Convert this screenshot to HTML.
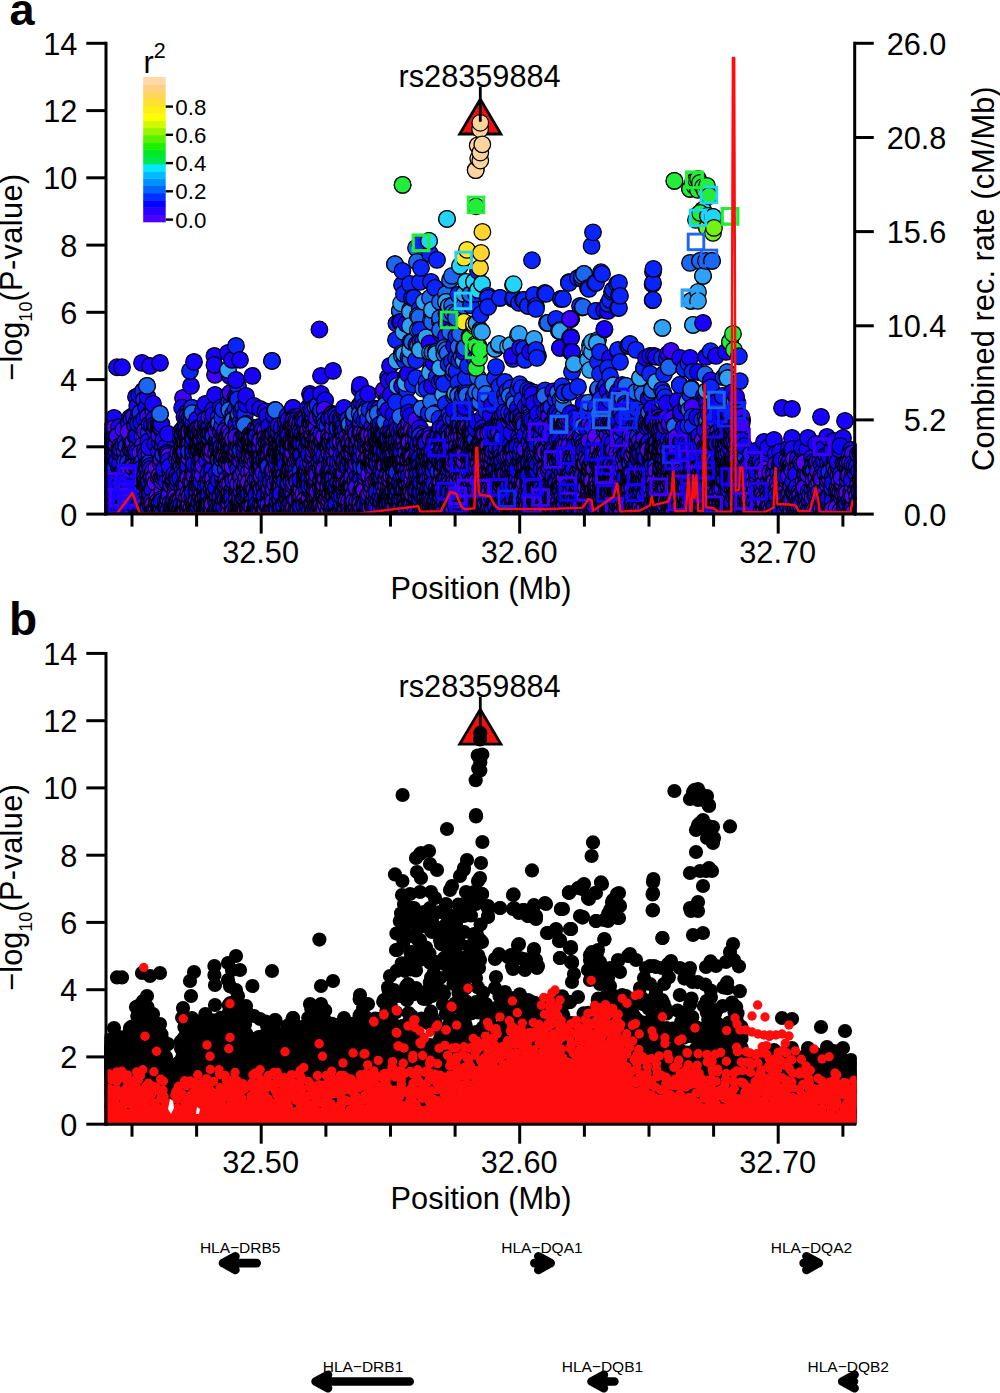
<!DOCTYPE html>
<html><head><meta charset="utf-8"><title>Regional association plot</title>
<style>
html,body{margin:0;padding:0;background:#fff;}
svg{display:block}
text{font-family:"Liberation Sans",sans-serif;fill:#000}
</style></head><body>
<svg width="1000" height="1393" viewBox="0 0 1000 1393">
<rect width="1000" height="1393" fill="#fff"/>
<defs>
<clipPath id="clipA"><rect x="104.5" y="20" width="752" height="494.1"/></clipPath>
<clipPath id="clipB"><rect x="104.5" y="630" width="752" height="494.2"/></clipPath>
</defs>

<defs><marker id="cp" markerUnits="userSpaceOnUse" markerWidth="20" markerHeight="20" refX="10" refY="10"><circle cx="10" cy="10" r="8.3" fill="#fdd49e" stroke="#000" stroke-width="1.25"/></marker>
<marker id="sp" markerUnits="userSpaceOnUse" markerWidth="22" markerHeight="22" refX="11" refY="11"><rect x="3.2" y="3.2" width="15.6" height="15.6" fill="none" stroke="#fdd49e" stroke-width="2.9"/></marker>
<marker id="co" markerUnits="userSpaceOnUse" markerWidth="20" markerHeight="20" refX="10" refY="10"><circle cx="10" cy="10" r="8.3" fill="#ffd52e" stroke="#000" stroke-width="1.25"/></marker>
<marker id="so" markerUnits="userSpaceOnUse" markerWidth="22" markerHeight="22" refX="11" refY="11"><rect x="3.2" y="3.2" width="15.6" height="15.6" fill="none" stroke="#ffd52e" stroke-width="2.9"/></marker>
<marker id="cy" markerUnits="userSpaceOnUse" markerWidth="20" markerHeight="20" refX="10" refY="10"><circle cx="10" cy="10" r="8.3" fill="#ffe620" stroke="#000" stroke-width="1.25"/></marker>
<marker id="sy" markerUnits="userSpaceOnUse" markerWidth="22" markerHeight="22" refX="11" refY="11"><rect x="3.2" y="3.2" width="15.6" height="15.6" fill="none" stroke="#ffe620" stroke-width="2.9"/></marker>
<marker id="cg" markerUnits="userSpaceOnUse" markerWidth="20" markerHeight="20" refX="10" refY="10"><circle cx="10" cy="10" r="8.3" fill="#22ee3a" stroke="#000" stroke-width="1.25"/></marker>
<marker id="sg" markerUnits="userSpaceOnUse" markerWidth="22" markerHeight="22" refX="11" refY="11"><rect x="3.2" y="3.2" width="15.6" height="15.6" fill="none" stroke="#22ee3a" stroke-width="2.9"/></marker>
<marker id="cG" markerUnits="userSpaceOnUse" markerWidth="20" markerHeight="20" refX="10" refY="10"><circle cx="10" cy="10" r="8.3" fill="#74f216" stroke="#000" stroke-width="1.25"/></marker>
<marker id="sG" markerUnits="userSpaceOnUse" markerWidth="22" markerHeight="22" refX="11" refY="11"><rect x="3.2" y="3.2" width="15.6" height="15.6" fill="none" stroke="#74f216" stroke-width="2.9"/></marker>
<marker id="cc" markerUnits="userSpaceOnUse" markerWidth="20" markerHeight="20" refX="10" refY="10"><circle cx="10" cy="10" r="8.3" fill="#22d4fa" stroke="#000" stroke-width="1.25"/></marker>
<marker id="sc" markerUnits="userSpaceOnUse" markerWidth="22" markerHeight="22" refX="11" refY="11"><rect x="3.2" y="3.2" width="15.6" height="15.6" fill="none" stroke="#22d4fa" stroke-width="2.9"/></marker>
<marker id="cl" markerUnits="userSpaceOnUse" markerWidth="20" markerHeight="20" refX="10" refY="10"><circle cx="10" cy="10" r="8.3" fill="#2fa2f6" stroke="#000" stroke-width="1.25"/></marker>
<marker id="sl" markerUnits="userSpaceOnUse" markerWidth="22" markerHeight="22" refX="11" refY="11"><rect x="3.2" y="3.2" width="15.6" height="15.6" fill="none" stroke="#2fa2f6" stroke-width="2.9"/></marker>
<marker id="cm" markerUnits="userSpaceOnUse" markerWidth="20" markerHeight="20" refX="10" refY="10"><circle cx="10" cy="10" r="8.3" fill="#1c66f2" stroke="#000" stroke-width="1.25"/></marker>
<marker id="sm" markerUnits="userSpaceOnUse" markerWidth="22" markerHeight="22" refX="11" refY="11"><rect x="3.2" y="3.2" width="15.6" height="15.6" fill="none" stroke="#1c66f2" stroke-width="2.9"/></marker>
<marker id="cb" markerUnits="userSpaceOnUse" markerWidth="20" markerHeight="20" refX="10" refY="10"><circle cx="10" cy="10" r="8.3" fill="#0a24ff" stroke="#000" stroke-width="1.25"/></marker>
<marker id="sb" markerUnits="userSpaceOnUse" markerWidth="22" markerHeight="22" refX="11" refY="11"><rect x="3.2" y="3.2" width="15.6" height="15.6" fill="none" stroke="#0a24ff" stroke-width="2.9"/></marker>
<marker id="cd" markerUnits="userSpaceOnUse" markerWidth="20" markerHeight="20" refX="10" refY="10"><circle cx="10" cy="10" r="8.3" fill="#1800ff" stroke="#000" stroke-width="1.25"/></marker>
<marker id="sd" markerUnits="userSpaceOnUse" markerWidth="22" markerHeight="22" refX="11" refY="11"><rect x="3.2" y="3.2" width="15.6" height="15.6" fill="none" stroke="#1800ff" stroke-width="2.9"/></marker>
<marker id="cv" markerUnits="userSpaceOnUse" markerWidth="20" markerHeight="20" refX="10" refY="10"><circle cx="10" cy="10" r="8.3" fill="#3c00ff" stroke="#000" stroke-width="1.25"/></marker>
<marker id="sv" markerUnits="userSpaceOnUse" markerWidth="22" markerHeight="22" refX="11" refY="11"><rect x="3.2" y="3.2" width="15.6" height="15.6" fill="none" stroke="#3c00ff" stroke-width="2.9"/></marker>
<marker id="cu" markerUnits="userSpaceOnUse" markerWidth="20" markerHeight="20" refX="10" refY="10"><circle cx="10" cy="10" r="8.3" fill="#5200ff" stroke="#000" stroke-width="1.25"/></marker>
<marker id="su" markerUnits="userSpaceOnUse" markerWidth="22" markerHeight="22" refX="11" refY="11"><rect x="3.2" y="3.2" width="15.6" height="15.6" fill="none" stroke="#5200ff" stroke-width="2.9"/></marker>
<marker id="ck" markerUnits="userSpaceOnUse" markerWidth="20" markerHeight="20" refX="10" refY="10"><circle cx="10" cy="10" r="8.3" fill="#0d00ff" stroke="#000" stroke-width="1.25"/></marker>
<marker id="sk" markerUnits="userSpaceOnUse" markerWidth="22" markerHeight="22" refX="11" refY="11"><rect x="3.2" y="3.2" width="15.6" height="15.6" fill="none" stroke="#0d00ff" stroke-width="2.9"/></marker>
<marker id="kb" markerUnits="userSpaceOnUse" markerWidth="16" markerHeight="16" refX="8" refY="8"><circle cx="8" cy="8" r="7.1" fill="#000"/></marker>
<marker id="kr" markerUnits="userSpaceOnUse" markerWidth="12" markerHeight="12" refX="6" refY="6"><circle cx="6" cy="6" r="4.7" fill="#ff0d0d"/></marker>
<style>.cp{marker:url(#cp)}.sp{marker:url(#sp)}.co{marker:url(#co)}.so{marker:url(#so)}.cy{marker:url(#cy)}.sy{marker:url(#sy)}.cg{marker:url(#cg)}.sg{marker:url(#sg)}.cG{marker:url(#cG)}.sG{marker:url(#sG)}.cc{marker:url(#cc)}.sc{marker:url(#sc)}.cl{marker:url(#cl)}.sl{marker:url(#sl)}.cm{marker:url(#cm)}.sm{marker:url(#sm)}.cb{marker:url(#cb)}.sb{marker:url(#sb)}.cd{marker:url(#cd)}.sd{marker:url(#sd)}.cv{marker:url(#cv)}.sv{marker:url(#sv)}.cu{marker:url(#cu)}.su{marker:url(#su)}.ck{marker:url(#ck)}.sk{marker:url(#sk)}.kb{marker:url(#kb)}.kr{marker:url(#kr)}</style></defs>
<g clip-path="url(#clipA)" id="pa">
<path d="M480.3 99.3L500.9 134.0H459.7Z" fill="#f01010" stroke="#000" stroke-width="2.8" stroke-linejoin="miter"/>
<g fill="none">
<path class="cd" d="M99.6 443.4h0"/>
<path class="ck" d="M101.7 488.8 102.5 492.3"/>
<path class="cv" d="M101 485.7 101.7 501 101.9 464.3 102 465.3 102.1 499.2 102.4 447.9 102.5 486.1 103.4 482.5 103.4 480.6 103.7 451.2 103.7 506.2 103.9 474.1"/>
<path class="cd" d="M101.6 504.1 102.5 480 103.3 509.4 103.6 455.2"/>
<path class="cu" d="M101.1 508 102.4 504.5 102.4 494.3 102.7 441 103.3 507.9 103.7 495.7"/>
<path class="ck" d="M105 441.3 105.3 453.9 105.4 503.1 105.6 514 105.7 510.4 106.5 501.9 107.8 480.2"/>
<path class="cu" d="M104.7 510.1 105.7 490.6 106.4 513.4 106.7 499.9"/>
<path class="cb" d="M104.7 450.1h0"/>
<path class="cd" d="M104.9 472.3 105.6 431.4 105.7 462.4 105.9 479 107.5 501.8 107.5 443.5 107.7 488.7"/>
<path class="cv" d="M104.2 509.6 104.7 474.9 104.8 508.3 105.8 489.6 106.7 505.4 106.8 513.9 107.4 471.7"/>
<path class="cb" d="M109.2 445.4 110.2 434.8"/>
<path class="cv" d="M108.5 504.9 108.7 457.8 109.2 500.2 109.2 450.1 109.8 477.3 109.9 479.8 110.1 506.8 110.9 511.4 110.9 484.3 111.2 491 111.5 466.3 112 449.1"/>
<path class="cd" d="M108 493.4 108.4 492.6 108.8 440.4 109.2 461.2 109.4 456.8 109.5 467.6 109.9 480.6 110.9 429.3 111.1 508.3 111.2 501.8 111.8 444.4"/>
<path class="cu" d="M108 512.9 108.1 508.8 109.4 509.1 110.3 494.2 110.6 508.9 110.8 443.9 111 497.1 111.2 501.7 111.7 502.5 111.7 481.1 111.9 510.2"/>
<path class="ck" d="M108.3 496.7 109.1 486.6 110.1 445.6 111.4 443.8 111.9 503.1"/>
<path class="cv" d="M112.1 505.7 112.1 503.8 112.2 494.6 112.5 448.8 112.9 449.3 113 441.4 113.1 437.5 113.4 510.6 113.9 484.3 114.9 450.2 115.7 445.2"/>
<path class="cd" d="M112.1 457.6 112.7 439.8 113.7 487.4 113.9 510.8 114 417.9 114.1 468.4 114.1 505.2 114.2 505.5 114.3 443.7 114.9 443.2 115.2 509.4"/>
<path class="cu" d="M113.2 505.8 113.5 428.4 113.7 439 114.1 496.1 114.2 482.3 114.6 510.4 115.2 492.2 115.5 462.2 115.8 474.3"/>
<path class="cb" d="M112.8 469.6h0"/>
<path class="ck" d="M112.3 439.2 113.1 493.5 113.1 451.8 115.1 487"/>
<path class="cd" d="M116.6 511 117 367.3 117.2 444.7 118.2 477.7 118.2 512.6 118.3 502.3 118.4 505.9 118.7 447.9 118.9 485.6 119.1 427"/>
<path class="cu" d="M116.1 490.2 116.4 449.1 117.2 507.8 117.4 509.4 119 498.9 119.2 486.7 119.3 459 119.7 503.5 119.8 502.6"/>
<path class="cb" d="M118.7 466.6h0"/>
<path class="ck" d="M116.1 511.4 116.4 451 116.7 437.6 116.8 461.2 116.8 504.2 116.9 444.9 119.2 439.3"/>
<path class="cv" d="M116.2 444.9 116.3 479.9 117.2 436.1 117.3 496.8 117.5 506.1 117.5 479.9 117.5 501.5 118.7 502.4 119.4 448.2 119.9 510"/>
<path class="cu" d="M120.2 445.9 121.2 448.1 121.3 483.3 121.6 474.2 122.3 500.3 122.6 506.1 123.9 510.4"/>
<path class="cb" d="M122.7 467.2h0"/>
<path class="cv" d="M120.1 455.1 120.4 491.4 122.3 501.3 122.8 451 122.9 495.4 123.4 429.7 123.4 504.4 123.6 503.4 123.6 456.1 123.8 501"/>
<path class="cd" d="M120.1 463.8 120.6 473.4 120.6 487.2 120.6 452.7 120.9 449.1 121.5 493.5 121.5 512.2 121.9 495.5 122 367.3 122.2 472.4 123.1 445.3 124 492.9"/>
<path class="ck" d="M120.3 483.1 121.4 513.8 122.9 508.8 123.4 487.5"/>
<path class="ck" d="M124.1 513.9 125.3 452.2 126.2 504.5"/>
<path class="cu" d="M124.1 472.3 124.2 506.6 124.3 498.7 124.3 475 125.4 513.4 125.8 480.7 126.5 513.3 126.8 512.2 127.2 506.7 127.3 452.4 127.8 504.4 128 463.4"/>
<path class="cd" d="M125.4 441.7 125.5 455.1 126.1 502.9 126.2 481.4 126.5 451.5 126.8 512.8 126.9 456.6 127.2 490.7 127.8 497.5 127.9 509.7 128 468.8"/>
<path class="cv" d="M124.5 508.3 124.7 452.1 125 489 125.2 460.9 126.3 463.9 126.5 478.7 126.8 507.7 126.8 503.1 127.2 468.8"/>
<path class="cb" d="M125 461.9 126.5 446.4"/>
<path class="cd" d="M128 494.2 128.7 453.7 129.4 505.7 130.7 503.5 130.9 489.1 130.9 465.3 131.2 478.1 131.3 478.4 131.3 467.7 131.5 425 131.9 455.6 131.9 416.5"/>
<path class="cb" d="M128 462.6 130 417.9 130.3 438"/>
<path class="ck" d="M128.1 511.8 128.7 423.4 130.9 481.5 131.3 419.2 132 502.7"/>
<path class="cv" d="M128.4 470.8 128.5 469.4 129.3 502.6 129.4 500.5 129.6 493.3 129.9 482 130.5 467.1 131.1 443.9 131.4 507.9 131.4 510.2 131.6 512.5 131.7 488.8 131.8 487.8"/>
<path class="cu" d="M128.3 497.7 128.7 431.7 129.2 486.9 129.7 470.7 130.4 448.5 131.4 507 131.9 448.4"/>
<path class="ck" d="M132.6 508.5 132.6 444.5 132.8 467.4 134.3 495.3 134.5 503.9 134.6 509.5 134.8 501.3 135.1 453.2 135.3 469.8"/>
<path class="cd" d="M132.4 478.2 132.8 451.8 133.4 466.5 133.9 496.9 133.9 507.9 133.9 460 134.1 472.9 134.6 463.6 135 425.4 135 450.8 135.9 452.1"/>
<path class="cu" d="M132.4 483.8 132.8 474.8 132.8 465.4 133.1 502.5 133.2 441.9 133.7 466.9 134.5 466.7 134.6 490.6 135.1 513 135.5 453.2 135.7 450.1"/>
<path class="cb" d="M135.7 436.4h0"/>
<path class="cv" d="M132.5 467 132.5 511.9 132.9 503.6 133.9 416.7 134.3 489.3 134.8 481.3 135.1 487.2"/>
<path class="cd" d="M136 396.9 136.2 480.5 136.3 478.7 136.7 467 137.3 406 137.9 497.5 138 444.1 138.4 490.6 138.5 508.9 138.8 512.3 138.8 479.2 138.9 481.7 138.9 498.2 139.4 486.4 139.4 459.9 139.6 473.7 139.8 475.5 140 487.3"/>
<path class="cu" d="M136.1 497.5 137.4 513.1 137.4 483.7 137.8 512.9 137.8 476.2 137.9 504 139.1 458.1 139.1 507.1 139.3 464.3 139.4 481.5 139.4 499.8"/>
<path class="cv" d="M136.7 504.9 138 489.2 138.6 464.4 138.8 425.9 139.8 482.8 140 502.5"/>
<path class="cb" d="M138.8 415.5h0"/>
<path class="ck" d="M136.8 508.6 136.9 420.9 136.9 452.2 136.9 435.8 137.9 423.6 138.2 468.3 139.1 500.1 139.2 395.3 139.8 512.9"/>
<path class="cd" d="M141.3 483.1 141.5 411.7 141.5 490.3 141.8 466.4 142 498.3 142 362.9 142.5 453.5 143.1 511.5"/>
<path class="cv" d="M140.1 489.5 140.3 470.2 140.5 503.1 140.9 509.9 141.3 501.7 141.5 483.6 141.6 464.6 141.8 491 141.9 508.9 142 506.1 142.5 436.6 142.6 499.8 142.8 445.4 143.1 472.5 143.4 498.6"/>
<path class="cu" d="M140.5 452.9 140.6 472.7 141.3 511.3 141.4 472.1 142.9 468.5 143.3 475.7"/>
<path class="cb" d="M140.4 413 142.7 424.9 142.9 460.7 143 390.9"/>
<path class="ck" d="M141.3 422 141.6 506.3 141.8 468.2"/>
<path class="cb" d="M144 399.9h0"/>
<path class="cu" d="M144.5 500.5 144.5 494.9 144.6 484.5 144.7 490 145.2 499.3 146.2 504 146.8 473.8 147.9 474.5 147.9 511.5"/>
<path class="ck" d="M144.3 418.7 145.2 479.6 145.7 477.9 145.8 486 146.2 407.2 146.8 456.5 146.8 483.5"/>
<path class="cd" d="M144.2 499.5 144.6 512 144.8 450.5 145 482.3 145.8 454.4 146 477.5 146.1 470 146.4 507.7 147.1 504.2 147.3 511.8 147.5 396.8 147.9 494.1"/>
<path class="cv" d="M144 508.2 144 504.3 144.7 476.5 144.9 431.2 145.2 509.7 145.5 512.6 145.6 480.2 146 510.3 146.6 483.3 147 469.4 147.2 464.5 147.3 466.8 147.4 480.8 147.5 483 147.8 510 147.8 514"/>
<path class="cm" d="M147 385.9h0"/>
<path class="ck" d="M148.1 478.8 148.1 462.8 150 413.8 150.5 474.7 150.5 477.4 150.7 482.3 151.7 463.8"/>
<path class="cu" d="M148.1 487.7 148.2 506.7 149.5 453.6 149.7 428.4 150 479.8 150.1 494.5 151.3 503.7"/>
<path class="cv" d="M148.1 416.6 149 499.6 149.2 500.9 149.3 483.8 149.8 502 149.9 501.9 150.3 472.6 150.8 471.1 151 488 151 470.7 151.2 445 151.4 472 151.4 506.9 151.7 483.5 151.7 502.3 151.7 494.3"/>
<path class="cb" d="M148.8 432.8 149.8 462.2"/>
<path class="cd" d="M148.3 483.7 148.4 441.2 148.5 476.1 148.5 508.8 149 481 149.2 447.2 149.5 424.1 149.9 492 150 365.9 150.2 465.9 150.5 493.4 150.7 468.9 150.8 505.7 151.2 478.3 151.6 475.9 151.9 424.7"/>
<path class="cb" d="M153.3 410.9 155.7 423.5"/>
<path class="cd" d="M152.4 490.2 152.5 513.3 152.9 511.4 153 403.9 153.5 501.3 154.4 418.6 154.6 431 155.4 471.9"/>
<path class="cv" d="M152 501.8 152.5 506.3 152.8 471.5 154.7 506.5 154.8 479.1 155.7 509.2 155.9 475"/>
<path class="ck" d="M153.8 476.8 154.7 425 154.8 479.7 155.1 481 155.4 443.9"/>
<path class="cu" d="M152.9 504.5 154.1 477.9 154.6 509.4 155.5 482.9"/>
<path class="cd" d="M158.3 508.3 158.7 477.1 158.9 499.5 158.9 451.9 159.4 501.9 159.8 442.4"/>
<path class="cv" d="M156.3 426.8 156.4 507.3 157.1 507.8 158.4 429.4 159.2 434.9 159.4 426.1 159.9 469.9"/>
<path class="cu" d="M156.3 510.9 156.5 467.8 156.7 501.6 157.3 496.6 157.5 514.1 158.1 501 158.5 477 159.7 475.3 159.8 423 159.8 511.5"/>
<path class="ck" d="M158.7 425.8 159.3 503.2 159.8 512.8"/>
<path class="cu" d="M160 425 160.1 422.9 160.2 513.5 160.7 426.1 161.3 512.6 161.5 500.3 161.9 509.4 162.4 491.3 163.6 499.4 163.8 507.7"/>
<path class="cv" d="M160.4 462.8 160.6 427.7 161.1 478.2 161.3 459.4 161.5 507 162 430.6 162 481.5 162.1 509 162.1 428.8 162.9 477.3 163.1 509.8"/>
<path class="cd" d="M160 362.9 160.7 508.1 160.9 427.2 161.3 510.5 161.4 424.1 162.4 445.4 162.6 513.6 163.4 440.3"/>
<path class="cb" d="M163.2 454.5h0"/>
<path class="ck" d="M161.4 499.2 161.6 501.4"/>
<path class="cm" d="M160 413.9h0"/>
<path class="cv" d="M165.9 448.9 166.7 502 166.8 513.7 167.9 455.2"/>
<path class="ck" d="M164.4 475.2 165.1 466.5 165.3 475.9 165.5 506.6 166.3 505.5 167.7 506.1"/>
<path class="cd" d="M164.2 469.5 165.7 501.8 166 446.9 166.7 481.8 166.9 452.7 167.5 454.3 167.7 499.7"/>
<path class="cu" d="M166.6 505.3 167.3 507.3"/>
<path class="cu" d="M168.1 499.2 168.6 456.2 169.5 513.6 170.3 513.3 170.7 487.5"/>
<path class="cb" d="M170.2 470.7h0"/>
<path class="cv" d="M169.2 506.7 169.3 495.3 170.4 479.8 170.6 502.7 171.1 485.3 171.6 513.1"/>
<path class="cd" d="M168 433.9 168.2 511 168.6 460.9 169.7 466.6 171 513.4"/>
<path class="ck" d="M172.1 507.7h0"/>
<path class="cv" d="M173.2 481.6 173.5 514.1 174.3 501.2 174.7 502.2 174.7 501.6 175 510.2 175.1 505.8 175.2 493.4"/>
<path class="cu" d="M173.3 481.9 173.7 511.7 173.8 483.3"/>
<path class="cd" d="M172.9 505.9 173.2 502.6 173.3 479 173.4 480.8 173.5 478.6 174 500.3 174 474.6 174.4 498.8 175.2 513.9 175.3 507.9"/>
<path class="ck" d="M177.6 478h0"/>
<path class="cu" d="M176.1 509.7 176.1 496.8 177 508.8 177.5 500.5 177.9 503.3 178.4 454.4"/>
<path class="cv" d="M176.4 477.1 177 459.1 177.5 483 177.8 508.7 178 501.8 178.2 453 179.1 509.9 179.4 503"/>
<path class="cd" d="M177.1 509.1 177.4 475.2 177.7 508.6 178 479.6 179.1 510.5 179.6 460 180 510.3"/>
<path class="cb" d="M181.6 466.5h0"/>
<path class="cv" d="M180.8 478.6 180.9 431.5 181.1 438.7 181.4 453.2 181.7 507.7 181.9 481.3 182.2 447.6 182.4 451.9 182.8 480.9 183 397.9 183 477.5 183.1 491.9 183.4 495.1 183.7 499.3 183.8 449.1 183.8 456.3"/>
<path class="cu" d="M180.3 511 180.8 499.6 180.8 456.3 181.8 504.1 182 511.4 182.1 481.2 182.6 471.6 182.8 508.6 183.9 429.1"/>
<path class="cd" d="M181 508.4 181.2 478.6 181.4 450.7 182.1 480.8 182.1 407.7 182.1 487.6 182.5 448.6 182.6 512.8 182.7 433.1 182.9 437.9 182.9 452.3 183.2 513.1 183.3 494.5 183.3 428.6 183.3 456.9"/>
<path class="ck" d="M180.3 478.1 181.5 504.1 182.7 434.4 183 455.2 183.7 493.2 184 483.6"/>
<path class="cb" d="M186.6 413.1h0"/>
<path class="cd" d="M184 507.3 184.2 463.9 184.2 459.5 184.5 431.1 184.9 472.6 185.1 459.3 185.4 454.5 185.9 481.8 186.3 430.9 186.8 432.4 186.8 442 187.1 463.1 187.4 463.9 187.9 455.5"/>
<path class="ck" d="M184.1 451.4 184.4 416.8 185.7 425.2 186.2 428 187.6 432"/>
<path class="cu" d="M184.5 443.6 185.1 488.7 186.1 443.1 186.2 451.3 186.2 503.6 186.3 503.7 186.3 481.1 186.8 434.4 186.9 506.9 187.7 445 187.9 485.2"/>
<path class="cv" d="M184 495.3 184.3 441.9 184.4 510.3 185.1 451.6 185.2 502.5 185.4 510.5 185.6 503.7 185.7 442.6 186.6 484.7 186.8 497.4 187.1 416.8 187.5 507.3 187.5 442.4"/>
<path class="ck" d="M188.5 432.7 189.1 418.4 190.2 493.2 190.6 437.5 190.7 452.1 190.7 437.1 190.8 428.8 190.9 444.5 191.1 438.1"/>
<path class="cv" d="M188 472.8 188.2 504.7 188.2 430.9 188.4 437.4 188.4 492.5 188.5 441.7 189 452.5 189.1 442.5 189.3 448.9 189.7 475.5 189.8 499.6 190.3 494.9 190.3 479.1 190.9 438.7 191.1 507.6 191.4 443 191.5 455.4 191.5 509.1 191.7 440.7 191.7 451 191.7 489.1 192 431.9"/>
<path class="cd" d="M188.1 469.4 188.2 466 188.5 512.4 188.5 509.9 188.8 511.8 189.1 455 189.3 511 190.6 440.8 190.9 446 191 385.9 191.2 502.8 191.4 433.9"/>
<path class="cu" d="M188.1 508.4 188.3 477.7 189 506.1 189.1 502.7 189.3 503.9 189.3 430.1 189.3 457.9 189.3 432.2 189.5 496.5 189.7 444.4 190.7 482.1 191.3 508.2"/>
<path class="cb" d="M188.9 451.6 190 370.9 191.5 419.5"/>
<path class="cd" d="M192.1 484.1 192.2 497.3 192.4 475.4 192.6 437.7 192.6 490.9 192.7 442.8 192.8 433.1 193.1 449.2 193.3 503.5 193.4 450.8 193.5 430.6 193.5 417.6 193.8 502.2 193.8 441.1 194 470.6 194 361.9 194.3 425.8 194.3 451.7 194.4 437.1 194.5 427.9 194.7 438.7 195.2 495.4 195.2 504.8 195.6 473.5"/>
<path class="cu" d="M193.3 441.9 193.3 456.4 193.4 455.1 193.5 441.3 193.9 502.7 195.4 440.6 195.5 442.1 195.6 429.9 195.7 438.4"/>
<path class="cb" d="M192 407.9h0"/>
<path class="cv" d="M192.2 431 192.2 513.8 192.3 513.3 192.5 483 193.2 426.3 194 430.9 194.2 437.4 194.3 476.2 194.6 506.6 194.6 505.4 194.7 452.9 194.7 509.5 195 487.6 195.2 440.9 195.2 442.3 195.4 451.5 195.5 431.6 195.8 496.7 196 454.2"/>
<path class="ck" d="M192.6 443.4 192.6 430.1 192.6 492.1 193.3 422.7 193.4 451.5 193.4 464.7 193.6 438.9 194 431.3 194.5 463.7 195.1 430.4 195.2 510.2"/>
<path class="cm" d="M192.3 413.3h0"/>
<path class="cu" d="M196.1 432.2 196.1 513 196.3 490.3 196.4 512.3 197.2 496 197.6 480.5 197.9 439.3 198.3 484.4 198.7 430 198.8 429.9 198.9 454.3 199.1 501 199.2 440.9 199.4 502.3 199.5 495.6 199.7 448.5 199.9 504.3"/>
<path class="cd" d="M196.3 433.7 196.5 436 196.9 436.3 197 419.5 197 434.2 197.1 491.6 197.2 446.1 197.4 434.4 197.5 428.7 198.4 444.9 198.4 508.4 199.3 436.3 199.3 505.5 199.5 511 199.6 437 199.8 451.4"/>
<path class="cv" d="M196.2 501.6 196.3 430 196.4 448.3 196.6 449.9 197 433.1 197.3 506.7 197.3 451 197.4 509.6 197.8 438.1 198.2 486.3 198.5 441.6 198.7 443.5 198.8 446.4 199.1 440.7 199.4 499.5 199.6 485.3 199.8 439.1 200 446.5"/>
<path class="ck" d="M196.3 432.2 196.6 433.1 197.8 429.5 198.1 454.5 198.3 433.8 198.4 506.4 199 443.6 199.1 465.6 199.3 476.4 199.3 502.4 199.3 450.9"/>
<path class="ck" d="M200.6 445.2 200.8 432.5 200.9 441.6 201.8 428.9 201.9 454.9 202.6 479.4 202.8 514.1 203.1 409.9 203.2 445.5"/>
<path class="cu" d="M200.2 438.8 200.7 441.6 201 497.8 201.7 507.5 201.9 443.1 202.3 503.4 202.5 491.8 202.6 499.4 203.3 432.8 203.6 481.8 203.9 428.7"/>
<path class="cd" d="M200 460 200.1 430.5 200.3 473.4 200.7 435 200.7 455.3 200.8 483.7 201.1 458.5 201.4 482 201.7 432.6 202.5 506 202.6 512.8 202.7 432.4 202.7 452.9 203 428.4 203.1 473.6 203.4 508.5 203.6 435 203.6 462.3 203.7 436.3 203.7 448.3 203.9 444"/>
<path class="cv" d="M200.3 431.7 201.3 436.9 201.3 438.7 201.6 439.1 202.2 432 202.2 469.1 202.4 434.3 202.5 425.5 202.5 475.2 202.6 449.3 202.8 507.9 203 459 203.2 500.3 203.5 450.1 203.5 448.1 203.6 465.7 203.7 499.7"/>
<path class="cu" d="M204.3 449 204.3 511.3 204.4 447.8 204.9 503.6 205.1 494.1 205.4 437 206.2 489.7 206.5 493.1 207 483 207.9 497.8"/>
<path class="cb" d="M207.5 457.6h0"/>
<path class="cv" d="M204 435.8 205.1 443.6 205.1 512.9 205.4 446 205.7 436.7 205.7 425.9 205.7 426.2 205.8 447.8 205.9 495.5 206.2 436 206.3 511.5 206.6 483.9 206.7 437.3 206.8 446.5 207 452.7 207.6 504.5"/>
<path class="ck" d="M204.3 447 204.7 448 204.7 432.5 204.8 504.4 205.5 497 205.5 488.4 205.9 486.3 206.1 425.7 207 432 207.3 424 207.4 449.8"/>
<path class="cd" d="M205.3 437 205.4 403.9 205.4 419.4 205.5 511.7 205.7 426.3 205.8 450 205.9 434.1 206.1 429.8 206.4 502.7 206.6 447.1 206.9 503 206.9 511.9 207 512.9 207.1 460.9 207.3 451.6 207.5 504.2 207.7 502.4 207.9 428.9"/>
<path class="cv" d="M208.1 477.7 208.1 428.6 208.4 444.4 208.5 451.7 208.7 430.7 208.8 453.8 209.1 429.5 209.3 499.6 209.4 417.3 209.8 486 209.8 451.6 209.9 442.8 210 439.4 210.7 504.8 211.1 450.5 211.5 435.1 211.5 449.6 211.6 488.4 211.7 451.8"/>
<path class="ck" d="M208.5 510.2 208.9 433.8 210.2 504.4 210.5 509.6 210.6 468.9 211.4 432.4"/>
<path class="cu" d="M208.3 430.7 209.4 434.9 210.7 449.6"/>
<path class="cd" d="M208.1 494.4 208.4 485.5 208.4 504.7 208.5 473.2 208.9 435.2 209 495.3 209.1 428.5 209.4 433.4 209.4 503.9 209.9 438.2 210.5 433.6 210.8 479.3 211.4 503.6 211.6 489.3"/>
<path class="cv" d="M212.3 449.5 212.6 447.1 212.7 483.5 213.5 446.8 213.7 446.1 213.8 447.9 213.9 510.9 213.9 501.1 215 461.2 215 374.9 215.1 480.4"/>
<path class="cd" d="M212.1 470.8 212.4 469.1 212.6 507.8 212.8 410.3 212.8 420.7 212.9 428.9 213 432.8 213.1 496.7 213.5 415 213.5 456.1 213.9 452.6 214.1 505.4 214.4 355.9 214.4 364.9 214.5 508.4 214.8 429.4 215 394.9 215.6 449.6 215.9 446.4 215.9 496.6"/>
<path class="ck" d="M212.8 435.8 213.4 501.3 213.6 490.4 214.3 502.8 214.6 433.3 215 439.2 215.2 507.7 215.7 440.9 215.9 447.9"/>
<path class="cu" d="M212.1 455.4 212.4 509.7 212.5 450.5 212.7 504.2 212.9 478.4 213.7 438.5 213.9 486.2 214.5 513 214.8 491.2 215.9 501 215.9 452.5 215.9 513.2"/>
<path class="cb" d="M213.5 435.8h0"/>
<path class="cd" d="M216.1 511.4 216.4 486.3 216.6 446.2 217 430.5 217.1 439.2 217.2 502.3 217.3 486.6 217.3 440.5 217.5 448.1 217.6 481.2 217.8 444.4 218.2 431 218.8 446.7 219.1 434.6 219.4 508.7 220 451.8"/>
<path class="cu" d="M217 490.9 217.3 495.4 219 493.4"/>
<path class="cv" d="M216.3 431.1 217 510.1 217.9 458.5 218.4 425.7 218.6 445.5 218.6 460.9 218.7 509.4 219 460 219 489.3 219.2 476.3 219.3 505.9 219.6 451.7 219.8 502.4 219.9 444.5"/>
<path class="ck" d="M216 487.2 216.5 473.5 217.8 444.9 217.9 448.9 217.9 508.5 218.6 480.2"/>
<path class="cb" d="M218.7 417 219 459.8"/>
<path class="cm" d="M219 423.1h0"/>
<path class="ck" d="M220.1 450.2 220.2 508.4 220.6 407.8 221.3 459.9 221.7 449.9 222.5 449.4 222.9 457.5 223.9 440.8"/>
<path class="cu" d="M220.2 443.4 220.3 509.7 220.9 503.1 221.2 492.8 221.7 455.4 221.8 451 222.1 499.5 222.3 458.5 222.3 500.2 222.3 499.8 222.3 442 222.4 446.5 222.5 507.8 223.2 508.7 223.3 481.6"/>
<path class="cv" d="M220.5 440.8 220.7 501.6 220.8 452.2 220.9 431.8 221 507.4 221.5 512.5 222.5 475.8 222.7 508.3 223.7 497.8 223.9 494.1"/>
<path class="cd" d="M220.5 499.7 220.5 496.1 220.9 447.3 221.3 454.3 221.6 453.5 221.7 446.9 221.7 508.5 222.6 457.8 223 434.5 223.1 492.2 223.2 513.3 223.4 499.7 223.8 462.8"/>
<path class="cb" d="M220.2 469.1 222.1 426.2 222.2 417.2 222.7 460 223.1 409.5"/>
<path class="cd" d="M224.4 485.7 224.5 513.2 224.6 453.4 225.2 455.4 225.4 445.5 225.4 495.6 225.9 512.3 226.6 463.7 226.9 489.3 227 485.6 227.1 454 227.2 505.9 227.5 501.7 227.9 511.3 227.9 442.3 228 513.8"/>
<path class="cu" d="M225.2 509.2 225.6 449.6 225.7 481.3 226.2 493.4 226.9 506.4 227.6 426.8"/>
<path class="ck" d="M224.2 447.9 224.4 506.5 224.8 497.3 226.2 452.8 226.3 448.4 226.4 458.4 227.2 446.7 227.9 462.5"/>
<path class="cb" d="M225.7 469.1 225.8 468.9"/>
<path class="cv" d="M224 484.1 224 457.2 224.5 447.2 224.7 457.1 224.8 436.6 225 430.9 225.5 484.3 225.7 499.5 226 448.5 226.3 449.1 226.3 437.8 226.5 445.7 226.7 481.9 226.8 478.7 226.9 458.3 227.3 462.6 227.5 436.5 228 484.1"/>
<path class="ck" d="M228 501 229.3 509.8 230.4 404.4 231.7 435 231.9 502.5"/>
<path class="cd" d="M228 352.9 228.2 504.9 228.3 442.9 228.5 432.1 228.7 501.3 228.7 459 228.9 447.4 229.2 507.5 229.2 440.7 229.5 464.2 229.5 449.4 229.9 435.5 230 376.2 230 455.2 230.5 436.3 230.6 470.8 231.1 462.4 231.5 448.1 231.7 430.4"/>
<path class="cb" d="M228.7 394.8 229.1 402.2 232 401.9"/>
<path class="cv" d="M228.5 496.8 228.5 508.1 229.2 435.3 229.5 431.3 229.8 452.7 230.4 502.2 230.4 392.9 230.5 480.8 230.5 439.1 230.5 511.1 230.7 435.3 231.3 458.2 231.6 499.7"/>
<path class="cu" d="M228.5 513.3 229.2 459.5 229.3 502.9 229.4 452.7 229.4 497.8 229.7 492.2 229.9 484.2 229.9 465.5 230.4 455.4 230.6 498.4 231.2 459.6 231.2 449.3 231.7 449.8 231.7 491.1"/>
<path class="cm" d="M229.4 410h0"/>
<path class="cl" d="M228 369.9h0"/>
<path class="cv" d="M232.2 499.7 232.4 511.4 232.6 458.2 232.7 478.3 232.8 455.4 232.8 505.7 232.9 458.7 233.5 498.4 233.5 440.4 233.6 457.3 233.7 511.4 233.8 438.8 234.4 487.7 234.4 457.2 234.4 438.7 234.4 506 234.5 457.8 234.8 480.6 234.8 487.4 234.9 436.2"/>
<path class="cb" d="M233.2 414.1 235.7 409.7"/>
<path class="cd" d="M232 359.9 232 460.3 232.5 489.5 232.5 454.7 232.7 441.3 233 493.5 233.1 480.6 233.7 449.2 234.5 507.8 234.9 459.8 235.1 502.6 235.4 468.2 236 502"/>
<path class="ck" d="M232.2 497.6 232.8 448.7 232.9 505.2 233 461.3 233.5 440.8 234.6 461.8 235 453.1 235.6 396.2 235.8 473.9"/>
<path class="cu" d="M232.5 466.9 232.9 438.9 233.5 510.7 234.1 457 234.7 455 235.5 455 235.9 512.5"/>
<path class="cm" d="M232.9 420.4h0"/>
<path class="ck" d="M236.1 424.2 236.6 397.9 236.8 465 236.8 490.8 236.9 495.9 237.1 509.8 238.5 458.1 238.9 510.2 239 456 239.6 404.9"/>
<path class="cb" d="M236 345.9 236.9 432.4 238 385.9 238 399.4 238.1 416.6 238.9 458.8 239.7 456.3"/>
<path class="cu" d="M236.4 479.3 236.6 455.2 236.7 459.7 237.7 460.6 239.1 510.3 239.4 481.3 239.6 448.5 239.8 459.2 239.9 486.3"/>
<path class="cd" d="M236 379.9 236 438.1 236.2 505.9 236.4 463.6 236.8 444.7 237.7 441.7 237.8 491.1 238 469.2 238 499 238.1 457.7 238.2 453.9 238.7 513 238.9 489.1 238.9 442.7 239.5 432.6 239.9 500.5 239.9 442.9"/>
<path class="cv" d="M236.1 456.4 236.3 455.1 236.3 454.4 236.4 436.9 237 499.3 237.1 451.1 238 483.7 238.5 502.8 238.5 506.8 238.9 447 239.2 506 239.6 503.1"/>
<path class="cm" d="M238.7 414.1h0"/>
<path class="cu" d="M240.4 459.5 240.9 447.1 241.9 437.4 242.6 511.7 243.4 496.6 243.5 508.1 243.9 440.7"/>
<path class="cd" d="M240 359.9 240.5 422 240.6 506.5 240.7 459.4 241 506 241 510.2 241.2 411.8 241.2 461.7 242 488.3 242 511.7 242.1 507.2 242.2 481.1 242.4 453.2 242.6 483.4 243 455.6 243 501.2 243.9 421.8"/>
<path class="ck" d="M242.7 452.3 243.1 450 243.4 508.9 243.7 438.1 243.7 454.9"/>
<path class="cv" d="M240.1 494.9 240.2 456.8 240.2 455.6 240.3 475.9 240.5 499.7 241.1 460.9 241.2 476.2 241.3 451.2 241.6 439 241.6 491.8 241.7 485.1 242.4 500.7 242.6 455.8 242.8 501.8 243.8 471.5"/>
<path class="cb" d="M240.8 450.3 243.2 407.4"/>
<path class="cb" d="M244.5 452.4 245 414.5 245.1 464.8 247.5 403"/>
<path class="ck" d="M244.5 488 244.5 501.6 244.8 490 245.1 440.4 245.2 490.1 246.3 423.7 246.4 404.2"/>
<path class="cv" d="M244.1 509.2 244.1 443.1 244.2 498.1 244.4 507.7 245 493.5 245.5 483.1 245.7 451.8 246.1 492.6 246.3 427.4 246.4 450.9 246.8 498.5 246.9 512.2 247.3 492.8 247.5 489.9 248 489.7"/>
<path class="cu" d="M244.2 448 244.4 511.6 244.5 493.9 245.7 511 245.8 501.6 246.5 477.2 246.7 459.2 247.3 500.7 247.3 453.5 248 508.2"/>
<path class="cd" d="M244.2 435.6 244.5 497.4 244.7 454.9 244.8 452.8 245.3 445.8 245.8 440.7 245.9 434.5 246 395.9 246.1 495.4 246.3 467.1 246.7 442.7 247.2 436.9 247.3 487.4 247.9 511 247.9 455.2 247.9 461.8"/>
<path class="cm" d="M244.7 424.9h0"/>
<path class="cv" d="M248.1 506.6 248.3 486.4 248.6 487.2 248.8 472.7 248.9 501.7 249.2 499.4 249.6 444.6 250.3 450.3 250.4 446.6 250.7 493.3 250.9 488.6 251.2 511.8 251.4 442.7 251.5 441.4 251.8 455.8 251.8 490.1"/>
<path class="cd" d="M248.8 440.6 249.7 439.5 249.9 441.4 250.2 505.5 250.4 503.4 250.5 479.4 250.5 482.7 250.6 513.1 250.9 447.9 251.4 447.3 252 501.5"/>
<path class="cb" d="M249.7 453.8h0"/>
<path class="ck" d="M248.1 495 248.9 499.2 249 494 249.6 436.4 249.7 507.6 249.9 460.9 250.1 453 250.6 435.8"/>
<path class="cu" d="M248.7 482.6 248.8 509.3 249.6 457 249.9 512 250.2 504.9 250.4 434.4 250.9 453.4 251.1 439.7 251.6 434.7 251.6 488.8 251.8 501.4"/>
<path class="cb" d="M253.9 449.5 255.9 471"/>
<path class="ck" d="M252 460.6 252.2 500.2 252.4 461.2 252.5 451.1 252.6 493 253.9 457.5 254.5 453.1 255.3 442.7 255.7 452.4"/>
<path class="cd" d="M252 458.5 252.1 498.5 252.4 375.9 252.5 498.8 252.5 496.4 252.7 501 253 489.9 253.4 435.2 253.7 488.7 253.8 438.8 254 405.9 254.1 464.7 254.2 480.1 254.4 479.9 254.4 450.8 254.7 506.6 254.9 507.6 254.9 451.6 255 429.7 255.4 456.4 255.5 428.9 255.7 476.5"/>
<path class="cu" d="M252.1 469.9 252.6 441.3 252.6 485.1 252.7 486.6 253.5 513.4 253.7 500.6 253.8 478.3 254.1 435.6 254.6 508.8 254.9 513.7 254.9 437.8 255.4 511.4 255.5 486.4 255.7 460.6"/>
<path class="cv" d="M252 436.9 252.2 506.6 252.2 462 252.3 438.7 252.3 445 252.8 458.3 253.1 485.7 253.4 442.5 253.9 454.9 254.2 489.6 254.9 509.6 255 449.9 255 447.4 255.1 434.1 255.1 444.7 255.5 507.7 255.5 442.8 255.5 462.3 255.6 479.9 255.6 445.9 255.7 435.6 255.9 440.2"/>
<path class="cb" d="M259.7 429.5h0"/>
<path class="cu" d="M256.2 493.9 256.4 437.4 256.7 504.3 258.2 441.4 258.2 482.1 258.9 487.2 259.8 458.8 259.9 442.5 259.9 507"/>
<path class="cd" d="M256 503.5 256.1 442.6 256.1 507.3 256.4 449.8 256.7 447.9 257.2 478.1 257.3 441.4 257.9 455.3 258 443.4 258 488.6 258.2 495.5 258.4 487.1 258.6 427.1 258.8 493.9 259.2 438.7 259.5 440.3 259.6 433 260 454.6"/>
<path class="cv" d="M256.1 508.3 256.7 508.6 256.9 510.3 257.2 437.7 257.3 500.5 257.6 498.2 257.8 459.7 258.5 429.7 258.6 436.7 258.8 493.2 259.2 453.3 259.3 459.7 259.6 483.2 259.7 486.2"/>
<path class="ck" d="M256.2 495.9 256.5 436.3 257.1 504 257.6 509.9 257.6 470.4 258.7 511.6 259.3 443.3 259.7 468.6"/>
<path class="ck" d="M260.1 513 260.6 439 260.6 452.7 261.1 503.5 261.5 458.4 261.5 426.6 262.7 511.3 263.7 464.2"/>
<path class="cd" d="M260 408.9 260.1 462.7 260.6 466.8 260.6 435.2 260.7 451.7 260.8 501.8 261.1 489.1 261.7 468 261.8 448.8 261.8 438 262.1 449.4 262.2 453.5 262.3 480.2 262.5 448.6 262.6 429.7 262.9 485.4 263 447.9 263.6 442.9 263.7 454.1 263.8 481.4 263.9 461.7"/>
<path class="cu" d="M260.4 513 260.4 460.1 260.6 489.5 261.2 474.7 261.4 492.7 261.7 497.3 262.7 505.3 263.4 471 263.5 510.9"/>
<path class="cv" d="M260.2 447.5 260.4 440.3 260.7 440.5 260.8 457.5 261.4 494.1 261.5 476 261.5 464 261.6 489.5 261.7 459.3 262 454.7 263.3 472.8 263.5 513.4 263.9 459.8"/>
<path class="cv" d="M264.1 513.4 264.1 499.4 264.2 488.1 264.4 450 264.7 443.9 265 489.4 265 432.9 265 496.9 265.2 456.2 265.7 460.7 265.7 507.5 265.9 506.6 266 450.8 266.2 510.1 267 440.5 267.3 511.8 267.5 504.1 267.6 436.5 268 425.9 268 502.2"/>
<path class="cd" d="M264.2 450.7 264.2 459.5 264.3 486.2 264.5 452.9 265.1 459.3 265.1 502.5 265.3 443.4 265.4 501.3 265.6 411.4 265.8 507.5 265.8 459.3 266.2 448.1 266.7 492.4 266.8 461 267 415.7 267 490.4 267.4 440.4 267.6 453"/>
<path class="cb" d="M267 464.6h0"/>
<path class="cu" d="M264.2 447.6 264.7 438.9 265.3 430.8 265.5 509.7 265.9 437.1 266.3 484.6 266.5 454 266.5 458.3 266.9 502.3 267.7 459.8"/>
<path class="ck" d="M264.2 459.4 264.8 495.9 266.2 504.3 266.3 452 266.4 475.8 266.4 442.4 266.5 458.6 266.6 462.5 267.3 463.1"/>
<path class="cd" d="M268.1 485.6 268.1 452.5 268.2 448.6 268.3 459.6 269.6 500.6 270.2 479.2 270.4 437.9 270.7 460.3 270.8 430.3 270.9 455.8 271.9 439.3 271.9 507.9"/>
<path class="cu" d="M268.9 501.1 269.1 495.6 269.1 441.1 269.2 434.4 269.4 448.1 270.2 504.5 270.4 497.8 270.7 444.8 270.7 454.2 271.2 468.2 271.6 499.8 271.9 492.2"/>
<path class="cv" d="M268.3 506.6 268.4 504.8 268.8 442.6 268.9 456.5 269.1 492.5 269.1 445.1 269.6 488.8 269.7 513.9 269.8 448.7 270.6 509.9 270.9 445.9 270.9 478.9 271.8 464.5 271.8 463.9"/>
<path class="ck" d="M269.1 426.4 269.2 462.9 269.3 471.7 270.6 435.4 270.8 482.4 270.9 511.1 271 459.9 271.8 494.8 271.8 447.4 271.8 460.8"/>
<path class="cb" d="M268.5 466.6h0"/>
<path class="cu" d="M273.3 509.9 273.5 451.9 275.1 484.1 275.1 448.8 275.2 448.9 275.4 448.5"/>
<path class="cb" d="M272 360.9h0"/>
<path class="ck" d="M272.2 434.8 272.3 471 272.9 506.1 273.1 456.5 273.5 488.6 273.6 415.6 274.6 447.5 275.6 432.2 275.7 456.2 275.7 473.9 275.9 441.8"/>
<path class="cd" d="M272.9 510.5 273.6 490.1 273.8 436.9 273.9 435.4 274 485.6 274 501.1 274 443.2 274.1 467.6 274.1 477.6 274.7 443.4 274.9 505.2 275 409.9 275.4 503.5 275.8 450.2 275.9 462.3 275.9 440.8 275.9 457.5 276 443.9"/>
<path class="cv" d="M272 451 272.2 511.1 272.3 498.7 272.3 507.4 272.7 438.1 273.2 506.4 273.2 500.9 273.3 511.2 273.5 434.4 273.7 470 273.9 489.2 274.8 457 274.9 452.9 274.9 457.8 275 483.7 275 509.9 275.7 453"/>
<path class="cm" d="M275.5 410.3h0"/>
<path class="cv" d="M276.2 432.6 276.3 427.3 276.4 440.9 277 507.5 277 453.6 277.3 504.2 277.5 510.7 277.7 499.5 277.9 432.1 278.1 467.9 278.3 429.4 278.4 445.2 278.4 453.4 278.8 446.5 278.9 512.3 279 445.5 279.4 449.3 279.6 487.2 279.8 452.8"/>
<path class="ck" d="M276.3 437.2 276.4 448.6 277.1 449.4 277.1 452.6 278.1 506 278.7 449.9 278.7 441.8 279 461.9 279.2 442.7 279.3 479.4"/>
<path class="cb" d="M279.7 457.2h0"/>
<path class="cu" d="M276.8 469 277.1 453.9 277.2 513.6 277.3 438.4 277.4 432.2 277.7 474.6 278.2 508.5 278.2 430.6 278.4 491.7 278.5 455.8 278.9 498 279.7 457.4 279.8 471.2 280 459.3"/>
<path class="cd" d="M276.2 431.9 276.3 430.7 276.7 508.1 276.9 463.2 277.1 451.4 277.4 509.9 277.5 457.7 277.7 501.1 277.7 495.4 277.8 480.3 278.2 446.2 278.2 446.4 278.4 431.9 278.5 432.1 278.6 489.9 278.6 452.9 278.7 425.8 279.1 442.9 279.3 487.1 279.6 472.4 279.7 499.7"/>
<path class="ck" d="M280.6 470.7 280.8 456.9 281.7 448.1 282.5 469.5 282.6 452.7 283.6 429.8 283.9 457.2"/>
<path class="cu" d="M280.3 481.5 280.7 442.2 280.9 477.8 280.9 443.1 281 497.9 281.1 512.5 281.2 451.9 281.7 503.1 281.7 478.4 281.9 503.2 282.4 494.8 282.6 510.9 282.9 430.1 283.7 457.8"/>
<path class="cv" d="M280.4 493.1 280.4 509.1 280.5 462.1 280.7 486.1 280.7 445.1 280.8 500 281.2 486.9 281.5 499.5 281.6 455.3 281.7 445.3 281.8 453.1 281.8 509.1 282 428.3 282.3 440.6 282.3 433.7 282.5 432.8 282.6 434.5 283.1 512.2 283.1 508.5 283.1 494 283.2 472.4 283.3 464.7 283.4 496.3 283.6 487.2 283.6 511.7 283.7 430.7 283.9 457.2"/>
<path class="cd" d="M280.2 458.7 280.3 451.6 280.5 458.3 280.6 446.4 280.6 455.2 280.6 499.7 281 456 281 493.9 281.1 476.8 281.1 446 281.2 475.3 281.4 451.3 281.5 454.4 281.5 477.2 281.6 507.3 281.7 427.5 281.9 454.1 282 473.7 282.2 454.5 282.4 438.3 282.9 467.1 283.1 457.5 283.4 455.5 283.6 503.9 283.7 442.6 283.8 475 283.9 444.9 283.9 461.4"/>
<path class="cb" d="M283.5 442.4h0"/>
<path class="cu" d="M284.3 450.4 285 451.2 285.1 458.4 285.3 457.1 285.4 437.2 285.7 422 286.2 442.2 286.3 445 286.5 444.2 286.6 508.2 287.2 446.2 287.8 442.6"/>
<path class="cv" d="M284.1 444.4 284.1 443.6 284.2 507.3 284.3 505.4 284.4 443.1 284.5 475.3 284.7 460.8 285 457.9 285.6 444.4 285.7 479.3 285.8 441.6 285.8 480.6 285.8 455.6 285.8 502.3 285.9 432.5 286.1 501.4 286.2 427.8 286.4 453.4 286.6 448.5 286.6 493.6 286.8 510 287 502.7 287.4 447.5 287.4 497.1 287.7 492.4 287.8 445.9 287.8 468"/>
<path class="cd" d="M284.1 506.1 284.7 453.4 284.8 481.4 285.1 462.7 285.4 457.6 285.5 443.2 286.7 502.9 286.8 513.5 287.8 452.4 287.8 444.7"/>
<path class="cb" d="M285.4 445.9 286.9 424.6"/>
<path class="ck" d="M284.5 440.9 285.5 465 287.1 442.5 287.3 415.8 287.7 452.7 287.7 435.8 288 428.3"/>
<path class="cu" d="M288 475 288.2 499.8 288.2 481.7 288.6 510.9 289.4 494.4 289.5 513.2 289.6 508.8 289.6 512.9 290.5 447 290.5 506.7 291.1 456.9"/>
<path class="ck" d="M288.9 473 288.9 490.8 290 502.2 290.5 443.1 291 435 291.3 501.2 291.4 446.9"/>
<path class="cb" d="M290.4 465.4h0"/>
<path class="cv" d="M288.1 432.5 288.1 443.9 288.3 455 289 474.9 289.1 442.9 289.2 469.2 289.2 447.2 289.6 476.7 289.7 470.4 289.7 442.1 290.1 441.4 290.2 452.8 290.4 454.3 290.4 455.9 290.6 441.5 290.8 485.8 290.9 428.5 291.1 491.3 291.2 433 291.5 449.4 291.5 434.3 291.6 429.7 291.9 452.1"/>
<path class="cd" d="M288.1 484.1 288.2 449.4 288.6 419.9 288.6 483.6 288.9 435.6 289.1 505.5 290.1 442.9 290.1 442.5 290.2 443.9 290.5 471 290.8 459.4 291 458.3 291.1 443.2 291.1 503.7 291.2 441.7 291.3 455.3 291.4 480.5 291.5 481.2 291.6 492.1 291.7 509.9 292 425"/>
<path class="cd" d="M292.1 447.1 292.4 474.4 292.4 472 292.5 409.3 292.7 446.5 292.8 508 293 407.9 293 407.9 293 450.9 293.3 442 293.3 448 293.7 493.2 293.7 425.4 293.7 512.2 294.1 464 294.1 424.9 294.1 417.2 294.5 436.3 294.5 505.9 294.5 508.9 294.9 451.9 294.9 438 295 485.1 295.1 511.8 295.1 444.6 295.2 458.1 295.7 469.5 295.7 452.6 295.9 455.6 295.9 429.7"/>
<path class="ck" d="M292.7 444.2 293.5 419.3 293.6 444.3 293.9 428.9 294 430.8 294.7 452.9 294.9 469.2 295.9 495.6"/>
<path class="cv" d="M292.1 458.1 293.1 444.1 293.1 494.3 293.2 433.7 293.3 485.6 293.5 451.9 293.5 444.7 293.6 477.7 293.6 432.7 293.7 472.4 293.8 440.1 293.9 430.2 294 419.6 294 468.8 294.2 500.2 294.3 483.1 294.4 429.8 294.5 458.5 294.6 501 295.2 457.4 295.3 510.4 295.4 473.9 295.6 430 295.6 441.1 295.7 433.7 295.8 428.3 295.9 452.1"/>
<path class="cu" d="M292.5 446.1 292.9 428.1 293 452.3 293.1 507 293.4 444.9 293.8 510.2 293.8 508 293.9 426.8 295.1 427.9 295.5 464.2"/>
<path class="cd" d="M296.3 440 296.4 446.5 296.6 469 296.9 459.7 296.9 447.8 297.6 434.3 297.6 476.8 298.1 416.8 298.4 444.4 298.7 443.6 298.8 453.4 299 421.7 299 511 299.1 452.8 299.2 436 299.3 430.7 299.6 475.5 299.6 433.4"/>
<path class="cu" d="M296.4 445.3 296.4 476.8 296.6 446.3 297.1 502.9 297.8 454.2 298 431.2 298.4 440.8 298.6 445.5 299 504.4 299.1 439.4 299.5 486.9 299.7 427.8 299.9 465.4"/>
<path class="cb" d="M298.1 456.5 298.6 431.8"/>
<path class="ck" d="M296.2 444.1 296.2 509.9 296.3 420.2 296.7 480.6 297.3 438.2 297.3 426.6 297.8 450 299 427.6 299.2 484.2 299.4 429.9 299.8 511.1"/>
<path class="cv" d="M296.1 435.8 296.1 447.5 296.2 427.4 296.3 499.9 296.4 449.8 296.5 514 296.8 447.2 296.8 436.3 297.2 423 297.3 447.4 297.3 481.9 297.4 439.2 297.5 431.8 297.6 441.7 298.2 507.5 298.4 509.8 298.4 492 298.6 445.5 298.6 458 298.8 433 298.9 443.2 299.4 425.3 299.5 426.6 299.6 442.8 299.7 489.2 299.7 440.5"/>
<path class="cv" d="M300.2 493.4 300.3 500.3 300.3 457.1 300.4 421.9 300.9 451.9 301 510.6 301.1 442.2 301.8 455.7 301.8 486.5 301.8 452.5 302.1 473 302.2 499.5 302.3 499.7 302.3 508.8 302.4 495.3 302.5 483.1 302.7 511 302.8 511.6 303 435.1 303.2 491.8 303.2 450.4 303.2 509.2 303.3 504.4 303.5 470.9 303.6 505.7 303.9 427.5"/>
<path class="cd" d="M300.2 495.1 300.6 443.6 301.8 444.6 301.9 439.1 302.2 427.7 302.4 437.3 302.5 459.6 302.7 448.9 302.8 496.1 302.8 423.4 302.9 433.1 302.9 442.4 303 433.7 303 486.5 303.4 473.9 303.5 498.6 303.5 418.1 303.6 446.5 303.7 426.4 303.8 439.7 303.9 450.5"/>
<path class="cu" d="M300.1 498.7 300.4 442.4 300.5 506.4 300.8 441.7 300.9 498.5 301 503.5 301.4 489.2 302.1 418.7 302.7 474.5 303.3 478.6 303.4 493.6"/>
<path class="cb" d="M300.6 470.4 301.5 455.7 302.7 429"/>
<path class="ck" d="M300.5 480.3 300.5 431.6 300.5 479.4 300.6 508 300.9 443.5 301 506.3 301.9 454.8 302.3 434.7 302.6 433.3 302.8 420.4 303.9 462.6"/>
<path class="cv" d="M304.2 504.2 304.4 446.2 304.4 442.6 304.7 479.8 304.8 473.5 304.8 442.5 305.2 483.4 305.7 513.3 306.2 473 306.2 446.8 306.3 415.8 306.4 436.5 306.5 415.2 306.8 455.1 307 494.5 307.3 451.7 307.5 425.4 307.6 484.8 307.7 506.1"/>
<path class="ck" d="M304.7 437 304.8 472.5 304.9 441.1 305.3 467.5 305.4 441.1 305.5 472.8 305.7 484.4 306 505.1 306.7 489.7 306.9 439.2 307.1 445"/>
<path class="cu" d="M304 501.6 304.2 502.4 304.4 500.5 305.3 419.6 305.5 439.1 305.7 418.3 305.9 439.2 306.5 440.6 306.5 473.5 306.7 437 307.3 439.5 307.7 441.1 307.7 510.1 307.7 428.2"/>
<path class="cd" d="M304.2 463.7 304.3 505.3 304.4 440.5 304.4 444.6 305.3 435.4 305.4 428.9 305.4 422.1 306.5 469.8 306.8 447.9 306.8 431.8 306.9 512.3 306.9 475.6 307 434.4 307 434.8 307.1 504.1 307.2 481.6 307.4 437.2 307.6 471.4 307.9 464.7 308 433.5"/>
<path class="cb" d="M309.8 453.3h0"/>
<path class="cd" d="M308.1 440.2 308.2 407.9 309.5 500.3 309.5 503 309.6 446.5 309.8 426.5 310 393.9 310.4 435.8 310.8 510.4 311.6 446.1 311.8 441.4"/>
<path class="cv" d="M308.1 441.6 308.1 437 308.1 505.5 308.8 480.5 309 500.3 309.4 443 309.6 493 309.6 432.9 309.6 412.7 309.8 476.6 309.8 500.1 309.9 423 310 472.2 310.1 439.2 310.3 481.9 310.5 478.4 310.5 500.3 310.6 476.2 310.8 462.4 310.8 434.1 311.2 444 311.4 442.5"/>
<path class="cu" d="M308 441.8 308.1 430.1 308.5 476.9 308.8 440.2 308.9 437.9 308.9 484.8 309.6 498.7 309.9 443.1 310.3 490.5 310.4 453.5 310.5 426.6 310.5 505.6 310.8 426.8 311.4 489.6 311.6 505.6"/>
<path class="ck" d="M308.7 481.5 309 454.4 309.3 478.7 309.4 486 309.8 440.1 309.9 510 310.5 422 310.6 415.4 311.4 399.5 311.4 396.1 311.8 435.8"/>
<path class="cm" d="M311.9 422.7h0"/>
<path class="cu" d="M312.2 418.6 313.1 480.5 313.2 513 314.7 511.7 314.7 443.9 315.8 495.7"/>
<path class="cb" d="M314.7 445.6h0"/>
<path class="ck" d="M312.6 415.7 313.2 440.3 313.4 417.3 313.4 484.7 313.8 438.5 314.1 431.8"/>
<path class="cd" d="M312 409.4 312.4 473.4 312.4 486.1 312.9 458.7 313.6 473.5 313.6 440.8 313.8 508.6 313.8 438 313.9 445.7 314 425.1 314.1 450.1 314.4 483.8 314.5 440.9 314.6 430.7 314.9 480.9 314.9 463.9 315.1 486.7 315.2 438.4 315.3 442.2 315.4 501.6 315.5 502.7 316 500.2 316 440.5"/>
<path class="cv" d="M312.3 505.3 312.5 434.5 312.7 504.4 312.8 511 313.1 512.7 313.3 442.9 313.4 454.6 313.9 450.4 314 468.4 314 510.4 314.1 430.2 314.3 476.2 314.4 498.5 315 489.7 315.1 440.8 315.2 505.8 315.2 438.8 315.7 499.2 315.8 447.8"/>
<path class="cm" d="M315.6 406.9h0"/>
<path class="ck" d="M316 471.7 316.2 430.8 316.2 512.4 316.4 475.1 316.7 432.7 317.1 422.3 317.3 499.8 317.6 433.7 317.9 499.1 318.5 509.7 318.6 469 318.8 435.5 319.6 441.7 319.8 443.5"/>
<path class="cd" d="M316.2 466.8 316.8 440.3 317.2 485.2 317.2 445.8 317.7 444.7 317.8 442.8 317.9 512.9 317.9 443.1 318.1 445.5 318.2 449.3 318.2 469 318.6 473.6 318.9 510.3 319.1 502.1 319.1 440.7 319.3 462.2 319.4 329.5 319.6 444.5"/>
<path class="cu" d="M316.3 446.1 316.5 480.3 317.3 438.2 317.4 496 317.6 414.8 318.5 441.8 318.6 492.5 318.9 513.3"/>
<path class="cv" d="M316.1 508.6 316.2 472.9 316.4 421.9 316.4 426.6 316.8 479.9 317 490.2 317 474.9 317 418.2 317.3 506.7 317.3 443.6 317.6 492 317.9 444.4 318.1 504.8 318.5 454 318.6 433.9 318.7 438.8 318.7 453.9 319.5 503.8"/>
<path class="cb" d="M317.5 405.6h0"/>
<path class="cv" d="M320.1 444 320.1 506.6 320.1 445.8 320.5 501.5 320.6 469.1 320.8 485.5 321.1 415.7 321.3 481.4 321.5 441.3 321.8 503.9 321.9 496.4 322 489 322.4 470.9 322.5 505.5 322.6 493.3 322.6 449.3 322.8 486 322.9 442.9 323.5 442.6"/>
<path class="ck" d="M321.9 487.9 322.6 485.7 322.8 483.6 322.9 440.5"/>
<path class="cu" d="M320.3 455.1 320.7 487.6 321.2 513.3 321.2 502 321.3 505.4 321.4 417.5 321.7 437.1 321.7 439.5 321.8 463.3 322.3 479 323.1 482.5"/>
<path class="cd" d="M320.7 414.8 321 480.2 321 393.9 321 375.9 321.3 433.5 321.5 458.1 321.7 514 322.2 451.2 322.2 475 322.4 486.1 322.7 487.7 322.7 440.7 322.9 486.6 323.1 475.3 323.2 507.3 323.3 496.6 323.3 483.7 323.3 476.2 323.5 491.1 323.9 469.4"/>
<path class="cb" d="M321 410.4h0"/>
<path class="ck" d="M324.2 462.4 325.1 437.4 325.1 446.2 325.2 400.3 325.8 489.5 326 490.3 326.4 514.1 326.7 505.8 326.7 479.8"/>
<path class="cd" d="M324 455.2 324.2 479.2 324.2 485.1 324.2 475.7 324.6 501.2 325.2 466.2 325.2 489.2 325.3 467.5 325.9 476.8 326 418.9 326.1 420.6 326.5 509.9 326.5 473.5 326.8 509 327.1 505.2 327.2 459.2"/>
<path class="cv" d="M324 474 324 469.4 324.4 483.9 324.5 495.9 324.5 409.6 324.8 489.5 324.9 484.5 325 509.2 325.1 485.2 325.4 513 325.8 499.7 326.1 444.6 326.2 481.5 326.5 507.9 326.6 443 326.8 489.2 326.8 501.9 327.3 479.5 327.4 496.8 327.4 443 327.7 493.1"/>
<path class="cu" d="M324 436.6 324.2 484.4 324.4 510.7 325.5 501.4 325.6 479.2 325.9 504.5 327 499.4 327.1 423.7 327.7 485.3"/>
<path class="cb" d="M324.7 420 325.1 424.6 327.3 425.8"/>
<path class="cd" d="M328 492.1 328.1 445.4 328.8 439.5 328.9 512.8 329.1 470.9 329.7 473 329.7 465.3 329.9 497.7 330.3 416.9 330.3 473.6 330.4 449.1 330.6 457.7 330.6 475.3 330.8 496.7 330.9 439.9 331.1 513 331.5 460.2 331.5 490.7 331.8 432.7 331.9 482.8 331.9 490.1 332 503.1"/>
<path class="cv" d="M328 474.1 328 513.4 328.2 472.5 328.7 443.6 328.9 475.9 329 475 329 487.4 329 435.6 329.1 419.3 329.2 482.7 329.3 480.7 329.4 507 330.1 439 330.9 438.7 331.2 477 331.6 438.3"/>
<path class="cu" d="M328.3 486.7 328.7 449.1 328.8 511.1 329 503.8 329.2 499.9 329.5 453.4 329.7 495.5 330.1 474.9 330.6 493.3 330.6 445.6 331 486.9 331.4 476.9 331.7 507.6"/>
<path class="ck" d="M328.6 441.4 328.9 419.1 329.2 418.6 329.4 440.2 330 470.5 330.2 482.4 330.5 438.1 330.6 442.8 331 468.6 332 455.4"/>
<path class="cb" d="M333 469.3 335.5 468.9"/>
<path class="cu" d="M332.5 441.1 332.7 486.2 332.8 499.8 332.8 478.6 333 488.9 333.3 489.3 333.8 488.2 333.8 477.6 333.9 420.8 334.7 442.3 334.7 507.3 335.2 483.3 335.4 469.1 335.5 442.7 335.7 444.8 336 478.3"/>
<path class="ck" d="M332.6 496.3 332.7 419.8 332.7 484 332.7 431.9 332.8 475.5 332.9 422.2 333.6 416.2 334.7 512.9 334.7 456.5"/>
<path class="cv" d="M332 509.6 332.1 413.8 332.2 415.4 332.2 414.5 332.3 487.5 332.3 485.9 332.5 484.1 332.7 470.3 332.9 501.4 333 435.5 333.2 427.1 333.3 476.1 333.3 494.1 333.7 481.2 334 452.8 334 443.7 334.3 483.9 334.4 497.3 334.7 414.9 334.7 505.8 335.1 488.7 335.2 461.8 335.3 486.8 335.5 501.8 335.6 506.2 335.7 489"/>
<path class="cd" d="M332.3 507.3 332.3 417.2 332.5 481.4 333 478.4 333 370.9 333.3 486.3 333.5 478.7 333.9 486.6 334 510.2 334.1 447.9 334.3 486.3 335 444.9 335.3 490.3 335.6 511.7 335.9 415.2"/>
<path class="cv" d="M337.2 428.4 337.2 439.2 337.2 511.1 337.3 421.3 337.4 427.8 337.5 417.8 337.6 437.6 338 417.9 338.4 490 339.1 489.8 339.4 510.5 339.5 491.1 339.6 511.1 339.6 500.7 339.6 496.9 339.8 503.7"/>
<path class="cd" d="M336.8 476 336.9 507.9 337.4 441.8 337.5 488.6 337.6 487 337.7 417.7 337.8 504.7 337.8 482.3 337.8 431.8 338 485.3 338.1 472.5 338.1 508.1 338.3 445.9 338.4 432.2 338.4 429.2 338.5 437.9 338.5 455.2 338.8 430.7 339.5 486.1 339.8 489.7 339.9 495.5"/>
<path class="cu" d="M336.2 490.2 336.8 476.7 337.1 501 337.2 451.6 337.3 512.5 337.7 492.4 338.4 481.7 338.6 500.9 339.1 471.3 339.5 503.2"/>
<path class="ck" d="M336.3 504.1 336.5 486.9 337.1 435.8 337.2 466.5 337.4 442.9 337.8 462 338.1 482.7 338.2 429 338.6 471.6 338.7 512.8 339.5 495.5"/>
<path class="cb" d="M337.6 428.6h0"/>
<path class="cv" d="M340.3 474.8 340.5 508.3 340.5 490.7 340.8 418.8 340.9 488.1 341.1 417.6 341.2 430.1 341.2 511.1 341.3 488.9 341.4 444.5 342 475.2 342 486.3 342.2 461.8 342.2 472.1 342.5 435.6 342.6 500.6 343.3 440.4 343.8 507.6"/>
<path class="cb" d="M341.7 426.6h0"/>
<path class="cd" d="M340.1 485.9 340.3 489 341 425.9 341.1 429.1 341.2 449.4 341.4 487.9 341.5 482.6 341.5 441.4 341.6 488.4 341.7 477.9 342.4 491.3 342.5 429.6 342.6 426.8 342.7 500.6 342.8 476.1 342.9 442.4 342.9 442.7 342.9 512.8 343.2 469.5 343.6 507.6 343.6 476.3 343.6 461.3 343.9 505.5"/>
<path class="cu" d="M340.3 441.6 340.8 462.9 340.8 441.6 341.7 482.1 342.4 431.8 342.7 461.2 342.9 478.8 343.1 479.5 343.2 432.3 343.2 457.2 343.5 493 343.8 462.7"/>
<path class="ck" d="M341.2 455.5 341.9 504.1 341.9 420 341.9 496.1 343 429.4 343 431.3"/>
<path class="cu" d="M344.3 512.3 344.5 414.4 344.8 510.4 345 511.3 346.5 497.8 346.6 438.4 346.7 496 347.1 508.2 347.2 478.1 347.3 463.8 347.3 502.1 347.4 504.8 347.5 485.7"/>
<path class="ck" d="M344 425.1 345.2 473.1 346.2 417.1 346.2 444.7 346.9 507.3 347 445.8 347.1 492.3 347.2 459.8 347.5 469.9 347.5 463.2 347.7 457.3"/>
<path class="cb" d="M344.3 437.4h0"/>
<path class="cd" d="M344 407.9 344.2 442.8 344.3 442.6 344.3 455.6 344.5 487.9 344.8 494.9 345 504.3 345.3 495.3 345.4 504 345.7 430 346.1 456.5 346.5 485.1 346.6 505.2 347.1 442.4 347.7 487.1 348 464"/>
<path class="cv" d="M344.1 476.9 344.1 488 344.4 473.4 344.4 484.7 344.7 464.9 344.8 461.7 345.7 447.1 345.9 508.9 345.9 501.8 346.3 487.7 346.6 500.5 346.9 465.4 347.1 481.6 347.2 436.4 347.2 487.1 347.8 457.6"/>
<path class="cu" d="M348 512.9 349 427.1 349.6 445.2 349.6 477.5 349.6 501.6 349.9 428.2 350.2 428.8 350.3 458.8 350.8 447.9 351.3 506.4 351.4 490.1 351.5 513.8"/>
<path class="cb" d="M348.1 419.4h0"/>
<path class="cd" d="M348.5 482 348.6 443.9 349.5 471.1 349.7 457.1 350 479.5 350.6 442 351 509.6 351.2 488.5 351.2 481.8"/>
<path class="ck" d="M348.2 467 348.6 489.7 348.7 504.2 349.3 440.7 350.2 461.6 351.5 498.8 351.6 438.5 351.7 427.6 352 471.4"/>
<path class="cv" d="M348.2 483.2 348.6 442 349 501.4 349.2 452.6 349.4 509.7 349.5 487.6 349.7 513.3 349.7 443.3 349.9 488.7 350.2 484.9 350.4 486.9 350.7 449.5 351.1 485.2 351.3 449.2 351.6 487.3 352 456.6"/>
<path class="cm" d="M349.5 424.2h0"/>
<path class="cu" d="M352.2 439.1 352.4 509.2 353.3 429.5 353.7 500.7 354.7 508.8 355.3 447.1"/>
<path class="ck" d="M352.1 491 352.6 464.1 353.2 468.7 353.3 454.8 353.6 503 355.1 462.6 355.4 453.5 355.4 461.8 355.5 463"/>
<path class="cd" d="M352.9 508.5 353.2 414.9 353.3 446 353.4 512.4 353.4 465.4 353.7 458.3 353.7 483.5 354 511.9 354 504.4 354.1 421.4 354.8 441.4 355.3 430.7 355.5 439.9 355.7 464.4"/>
<path class="cv" d="M352.3 448.3 352.3 476.8 352.4 500.7 352.5 487.4 352.7 444.9 352.8 453.9 353.2 501.1 353.3 494.4 353.5 447.2 353.7 442.6 354 501.2 354.6 512.3 355.2 480.3 355.3 462.9 355.7 487.3 355.7 470.7"/>
<path class="cm" d="M354 413.6h0"/>
<path class="cu" d="M356.1 455.6 356.1 513.7 357.1 451.6 357.4 491.2 357.5 508.2 357.6 485.6 358.4 453.5 358.8 442.7 359.1 460.8 359.4 513.4 359.6 497.1"/>
<path class="ck" d="M357.3 443.1 358.4 506.7 358.9 453.3 359.1 457.7 359.3 488 359.3 428.9"/>
<path class="cd" d="M356.2 450.9 356.5 433.8 356.5 443.7 356.5 446.8 356.7 440.1 356.8 439.9 356.9 439.1 357.2 476.5 357.3 441.7 357.3 445.8 357.8 451.4 358.4 487.1 358.5 481.8 358.8 489.8 359 443.3 359 500.4 359.2 496 359.3 435.4 359.3 483 359.4 449.7 359.6 492.1 359.7 389.2 360 470.3"/>
<path class="cb" d="M359.7 405.2h0"/>
<path class="cv" d="M356.3 433.4 356.5 506 356.5 487.2 356.8 464 357.2 501.4 357.7 445.7 358 451.2 358.2 512.7 359 439.8 359.2 460.5 359.6 456.1 359.7 454.1"/>
<path class="cm" d="M359.8 414h0"/>
<path class="cv" d="M360 503.1 360.1 432.8 360.6 430.4 361.2 490.4 361.2 495.4 361.5 508.2 361.6 435.1 361.6 500.1 362 448.9 362.7 497.5 362.8 488.8 362.8 465.9 363.6 444.6"/>
<path class="cd" d="M360 384.9 360.3 461.9 360.4 510.6 360.4 500 360.6 448 361.1 475.3 361.2 426.6 361.6 403 362.5 511 362.8 452.6 363.4 451.1 363.4 504.8 363.7 485 364 512.2"/>
<path class="cb" d="M360.6 421.1 361 466.3 361.5 417.3 363.1 397.6"/>
<path class="ck" d="M360.9 456.3 361.1 479.6 361.3 449.5 361.4 436 363.2 502.4"/>
<path class="cu" d="M360.1 505 360.6 503.7 361.8 432.7 362 507.9 362.4 439.9 362.5 486.7 363.1 443.8 363.4 489.8 363.7 502.7"/>
<path class="cv" d="M364.1 501.7 365.1 473.9 365.2 502.6 365.4 468.3 365.9 459.5 366.2 445.1 366.3 513.9 366.4 434.7 366.5 486.1 366.6 499.3 366.6 483.1 366.9 506.3 367.2 458.3 367.6 440.3 367.7 470.4"/>
<path class="cd" d="M364.3 406 364.5 455 364.7 463.7 365 433.1 365.2 467.4 365.2 480.2 365.3 460 365.3 446.8 365.9 431.2 366.5 431.7 366.6 428.1 366.7 438.8 366.8 446.9 366.8 508.7 367 462 367.1 501.9 367.2 463.6 367.4 452 367.4 433.3"/>
<path class="cu" d="M364.1 453.9 364.2 438 364.3 490.1 364.4 435.3 364.8 436.8 365 432.5 365.5 477.2 366.3 510.4 367.5 495.9 367.6 440.2"/>
<path class="ck" d="M364.3 421 364.4 509.5 364.4 466.1 364.7 505.3 365.1 473.4 365.3 514 365.7 442.5 365.7 443.8 366.2 459.6 366.2 447.2 366.8 435 366.9 407.9 367.3 512.1 367.6 470.8"/>
<path class="cb" d="M364.6 468.5 367.6 422.8"/>
<path class="cm" d="M365.9 411.6h0"/>
<path class="cd" d="M368 393.9 368.3 460.6 368.3 434.7 368.5 434.4 368.9 466.4 368.9 449.9 369.5 430.3 369.6 494.1 369.8 439.5 370.3 451 370.3 433.8 370.5 466.1 370.6 437.5 370.9 476.7 370.9 441.8 371.1 430.1 371.3 411 371.5 501.5"/>
<path class="cb" d="M368.1 418.8 368.5 446.8 369.4 409.9 371.8 457.7"/>
<path class="cv" d="M368 504.1 368.1 433 368.5 511.2 368.8 456.1 369.4 435.9 369.6 493.5 369.6 433.4 369.8 509.5 369.9 479.8 370.3 451.3 370.4 502.4 370.8 484.8 370.8 501.1 370.8 461.6 370.9 460 371 449.2 371.1 501 371.2 491.9 371.2 442.3 371.3 436 371.4 472.9 371.4 431.4 371.5 488.4 371.6 498"/>
<path class="ck" d="M368.3 507.2 369 499.2 369.5 458.5 370.3 431 371.1 483.8 371.6 507.4"/>
<path class="cu" d="M368.5 450.1 368.7 456.9 368.7 435.2 369 474.8 369 493.7 370.3 508 370.7 448.4 371.1 461.4 371.2 490.9 371.3 453.3 371.9 463.6"/>
<path class="ck" d="M373.6 444.4 374.4 447.7 374.7 419.4 374.9 506.2 375.3 435.2 375.3 509.4 375.3 408.6 375.3 433.8 375.7 437.7"/>
<path class="cb" d="M373.5 443.4 375 454.7"/>
<path class="cd" d="M372.1 444.8 372.1 452.1 372.2 456.5 372.4 426.7 372.8 468.7 372.9 442.1 373 444.7 373.3 445 373.7 441.8 373.8 464.9 373.9 511.1 374.1 510.4 374.2 512 374.6 500.6 375.5 447.2 375.7 431 375.8 457.8 375.8 438.3"/>
<path class="cv" d="M372.3 459.3 372.4 435.7 372.6 463.1 372.7 506.2 373.1 478.2 373.6 453.3 373.6 432.9 373.7 463.3 373.8 505.2 374.3 436.1 374.3 436.6 374.4 466.8 374.5 440.4 374.5 442 374.7 433.4 375 511.3 375.3 483.1 375.4 443.1 375.8 463.2"/>
<path class="cu" d="M372 435.2 372.1 443.9 372.7 487.6 372.7 444.6 373.3 440.8 373.3 500.3 373.9 460.3 373.9 482.5 374.1 504.7 374.3 459.6 374.3 500.3 374.6 494.4 375.3 442.4 375.6 430.4"/>
<path class="cm" d="M373.9 416.4h0"/>
<path class="cu" d="M376.1 447.3 376.2 480.7 376.3 489.2 377.1 459.2 377.5 431.9 377.9 505 377.9 489.1 378.6 453.4 378.8 465.9 378.8 439.3 379 498.2 379.4 501.3"/>
<path class="cv" d="M376.4 438.8 376.4 501.2 376.6 433.9 376.9 510.1 377 511.6 377.3 491.9 377.4 459.3 377.4 455.8 377.4 459.1 377.5 443.2 377.6 500.7 377.7 504.2 377.7 435.7 377.9 503 378 486.1 378.1 465.5 378.2 479.6 378.8 495.5 378.9 465 378.9 508.6 379.2 509.9 379.3 450 379.5 441.5 379.8 449.7 379.9 470.2"/>
<path class="ck" d="M376.4 514 376.5 498.2 377.9 433.3 378.1 504.9 378.5 429.3 378.7 433.6 378.9 434 379.1 408.9 379.7 465.1 379.8 451.3 380 414.9"/>
<path class="cb" d="M378.9 423.7h0"/>
<path class="cd" d="M376.1 457.2 376.1 506.7 376.3 433.8 376.5 457.6 376.5 462.5 376.8 491.9 377.6 463.4 377.6 448.5 377.6 443.1 378.2 452.3 378.4 500.4 378.5 454.8 378.9 435.3 378.9 442.6 379.2 429.5 379.7 430.4 379.7 478.7"/>
<path class="cm" d="M377.7 413.4h0"/>
<path class="cv" d="M380.2 435.2 380.6 452.7 380.8 502.7 380.9 481 381 439.2 381 506.2 381.1 480.8 381.1 497 381.2 441.7 381.3 436.1 381.5 452.9 381.6 487.5 381.7 433.6 381.9 451.4 381.9 446.2 382.1 501.6 382.2 478.4 382.4 497.8 382.6 477.6 383.2 434.3 383.2 502.5 383.5 493.6 383.9 463.4 384 456.3"/>
<path class="ck" d="M380.4 424.2 381 440.7 381 499 381 440.9 381.8 454.8 381.9 450 381.9 452.2 382 498.7 382.6 439.4 382.7 463.9 383 480.8 383.3 426.4 383.5 512.9 383.6 430.4 383.7 439.9 383.7 478.4"/>
<path class="cu" d="M380 452.6 380.4 462.5 380.5 456.7 380.6 443.4 381.1 501.2 381.6 493.1 382.7 499.6 383.1 486.6 383.3 460.4"/>
<path class="cd" d="M380.3 497.2 380.5 442.2 380.7 452.1 380.7 509.2 381.3 470.8 381.4 450.7 381.5 501.5 381.6 490.8 381.8 477.1 381.9 440.4 382 439.8 382.6 457.2 382.8 465.2 382.9 497.8 383.3 436.3 383.3 432.9 383.3 433.5 383.4 473.9 383.5 441.5 383.7 486.5 383.9 436.5"/>
<path class="cm" d="M383.2 391.7h0"/>
<path class="ck" d="M384.3 433.9 384.4 434.9 384.8 504.8 385.6 465.2 385.6 441 385.9 497.9 386.1 446.1 386.1 436.4 386.9 436.3 387.2 460 387.5 459.9 387.9 447.1"/>
<path class="cv" d="M384 389.9 384.1 433.7 384.2 433.3 384.2 462.8 384.3 438.8 384.3 443.5 384.4 505.8 384.4 463 384.5 463.9 384.9 491.5 385.1 438.6 385.2 442.6 385.2 437.6 385.3 500.2 385.3 458.2 385.6 479.2 385.7 453.3 385.8 462.5 385.8 463.7 385.9 454.8 386.4 436.8 386.6 444.6 386.9 499.2 386.9 432.4 386.9 513.1 387 508.3 387 444.6 387.2 442.8 387.2 512.3 387.5 504.9"/>
<path class="cu" d="M384.2 509.3 384.8 456.3 384.8 513.1 384.9 446 385.1 446.8 385.2 465.9 385.2 445.8 385.6 508.4 385.6 513.5 385.7 442.6 385.9 441.5 386.2 513.4 386.2 485.6 386.5 450.3 386.8 479.1 388 472 388 474.6"/>
<path class="cb" d="M385.6 440.1 386 439.1 386.4 455.9"/>
<path class="cd" d="M384 435.9 384.2 444.5 384.2 509.3 384.3 453.1 384.5 434.7 385 451.6 385.3 411.2 385.6 443.5 385.8 424 386 505.6 386.2 440.5 386.2 440.3 386.3 425.8 386.6 400.5 386.8 442.9 387 440.1 387.1 445.4 387.1 504.5 387.2 495.6 387.5 432.7 387.8 514 387.8 493.2 387.8 505.1 388 497.7"/>
<path class="cm" d="M384.9 421.8 385.5 404.9"/>
<path class="cv" d="M388 445.2 388.2 499.5 388.6 465.2 388.6 489.7 388.9 485.6 388.9 443.8 389.6 479.2 389.6 450 389.7 447.8 389.9 437.7 390 492.8 390.2 498.3 390.6 441.8 390.8 485.7 390.9 446.9 391.1 510.6 391.5 460 391.7 445.6 391.7 452.3 391.7 437.6 391.8 462.5"/>
<path class="cb" d="M388.1 377.2 389 434.5 389.3 468"/>
<path class="cu" d="M388.3 436.1 388.3 445.3 388.4 456.7 388.8 450.4 390 499.4 390.1 440.3 390.5 436.7 390.5 500 390.7 434 390.7 459.8 390.8 456.9 391 480.9 391.1 475.7 391.7 495.3 392 459.6"/>
<path class="cd" d="M388 437.1 388 410.1 388.1 439.8 388.2 443.7 388.2 432.5 388.4 444.2 388.7 380.5 388.7 445.9 388.8 438.7 388.9 439.7 389.2 498 389.3 497.7 389.4 500.3 389.4 509.4 389.6 458 389.9 444.4 390 365.9 390.2 497 390.3 440.9 390.4 433.2 390.5 444.2 390.7 394.9 390.9 465.9 390.9 439.8 391.2 507.4 391.3 458.9 391.4 450.9 391.7 437.8 391.7 424.9 392 437.6"/>
<path class="ck" d="M388.1 452 388.3 438.3 388.8 456.6 389.4 464.5 389.5 448.2 390.1 502.1 390.7 450.4 390.7 465.6 390.7 437 391 455.3 391.1 432.5"/>
<path class="cd" d="M392.6 495.5 393.2 507 393.3 434.4 393.4 502 393.6 444.1 393.6 471.6 394 379.9 394 494.1 394.2 482.1 394.3 497.3 394.5 513 394.5 462.2 394.8 462.4 395 459.4 395.1 445.4 395.2 442.1 395.3 483.5 395.3 451.5 395.3 456.5 395.3 483.2 395.5 445 395.5 438 395.5 509.2 395.5 461.3 395.8 441 395.9 429.2"/>
<path class="cu" d="M392.3 446.6 392.5 506.9 393.8 475.5 394.1 489.8 394.2 447.2 394.5 465.8 394.6 443.9 394.7 511.7 394.9 440.8 395 464 395.4 459 395.9 495.1"/>
<path class="ck" d="M392 492.4 392.2 459.9 392.3 498.9 392.5 502.4 392.5 464.4 392.7 458.1 393.4 414.3 394 442.6 394.4 450.5 394.5 457.5 394.9 481"/>
<path class="cb" d="M394.7 472.1 395.9 402.2"/>
<path class="cv" d="M392.1 448.9 392.4 436.5 392.5 445.8 393 503.3 393 448.3 393 504.5 393.2 462.9 393.3 490 393.3 501.8 393.6 435.5 393.6 444 393.9 511 394 452.5 394 464.4 394.2 500.9 394.2 507.9 394.4 439 394.8 445.7 394.9 433.6 395 464.3 395.1 488.1 395.2 498.4 395.5 461.6 395.5 479.8 395.5 497.1 395.6 487.2"/>
<path class="cm" d="M395 264.3h0"/>
<path class="ck" d="M396.1 449.2 396.2 482.8 396.5 479.6 396.6 438 396.9 475.2 397.2 478.3 397.3 447.2 397.4 461.5 398 467.1 398.2 494.1 398.5 466.2 398.7 492.5 398.9 474 399.1 455.2 399.8 446.7"/>
<path class="cv" d="M396.1 465.9 396.1 443.1 396.2 481.4 396.7 437.3 396.7 450.7 396.7 467.9 396.8 497.1 397 479.8 397.2 469.5 397.3 468 397.7 442.8 397.8 427 397.8 433.4 397.8 437.5 398.2 444.6 398.5 440 398.6 465.7 398.7 504.4 398.8 445.3 399.7 506.6"/>
<path class="cu" d="M396.4 462.5 397 339.9 397.1 502.3 397.3 434.9 397.6 452.9 397.7 465.4 397.7 504.3 397.8 510.3 397.9 438.3 398.1 510 398.8 510.7 399.3 464 399.5 456.2 399.5 441.6 399.8 513.3"/>
<path class="cd" d="M396.6 496.2 396.6 498.9 396.7 488.2 396.8 441.6 396.8 462.5 396.8 423.5 397.4 488.1 397.5 495.2 397.6 429 398 448.8 398.1 462.1 398.6 445.7 398.7 460.1 398.8 461.7 398.8 491 399.2 432.8 399.4 503.3 399.5 499.5 399.6 441.5 399.6 484"/>
<path class="cb" d="M396 339.9 396.4 323.5 396.8 472.4"/>
<path class="cm" d="M399.8 310.9h0"/>
<path class="cl" d="M396.5 360.8 397.3 385.9"/>
<path class="cb" d="M400 321.9 401.8 353.2 402 284.9 402 419.6 402.4 270.9"/>
<path class="cu" d="M400 503.8 400.3 513.3 400.8 445.7 400.9 482.4 400.9 455.7 401 462.6 402 440.8 402.3 513.3 402.7 479.5 403.5 477.3 403.5 446.7 403.6 505.2 403.6 499.5 403.9 445.8 403.9 465.8"/>
<path class="cv" d="M400.3 506.2 400.3 499.2 400.4 459.1 400.8 484.4 400.9 508 401.1 456.9 401.2 443.8 401.2 486.4 401.4 459.7 401.6 459.6 401.7 461.8 401.9 452.2 402 497 402.2 463.9 402.2 466.5 402.3 445.1 402.3 464.6 402.5 511.8 402.6 482.5 403.1 492.3 403.6 440.8 403.6 512.8 403.7 509.6"/>
<path class="cd" d="M400.1 481.2 400.1 448.7 400.2 482.8 400.4 461.4 400.5 462.3 400.9 463.7 401 321.9 401.1 452.6 401.2 454.2 401.2 437.9 401.5 459 401.6 429.9 401.6 427.3 401.7 445 401.7 464.4 401.7 477.2 401.7 467.4 401.8 488.8 402 385.9 402.2 455.3 402.2 484.5 403.2 451.8 403.3 464.9 403.4 473.9 403.7 464.2"/>
<path class="ck" d="M401.3 464.4 401.4 452.1 401.6 465.4 402.1 486.8 402.2 499.8 403 442.4 403 467.9 403.2 490.3 403.3 415.8 403.6 459.9 403.9 446.9"/>
<path class="cm" d="M400.2 416.6 402 355.9"/>
<path class="cl" d="M401.1 303.2 403.4 331.9"/>
<path class="cg" d="M402.6 184.9h0"/>
<path class="ck" d="M404.3 463.1 404.7 429.8 404.8 460.5 405.3 437.3 405.5 499.5 406.2 446.3 407.7 461.9 407.8 424.4"/>
<path class="cb" d="M404 293.9 404.9 360.7 406.9 390"/>
<path class="cu" d="M405.5 498.2 405.6 470.4 405.9 442.2 406.1 462.6 407 444.6 407.1 494 407.2 500.3 407.3 505.1 407.6 476.9 407.9 495.8 407.9 460.9"/>
<path class="cd" d="M404.2 459.4 404.3 497.8 404.3 487.5 404.5 460.8 404.5 461.5 404.5 508 404.6 470.7 405 461.6 405 463.7 405.1 444 405.1 430.8 405.2 491.2 405.2 430.4 405.3 466.4 405.4 466.4 405.6 482.6 405.7 462.2 405.8 435.7 406 457.7 406.2 323.9 406.3 376.1 406.6 454.9 406.9 445.5 407 462.6 407.1 444.9 407.3 443.8 407.4 512.2 407.5 466.5 407.5 460.1 407.6 463.8"/>
<path class="cv" d="M404.1 466.4 404.1 460 404.3 489.5 404.4 439.7 404.5 508.9 404.9 468.3 405 458.7 405 501.9 405.1 429.3 405.3 505.1 405.4 506.6 405.7 511.8 405.7 433.5 405.8 447.6 406 472.9 406.1 452.9 406.3 474.2 406.4 504.2 406.4 485.3 406.6 433.2 406.7 491.3 407 431.5 407 505.2 407.2 484.3 407.7 463.2"/>
<path class="cl" d="M404 353.9 405.4 383"/>
<path class="cd" d="M408 373.9 408.3 490.7 408.4 458 408.6 462.2 409.2 490.7 409.3 500 409.5 461.9 409.6 461.5 409.6 446.1 409.7 482.3 409.7 463.2 410.1 470.6 410.1 509.7 410.2 449.1 410.3 463.1 410.6 468 410.9 509.1 411.1 453.1 411.3 464.7 411.6 498.3 411.7 406 411.8 513.1"/>
<path class="cv" d="M408.2 479.2 408.4 494.6 408.5 479.2 408.6 457.2 408.6 445.3 408.9 431 409 423.7 409 443 409 442.3 409.1 506.8 409.1 500.8 409.3 457.3 409.7 482.1 409.8 495.4 409.9 441.1 410.3 489.5 410.3 507.9 410.5 461.1 410.9 509.4 411 456.2 411.3 427.8 411.4 445.8 411.6 461.7 411.9 471.1 412 437"/>
<path class="cb" d="M408.4 356.9 408.6 403 409.5 470.4 410 283.9 410 453.3 410.4 341.9"/>
<path class="ck" d="M408.1 470.2 408.7 476 408.7 412.5 409.4 438.4 410 501.8 410.1 440.1 410.2 510.9 410.9 415.8 411.2 464 411.3 457.3 411.6 446.7"/>
<path class="cu" d="M408.3 459.1 409.5 498.3 409.5 442.3 410.2 457.2 410.5 501 410.7 459.5 411.3 491.9 411.5 456.9 411.6 499.6 411.7 457.8 411.8 430.5 412 462.2"/>
<path class="cm" d="M410 309.9 410.4 359.4"/>
<path class="cl" d="M410 349.9 410 311.9 410 325.9"/>
<path class="ck" d="M412.4 505.5 412.8 462.4 413.3 514 414 448.9 414 473.8 414.1 434.5 414.3 471.9 414.7 463.8 415.4 462.1"/>
<path class="cd" d="M412.3 459.8 412.5 465.5 412.7 468.3 412.8 462.1 412.8 499.6 412.9 456.9 413.1 461.8 413.4 475.3 413.5 488.1 413.5 464.9 414 466.4 414.3 510.3 414.3 448.7 415 505.7 415.2 463.4 415.4 456.3 415.4 494 415.4 504 415.6 476.8 415.7 493.3 415.7 460.2 415.8 439.5 415.9 504.4 415.9 467.4 416 469.8"/>
<path class="cv" d="M412 504.8 412.5 474.5 412.9 467.9 413.1 446.5 413.1 511.8 413.2 463.1 413.6 466.2 413.6 438.7 413.7 456.8 413.7 473.9 413.9 451 414 509.1 414.3 447.6 414.5 468.4 414.5 477.5 414.6 458.6 414.7 499.6 415.2 513 415.3 432.3 415.6 490.5 415.8 487.8 415.8 473.3 415.9 503.4 415.9 449.6 415.9 462"/>
<path class="cu" d="M412 470 412.2 479.7 412.3 460.8 412.7 457.2 413 494.9 413.4 473.6 413.7 507.6 414.3 485.8 414.4 462.3 414.7 466.8 414.9 461.3 415.2 503.5 415.2 488.9 415.7 492.8 415.9 480.8 415.9 429.3"/>
<path class="cb" d="M412 297.9 412.7 384.3 414 297.9 416 360.3"/>
<path class="cm" d="M412 341.9h0"/>
<path class="cv" d="M416.1 420 416.2 499.4 416.5 445.3 416.9 468.1 416.9 502.1 417.3 491.2 417.4 458.6 417.5 485.1 417.6 464.5 417.8 453.4 417.8 496.9 418.1 513.1 418.1 491.3 418.1 460.9 418.4 505 418.4 465.4 419.2 474.1 419.3 507.8 419.9 458.7"/>
<path class="ck" d="M416.7 457.1 416.7 489.2 416.8 503.7 416.8 462.3 416.9 498.2 417.8 467.9 418 484.8 418.2 505 418.3 488.6 419.1 503.9 419.1 510.9 419.6 462.5 419.6 503.1 419.7 469 419.9 462.7"/>
<path class="cu" d="M417.1 466.6 418 446 418.1 443.6 418.5 474.2 418.5 494.3"/>
<path class="cd" d="M416 439.4 416.3 463.8 416.3 513.3 416.4 344.5 416.5 432.3 416.8 476.6 416.8 491 417.3 460.5 417.7 448.8 417.9 473.4 418.1 444.8 418.4 462.1 419 461.3 419.3 466.8 419.4 458.9 419.4 495.9 419.5 491.5 419.7 480.2 419.8 433.8 419.8 428.1"/>
<path class="cb" d="M416 377.9 419.8 309"/>
<path class="cm" d="M416 247.9 417 261.9 418 345.9 418 315.9 418 315.9 419.1 317.3"/>
<path class="cl" d="M418 329.9h0"/>
<path class="cd" d="M420.2 462.8 420.3 497.1 420.8 465.5 421.2 438.1 421.7 459.5 422 461.4 422.2 492.7 422.5 457 422.6 472.8 422.6 490 422.7 463.8 423 442.2 423 452.6 423.1 455.7 423.3 513.8 423.4 460 423.5 439.7 423.7 469.4 423.7 411.2 423.9 488.7"/>
<path class="cv" d="M420.3 481 420.5 513 420.6 505.1 420.7 461.8 420.8 478.9 420.8 461.5 420.8 495.1 420.9 489.3 421 444.6 421.2 494.3 421.6 444.2 421.7 461.4 421.7 452.5 422.1 486.3 422.5 463.7 422.6 435.9 422.9 510.5 423 499.5 423.1 504.4 423.3 441.5 423.4 489.4 423.5 509.6 423.5 489.6 423.8 508.3"/>
<path class="cu" d="M420 467 420.2 493.6 420.4 461.2 420.9 498.2 421.3 434 421.6 497.7 421.6 467.1 422.1 461.7 422.2 498.4 422.2 493.9 422.6 447.6 423.1 503.9 423.2 474.4 423.7 507.4 423.8 504.4 423.8 513.7 423.9 474.4 424 506.9"/>
<path class="cb" d="M420 329.9 420 243.9 420 281.9 420 435.9 420.6 341.7 421 267.9 423.2 341.1"/>
<path class="ck" d="M420 458.2 420.3 498.9 420.3 465.1 420.3 479.8 420.5 494.5 420.9 472.1 421 492.1 421.2 483 421.4 441.2 422.5 508.8 423.3 468.2 423.4 464.4 423.9 463"/>
<path class="cm" d="M421.5 408.6 423.2 388.7"/>
<path class="cl" d="M420 349.9h0"/>
<path class="cu" d="M424.2 507.1 424.2 489.9 425.5 503.4 426.3 489.6 426.8 472.4 426.8 498.3 426.9 491.5 427 513.6 427 492.3 427 459.5 427.4 438.9 427.6 443.9 427.9 458.7 428 495.7"/>
<path class="cb" d="M424.6 445.9 426.5 381.5 426.8 388.8"/>
<path class="ck" d="M424.5 480.5 424.5 506.1 424.9 458.9 425.6 500.3 425.8 457.6 426.2 468.6 426.3 451.5 426.9 496.8 427.1 493.6 427.4 454.4 427.7 472.8 427.8 486.3 427.8 443.1 427.9 501.6"/>
<path class="cv" d="M424.1 468 424.1 437.4 424.3 487.7 424.6 444.7 424.7 471.8 424.9 475.5 425 464.8 425 458.7 425.3 505.9 425.3 500.5 425.3 489.7 425.4 461.4 425.4 462.9 425.6 502.8 425.6 485 425.6 476.6 426.1 503.4 426.5 513.6 426.6 498.8 427 464 427 480.3 427.1 464.8 427.2 513.4 427.7 438.7 427.7 497.8 427.7 507.1"/>
<path class="cd" d="M424.2 493.9 424.3 457.2 424.7 459.2 425 441.5 425 468.9 425.3 470.2 425.4 452.4 425.5 496.8 426 513.7 426.1 444.8 426.1 441.3 426.1 443.3 426.2 479.3 426.8 458 426.8 471.5 426.9 507.7 427.1 454.8 427.1 502.2 427.2 493.1 427.4 494.2 427.5 505.8 427.7 479.2 427.9 491 427.9 457.6 427.9 458"/>
<path class="cl" d="M424 301.9 426 337.5"/>
<path class="cu" d="M428 456.9 428.6 503.2 428.9 460.7 429.5 464.5 429.7 453.9 430.4 501.2 431.1 459.6 432 466.1"/>
<path class="ck" d="M429 461.3 429.7 465.9 429.8 507.5 430.1 457.8 430.3 507.2 431.7 440.9 431.9 435.7"/>
<path class="cd" d="M428.4 486.7 428.9 511.5 429.4 493.1 429.4 343.5 429.5 466.1 429.8 459.8 429.9 435.1 430.3 500.1 430.3 494.8 430.4 489.5 431 504 431.6 461.7 431.6 479.5 431.7 469.8 431.8 506.9 431.8 460.1 431.9 487.1 432 406.7"/>
<path class="cb" d="M428.7 413.4 429 463.5 430 253.9 431 281.9 431.1 367.5"/>
<path class="cv" d="M428.7 507 428.8 463 428.9 461.1 429 487.9 430 467.5 430.2 496.9 430.2 438.4 430.5 508.3 430.6 506.2 430.7 477.2 430.7 464 430.7 485.4 430.9 461.9 431 512.9 431.1 502.2 431.1 490.9 431.3 458.7 431.7 494.4"/>
<path class="cm" d="M430 297.9 431 401.6"/>
<path class="cl" d="M429.8 372.5 430 352.6 431 320.8"/>
<path class="cc" d="M429 240.9h0"/>
<path class="cu" d="M432.9 477 433 489.2 433.2 513.1 434.1 439.9 435.2 505.7"/>
<path class="cv" d="M432.4 483.6 432.7 464 432.7 490.2 433.1 511.7 433.1 448.3 433.2 504.3 433.3 462.9 433.3 452 433.5 461.6 433.8 486.2 433.8 506.2 433.8 442.8 434 454.4 434 456.7 434 505.3 434.3 504.7 434.3 488.9 434.4 498.6 434.6 510.1 434.7 463.3 434.9 457.3 435.2 494.8 435.5 504.9 435.6 459.1 435.6 459.1 435.6 413 435.9 510.6"/>
<path class="ck" d="M432.1 458.2 433.5 488.7 434 499.4 435.2 442.6 435.3 456.5 435.6 468.8 435.8 502.6"/>
<path class="cb" d="M432 314.4 435 287.9"/>
<path class="cd" d="M432 385.9 432.3 487.6 432.3 450.5 432.4 500.6 433.4 508.9 433.6 471.3 433.7 362.9 434 505.2 434.1 483.7 434.5 464.6 434.6 460.7 434.8 455.8 435.1 500.3 435.2 504 435.2 500.8 435.5 462.2 435.8 512.4"/>
<path class="cm" d="M432 321.9 432.2 352.6 433.2 414.3"/>
<path class="cl" d="M432 309.9h0"/>
<path class="cu" d="M436.1 507.1 436.2 490.5 437.1 487.4 437.7 499.2 437.7 498 437.8 462.6 438.4 468.2 438.4 505.7 438.9 447.6 439 460.6 439.6 479 439.7 503.8"/>
<path class="cv" d="M436.4 449.1 436.5 507.8 436.6 457.4 436.7 513.7 436.8 499.7 437 455 437.3 459.6 437.6 509.6 437.9 457.5 438 463 438.1 513.4 438.1 497.6 438.2 432.3 438.5 493.5 438.7 441.1 438.8 494.3 438.8 457 439.6 512 439.8 510.7 439.9 486.5 440 468.9"/>
<path class="cd" d="M436.1 500 436.1 466.7 437 510.8 438.1 459.3 438.1 494.4 438.8 457.5 438.8 457 439.6 456.6 439.6 438.2 439.7 431.4 439.7 509 439.7 487.3"/>
<path class="cb" d="M436.7 377.1 436.9 450.4 437 259.9 438.1 471.3 439.4 418.7 439.7 382"/>
<path class="ck" d="M436.7 455.8 436.9 493.5 437.2 495.1 437.6 506.9 437.8 496.3 438.4 435.9 438.4 503.3 439.9 460.3"/>
<path class="cm" d="M436 351.9h0"/>
<path class="cl" d="M436 353.9h0"/>
<path class="cv" d="M440.2 507.1 440.4 504.6 440.8 483.1 441 487.1 441.1 481.5 442 493.5 442.2 505.6 442.3 463.6 442.4 488.2 442.7 456.7 443.1 461.6 443.1 502.2 443.2 466.6 443.7 432.4 443.9 493.8"/>
<path class="ck" d="M440.9 439.9 441.1 465.4 441.3 511.5 441.6 508.5 441.7 466.5 442 449.2 442.3 462.5 442.7 464.3 443.6 452.3 443.8 510"/>
<path class="cu" d="M440.3 500.5 440.9 481.5 441.1 503.7 441.2 459.2 441.8 472.9 442.3 473.2 442.4 452.7 443.4 465.5 443.4 497.1"/>
<path class="cb" d="M442.2 461.3 442.6 458.9"/>
<path class="cd" d="M440 493.3 440.3 428 440.6 492.4 440.7 461 440.8 453.5 440.9 334 441.3 496.1 441.4 507.7 441.8 448.4 442.1 492.4 442.2 331.3 442.2 381 442.3 488.7 442.3 435.6 442.6 506.6 442.7 449.9 443.1 462.1 443.1 512.3 443.3 302.4 443.3 465.5 443.5 479.5 443.7 493.7 443.9 466.1"/>
<path class="cm" d="M440 321.9 440 301.9 440 317.9 440 329.9"/>
<path class="cl" d="M440 367.9 443 394.4"/>
<path class="cu" d="M444.3 480.4 444.7 455.6 445 452.7 445.4 478.9 445.4 492.2 445.5 441.5 446.6 490.2 447.3 480.9 447.4 496.7 447.6 463.3 447.6 466.8 447.9 509"/>
<path class="ck" d="M444.1 513.9 444.9 503.4 445.4 462.6 445.9 455 446.6 466.3 446.6 421.1 446.8 489 447 510.3 447.4 461.7 447.7 502.2"/>
<path class="cv" d="M444.5 458.2 444.6 499.9 444.8 458 444.9 512.1 445.6 456.7 446.1 460.2 446.1 464.7 446.3 504 446.8 499.3 447.1 461.4 447.1 458 447.8 439.5"/>
<path class="cb" d="M444 383.9 445.8 403.9 446.1 336.1 446.3 464.6"/>
<path class="cd" d="M444 436 444 508.5 444.2 427.6 444.6 457.2 444.7 501.5 444.8 491.2 445.4 465.2 445.6 492.8 446 451.7 446.5 322.7 446.5 313.7 446.7 477.9 446.8 494.8 447.2 494.5 447.3 504.7 447.5 431.5 447.6 445.5 447.9 493.5"/>
<path class="cm" d="M444 347.9 444.3 354 446 349.9 446 293.9 447.6 353.3"/>
<path class="cl" d="M446 301.9h0"/>
<path class="cc" d="M447 218.9h0"/>
<path class="cd" d="M448.9 472.3 449 491.8 449.2 459.9 449.3 466.9 449.5 462.8 449.6 463.8 449.7 493 449.9 488.5 450.3 452.5 450.3 459.1 450.7 451.3 450.9 456.3 451 430.8 451.1 427.5 451.8 463.2"/>
<path class="cu" d="M448.1 448.6 448.4 470 449 486.3 449 498.1 449 500.8 449.2 455.2 449.5 463.6 449.9 507.6 450 452.2 450.1 459.1 450.2 435.3 450.5 499.3 450.7 456.5 450.7 510.8 450.7 502.7 451 501.6 451.4 449.1 451.5 442.7"/>
<path class="cv" d="M448.1 507.3 448.2 497.9 448.5 487.9 448.6 506.1 448.9 436.4 449.2 454.7 449.3 480.3 449.5 509.4 449.5 463.7 449.6 439.9 449.8 459.3 450 482.9 450.1 438.5 450.2 512.9 450.2 507.6 450.3 461 450.6 455.9 450.6 439.4 450.8 491 450.9 501.9 450.9 450.8 450.9 437.2 451 459.2 451.1 514 451.8 450.3 452 459"/>
<path class="ck" d="M448.1 464.3 448.5 509.5 448.8 457.7 448.8 453.7 449.3 491.9 449.4 468.8 449.4 431.5 449.6 444.9 449.7 454.9 450.4 464.3 450.6 457.8 451.5 466.2 451.5 460 451.8 458 451.8 454.1"/>
<path class="cb" d="M448.6 364.3 449.5 414 449.6 436.8 450.8 418.5 451.9 361.5"/>
<path class="cm" d="M448 313.9 450 279.9 450 331.9"/>
<path class="cl" d="M448.8 306.4h0"/>
<path class="cu" d="M452.1 459.5 452.6 503.7 452.8 513.2 453.2 512.9 453.4 453.5 453.7 507.3 454.1 492.4 454.3 459.3 454.5 502.7 454.6 482.5 454.9 476.9 455.7 461.2"/>
<path class="cb" d="M453.4 471.1 453.4 373.9 453.8 419.3 454 396.4 455.5 345.5"/>
<path class="ck" d="M452.7 458.8 452.9 495.8 453 482.6 453 437.3 453.3 432.6 453.4 504.8 453.5 453.1 453.7 410 454.1 464.9"/>
<path class="cd" d="M452.1 456.2 452.2 467 452.8 445 452.8 432.2 452.9 494.9 453 464.8 453.2 454.8 453.2 507.6 453.3 511.3 453.4 490.6 453.6 455.4 453.8 493.8 453.9 456.5 453.9 504.9 453.9 451.2 454 345.9 454 463.1 454.2 473.2 454.4 462.9 454.6 458.3 454.9 438.1 455 449.5 455.4 451.7 455.5 458.1 456 498.6"/>
<path class="cv" d="M452 508.3 452.2 464.9 453 456.4 453.1 436.8 453.2 449.1 453.2 510.2 453.3 484.3 453.4 464.7 453.5 496.6 453.5 459.8 453.7 437 453.8 447 453.9 437.5 454.2 431.7 454.8 481.3 455.4 504.7 455.8 486 455.9 497.5 456 503.3"/>
<path class="cm" d="M452 275.9 452 305.9 452.5 312.9 454 369.9"/>
<path class="cl" d="M455.1 393.5h0"/>
<path class="cb" d="M456 357.9 456.3 336.4 456.6 371.3 457.2 323.8 457.7 436.5 458.3 294.6 458.4 419.8 458.5 382.8 458.7 451.7 459.2 360.3 459.5 449.5"/>
<path class="cu" d="M457.3 479.5 457.3 498.3 457.4 459.3 457.8 472.4 458.2 510.8 458.6 458.4 459.3 452.2 459.4 461.3"/>
<path class="ck" d="M456.2 451.4 456.3 460 456.8 448.5 458.8 450.9 458.9 494 459.6 450.3 459.7 507"/>
<path class="cd" d="M457 461.5 457.1 433.5 457.2 427.3 457.4 460.1 457.4 503.9 457.5 456.7 457.7 442.9 458.1 505.5 458.1 450.8 458.2 448.2 458.3 426.7 458.5 394.1 458.7 439.7 459 504.8 459.2 460.5 459.3 455.2 459.3 492.4 459.4 429.2 459.4 506.8 459.5 450.1 459.5 511.3 459.6 490.6 459.7 463.1 459.7 461.9"/>
<path class="cv" d="M456.1 504 456.3 490 456.4 438.2 456.4 459.9 456.7 493 456.8 499.3 456.9 497 456.9 446.4 457 455.2 457.1 509.7 458.6 509.9 458.7 496.8 458.9 436.9 459 492.9 459.1 476 459.2 460.6 459.3 500.7 459.3 467.3 459.3 451.3 459.5 448.7 459.5 455.8"/>
<path class="cm" d="M456 313.9 456 317.9 458.1 395.6 458.6 347"/>
<path class="ck" d="M460.2 452.6 460.3 507.4 460.4 509.3 460.5 484.1 460.7 445.2 461.2 498.8 462.4 457.6 462.7 428.6 462.9 498.7 463.6 428 464 438"/>
<path class="cv" d="M460.1 504.1 460.2 511.1 460.5 488.8 460.7 479.1 460.8 506.8 460.8 508.8 460.9 498 461.2 442.8 461.2 499.4 461.3 429.4 461.4 497 461.6 442.1 461.7 501.4 461.9 487.9 462 492.9 462.1 457.2 462.2 458.5 462.2 508.1 462.3 484.6 462.4 511 462.4 503.9 462.4 483.3 462.8 490.9 463.1 493.1 463.1 431.9 463.6 440.6 463.7 502.6 463.9 441.3 463.9 457.3"/>
<path class="cd" d="M460.3 458.4 460.3 461.7 460.4 424.9 461 453.1 461.1 431.9 461.8 442.4 461.9 469.9 462.5 460.3 462.8 467.8 463.6 506.1 463.7 508 463.8 476.5 463.8 442.5 463.8 505.2 464 494.5"/>
<path class="cu" d="M460.6 484.5 461.3 512.4 461.8 458.6 462 457.1 462 436.9 462.8 453.7 462.8 505.3 463.5 426.2 463.5 452 463.5 502.9 463.8 480"/>
<path class="cb" d="M462.3 399.8 462.9 395.2"/>
<path class="cm" d="M460 333.9 461.7 356.4 463.9 421.2"/>
<path class="cl" d="M463.6 360.5h0"/>
<path class="cc" d="M460 265.9h0"/>
<path class="cd" d="M464 347.9 464 352.3 464.2 454.7 464.3 506.7 464.3 492.8 464.5 432.1 464.6 506.2 464.7 441.4 464.8 456.5 464.9 513.3 465.1 444.5 465.3 425.1 465.4 496.2 465.6 486.5 465.6 414.9 466.3 490.8 466.3 452.7 466.7 481.6 467.1 495.4 467.3 437.5 467.9 427.6"/>
<path class="ck" d="M465.4 407.1 465.6 441.1 466.1 484.8 467 480.2 467.3 454.2 467.4 509.8 467.6 493.8 467.7 510"/>
<path class="cb" d="M465.6 390.9 465.8 377.9 466.4 393.2"/>
<path class="cv" d="M464.1 477.6 464.2 425.4 464.2 440.7 464.2 500.6 464.3 495.1 464.4 460.7 465.2 499.5 465.3 457 465.3 426.1 465.3 511.4 465.4 437.1 465.8 498.7 465.9 438.6 466.2 498.9 466.6 475.4 466.7 502.3 466.7 508.1 466.7 455.2 466.8 458.6 466.8 494.7 467.1 505.9 467.9 503.3"/>
<path class="cu" d="M464.4 461.6 464.4 453.9 465.3 431.8 465.6 498.7 465.9 433.5 465.9 505.1 466 501 466.1 501.8 466.3 501 466.4 443.6 466.4 500.7 466.5 429.6 466.6 428.6 466.8 495.6 467.7 505.6"/>
<path class="cm" d="M464 305.9 465 347.8 466.7 395.5"/>
<path class="cl" d="M464 293.9h0"/>
<path class="cc" d="M466 281.9h0"/>
<path class="cy" d="M464 257.9 464 321.9 467 249.9"/>
<path class="cd" d="M468.4 486.6 468.4 444.6 468.7 458.8 469.1 487.4 469.5 509.8 469.5 509.6 470.2 507.9 470.6 467.9 470.9 460.1 471 453.3 471.6 442.2 471.7 452.5 472 508"/>
<path class="cv" d="M468.1 423.3 468.5 507.7 468.8 503.1 468.9 456.1 469 468.5 469.7 433.8 470.1 451.9 470.4 456 470.6 426.7 470.8 435 470.9 481.3 471 492.9 471.1 445 471.1 433.5 471.5 477.1 471.8 492.3 471.8 503.1 471.9 427.9 471.9 446.6 472 451.6"/>
<path class="cb" d="M468 365.9 469.5 336.2 471 305.4"/>
<path class="cu" d="M468.2 426.7 469 510.4 469 455.6 469.3 452.8 470 504.4 470 430.5 470.4 450.9 470.9 494.3 471 436.2 471.5 508 471.9 433 471.9 512.7"/>
<path class="ck" d="M469.5 455.1 469.6 472.8 470.2 496.1 470.4 429.5 470.4 497.1 471 434.3 471.2 458.1 471.7 502.5 471.8 456.7"/>
<path class="cm" d="M470.3 294.4h0"/>
<path class="cg" d="M470 337.9h0"/>
<path class="cv" d="M472.2 505.8 472.6 460.1 472.6 428.3 472.6 445.5 472.8 490.2 472.8 479.4 472.9 495.2 473.1 438.5 473.7 428.7 473.7 459 473.9 508.7 473.9 426.6 474.2 443.6 474.6 451 475.7 497.8"/>
<path class="cu" d="M472.1 433.5 472.2 429.6 472.5 422.6 472.6 504.6 472.9 430.9 473.4 512.6 473.7 479.7 475.3 490.2 476 476.7"/>
<path class="ck" d="M472.5 465.4 472.5 494.2 473.2 464.1 473.8 509.3 473.8 426.7 473.9 510.7 474.3 451.7 474.4 510 474.6 491.2 475.1 502.1 475.3 497 475.4 443.1 475.4 499.3"/>
<path class="cd" d="M472.1 403 472.4 452.8 472.6 505.8 472.8 431.2 472.9 496.4 473.3 423 473.7 433.4 474 452.8 474.2 468.9 474.6 487.9 475.3 470 475.3 452.1 475.4 452.1 475.4 449.4 475.8 498.8 475.8 487.2"/>
<path class="cb" d="M473.9 396.1 475 358.9 475.1 439.6 475.6 453.9"/>
<path class="cc" d="M474 281.9h0"/>
<path class="cy" d="M474 325.9 474 323.9"/>
<path class="cp" d="M475.7 170.1h0"/>
<path class="cd" d="M476.9 488.1 477.5 456.8 477.8 512.7 478.3 448 478.3 402.3 478.5 431.7 478.5 460.1 478.6 469.4 478.7 450 479 444.1 479.4 446.5 479.6 479.4 479.6 454.7 479.9 432.9"/>
<path class="cb" d="M476 293.9 478 270.9"/>
<path class="cu" d="M476.8 452.7 476.9 453.2 477.1 429.4 477.2 497.5 478.2 490.3 478.7 446.5 478.8 509.4 478.9 510.3 478.9 499.7 479.4 477.8 479.5 452.6 479.6 512.5 479.9 452.6"/>
<path class="ck" d="M476 428.8 476.3 488.7 477 452.9 477.1 421.8 479.5 470.2 479.5 449.4"/>
<path class="cv" d="M476.2 455.5 476.4 506.7 476.7 480.7 476.8 454.3 476.8 464.6 476.8 467.4 477 504.4 477.2 496.8 477.6 447 477.8 509.9 477.9 448 478.3 506.4 478.7 463.8 478.8 504.7 478.8 496.5 478.9 447.6 479.1 489.9 479.3 499.2 479.6 455.6 479.8 451.4"/>
<path class="cm" d="M476 391.9 477.8 377.1 478.2 345.3"/>
<path class="cl" d="M476.6 323.3h0"/>
<path class="cc" d="M478 289.9h0"/>
<path class="cg" d="M476 206.3 476 343.9 476 345.9 476 367.9 479 357.9"/>
<path class="cp" d="M477.7 145.4 478.2 158.5"/>
<path class="cu" d="M480.2 482 480.3 506.3 481.8 482.7 482 451.9 482.3 471.3 482.4 450 483.3 492.8"/>
<path class="cb" d="M480.2 329.8 480.6 314.5 482.4 460.8 482.4 449"/>
<path class="ck" d="M480 506.3 481.7 448.3 481.8 449.5 482 459.6 482.2 490.2 482.3 447.6 483 453.1 483.1 507.5 483.3 498.6"/>
<path class="cv" d="M480.1 499.3 480.9 444.9 480.9 502.7 481 468.3 481.2 447.6 481.5 448.6 481.7 448.5 481.7 510 481.8 449.7 481.9 438.4 482.1 511.9 482.4 431.1 482.6 457.1 482.6 450 482.6 452.6 482.7 450.6 483.4 485.3 483.8 441.5 483.8 469.6"/>
<path class="cd" d="M480 469.1 480.5 445.2 480.8 451.3 481.1 442.1 481.2 444 481.2 504.1 481.2 448.6 481.3 510.3 481.8 510.6 482 454.1 482.1 453.3 482.1 486.5 482.1 450.7 482.7 417.6 482.8 428.3 483.1 510.5 483.1 432.5 483.2 507.6 483.3 449.8 483.3 435 483.7 464.3 483.8 445.4 483.9 477.1"/>
<path class="cm" d="M480 401.9 480.3 393.3 483.1 382.6"/>
<path class="cl" d="M480 331.9 482 331.9"/>
<path class="cc" d="M482 283.9 482 283.9"/>
<path class="cg" d="M480 349.9h0"/>
<path class="co" d="M480 267.9 481 252.9 482.4 231.9"/>
<path class="cp" d="M480.1 129.3 480.3 160.5 480.3 152.5 480.3 122.8 482.3 144.4"/>
<path class="ck" d="M484 503.2 484.8 484.4 485.2 448.3 485.5 453.2 485.8 507.1 486.2 483.7 486.6 471.1 486.9 443"/>
<path class="cd" d="M484.2 503.5 485.1 470.6 485.2 508.4 485.4 449 485.7 431.5 486.2 471.2 486.4 465.6 486.8 448.3 486.8 481.1 487.1 508.4 487.6 453.1 487.7 512.1 487.8 480.2 487.9 467.3 488 492.8"/>
<path class="cu" d="M484.1 502.7 485 447.3 485.2 449.9 485.4 470.4 485.9 483.1 486.1 502.4 486.6 500.6 486.8 449.5 487.1 485.4 487.2 432.8"/>
<path class="cb" d="M485.6 398.2 486.5 411.2 486.6 401.2 486.6 445.2 487.9 457.7"/>
<path class="cv" d="M484.6 434.5 484.7 445.1 485 498.7 485.2 446.2 485.3 468.2 485.5 504.3 485.5 445.6 485.6 503.6 485.6 473.5 485.6 445.5 485.9 489.3 486.1 485.2 486.2 473.6 486.2 446.4 487.6 471.2 487.9 445.6"/>
<path class="cm" d="M486 393.9h0"/>
<path class="ck" d="M488 481.2 488.3 455.2 489.1 435.7 489.2 503.5 490.1 437.2 491.2 448.5"/>
<path class="cb" d="M488 295.9 488 305.9 488 297.9 488 306.9"/>
<path class="cd" d="M488 453.2 488 497.8 488.3 502.6 488.3 433.2 488.4 460.9 488.7 449.2 489.1 449.4 489.4 479.7 489.7 447.7 490 470.1 490.1 491.5 490.7 415 490.7 437.4 490.9 454.7 491.1 470.1 491.1 481.9 491.2 507.6 491.4 479.3 491.5 445 491.7 513.3 491.9 450.7"/>
<path class="cv" d="M488.2 448.2 488.3 456.3 488.3 512.4 489 498.9 489.3 489.1 489.3 474.4 489.4 509.6 489.4 508.1 490.1 432.2 490.4 508.5 490.5 508.3 490.6 429.8 490.8 474.3 491 504.6 491.2 474.2 491.3 501.7 491.6 453 491.8 472.4"/>
<path class="cu" d="M488.1 433.1 488.1 445.4 488.7 493.5 489 509.1 489.6 498.7 490 452.1 490.2 431.9 490.6 456.7 490.8 471.3 491 509.7 491.8 449.9 491.9 466.7"/>
<path class="cb" d="M495 377.9 495.1 448.8"/>
<path class="cv" d="M492.1 448.1 492.1 466.2 492.5 508.9 492.5 488.5 492.6 428.2 492.7 493.5 493.7 479.7 494 477.4 494 430.2 494.3 503.3 494.3 447.2 494.5 473.6 494.5 454.1 494.5 435 495.3 476.3 495.3 512.4 495.5 477.8 495.9 431.6 495.9 430.3"/>
<path class="cu" d="M492.1 463.8 492.4 457.7 492.8 453.9 492.9 457.6 493.4 491.6 493.7 492.2 494.9 498.9 495.3 448.8 495.6 474.3"/>
<path class="ck" d="M492.2 443.1 492.6 427.8 493.3 510.4 493.7 504 493.8 477.2 494.4 477.9 494.5 478.7 494.5 433.3 494.9 475.9 495.4 459.8"/>
<path class="cd" d="M492.1 405 492.1 498.1 492.2 512.7 492.5 477.5 492.8 508.4 493.1 451.4 493.1 429.2 493.5 475.7 493.8 470.6 494.1 471.3 494.5 502.5 494.7 430.2 494.8 473.1 495.1 500.1 495.1 432 495.6 486.1 495.8 505"/>
<path class="cl" d="M495 348.9h0"/>
<path class="ck" d="M496.1 495.8 497.3 510.8 497.3 452 497.4 455.5 497.5 447.9 498.2 431.8 498.3 450.3 499.2 463.2"/>
<path class="cu" d="M496.6 482 496.7 500 497.4 484.2 497.5 479.5 498 472.5 498.2 470.7 498.8 476.7"/>
<path class="cv" d="M496 481.5 496 506.4 496.5 476.5 496.7 445.1 496.7 475.7 497 456.1 497.4 512.9 497.5 469.7 497.6 479.1 497.8 495.9 497.9 479.8 497.9 482.5 498.2 457.5 498.2 487.3 498.6 513.2 498.6 510.9 498.8 479.7 498.9 432.7 499.3 448 499.4 500.2 499.9 496.6 499.9 477.4 500 499.8"/>
<path class="cb" d="M496 366.9 496 397.9 499.6 386.1"/>
<path class="cd" d="M496.2 474.7 496.3 451.3 496.3 492.9 496.4 469.1 496.7 447.6 498 475.9 498.6 478.2 498.7 462.5 499.2 420 499.2 480.6 499.5 482.1 500 421.1"/>
<path class="cl" d="M499 344.9 499 343.9"/>
<path class="cv" d="M500 467.2 500.1 508.7 500.2 469.5 500.5 501.8 500.7 450.9 500.7 490.8 500.8 477.3 500.8 418.8 500.8 440.1 501.1 449.9 501.1 480.1 501.3 477.4 501.4 479.1 501.4 507.6 501.7 499.9 502 472 502.4 443.7 502.7 505.5 502.9 497.4 503.6 471.6 503.7 433 503.8 500.3 503.8 469.7"/>
<path class="cu" d="M500.3 418.2 500.6 473.2 500.7 483.5 500.9 504.9 501.2 421.6 501.3 485.6 501.3 484 501.6 513.7 501.7 478.7 502.1 497.5 502.4 449 502.4 481.9 502.4 499.5 502.9 501.2 503.3 511.6 503.8 514"/>
<path class="ck" d="M500.3 451 500.7 467 501.6 453.4 502 480.8 502.6 448.1 502.6 467.2 503.4 464.6 503.6 510.9 503.7 505"/>
<path class="cd" d="M500.1 476 500.3 506.4 500.6 451.7 501.1 456.4 501.2 447.3 501.2 449.5 501.3 512.1 501.4 456.5 501.5 461 502.4 506.2 502.4 460.6 502.7 420.7 502.7 415.4 503 472.4 503.8 477.1"/>
<path class="cb" d="M500 297.9 500 297.9 502.1 438.4 502.3 403"/>
<path class="cv" d="M504.3 485.8 505.5 492.9 506 416.8 506.5 482.5 506.6 478.1 507 414.4 507.2 474.5 507.4 478.1 507.7 477.1"/>
<path class="cb" d="M505 394.7 505 381.9 506 426.6 506 399.9 506.9 449.2 507.4 390.9"/>
<path class="ck" d="M504.1 468.2 504.5 481.6 504.7 480 505.2 487.5 505.3 502.5 505.6 417.2 505.8 484 506.6 510.3 506.7 473.4 507.5 421.2"/>
<path class="cd" d="M504.2 426 504.2 484.2 504.3 457.1 504.5 481.7 504.8 473 504.8 412.2 505.2 481.6 505.3 505.4 505.5 481.9 505.8 484.5 506.2 456.1 506.3 447.8 506.4 476.6 506.6 450.4 506.6 488.9 506.8 470.8 507.1 482.9 507.6 478 507.9 510.9"/>
<path class="cu" d="M504.7 476.3 504.9 490.7 505.5 474.7 505.6 497.7 506.2 512 506.6 494 507.7 495.3 507.9 499.4"/>
<path class="ck" d="M508.4 483.2 508.7 505.3 509 437.7 509.2 467.1 509.7 482.6 510.3 454.8 510.6 444.5 510.7 461.9 511.1 508.5 511.5 504.8"/>
<path class="cv" d="M508.1 506.7 508.3 455.2 508.4 481.1 508.5 480.4 508.5 503.2 508.7 510.5 509.1 421 509.7 491 510 416.9 510 508.1 510.4 498.4 510.4 479.4 510.5 480.4 510.6 505 511 483.4 511.1 450.2 511.4 480.1 511.8 476.8"/>
<path class="cu" d="M508.1 493.9 508.6 499.1 508.9 468.1 509.9 475.6 510.2 499.2 510.3 485.9 510.6 416.9 510.8 505.2 511.1 455.5 511.7 500.5"/>
<path class="cd" d="M508.1 485.4 508.1 474.6 508.3 498.1 508.8 472.6 509.5 505.1 510.4 468.5 510.9 475.5 511 416.3 511.3 432.9 511.3 480.3"/>
<path class="cb" d="M508.9 412.7 511 387.9"/>
<path class="cm" d="M509.6 395.9h0"/>
<path class="cl" d="M508 346.9 511 344.9"/>
<path class="ck" d="M512.6 505.7 512.7 500.8 512.9 473.2 513.1 514 513.8 502.4 513.8 459.8 513.9 422.4 515 450.1"/>
<path class="cb" d="M513 298.9 513 358.9 513.9 398.6 514 297.9 514.6 405.9"/>
<path class="cu" d="M512.2 511.1 512.2 480.6 514.3 486.1 514.4 506.9"/>
<path class="cv" d="M512.3 463.8 512.5 491.2 512.6 508.3 513 503 513.9 506.8 514.3 447.3 514.7 450.8 515 502.6 515.1 418.3 515.7 491.4 515.7 497.6"/>
<path class="cd" d="M512 355.9 512.1 485.2 512.1 492.4 512.2 413.2 512.5 449.1 512.5 495 512.8 452 513.2 467.3 513.3 498.3 513.6 418.5 513.8 449.6 514 512.7 514 460.9 514.4 483.9 514.4 457.1 514.6 479.2 514.8 509.4 515.2 470.5 515.6 483.9 515.8 511"/>
<path class="cm" d="M514.6 403.7h0"/>
<path class="cc" d="M513 284.9 513.6 284.3"/>
<path class="cu" d="M516.9 500 517.3 504.9 517.4 422 518.5 493 518.5 463.6 519 500 519.9 513.2"/>
<path class="cd" d="M516.3 485.2 516.6 476.6 516.9 479.5 517 448.8 517.2 508.5 518.6 465.1 518.8 463.1 519.2 437 519.4 506.2 519.5 502.5 519.8 441.2 520 498.5"/>
<path class="cv" d="M516.6 512 516.6 511 516.8 503.2 516.8 511.9 517.4 506.2 517.5 452.2 517.5 486.6 517.5 505.3 518.4 506.8 519.2 449.9 519.5 490.5 519.8 482.6 519.8 480.6"/>
<path class="ck" d="M517 417.1 517 469.8 517 509 517.2 446.5 517.6 510.5 517.8 408.1 519.8 507.4"/>
<path class="cb" d="M518 389.9 518.2 417.1 519 302.9 519.7 384.2"/>
<path class="cl" d="M518 334.9 519 333.9"/>
<path class="cu" d="M520 460.9 521.3 485.5 522.4 503.1 522.8 478 523.3 509.9 523.4 480.1 523.4 431.5 523.8 469.5"/>
<path class="cd" d="M520 347.9 520.3 422 520.3 497.2 520.5 507 520.7 421.9 521.1 460.3 521.1 415.6 521.2 504.9 521.9 419.8 521.9 495.4 522.7 501.9 522.8 501.1 522.8 486.3 522.9 467.1 523.5 511 523.6 506.1"/>
<path class="cb" d="M521.7 388 522 399.9 523 299.9"/>
<path class="cv" d="M520.3 501 521.1 494.8 522 506.6 522.2 491.8 522.4 421 522.6 443.1 522.8 479.6 523.5 423.2 523.7 508.3"/>
<path class="ck" d="M520.5 458.7 520.6 507.1 520.7 454.6 521.4 506.1 521.4 448.3 522.1 510.9 522.9 507.9 523.8 474.6"/>
<path class="cd" d="M524.2 456.7 524.3 502.6 524.6 504.1 524.8 473.2 524.9 469 525.2 425 525.2 465.9 525.6 406.3 526.2 467.4 526.4 453.9 526.4 464.6 526.4 459.9 526.7 466.5 526.7 458.6 527.3 471.4 527.7 500.7"/>
<path class="cu" d="M524.2 463.1 524.5 483.1 524.7 513.4 525.7 465.6 526.7 424.8 527 454.4 527.3 502.2"/>
<path class="cb" d="M524 299.9 524 348.9 524.3 425.3 525 359.9"/>
<path class="ck" d="M524.6 435.5 524.9 463.5 524.9 506.9 525.8 506 525.8 500 526 493.3 526 473.9 528 482.6"/>
<path class="cv" d="M524 512.6 524.1 504.2 524.2 501.3 524.6 466.7 524.8 449.4 524.9 505.9 526.1 466.4 526.2 497.3 526.3 513.5 526.8 502.4 526.9 508.6 527.2 506.5"/>
<path class="cv" d="M529.2 485.5 529.5 421.2 529.7 493.8 529.7 507.2 529.7 408.4 529.8 465.2 529.9 505.5 530.1 475.1 530.1 427.5 530.2 501.3 530.3 479.7 530.5 422.4 530.7 451.1 530.7 505.2 530.9 474 530.9 509.1 531 466.2 531.1 506.2 531.3 464.1 531.7 469 532 478"/>
<path class="cu" d="M528.1 470.8 528.2 473.9 528.5 486 528.9 513.8 529.2 464.3 529.6 499.5 529.8 486.1 530.8 492.9 531.5 427.3 531.5 467.8 531.7 496.8"/>
<path class="cb" d="M528 305.9 528 305.9 528 389.9 529.5 413.5 529.5 417.1"/>
<path class="cd" d="M528.2 461.2 528.7 497 528.9 426.9 529.1 442.1 529.7 399.7 530 351.9 530.2 457.7 530.5 422.7 530.9 511.7 530.9 435.4 530.9 422.3 531.1 447.7 531.2 513.7 531.8 456.8 531.9 491.3"/>
<path class="ck" d="M528.3 475.5 528.6 513.4 529 462.6 529.2 510.4 530.2 419.1 530.5 391.4"/>
<path class="cu" d="M532.6 508.8 532.6 501 532.8 482.7 533.1 421.7 533.2 512 533.3 421.1 533.4 481.6 533.6 511.1 534.4 433.8"/>
<path class="cv" d="M532 487.9 532.1 465.3 532.3 452.9 532.5 500.9 533.2 470 533.6 440.3 533.9 481 534.6 456.3 534.7 503.9 535.1 487.1 535.6 423.8 535.6 500.8 535.7 448.7 535.7 489.1"/>
<path class="cb" d="M532 260.3 534 295.9 534 294.9 534.6 392.8 535.4 459 535.8 471"/>
<path class="cd" d="M532.1 463.9 532.2 459.9 532.2 465.2 532.4 394.7 532.4 455 533.2 504 533.4 422 533.5 510.9 533.9 403.4 533.9 503.6 534.2 438.3 534.5 456 535.3 491.2 535.9 495.5 535.9 513 535.9 458.2"/>
<path class="ck" d="M532.2 420.3 532.8 506.1 533.1 466.3 533.2 471.7 533.3 505.9 533.5 506.4 534.1 470.2 535.2 468.3 535.2 496.5"/>
<path class="cl" d="M534 339.9 534 338.9"/>
<path class="cd" d="M536.1 462.8 536.2 493.8 536.7 501.5 536.7 481.6 537.1 510.9 537.1 469.2 537.3 465.5 537.5 436.4 537.8 513.7 537.8 511.7 537.9 492.4 538 355.9 538 418.6 539.3 483.7 539.4 497.3 539.9 474.8"/>
<path class="cb" d="M536 305.9 536 308.9 536 349.9 536.5 469.7 537 357.9 539 450.3 539.5 441.2 539.6 456.3"/>
<path class="cu" d="M537.5 505.8 538.1 451.5 539.2 451.9 539.3 469.7 539.7 507.6 539.9 507.2"/>
<path class="cv" d="M536.1 503.3 536.7 419.3 537.1 487.1 537.8 507.3 537.9 464.3 538 451.3 538.1 495.5 538.1 508.1 538.2 487.2 538.2 489.3 539 424.4 539.2 505.7 539.5 418.3 539.8 475.8"/>
<path class="ck" d="M536.1 503.2 536.3 422.6 536.5 444.5 537.1 502.9 537.4 471.1 537.7 464.2 537.8 511.5 537.9 413.7 537.9 500.7 538.2 504.4 538.4 505.5"/>
<path class="cv" d="M540.8 484.7 541.1 507.1 541.4 502.6 541.8 491.3 541.9 462.7 542.3 503 542.5 452.8 542.7 501.3 543.2 428 543.6 482.3 543.8 509.9 543.9 454.8"/>
<path class="ck" d="M540.7 424.7 541.6 399.1 542.5 466.4 543.1 484.9 543.8 496.2"/>
<path class="cu" d="M540.6 498.6 542.1 483.5 543.1 511 543.9 489.1"/>
<path class="cd" d="M540 512.1 541.1 509.4 541.1 487.9 541.1 457.7 541.3 451.9 541.4 436.4 541.7 469.5 542 454.7 542.7 427 542.7 452.7 543.2 455.5 543.3 491.1 543.3 504.8"/>
<path class="cb" d="M541.8 443.4h0"/>
<path class="ck" d="M546.4 471.9 546.5 430.8 546.6 457.3 547 463.9 547.5 451.5 547.5 507.5 547.9 469.4 547.9 474.2"/>
<path class="cb" d="M545 292.9 545.1 390.4 546 293.9"/>
<path class="cv" d="M544.1 447 544.2 502.1 544.9 514.1 545 468.4 545.1 509.3 545.3 496.4 545.8 506.1 546.1 512.1 546.3 482.6 546.4 507.9 546.5 447 546.9 504.5 547 502.7 547.8 496.2"/>
<path class="cd" d="M544.1 477 544.5 504.5 544.7 497.7 544.8 411.7 545 473.4 545.5 479.9 546 449.2 546.6 451.6 547 511.1 547.3 504.7 548 483.2"/>
<path class="cu" d="M544.9 476.6 544.9 452 545.3 506.3 545.9 472.7"/>
<path class="cm" d="M544.8 395.9 547 322.9"/>
<path class="cd" d="M548.5 470.5 548.8 415.7 549.1 413.4 550.4 454.9 550.6 493.7 550.6 463.4 551.4 454.5 551.8 490.1"/>
<path class="cv" d="M548.6 439.8 548.7 484.9 548.8 408.6 548.9 488.7 549.1 504 549.1 416.3 549.3 466.6 549.5 453.1 549.6 484.8 549.8 503.4 550.8 512.9 551.1 512.3 551.2 494.5 551.8 505.7"/>
<path class="cu" d="M548.2 511.8 548.5 500.8 548.6 512.6 548.7 452.3 549.8 452.1 549.8 507.6 549.9 496.6 550.3 496.1 551 424.3 551.1 437.1"/>
<path class="cb" d="M549.6 450.9 550.5 462.5 551.2 407.3 551.6 455.6"/>
<path class="ck" d="M548.3 491.3 549.2 435.3 549.9 456.2 551.1 512.1 551.2 464.4 551.2 452.6 551.9 484.4"/>
<path class="cm" d="M548 322.9h0"/>
<path class="cv" d="M552.1 509.9 552.4 500 552.4 496.3 552.4 424.5 552.6 455 552.9 489.7 553 478.7 553.5 486.4 555.2 504.2 555.6 491.3 556 470.3"/>
<path class="cu" d="M552.5 509.2 552.5 449 554.2 503.5 556 460.2"/>
<path class="cd" d="M552.2 508.2 553.2 483.2 553.2 391.4 553.3 476.3 553.4 505.5 553.4 493.9 553.5 488.9 554 500.6 554.4 486.9 554.8 491.5 555 503.2 555.3 508.7 555.4 453.3 555.4 455.3 555.7 512.7 555.8 419.3 555.9 480.6 556 482.7"/>
<path class="ck" d="M552.4 457 553.6 450.5 555.4 458.9 555.7 461.7"/>
<path class="cb" d="M555.5 463.8 555.6 399.5 555.7 412.7"/>
<path class="cb" d="M556 319.9 556 318.9"/>
<path class="cu" d="M556.4 494.3 558.4 498.1 558.9 500.3 559.3 480.4 559.8 463.9"/>
<path class="cd" d="M556.2 509.9 556.3 457.7 556.3 484 556.5 505.1 556.5 454.5 557.8 452.1 557.8 507.3 558 488.4 558.7 458.2 558.7 493.5 559 465.2 559.2 489.8 559.3 488.2 559.7 502.6 559.8 505.9 559.8 488"/>
<path class="cv" d="M557.1 457.6 557.5 497.9 557.6 512.4 557.6 462.3 557.6 510 558 418.6 558.4 454.1 558.6 502 559.2 500.8 559.2 507.5 560 511.5"/>
<path class="ck" d="M557.2 509.6 557.2 440.1 557.2 412 557.7 423.8 558.7 487.2 558.8 492.2 559.3 488.2 559.5 458.4 559.6 438.8 559.7 474.9 559.8 415.2 559.9 467"/>
<path class="cm" d="M557.9 392.6h0"/>
<path class="cl" d="M559 330.9h0"/>
<path class="ck" d="M560.3 489.5 560.4 459.7 560.5 446.3 560.6 421.2 561.4 513.5 561.7 455.9 562.3 461.3 563.1 455.8"/>
<path class="cv" d="M560.1 507.2 560.2 449.7 560.9 489.5 561.1 508.7 561.4 421.8 562.2 423.7 562.3 421.7 562.7 458.3 562.9 493.9 563 511.7 563.2 497.6 563.7 506.9 563.8 454.3 563.8 513.5"/>
<path class="cb" d="M560.3 399.7 561 298.9 561 298.9 562.2 386.2 563 298.9"/>
<path class="cu" d="M560.4 483.1 560.5 451.3 560.8 469.4 561.6 512.9 561.6 485.6 561.7 424.2 562.5 459.3 562.8 494.7 562.8 500.1 563.3 490.8 563.6 487.4"/>
<path class="cd" d="M560 347.9 560 347.9 560.3 420 560.6 452.9 560.8 460.8 560.8 454.1 561.1 491.6 562.2 484.7 562.4 496.4 562.5 470.8 562.6 422.5 563.1 465.8 563.2 462.4 563.5 442.7 563.6 457.7 563.7 481.2 563.8 514 563.8 461.4"/>
<path class="cm" d="M562.4 417.9 563.2 404.9"/>
<path class="cl" d="M560 329.9 560 330.9 563.1 394.9"/>
<path class="cd" d="M564.1 459 564.5 488.7 564.5 487.9 565 452.7 565.3 489.7 565.6 478 565.7 501.3 566.6 456.2 566.7 458.7 566.9 491.4 567.8 481.5 567.9 504.2 568 424.5"/>
<path class="cv" d="M564.3 445.8 564.3 500.3 564.4 424.3 564.4 489.1 564.5 508.2 564.5 482.7 564.7 458.9 564.7 421.7 564.8 460.8 565 490.5 566 422 566.3 443.4 567 508.6 567 463.5 567.2 419.1 567.3 488.6 567.3 506.9 567.5 495.7"/>
<path class="cu" d="M564 458.8 564 500.2 564.6 477.3 564.9 490.1 564.9 499.4 565.7 461.3 566.2 460.2 566.7 512.5 567.6 509.4 567.9 502.6"/>
<path class="ck" d="M564.8 504.3 565.1 469.8 566.1 489.3 566.1 461.9 566.2 453.9 566.6 494.6 567.2 433.9 567.5 500.6 567.8 459.1"/>
<path class="cb" d="M564.1 392.5h0"/>
<path class="cb" d="M569 282.3 569 282.3 569 282.9 569.6 392 570 337.9 570 391.9 571 336.9"/>
<path class="cd" d="M568.5 457.1 569.6 490.1 569.8 456.7 569.9 425.6 570.3 491.5 570.6 451.3 570.7 485.5 570.8 437.8 571 337.9 571 318.9 571 318.9 571.5 458.9 571.6 491.5"/>
<path class="cu" d="M568.2 512 568.4 474.4 569.3 477.2 569.3 450.8 569.6 500.4 569.6 471.9 569.8 482.4 569.9 504.5 570.5 463.4 570.7 458.2 571.4 418.4 571.8 481.1"/>
<path class="cv" d="M568 482.1 568.5 468 568.9 512.7 569.2 445.7 569.4 418.3 569.7 503.2 569.7 489.9 570 318.9 570.5 459.1 570.8 457.7 570.8 499.3 571.5 413 571.7 504.7"/>
<path class="ck" d="M568.1 487 568.3 494.5 568.5 491.1 568.7 507.6 569.3 453.4 569.4 491 569.8 458 570.1 468.3 570.5 413.7 570.9 473.6 571.1 459.9 571.1 492.3 571.3 460.5 571.6 503.4"/>
<path class="cl" d="M571 351.9h0"/>
<path class="cv" d="M572 500.6 573.4 502.9 573.5 421.4 573.9 461.1 573.9 477.1 574.4 437.2 574.5 506.1 574.5 505.6 575 513.9 575 496.1 575.8 509.5 576 505.9"/>
<path class="cu" d="M572 508.7 572.8 511.3 573.8 472.8 574.1 465.5 574.4 450.5 574.9 471.8 575.5 491.8 575.6 442.2"/>
<path class="ck" d="M572.4 476.1 572.5 497.9 573.9 486.8 574 509.2 574 461.1 574.2 500.1 574.4 446.2 574.9 417.9 575.8 483.4"/>
<path class="cb" d="M572 352.9 572 371.9 575 458.5"/>
<path class="cd" d="M572 351.9 572.6 497.9 573.6 468.5 573.9 488 574.4 500.6"/>
<path class="cl" d="M574 363.9h0"/>
<path class="cv" d="M576.8 502.6 577.3 493.2 577.4 473.2 577.4 477.4 578.8 483.7 579 497.5 579.1 501.6 579.2 510.4 579.3 489.8 579.4 509.3 579.4 500 579.6 464.3 579.7 488.7 579.8 485.7"/>
<path class="cd" d="M577.1 421.3 577.3 490.1 578.1 500.3 578.5 499.1 578.7 491.7 579.2 464 579.3 496.3"/>
<path class="ck" d="M577.7 473 578.1 485.2 579.6 441.1"/>
<path class="cb" d="M578 277.9 578 386.9"/>
<path class="cu" d="M577.3 454.3 577.7 508.7 577.8 506 578.3 458.4 578.6 475.9"/>
<path class="cu" d="M580.5 509.8 580.6 501.6 580.7 510.8 581.3 472.9 581.6 498.9 582.4 483.3 582.8 501.4 582.9 490.6"/>
<path class="ck" d="M580.9 510.8 581.9 462.8 582.6 504.6 583.3 418.3 583.6 403.3"/>
<path class="cd" d="M580.1 482.8 580.2 460 580.2 436 580.4 505 580.5 460.5 580.7 479.4 581.5 437.8 581.6 454.3 581.6 498.6 581.8 463.9 582.3 475.9 582.4 501.7 582.5 497 582.6 442.8 583.2 511.2"/>
<path class="cb" d="M580 305.9 580.5 466.4 581.1 420.5 582 278.9"/>
<path class="cv" d="M580.1 504.9 580.2 505.7 580.3 451.5 580.4 462.2 581.8 490.8 581.9 418.4 582.5 506.2 582.6 501.5 582.7 474.5 583 511.2 583.2 458.6 583.3 512.8 583.7 464 583.9 445.2 584 486.4"/>
<path class="cm" d="M581.9 426.5 582 275.9 582.4 307.5 583 306.9"/>
<path class="cv" d="M584.3 486.7 584.4 510.6 584.7 503.3 585.3 507.8 586.2 463.6 586.7 475.7 586.9 511.6 587 477.2 587.1 482.9 587.2 460.8 587.3 501.7"/>
<path class="cd" d="M585 479.3 585.6 451.9 586.2 464.3 586.2 444.6 586.5 475.1 587 496.5"/>
<path class="ck" d="M584.1 450.5 584.2 464.3 584.3 507 585.6 491.8 585.7 503.5 585.7 480.1 585.8 466.8 586 477.4 586.2 427.8 586.5 500.5 586.6 467.6 587.2 467.3 587.5 450.5 587.7 485.6 587.7 488.2"/>
<path class="cu" d="M584.1 496.4 585.4 463.4 585.6 487.5 585.8 507.4 585.8 510.7 586.5 505.7 586.8 500 587.3 507.5"/>
<path class="cb" d="M586.6 457.4 586.9 411.3"/>
<path class="cm" d="M584 273.9h0"/>
<path class="ck" d="M588.2 480.1 588.9 475.6 589.8 469.4 590.2 450.8 591.2 497 591.3 500.1 591.6 484.7"/>
<path class="cb" d="M588 287.9 589 288.9 591.6 245.9"/>
<path class="cd" d="M588.9 497.2 589 479.9 589.7 487.5 590 470.9 590 493.4 590.2 500.7 590.4 458.4 590.6 495.3 590.7 501.6 590.8 513.1 590.8 469.7 591.2 508.5 591.3 476.6 591.5 511.1 591.8 487.5"/>
<path class="cu" d="M589 459 589.4 510.8 589.7 494.8 590.1 478.2 590.4 511.8 591 462.9 591.2 493.5 591.7 469.4 592 495.2"/>
<path class="cv" d="M588 461.5 588.1 508.2 588.1 511.9 588.2 479.5 588.7 491.5 588.9 488.7 589.3 484.2 589.3 440.7 589.3 477.6 589.4 423.8 589.5 506.8 589.5 470.1 589.7 503.3 589.7 466.3 590.2 485.1 590.5 469.6 590.8 496.7 590.9 463.9 590.9 465.5 591.1 482.5 591.8 479 592 500.2"/>
<path class="cm" d="M588.4 402.7 590 344.9"/>
<path class="cl" d="M588 359.9 590 349.9 590 369.9"/>
<path class="cv" d="M592.1 505.1 592.2 509.4 592.3 427.2 592.6 490.4 592.8 461.1 592.8 451.2 593.3 462.6 593.4 446.8 593.4 461.3 593.5 459.1 594 453.3 594 489.4 594 497.6 594.1 415.2 594.3 462.3 594.5 498.6 594.9 505 595.1 501.7 595.7 491"/>
<path class="cd" d="M592 484.9 592.6 463.1 592.7 510.4 592.9 487.3 593 491.8 593.1 474.2 593.2 467.7 593.7 464.4 593.7 467.4 593.8 500.7 594 483.8 594.2 473.6 594.3 481.3 594.4 464.6 594.6 475.9 595 490.1 595.1 510.9 595.2 491 595.2 449.4 595.3 442 595.6 488.5 595.9 463.4"/>
<path class="ck" d="M592.1 498.6 592.3 460.5 592.3 485.2 592.8 482.8 592.8 505.7 593.7 499.4 593.8 487.3 593.9 489.6 594.6 478.3 594.8 481.5 594.9 489.2 595.3 479 595.6 461.3 595.7 474.9"/>
<path class="cu" d="M592 480.9 593.1 453.6 593.9 489.9 594.1 498.8 594.3 468.5 594.8 512.4 595 507.1 595.2 494.7 595.3 502.3 595.4 486 595.7 436.8"/>
<path class="cb" d="M592.8 454.7 593 232.3 595 282.9 595.9 406.7"/>
<path class="cl" d="M592 351.9 592 341.9"/>
<path class="ck" d="M596.6 481.6 596.7 500.6 597 420.9 598.2 486.1 598.5 489.5 598.9 504.4 599.4 467.5 599.5 466.9 599.9 486"/>
<path class="cb" d="M596 282.9 596 310.9 596 310.9 597.8 389.9 598 361.9 598.6 420.3 599.9 452.8"/>
<path class="cv" d="M596.4 493.1 597.7 511 598.2 500.3 598.2 491.6 598.7 508.6 598.9 499 598.9 500.7 599 452.7 599.1 500.8 599.5 497.4 599.5 492.8 599.6 455 599.8 488.2"/>
<path class="cd" d="M596 486.9 596.3 489.1 597 486.6 597.2 477 597.3 480.2 597.3 463.8 597.6 488.5 597.8 510.4 597.9 496.9 597.9 479.7 598 462.3 598.1 481 598.6 508.7 598.8 493.4 599.3 464.6 599.4 485.4 599.7 452.5 600 503.9"/>
<path class="cu" d="M596.7 484.1 596.9 513.7 597 456.6 597.4 481.7 598.1 449.5 598.3 485.8 598.8 460 598.8 499.1 599.4 506.6"/>
<path class="cm" d="M598 339.9 598.3 388.5 598.5 413.9"/>
<path class="cl" d="M597 342.9h0"/>
<path class="cd" d="M600.1 504.6 600.2 503.3 600.2 465.5 600.5 455.4 600.6 470.5 600.8 478 601 493 601.5 476.6 601.6 490.5 602.1 491.8 602.1 451.2 602.3 465.9 602.5 454.1 603 479.2 603.6 474.3 603.7 478.2 603.7 505.5 603.8 499.7 603.8 389.6 603.8 450 603.8 472.9"/>
<path class="cv" d="M600.2 510.5 600.3 501.5 600.5 470.8 600.6 484.9 600.6 486.6 600.7 498.4 600.9 504.8 601.4 505 601.7 466.7 601.8 501.3 602.7 505.1 602.8 488.3 603 513.4 603.1 461.1 603.2 476.1 603.5 492.2 603.5 449.7"/>
<path class="cu" d="M600.7 485.4 600.8 480.1 600.9 488 601.1 475.1 601.1 496.6 601.3 476.9 601.5 484.6 602 443.8 602.4 423.9 602.7 506.6 602.8 510.7 603.2 467.4 603.4 487.4 603.6 503.9 603.6 492 603.8 488.8 603.8 513.3"/>
<path class="cb" d="M600 351.9 600 373.9 600.5 399.1 601 272.3 602 273.9"/>
<path class="ck" d="M600.1 458.3 600.9 479.8 601.5 420.5 602.3 494.4 602.3 458.2 602.5 484.1 602.7 477.9 603.3 493.2"/>
<path class="ck" d="M605.1 457.3 605.2 474.4 605.5 477.2 605.6 424.1 606 500.2 607 488.2 607.3 426.4 607.4 470.5 607.5 485 607.7 501.2 607.9 485"/>
<path class="cb" d="M604.6 430.7 606 385.9"/>
<path class="cd" d="M604 309.9 604 424.9 604.1 471.1 604.2 480.1 604.4 329.5 604.4 328.9 604.6 493.2 604.8 468.3 604.9 482.2 605.1 490 605.1 420.1 605.6 510.8 606.3 464.3 606.4 469.6 606.5 406.7 606.9 449.5 606.9 486.5 607.4 390.7 607.4 490"/>
<path class="cv" d="M604.1 459.3 604.1 489.7 604.2 467.6 604.4 479.4 604.5 422.5 604.6 449.3 604.7 505.6 604.7 500.8 604.8 501.7 605.1 471.7 605.2 451.2 605.3 513.8 605.4 485.6 605.5 492 605.6 499.5 606 486.4 606.1 426.8 606.5 422.3 606.5 476.7 606.8 504 606.9 479.4 607.2 470.2 607.3 501.3 607.4 507.7 607.4 435.1 607.7 465.4 607.7 503.5 607.8 505.3"/>
<path class="cu" d="M604.2 508.2 605.6 487.5 606.3 499.8 606.4 453.6 606.7 495.2 606.8 503.1 607.3 507.2 607.5 500.7 607.6 491.9 607.7 491.8"/>
<path class="cv" d="M608 501.1 608.1 481.2 608.2 470.4 608.2 508.7 608.2 511.1 608.3 478.6 608.6 426.6 609.2 512 609.3 480.8 609.6 511.5 610.1 496.9 610.4 429 610.7 496.2 610.8 492.6 611.2 490.4 611.4 478.8 611.4 492.4 611.5 493.3 611.6 505 611.7 451.6 611.7 494.7"/>
<path class="cd" d="M608 310.9 608.2 485.5 608.3 476.9 608.3 475.7 608.3 449.8 608.7 493.7 608.7 496.6 609 457.1 609.2 450.9 609.3 503.9 609.6 499.2 609.7 440.3 609.8 490.8 609.8 470 610 357.9 610.2 453.3 610.3 422.6 610.3 512.2 610.6 487.9 610.7 461.9 611.3 504.1 611.4 455.7 611.6 493.4 611.6 499.5 612 475.9"/>
<path class="cu" d="M609 500.8 609 481.4 609.6 512.3 609.8 467.9 610.2 481.3 610.4 492.3 610.9 507 611.2 511.3 611.5 513.8"/>
<path class="ck" d="M608.1 493 608.6 423.4 608.7 469.4 609.3 492.5 609.6 494 610.3 465.1 610.9 482.9 611 422.1 611 458 611.5 464"/>
<path class="cb" d="M608 303.9 608 367.9 609.7 400.2 610 299.9 610 375.9"/>
<path class="cd" d="M612 425.4 612.2 496.3 612.2 448.6 612.3 496.8 612.3 487.9 612.4 505.9 612.6 477.4 612.6 504.2 612.8 502.4 612.8 442.6 612.9 475.8 613.1 423 613.1 492.6 613.4 423.8 613.4 481.6 613.4 453.6 613.5 475.8 613.7 491.9 613.9 499.7 614.1 506.7 614.2 511.6 614.3 425.6 614.5 466.4 614.6 503.8 614.9 493.6 614.9 494.4 615.1 496.2 615.4 477.4 615.9 510.4"/>
<path class="ck" d="M612.2 488.3 613.6 507.3 613.9 500.2 613.9 391.9 614.1 471.9 614.1 429.5 615.4 468.5 615.6 427.3 615.8 455.8"/>
<path class="cu" d="M612.5 511.7 612.6 499.6 612.9 473.5 613.3 481.5 613.6 508.2 614.5 494.4 615 495.2 615.6 494.5"/>
<path class="cv" d="M612.5 493 612.8 489.4 613.3 505.3 613.5 481.2 613.7 450.2 613.9 428.8 614 424.5 614 499.6 614.2 491.7 614.5 487.4 614.8 471.9 615.1 467 615.2 496.5 615.4 484.5 615.4 477.7 615.6 486.8 615.6 500.8 615.8 479.4"/>
<path class="cb" d="M612 291.9 613 289.9"/>
<path class="cl" d="M613.2 385.5h0"/>
<path class="cu" d="M616 473.5 617.9 501.1 618.1 513.2 618.2 447.3 618.3 491.9 618.5 501.5 619 460.5 619.2 431.7 619.9 468 620 495.4"/>
<path class="cd" d="M616.1 486.8 616.5 498.2 616.6 468.7 617 469.3 617.1 489.4 617.5 435 617.8 485.6 617.8 420.4 618.3 495.4 618.5 491.7 619.9 508.8 620 493.6"/>
<path class="cb" d="M617 283.9 617.9 391.5 618 307.9 618 350.9 618 349.9 618 393.9 619 307.9 619 294.9 619 282.9"/>
<path class="ck" d="M616.8 508.8 616.8 497.1 617.1 397.1 617.1 457.2 617.3 506.3 619.4 404.2"/>
<path class="cv" d="M616.1 505.5 616.3 485.4 616.5 489.7 616.5 481 616.6 488.8 616.7 453.8 616.8 489.2 617.1 510.4 617.6 488.5 617.6 500.7 617.8 490.4 618 504 618 505.1 618.1 495.3 618.2 440.6 618.4 496.2 618.5 489.5 618.9 492.1 619.1 490.6 619.9 505"/>
<path class="cv" d="M620.1 482 620.3 486.4 620.3 467.4 620.5 502.4 620.5 509.7 620.9 475.8 621.9 470.4 622.6 504.3 623.1 489 623.2 475.1 623.2 483.5 623.3 488.4 623.4 511.3 623.5 463.1 623.5 494"/>
<path class="cb" d="M620 295.9 620 361.9 621 471 621.1 413.9 621.2 434.8"/>
<path class="ck" d="M620.7 511.9 621 506.3 621.2 497.7 623.1 445"/>
<path class="cd" d="M620.4 481.2 620.6 498.8 620.6 474 621.2 509.4 621.3 451.4 621.5 494.2 621.7 428.4 622.1 491.2 622.2 385 622.5 418.1 623.5 469.2 623.7 502.1 623.8 509.8 623.9 492.7"/>
<path class="cu" d="M620.4 459.2 621.2 471.1 621.3 513.9 621.6 483.6 622.4 503.5 622.9 499.1 623.5 467.5 623.7 458.3"/>
<path class="cm" d="M622.7 398.2h0"/>
<path class="cb" d="M625.5 403.6 625.8 406.2"/>
<path class="cu" d="M624.3 494 625.3 505.3 625.8 499.2 626.6 507.3 627.6 493.8 627.9 496.1"/>
<path class="cd" d="M624.9 454 625 504.9 625.2 473.9 625.4 492.4 626.2 477.6 627.5 486 627.9 490.3"/>
<path class="cv" d="M624.2 477.6 624.6 486.6 624.9 483.1 625.2 454.4 625.3 507.4 625.5 490.3 625.8 487.8 625.8 464.9 627.1 475.9 627.8 509.3 627.8 500.5"/>
<path class="ck" d="M624.2 477.9 625.7 455.8 625.7 503.3 626.9 514 627.3 492.3"/>
<path class="cm" d="M626 385.9h0"/>
<path class="ck" d="M628.2 456 628.2 488.5 628.7 490.2 629 503.9 629.1 473.4 629.1 449.1 630.9 478.2 631.5 496.8"/>
<path class="cv" d="M628.1 482.7 628.2 496.3 628.8 479.6 629 499.6 629.1 480 629.4 458.5 629.5 449.6 629.8 464.1 630.2 474.1 630.4 499.7 630.5 441 631.8 478.5"/>
<path class="cu" d="M629.1 491.6 629.3 486.9 629.4 498.2 630.1 476.8 630.5 504.9 631.2 481.7 631.9 499.8"/>
<path class="cd" d="M628.8 453.3 629 510.7 629.1 500.5 629.5 512.2 630.6 508 630.7 468.1 630.9 506.8 631.1 482.5 631.2 485.4 631.2 477.4"/>
<path class="cb" d="M628 345.9 629 345.9 629.3 411.2 630 343.9 630.4 463.5 630.6 435.2"/>
<path class="cd" d="M632.4 485.2 632.6 496.3 633.2 480.6 633.9 453.5 634.5 442.9 634.8 508.2 635 457.5 635.9 499.2"/>
<path class="cb" d="M633.9 405.7h0"/>
<path class="ck" d="M632.1 401.8 632.3 477.8 632.4 469.7 633.8 491.1 634.1 470.5 634.2 483.4 634.3 426.9 634.8 478.5 635.3 500.7 636 447.1"/>
<path class="cv" d="M632.3 472.1 632.5 460 632.7 506.6 632.9 437.9 633.1 503 634.2 481.3 634.4 454.4 634.4 493.1 634.5 509.6 634.7 464.3 635.5 485.7 635.6 490.8 635.6 504.9 635.6 500.9 635.9 492.9"/>
<path class="cu" d="M632.2 455.3 632.6 487.9 633.1 511.4 633.7 478.8 633.8 508.6 634.1 452.5 634.1 508.1 634.2 479.7 634.4 482 634.8 447.4 635 512.7 635.4 469.8 635.6 486.8 635.7 509.5"/>
<path class="cd" d="M636.4 443.3 636.4 497.5 637 423.7 637.4 495.1 637.4 478.3 638.2 484.2 638.3 472.9 638.3 448.3 638.4 468.9 638.7 447 639 426 639.1 489.5 639.3 455 639.4 485.2 639.6 471.2 639.7 493.7 640 503.9"/>
<path class="cv" d="M636 471.4 636.2 478.9 636.2 513.7 636.3 507.5 636.4 494.1 637.3 445.5 637.4 465 637.6 481.9 637.7 451.9 637.7 491.3 638.3 449.7 638.3 466 638.4 480.4 638.8 512.6 638.8 485.4 639.3 470.4 639.3 418 639.6 491.9 639.9 479.8 640 508.4"/>
<path class="cb" d="M636 349.9 637 409.3 637.9 436.6 639.5 425.5"/>
<path class="cu" d="M636.3 502.8 636.6 513.1 639 471.8 639.8 440.9"/>
<path class="ck" d="M636 463.8 636.4 497.9 637.1 502.2 637.6 458.3 638.7 458.2 639.2 451.3 639.6 481.2 640 503.7"/>
<path class="cm" d="M636 391.9h0"/>
<path class="cd" d="M640.1 506.5 640.7 496.4 641 452.8 641.4 477.1 641.5 484.4 641.8 469.4 642.2 486.5 642.7 488.2 642.9 474.5 643.2 493.7 643.3 449.5 643.6 505.7 643.6 479 643.7 458.6"/>
<path class="cv" d="M640 473.2 640.3 499.7 640.6 494.3 640.9 514 641 507.7 641.2 483.3 641.2 447.5 641.3 510.7 641.5 511.6 641.6 484.8 641.8 473.5 641.9 472.2 642 501 642.1 452.2 642.2 501.7 642.7 449.1 642.7 445.8 642.8 444.4 642.9 496.5 643.2 504.5 643.3 450.2 643.3 467.5 643.5 495.7 643.5 446 643.7 473.7 643.9 496.2"/>
<path class="cb" d="M643.3 412.5h0"/>
<path class="ck" d="M640.4 456.4 640.7 453.6 641.2 481.4 641.6 491.1 641.9 468.3 642 485.6 642.4 425.4 642.7 446.3"/>
<path class="cu" d="M640.8 506.9 641.1 470.3 642.3 510.8 643.5 480.1 643.6 499.8"/>
<path class="cm" d="M642 387.9 642.7 394"/>
<path class="cl" d="M640 377.9h0"/>
<path class="ck" d="M644.2 479.1 645.1 513 646.8 426.7 646.9 478.2 647 495.3 647 425.9 647.3 506.5 647.5 425.2"/>
<path class="cb" d="M644 367.9h0"/>
<path class="cv" d="M644.1 438.6 644.2 472.3 644.6 481.6 644.7 458.5 644.8 492.7 645.1 492 645.2 468.9 645.2 454.7 645.7 499.9 646 493.1 646 506.4 646 466.4 646.1 510.3 646.2 457.1 646.3 499.9 646.3 511.7 646.4 509.2 646.4 483.2 646.5 478.9 646.6 483.4 646.8 503.9 646.8 504.4 646.9 419.6 647.1 424.2 647.4 488.4 647.7 489.9"/>
<path class="cu" d="M644.3 501.5 644.4 453 644.6 507.9 646 496.7 646.1 456.6 646.6 423.6 647.4 503.9"/>
<path class="cd" d="M644.2 455.1 644.3 495.9 644.8 451.1 645.3 465.9 645.7 459.7 645.9 457.4 646 357.9 646.5 478.7 646.8 475.9 647.1 470.6 647.1 488.7 647.2 444.3 647.3 427.5 647.4 447.2 647.7 490.7"/>
<path class="cv" d="M648.1 511.2 648.2 424.7 648.2 503.3 648.8 447.4 649.4 501.6 649.8 425.1 649.8 444.4 650 494.2 650.2 448.8 650.3 503.9 650.4 489.5 650.6 505 650.8 491.1 650.9 500.4 651 499.1 651 427.1 651 500.6 651.1 457.2 651.4 426.1 651.4 445.6 651.7 505.5 651.9 420.8"/>
<path class="ck" d="M648.8 444.1 648.8 507.1 649.1 452.3 649.5 471.2 650.1 426.9 650.2 444.7 650.4 476.1 650.6 451.7 650.6 459.4 650.6 453.6 651.1 473.2 651.5 451.2"/>
<path class="cd" d="M648.5 480.3 648.6 398.4 649 506.9 649 503.7 649.4 511.8 649.5 441.7 649.7 452.5 650 355.9 650.1 470.2 650.3 494 650.4 457.2 650.9 451.2 651.2 502.5 651.3 480.9 651.5 458.2 651.6 490.5 651.9 446"/>
<path class="cb" d="M650 373.9 651.4 394"/>
<path class="cu" d="M648.3 485.3 648.4 505 648.4 450.1 648.7 480.5 649.8 504.1 649.8 494.8 650.4 490.4 650.8 507.6 651.4 489 651.5 504"/>
<path class="cm" d="M649.2 412.4h0"/>
<path class="cv" d="M652.4 501.2 652.6 500.2 652.6 421.8 653 472.6 653.1 451 653.3 425.2 654 475.7 654.2 503.8 654.5 445.6 654.6 506.9 654.7 448.9 654.9 492.9 655.1 498.1 655.1 513.4 655.2 503 655.6 505.3"/>
<path class="cd" d="M652 408.4 652.4 456.4 652.7 481.2 652.8 511 652.9 513.8 652.9 450.3 653 500 653.2 470.7 653.3 463.2 653.6 417.1 653.7 495.5 653.9 421.2 654.2 502.9 654.7 486.2 655 446.6 655.1 444.4 655.1 503.2 655.4 451 655.4 491.5 655.6 446.9 655.6 427.4 655.8 494.8"/>
<path class="cb" d="M652.2 424.5 652.6 284.3 652.6 300.3 652.9 389 653 271.9 653 282.9 653 299.9 653.2 418.9 653.4 268.9 654 355.9"/>
<path class="cu" d="M652.1 496.7 652.3 502.7 653 511.3 653.3 451.8 653.4 423.9 654.4 481.3 654.9 495.5 654.9 454.1 655.2 511.2 655.4 505.3 655.7 486 656 491.9"/>
<path class="ck" d="M652.3 504.9 652.5 465.7 652.5 419.6 653.2 421 653.7 446.8 654.1 448.8 654.1 490 654.2 500.2 654.6 453.1 655.2 428.3 655.3 451.3 655.3 501.5"/>
<path class="cm" d="M652 389.9h0"/>
<path class="cd" d="M656 356.9 656.1 449.7 656.1 443 656.2 488.8 656.3 434.1 656.3 427.7 656.6 492.7 656.7 512.1 656.7 450.9 657 500.1 657.1 492.4 657.1 456.1 657.4 452.4 657.4 497.9 657.4 485.8 658 443.8 658.3 501.5 658.3 443.3 658.4 455.7 659.3 450.7 659.6 503.9 659.6 513.1 659.9 443.6"/>
<path class="ck" d="M656.9 441.6 657.1 445.4 657.2 442.2 658.1 500.2 658.9 506.8 659.2 405.4 659.7 456.3"/>
<path class="cv" d="M656.1 509.8 656.1 460.5 656.2 494.3 656.7 504.4 656.7 456.8 656.9 425.9 657 492.9 657.2 443 657.3 449.7 658 507.6 658.4 417.8 658.4 422.5 658.5 499.5 658.5 460.4 658.5 473 658.6 487.2 658.8 482.7 658.9 453.7 659.1 424.9 659.3 420.2 659.3 504.2 659.5 428.3 659.6 456 659.7 469.4 659.9 459.3"/>
<path class="cb" d="M656.1 465.7h0"/>
<path class="cu" d="M656 470.8 657.7 504.8 658.1 422 658.5 481.7 659.1 479.7 659.2 503.6 659.7 497.6 659.9 507.4 660 514.1"/>
<path class="cl" d="M656 381.9h0"/>
<path class="cu" d="M660 477.6 660 454.2 660.4 451.6 660.5 497.2 661.1 507.7 661.2 450.5 661.2 439.1 661.3 456.3 661.9 495 662 499.1 662 494.5 662.3 504.9 662.5 459.3 662.5 444 662.8 502.3 663 506.2 663.5 474"/>
<path class="cv" d="M660.6 470 660.7 510.8 660.7 421.1 661.2 499.6 661.2 494.3 661.6 493.6 661.7 502.7 661.8 451.8 662.1 512.7 662.4 466.6 662.5 503.4 662.5 504.2 662.5 458.4 662.9 503.7 662.9 428.3 663.2 511.7 663.3 508.8 663.3 445.2 663.8 506.5"/>
<path class="cb" d="M662 357.9 662 389.9 663.4 393.2 663.5 450.5"/>
<path class="ck" d="M660.4 456.1 660.6 442.5 660.9 456.5 661.1 513.5 661.4 426.2 661.7 469.3 661.8 446.9 663.1 439 663.1 464.3"/>
<path class="cd" d="M660.1 445.2 660.4 423.5 660.5 446.1 660.7 449.8 661.1 449.1 661.1 467.1 661.4 427.5 661.5 505.1 661.8 445.9 662.3 444.6 662.7 463.3 662.7 446.1 662.9 505.2 663 479.6 663.1 461 663.2 456.9 663.3 465.9 663.3 425.2 663.3 496.4 663.8 423.2 663.9 457.1 663.9 448.3 663.9 487.3"/>
<path class="cm" d="M662.8 401.3h0"/>
<path class="cl" d="M662.4 327.9 662.4 327.9"/>
<path class="cu" d="M664.4 421 664.8 451.1 664.8 447.1 664.9 484.9 665.4 479.1 665.6 455 666.1 468.3 666.4 459.2 667.9 460.3"/>
<path class="cb" d="M664 373.9 665 397.3 666.9 358.5"/>
<path class="ck" d="M664.1 436.7 664.3 456.9 664.3 509.9 664.8 482.5 665 449.2 665 488.9 665.7 495.6 666.1 477.1 666.8 510.7"/>
<path class="cd" d="M664.1 498.2 664.2 491.8 664.3 499.7 664.7 471.2 664.9 445.4 665.1 501.9 665.2 483.4 665.7 454.6 665.9 468.4 666.2 501.8 666.5 403.3 666.5 447.4 666.9 496.6 667 454.4 667 495.2 667.3 511.7 667.3 471.7 667.5 454.1 668 489.9"/>
<path class="cv" d="M664.1 458.9 664.2 502.2 664.4 504.4 664.9 468.5 665.4 499.2 665.5 425.9 665.5 477.3 665.5 500.3 665.6 488.3 665.7 449.7 665.9 426.2 666 459.3 666 463.3 666.2 468.6 666.2 480.4 666.2 459.4 666.5 417.9 666.9 466.5 667.2 480.2 667.6 480.3 667.6 514 668 501.5"/>
<path class="ck" d="M668.4 495.8 668.5 439.9 669.9 454.2 670.3 455.7 670.5 500.1 671.1 507.4 671.2 502.2"/>
<path class="cd" d="M668 353.9 668.7 476.3 669 498.4 669.2 489.4 669.5 505.1 669.8 457.3 670.3 502.5 670.5 422.9 670.6 481.4 671 483.5 671.6 446 671.6 452.4 671.6 481.3 671.9 512.3"/>
<path class="cu" d="M668.5 457.8 668.9 480 668.9 450.7 669.3 499.8 669.3 482.4 669.4 448.7 669.5 486.1 670.7 450.4 671.5 441.7"/>
<path class="cv" d="M668.5 449 668.6 485 668.7 469.8 668.7 451.8 668.8 462.7 668.8 478.9 668.9 458.9 669.1 459.8 669.3 513 669.4 421.9 669.4 466.8 669.5 425.6 669.6 461.5 669.7 505 669.7 423.3 669.8 505.6 669.9 503.1 670 470.3 670.1 511 670.3 505.7 670.3 482.3 670.4 496 670.6 452.2 670.7 506.6 671 350.9 671 492.2 671.2 477.9 671.6 498.4"/>
<path class="cm" d="M668.8 367.2h0"/>
<path class="cb" d="M673.1 462.3 674.2 471.2"/>
<path class="cd" d="M672.3 487 672.7 480.9 673.2 439.3 673.3 463.2 673.3 457.9 673.4 488.9 673.5 482.9 673.5 473.3 673.8 466.4 673.8 479.1 674.6 459 674.7 472.6 674.8 514.1 675.1 442 675.3 501.2 675.3 455.7 675.4 511.1 675.4 472.9 675.6 489.2"/>
<path class="cu" d="M672.3 464.6 673.4 499 673.8 505.8 674.6 491.2"/>
<path class="cv" d="M672.1 508.3 672.1 470.7 672.1 465.3 672.3 506.1 672.4 485.2 672.5 511.8 672.6 418.5 672.7 477.5 672.7 505.8 673.4 511.9 673.7 475 673.8 467.9 674.3 475.7 674.3 500 675 490.8 675 487.4 675.2 452 675.4 457 675.4 465.1"/>
<path class="ck" d="M672 457.1 672.5 449.2 673 502.3 673.4 468.1 673.5 449.2 673.9 500.6 674.1 488.9 674.7 454.8 675 492.2 675.3 470 675.4 467.1 675.8 486.1"/>
<path class="cm" d="M674.6 426.1h0"/>
<path class="cg" d="M674.4 180.9h0"/>
<path class="cv" d="M676.4 501.1 676.4 479.4 676.6 446.7 676.6 490.2 677.1 505.3 677.3 447.4 677.4 507.9 677.6 476.2 677.6 468.3 677.9 486.3 678 489.8 678.1 454 678.1 467.1 678.2 495 678.2 461.9 678.2 490.5 678.3 479.2 678.4 487 678.4 479.6 678.8 481 679 510.8 679.3 473.3 679.3 454.5 679.5 483.8 679.5 478.8 680 477.5"/>
<path class="cd" d="M676.1 441.4 676.3 489.4 676.4 487.4 676.5 484.2 676.8 469 676.8 459 676.9 475.2 677 488.8 677 449.3 677.4 455.1 677.6 400.5 677.9 454.2 677.9 456.3 678.2 484.5 678.5 499.9 678.5 478.2 678.6 485.5 678.9 478.6 679 453.5 679.1 458 679.1 480.1 679.2 474.9 679.4 446.6 679.6 461.7 679.9 457.4"/>
<path class="ck" d="M676.3 458.2 677.3 472.4 677.4 489 677.5 453.4 677.5 461.8 679.6 488.6 679.6 455.8 679.7 486.7"/>
<path class="cu" d="M676.2 482.4 677 436.7 677.4 477.1 677.8 487.7 677.9 484.5 678.1 476.3 679.1 472.8"/>
<path class="cb" d="M679.8 385h0"/>
<path class="cv" d="M680.4 510.5 680.4 473.5 680.5 508.7 680.6 487.9 680.7 489.6 680.8 414.6 680.9 502.7 681.3 486.7 681.3 506.9 681.6 450.2 681.7 477.4 681.7 482.8 681.8 502 681.9 500.4 681.9 481.6 682.2 504.4 682.2 486.3 682.7 484.5 682.8 482.5 683.2 506.9 683.4 458.4 683.4 467.3 683.5 480 683.8 478.4 684 488"/>
<path class="ck" d="M680.3 503 680.9 442.1 680.9 506.4 681.3 475.5 682.3 458 682.6 474 682.7 477.4 682.9 490.1"/>
<path class="cd" d="M680 357.9 680 488.8 680.3 485 680.4 510.7 680.7 510.7 680.8 453.5 680.9 478.7 680.9 499.7 681.1 498 681.1 412 681.2 459.9 681.4 463.4 681.4 503.5 682 441.6 682.2 471 682.3 490.2 682.3 492.7 682.4 477.8 682.7 490.4 683.5 427.6"/>
<path class="cu" d="M680.1 505.7 680.3 495.9 680.5 472 681.1 479.7 683.1 475.3 683.2 484.4 683.7 476.3"/>
<path class="cb" d="M684.4 368.5h0"/>
<path class="ck" d="M684 478 685.7 512.4 686.4 407 687 442.4 687.1 489.2 687.9 506.8"/>
<path class="cd" d="M684.5 509.9 684.7 456.6 684.9 509.3 685 503.4 685 491.8 685.2 488.6 685.4 491 685.5 512.9 685.6 486.1 685.7 506.1 686.4 513.6 686.8 512.7 687.2 453.8 687.5 461.3 687.6 491.9 687.7 472.5 688 472.5"/>
<path class="cv" d="M684 513.1 684.1 488.4 684.2 499.9 684.4 490 685.1 495.4 685.9 458.8 686.1 478.7 686.1 490 686.2 487.1 686.6 462.8 686.8 475.7 686.8 479.1 686.9 475.6 686.9 493.3 687.1 498.3 687.2 493.5 687.5 476.4 687.9 484.7"/>
<path class="cu" d="M684.3 472.3 685 475.9 685.1 504.9 685.2 496.6 686.5 488.1 686.9 507 687 503.9 687.2 475.4 687.3 504.4 687.7 500.8"/>
<path class="cl" d="M687.4 401.4h0"/>
<path class="cu" d="M688.1 493.3 688.2 476 689.1 479.6 689.4 510.4 689.7 476.8 690.3 502.7 691 502.8 691.1 509 691.3 483.4 691.4 476.2"/>
<path class="cv" d="M688.1 496.7 688.4 512.2 688.5 476 688.5 477.6 688.9 506.4 689.5 501.5 690.4 466.3 691.3 472.7 691.4 509.7"/>
<path class="cb" d="M688.4 425.7 688.5 363.2 690.2 394.5"/>
<path class="cd" d="M688.2 482.2 688.4 471.9 688.6 464.8 688.8 454.4 689.2 486.1 689.4 475.6 690 479.2 690 357.9 690.1 460.4 690.1 456.6 690.2 511.3 690.2 477.1 691 479.3 691.1 463.6 691.4 388.4 691.7 484.2 692 504.6"/>
<path class="ck" d="M688.6 445.8 690.1 489.5 690.1 496.9 690.7 460 691.3 513.2 691.5 496.4 691.6 466.2 691.7 481.3 691.8 503 691.8 476.8 691.9 467.6"/>
<path class="cm" d="M689.1 409.6 690 262.9 691.2 389.2"/>
<path class="cl" d="M691 300.9h0"/>
<path class="cg" d="M690 188.9h0"/>
<path class="cv" d="M692.1 499.8 692.3 507.9 692.3 407 692.4 486 693.1 460.8 693.7 498.7 693.7 473.8 693.8 491 693.9 458 694.3 510.7 694.3 484.9 694.8 500.9 695.7 471.7 695.8 485.7 695.9 482.4 695.9 489.4 696 473.9"/>
<path class="cu" d="M692.6 507.4 693.1 500.1 693.4 477.2 693.5 484.2 693.8 488.5 694.3 473.9 695.7 494.7 696 513.8"/>
<path class="cb" d="M692.2 417 692.3 426.1 692.5 371.9"/>
<path class="cd" d="M692.4 476.8 692.6 503.4 693 476.9 693.5 489.3 693.9 462.6 694.1 475.9 694.2 452 694.8 511.2 694.9 477.6 695 476.3 695 487 695.3 487.8 695.5 441.5 696 483.3"/>
<path class="ck" d="M692.2 444.3 692.4 480.7 693.9 481.3 694.1 492 694.2 474.6 695.3 480.7 695.9 438.7"/>
<path class="cl" d="M693 324.9h0"/>
<path class="cg" d="M693 181.9 694.4 185.9"/>
<path class="ck" d="M696.8 417.5 697 504.4 697.2 474.4 697.5 504.1 697.5 512.8 697.7 475.9 697.8 372 697.8 480.6 697.9 508 698.5 477.8 698.6 438.2"/>
<path class="cd" d="M697.7 483.2 698.2 475.9 698.2 474.6 698.7 450.4 699.4 435.8 699.4 474.3 699.7 503.7 699.7 466.3 699.9 480.6"/>
<path class="cb" d="M698.6 465.1h0"/>
<path class="cu" d="M696.8 491.7 698.6 477.1 698.8 471.7 699.1 512.4 699.1 465.2 699.2 479.1 699.4 502.7 699.8 480.7 699.9 490.1"/>
<path class="cv" d="M696.1 503.8 696.4 509.2 696.5 501.9 696.6 475.3 697.4 488.6 697.7 511 698 468.8 698.3 449.3 698.9 479.4 699 497.9 699.4 503.5 699.4 486.7 699.9 511.7 699.9 473.8"/>
<path class="cl" d="M698 291.9 698 300.9"/>
<path class="cc" d="M698 214.9h0"/>
<path class="cg" d="M696 179.9 696 219.9 698 178.9 698 189.9"/>
<path class="cb" d="M700.3 445.9 702.1 420"/>
<path class="cv" d="M700 505.2 700.1 472.2 700.4 478.1 700.6 486.8 700.7 459.9 700.7 495.4 701.5 481.7 702 483.8 702.1 498.8 702.1 512.5 702.4 473.6 702.7 513.8 702.9 474.9 702.9 478.5 703.1 479.2 703.1 505.4 703.3 480.3 703.4 473.8 703.4 478.2 703.7 471 703.8 512.5"/>
<path class="ck" d="M700.9 506.8 701.3 478.4 701.5 466.7 701.6 476 701.9 507.2 702.3 476.7 702.5 501.2 703.4 476.2 703.6 476.1 703.7 455.8 703.9 395.8"/>
<path class="cd" d="M700.2 489.6 700.3 444 700.3 456.5 700.6 472.9 701.1 452 701.2 507.5 701.3 480.5 701.5 445.7 701.6 478.4 701.7 483.9 701.7 465.2 701.8 485.1 702.2 475.6 702.2 486 702.4 508.7 703 322.9 703 473.5 703.2 472.8"/>
<path class="cu" d="M700.3 478.7 700.6 479.4 702.4 475.5 702.7 440.1 703.5 513.5 703.5 475.4 703.9 500.3"/>
<path class="cm" d="M700 260.9h0"/>
<path class="cl" d="M703 275.9h0"/>
<path class="cc" d="M703 209.9h0"/>
<path class="cg" d="M700 182.9 700 212.9 703 186.9"/>
<path class="cv" d="M704 491.2 704.5 492.1 704.5 489.4 704.6 511.2 704.6 475 704.8 479.5 704.8 501.9 704.8 481 704.9 503 705.3 506.1 705.3 464.7 706.1 489.5 706.3 470 706.3 496.6 706.6 513.1 706.6 509.5 706.6 506.7 707.1 488.4 707.2 474.6 707.4 490.7 707.6 510.6 707.6 475.4 707.8 471 707.9 435"/>
<path class="cu" d="M704.7 473.5 705.4 500.5 706.1 475.2 706.9 500.2 707.1 478.4 707.1 499.7 707.4 478.9 707.4 476.5 707.5 473.7"/>
<path class="cd" d="M704.5 462.4 704.8 429.9 705.1 446.4 705.2 476.5 705.2 478 705.2 472.9 705.7 485.3 705.7 478.7 705.7 498.7 705.7 465.8 705.8 474.5 706 356.9 706.3 501.3 706.5 504.7 706.5 464.5 706.6 449.1 706.7 466.4 707 475.1 707.1 508.7 707.3 466.4 707.3 445.7 707.9 487.2"/>
<path class="cb" d="M705.6 417.7 706.1 397.6 706.9 450.2"/>
<path class="ck" d="M704.1 480.3 706.7 493.5 706.8 402.5 707 479.1 707.4 474.6"/>
<path class="cm" d="M705.2 374.5 706 260.9 707.1 420.1"/>
<path class="cl" d="M706.6 390.9h0"/>
<path class="cg" d="M705 190.9 707 185.9"/>
<path class="cG" d="M707 227.9h0"/>
<path class="ck" d="M709 459.8 709.1 503.2 709.1 480 709.4 475.2 709.5 426.1 709.8 476.5 709.9 467.3 711.1 507.7 711.2 481.3 711.2 487.7 711.5 493.9"/>
<path class="cu" d="M708.1 513.9 708.7 477.5 708.9 466.7 708.9 475.5 709.2 498.9 709.4 480 709.5 477.2 709.6 505.3 709.6 495.4 709.9 477.7 710.4 479.2 710.7 480.7 710.9 502.7 711.5 452.7"/>
<path class="cd" d="M708.3 409.8 708.4 513.4 708.6 455.7 708.6 439.6 708.8 439.6 708.8 474.9 708.8 414.7 709.6 508.6 710.1 459.1 710.4 470.4 710.8 380.5 710.9 483.8 711.1 499.2 711.1 477.6 711.3 479 711.4 477.8 711.5 459.1 711.5 508.6 711.8 482.2 711.9 474.7"/>
<path class="cv" d="M708.7 488.9 709.1 446.6 709.6 464.2 710.1 469.2 710.2 478.2 710.6 443.6 711 485.9 711.4 493.1 711.6 509.8 711.6 481.5 711.7 477.5 711.7 473.6"/>
<path class="cb" d="M710.6 351.3 710.9 387.4"/>
<path class="cc" d="M708 215.9h0"/>
<path class="cg" d="M709 195.9h0"/>
<path class="cv" d="M712.3 448.3 712.3 471.2 712.5 455.4 712.9 504.1 712.9 474.8 713.1 472.8 713.6 437 713.9 463.4 713.9 424.4 714 513.9 714.3 471.8 714.4 504.6 714.5 450.6 714.8 486.9 715 474.2 715.1 434.2 715.2 443.8 715.2 499.4"/>
<path class="cu" d="M712.7 499.8 712.7 504 713.6 512.9 714 446.6 715.1 468.9 715.5 470.2 715.7 508.7"/>
<path class="cd" d="M712.2 476.3 712.4 462.9 712.6 469.5 712.8 504.3 713 474.4 713.3 475.1 713.5 497.3 713.7 477.2 713.7 478.2 713.9 460.9 714.2 471.4 714.4 512.2 714.4 509.5 714.5 461.1 715.2 403.1 715.4 480 715.4 461.8 715.6 444.5 715.8 441.3 716 498.1"/>
<path class="ck" d="M712 443.7 713.1 478.8 713.8 448.5 714.2 477.7 714.3 464.6 714.9 466.7 714.9 444.3 714.9 442.6 715.6 438.5 715.7 439.8 715.8 413.9"/>
<path class="cb" d="M713.4 418.7 714.5 458.4"/>
<path class="cm" d="M712 260.9h0"/>
<path class="cc" d="M713 216.9h0"/>
<path class="cG" d="M713 232.9 714 227.9"/>
<path class="cv" d="M716.3 468.4 716.4 472.6 716.4 469.1 716.4 467.9 716.5 467 716.6 475.4 716.8 501.1 716.8 462.4 716.9 473.8 717.7 446.7 717.8 470.5 718 468 718.3 471.8 718.5 513.6 718.6 444.8 718.8 506.4 719 441.8 719.2 508.8 719.2 477.6 719.2 441.7 719.6 502.1 719.9 503.2"/>
<path class="cu" d="M716 477.8 716.2 494.4 716.3 504.4 716.5 468.5 716.6 514.1 717.2 446 717.2 463.4 717.5 504.8 718.1 465 718.2 472.3 718.2 469.7 718.3 431.6 718.3 483 718.3 449.6 718.8 480.5 719 493.9 719.1 512.9 719.3 438.5 719.8 469.9 719.8 436.3"/>
<path class="ck" d="M716.3 466.1 716.3 467 716.9 439 717.1 463.6 717.2 510.2 717.3 465.4 717.7 465.3 718.1 414.3 718.6 471.9 718.6 465.1 718.8 441.3 719.1 471.3 719.1 473.5 719.6 436.6 719.6 489.7 720 456.2"/>
<path class="cd" d="M716 355.9 716.7 444 717 492.6 717 468.2 718.4 463.3 718.6 466.5 718.7 497.5 719.6 474.3 719.6 500.1 719.8 461.2 719.8 478.5"/>
<path class="ck" d="M720.2 464.3 720.5 487.2 720.9 479 721.1 510.8 721.4 491.4 723.1 484.8 723.2 481.3 723.3 465.3 723.5 489.8 723.7 459.9 723.9 479.2"/>
<path class="cu" d="M720 468.5 720.4 463.6 721.5 440.9 721.7 475 721.9 495.8 722.3 465.9 722.6 489.7 723.2 479.2 723.3 511.2 723.3 471.8 723.3 434.7 723.4 473 724 506.3 724 475.8"/>
<path class="cb" d="M720.5 465.3 722.7 395.9 723.5 377.3"/>
<path class="cd" d="M720.1 443.4 720.4 465.9 720.9 466.4 721 473.9 721.1 442.5 721.1 477.4 721.2 466 721.3 465.7 721.4 477.7 721.5 426.6 722.1 480 722.1 463.2 722.6 482.9 722.6 508.9 722.6 470.8 722.7 435.5 722.9 458.9 723.2 463 723.2 453.5 723.7 466"/>
<path class="cv" d="M720.1 488.8 720.6 467 720.6 498.5 720.8 507.9 720.9 467.3 720.9 512.2 720.9 503.3 721.2 476 721.6 465.9 721.7 471.1 721.8 510.3 722 488 722.2 463.6 722.3 467.1 722.5 513.7 722.7 480 723 473.8 723.2 501.1 723.3 504 723.6 503.5 723.7 443.5 723.7 503.4 723.8 469.3"/>
<path class="cv" d="M724.1 450 724.4 462.1 724.6 470.1 724.9 468.9 724.9 500.1 725 464.8 725 474.9 725.1 507.2 725.2 479.3 725.6 463.7 725.7 498.7 725.8 422.3 725.8 466.3 725.9 470.5 725.9 464.4 726.1 442 726.2 497.3 726.5 437.1 726.5 439.9 726.6 475.1 726.6 446.9 726.6 504.6 726.7 485.8 726.9 441.1 726.9 466.1 727 437.8 727 433.7 727.3 477 727.6 510 727.7 464"/>
<path class="ck" d="M724.3 459.8 724.3 455.5 724.5 507.5 725.2 418.2 725.4 471.7 726.2 492.7 726.3 459.6 726.3 470.7 726.3 499.3 726.4 425.4 726.7 480 726.7 467.4 726.8 466.6 726.9 472.6 727.2 465.3 727.4 465.8 727.5 507.4 727.7 477.1 727.8 460.7 727.8 469.8"/>
<path class="cu" d="M724.9 478.7 725 463.1 725.9 479.4 725.9 473.6 726 458.8 726.3 463.7 726.4 509.2 726.5 473 726.5 506 726.6 435.8 727.4 473.1 727.9 468.3 727.9 505.4"/>
<path class="cd" d="M724.1 479.3 724.1 464.3 724.2 463.2 724.4 439.2 724.5 479.6 724.6 425.7 724.7 509.3 724.8 468.6 725 462.8 725.1 448.2 725.2 461.9 725.4 441 725.7 507.3 725.8 435 725.9 464.4 726 351.9 726.3 443.2 726.3 436.9 726.4 463.8 726.5 427.3 726.6 454 726.7 507.2 726.9 444 726.9 471.7 727.1 421.8 727.5 474.7 727.6 469.8 727.7 484.3 727.7 498.9 727.8 480.3 728 464.3"/>
<path class="cm" d="M727.1 372.3h0"/>
<path class="cl" d="M727.6 378.1h0"/>
<path class="cu" d="M728 464.3 728 467.7 728.2 469.5 728.3 426.2 728.8 491.8 729 466.7 730.1 513.7 730.2 480 730.4 478.7 730.4 480.7 730.5 436.5 730.5 447.4 730.5 437.6 730.7 475.9 730.7 472.1 730.9 438.8 731.1 465.6 731.9 469"/>
<path class="ck" d="M728.3 481.9 728.6 440.8 728.9 416 729.1 460.2 730 466.5 730.2 469.8 730.9 473.8 731 459.1 731.3 436.4 731.4 471.1 731.4 474.4 731.4 471.9 731.9 440.2"/>
<path class="cv" d="M728 479.8 728 503.5 728 467.4 728.1 470 728.1 501.6 728.2 469.3 728.3 478.4 728.6 452.1 728.6 466.4 728.7 431.4 728.8 512.4 728.9 423.4 729 434.7 729 435.1 729.1 503.3 729.2 473.1 729.3 471.4 729.3 466.1 729.4 494.8 729.5 416.5 729.5 473.1 729.6 472 730.2 473.5 730.4 500.4 730.4 474.1 730.5 471.3 730.6 469.1 730.7 465.4 731.1 472.1 731.1 474.6 731.2 469.5 731.3 448.7 731.4 475.8 731.7 422.7 731.7 453.5 731.8 483.2 731.8 462.8 731.9 484.7"/>
<path class="cb" d="M731.2 431.5h0"/>
<path class="cd" d="M728.1 467.1 728.3 473.2 728.3 489.1 728.5 464.4 728.8 485 729 412.4 729.2 469.3 729.3 434.6 729.5 467.3 729.6 477.6 729.8 447.2 729.9 441.4 729.9 469.8 730.1 442 730.3 464.7 730.6 467.5 730.6 469.9 730.7 475.2 730.8 466.2 731 480.8 731.1 513.4 731.2 504.1 731.2 427.2 731.6 471.9 731.9 434.6 731.9 442.6"/>
<path class="cg" d="M730 341.9h0"/>
<path class="cu" d="M732 476.2 732.5 469.1 732.6 457.9 732.7 504.1 732.8 426.6 733 462.6 733.9 500.9 734.7 464.2 734.8 481.3 735.2 508.5 735.4 447.8 735.5 474.4 735.5 512.9 735.9 475.3"/>
<path class="ck" d="M732 479.7 732.1 431.2 732.2 441.2 732.8 433.6 732.9 479.5 732.9 429.3 733 457.5 733.5 473.2 733.7 486.9 735.6 432.1 735.9 464.2"/>
<path class="cv" d="M732.4 472.3 732.5 467.7 732.5 468.5 732.5 488.1 732.5 423.3 732.7 464.1 732.7 500.5 732.8 421.5 732.9 471.1 732.9 504.6 733.1 504.8 733.4 480.5 733.6 463.4 733.7 497.6 733.7 468 733.8 466 734 463.6 734 479.7 734.1 428.4 734.3 462.9 734.4 492.4 734.4 503.3 734.6 472 734.7 473.8 735.2 463.2 735.7 491.8 735.7 421.8 735.8 427.2 735.8 509.5 736 441.7"/>
<path class="cb" d="M735.5 471.2h0"/>
<path class="cd" d="M732 392.5 732.1 476.1 732.2 502.3 732.4 466.4 732.8 462.1 732.9 483.6 733.1 428.4 733.4 467.5 733.5 461.7 733.6 476.5 734.1 439.9 734.2 496.7 734.4 465.9 734.6 512.7 734.6 425.4 734.7 475.3 734.7 477.3 734.9 463.3 735.3 446.8 735.3 471.1 735.3 474.1 736 465"/>
<path class="cl" d="M734.5 402.2h0"/>
<path class="cg" d="M733 333.9 734 349.9"/>
<path class="cu" d="M736.1 461.5 736.6 512 736.6 475.6 736.6 473.9 736.7 422.2 736.8 466.8 737.6 469.4 737.8 507.6 738 481.6 738.3 502.9 738.9 470.8"/>
<path class="cv" d="M736.1 474.4 736.1 426.1 736.2 484.8 736.5 480.7 736.7 475.7 737.4 496.6 737.5 414.8 737.5 448.9 737.6 457.7 737.7 464.1 737.9 420.5 738 417.2 738.2 475.3 738.3 470.2 738.6 481.2 738.8 507.3 738.9 512.5 739.2 477.4 739.5 416.3 739.6 443.5 739.7 444.3 739.9 467.1 739.9 467.2"/>
<path class="cb" d="M736.6 450 737.5 403.1 738.9 356.2 739.8 381.1"/>
<path class="ck" d="M736.6 464.3 736.8 510.4 737 460 737.1 469.4 737.2 503.9 737.3 486.4 737.6 480 737.9 442.9 738.1 464.5 738.6 419.7 738.6 505.9 738.9 501.6 739.5 466.5 739.9 431.1"/>
<path class="cd" d="M736.2 396.8 736.2 495.2 736.2 456.2 736.2 429.4 736.2 436.8 736.3 416.9 736.3 466.8 736.5 464.8 736.6 478.8 736.8 459.8 736.9 503.2 737 421.3 737.1 493.4 737.1 475.2 737.2 477.2 737.3 467.6 737.4 467.5 737.6 489.2 737.7 467.6 737.9 439.9 738.1 440.3 738.1 477.1 738.1 469.7 738.7 473.1 738.8 440.3 739.3 505.7 739.4 480.3 739.5 471 739.6 468.6 740 424.8"/>
<path class="cu" d="M741.5 428.6 741.6 465.6 742 441.4 742 481.1 742.1 501.6"/>
<path class="ck" d="M742.2 420.3 742.3 480.9 742.3 513.6 743 469.5"/>
<path class="cv" d="M740.1 512.2 740.1 514.1 740.9 505.8 741.1 466.9 741.4 501.1 741.5 466 741.5 416.8 741.5 424.3 741.6 473.8 741.8 478 742 471.6 742.1 484.1 742.2 505.9 742.9 489.6 743.3 477.4 743.4 472 743.4 512.7 743.5 465.4 743.7 506.7"/>
<path class="cd" d="M740.1 473.6 741 472.7 741 473.9 741.2 509.6 741.4 440.2 741.5 467.9 741.7 476.6 742.2 488.4 742.5 471.8 742.5 459.9 742.7 498.4 743 499.9 743 506.1"/>
<path class="cb" d="M745.4 457.1 746.6 469.8"/>
<path class="ck" d="M744.2 446.3 746 481.4 747.3 478.1"/>
<path class="cu" d="M744.2 481.1 745.9 494.9 747.2 492.7"/>
<path class="cd" d="M744.7 490 744.8 476.1 745 508.9 745.9 503.1 747.5 464.4"/>
<path class="cv" d="M744.3 479.1 744.6 480.1 745.1 495.1 745.2 507.5 745.3 469 745.4 472.9 745.5 503.3 745.5 486.5 745.7 489.5 746 514 746.1 506.7 746.8 495.2 747.8 502.6"/>
<path class="cd" d="M748 503.3 748.1 468.7 748.9 505.3 748.9 465.6 749.6 492 751.1 506.5 751.2 497.2 751.6 510.6"/>
<path class="cv" d="M748.1 482 748.3 477.8 748.6 510.8 748.6 475.9 748.9 485.6 749 474.1 749.4 476.5"/>
<path class="cb" d="M750.8 454h0"/>
<path class="cu" d="M749 498.5 749.3 510.3"/>
<path class="cv" d="M753.3 472.5 754.2 503.8 755.2 513 755.5 498.9 755.8 463.8"/>
<path class="cd" d="M752.6 506.8 754.4 501.3 754.9 492.3"/>
<path class="cu" d="M753.3 482.2 753.9 477.8 754.1 484.2 755.2 491.2 755.4 510"/>
<path class="ck" d="M755.5 467 755.8 467.3"/>
<path class="cu" d="M756.8 482.9 756.9 475.8 757.5 490.9 758.9 487.3"/>
<path class="ck" d="M756.2 450.8 757.1 504.6 758.1 495.5 758.3 490.1"/>
<path class="cv" d="M757.1 506.6 757.8 513"/>
<path class="cd" d="M756.6 471.8 758.3 489.7 759.5 464.2 759.6 503.1 759.7 502.8"/>
<path class="cd" d="M760.3 461.5 761.9 465.6 762.3 513.2"/>
<path class="cu" d="M761.5 494.1 763.1 499.6 763.1 475"/>
<path class="cv" d="M760.8 497.6 760.8 513.6 762 486.1 762.8 493.4"/>
<path class="ck" d="M761.3 511.3 764 506.5"/>
<path class="ck" d="M766.3 466.4 767 490.2"/>
<path class="cd" d="M764 441.9 766.4 511.4 766.7 500.1 767 475.9 767.3 456.8"/>
<path class="cv" d="M764 483.2 764.1 504.2 764.3 509.8 765.4 496.3 767.8 488"/>
<path class="cu" d="M764 497.9 764.2 502.1 764.4 469.5 765.6 473.8 767 507.9"/>
<path class="ck" d="M768.1 492.8 768.1 507.5 768.7 481.2"/>
<path class="cd" d="M768 447.9 769.7 496.1 770.9 477 771.8 496.5"/>
<path class="cv" d="M768.6 497.4 769.2 503 769.4 506.7 770.1 472.6 770.9 510.1 771.1 492.9"/>
<path class="cd" d="M772.2 484.8 773.6 495.6 773.8 472.1 774 439.9 774.9 507.2 775.7 453.7"/>
<path class="cv" d="M772.6 501.6 772.9 501.6 773.5 511.1 774.1 475.2 774.9 510 775.8 464.4 775.9 509.9"/>
<path class="ck" d="M772.3 494 774.8 505"/>
<path class="cu" d="M773.2 482.1 774.5 481.2"/>
<path class="cv" d="M776.6 511.5 776.7 498.6 777 499.4 779.7 509.5"/>
<path class="cu" d="M777.5 483.2 778.6 487.3 779 507.3"/>
<path class="cd" d="M778.1 472.7h0"/>
<path class="ck" d="M776.4 495.2 779.8 464.5 779.9 506.5"/>
<path class="cu" d="M780.2 492.6 780.6 500.9 781 476.7"/>
<path class="cv" d="M780.3 479 780.8 460.5 781.4 465.4 781.7 497.2 782.4 470.9 783.8 498.7"/>
<path class="cd" d="M780 451.9 780.6 492.6 782 407.9 782 494 782.8 503.6 783.3 507.8 783.8 499.4"/>
<path class="ck" d="M780.5 511 781.4 460.2"/>
<path class="cu" d="M784.1 482.5 784.9 511.6 785.5 491.4 786.8 460.3 787 512.2"/>
<path class="cv" d="M784.5 488.7 784.6 505.5 785.7 490.3 786.1 472.2 786.4 480.4"/>
<path class="cd" d="M784.8 511.6 785 497.1 785.3 476.3"/>
<path class="ck" d="M786.8 504.6 787.7 505.4"/>
<path class="cd" d="M789 498.5 789 447.9 789.3 470.9 789.8 502.4 790.1 453.6 791 457.3 791 485.2 791.5 460.8 791.8 459.6"/>
<path class="ck" d="M788.6 462.5 790.2 466 791.1 491.8"/>
<path class="cu" d="M790 512.9 790.4 491.6 791.5 476.5 791.6 464.8"/>
<path class="cv" d="M788.3 495 788.6 476 789.7 493.4 790.1 501.6 791.2 486.3 791.3 509.5 791.8 469.3"/>
<path class="cd" d="M792 408.9 792 437.9 792 451.9 792.4 449 792.9 481.9 794.8 500.1"/>
<path class="cu" d="M792.1 495.9 793 467.1 793.1 505.8 793.4 491.8 793.9 459.1 795.1 508.7"/>
<path class="cv" d="M792.1 500 792.5 471.1 794.4 494.3 795.6 511.1 796 507.5"/>
<path class="ck" d="M794.2 491.6h0"/>
<path class="ck" d="M797.6 463.1 798 483.5 798.1 469.8 799.5 494"/>
<path class="cu" d="M796 502.1 796 489.2 796.5 469 798.1 512.7 798.6 466.7 799.7 476"/>
<path class="cd" d="M796.1 474.2 796.8 487.3 797.2 498.6 798 457.9 798.2 508.7 798.5 502.6"/>
<path class="cv" d="M798.3 511.8 798.7 506.5 799.2 492.3"/>
<path class="cv" d="M800.1 495.1 800.8 462 801 502.7 801.4 510.9 802.6 500.1 803 504.2"/>
<path class="cu" d="M803.2 489.9 803.5 498.9 803.5 480.7"/>
<path class="cd" d="M800.2 502.5 800.6 505.3 802 449.9 803.6 497.1"/>
<path class="ck" d="M801.8 447.2 802.1 464.2"/>
<path class="cd" d="M804.6 474.2 805.3 473 805.3 494.7 805.9 489.6 806.3 481.5 806.3 499.9 806.5 468.2 806.7 488.5 806.7 494.8 807.2 449.5"/>
<path class="cv" d="M804.1 512.3 804.4 486.6 804.5 487.8 806.6 461.7"/>
<path class="cu" d="M804.4 508.4 804.5 462.7 807 506.8"/>
<path class="cv" d="M808.3 474.8 809.8 505.1 810.7 470.3"/>
<path class="cu" d="M808.2 510.2 809.8 491.4 810.5 511.2 811.2 502.6"/>
<path class="cd" d="M808 437.9 808.6 512.4 808.7 491.2 809.7 499.7 810.2 494.9 811.3 469.2"/>
<path class="cd" d="M812 457.9 812.5 489.7 813.3 462.3 815.6 491.1"/>
<path class="cu" d="M813 505.9 813.1 508.2 814.1 483.2 815.2 477.3 815.6 509.9 815.7 503.6"/>
<path class="ck" d="M812.8 466 813.9 511.6"/>
<path class="cb" d="M813.6 470.4 815.8 463.9"/>
<path class="cv" d="M812.5 497.7 813.5 480.2 813.8 509.8 815.3 496.1 815.7 488.1"/>
<path class="cu" d="M816.3 477.3 817 485.8 819 481.7"/>
<path class="cb" d="M818.7 471.1h0"/>
<path class="cd" d="M816 443.9 816.2 510.9 816.3 494.1 819 503.3"/>
<path class="ck" d="M819 501.6h0"/>
<path class="cv" d="M816.8 464.5 817.4 461.3 817.5 504.2 817.6 510.4 817.8 471.3 818.9 492.2"/>
<path class="cd" d="M820 459.9 820.7 451.7 820.9 498.9 821 416.9 821.2 498.6 821.8 464.7 822.2 483.7 823 448.6 823.5 486"/>
<path class="ck" d="M822.6 471.5 823.9 460.2"/>
<path class="cv" d="M820.3 505.8 820.5 477.5 821.2 508.6 821.9 479.1 822.2 496.2 823.3 514"/>
<path class="cu" d="M820.2 497.2 822.4 497.8 823.8 509.1"/>
<path class="cv" d="M824.3 491.4 825.2 503.8 826 506 827.4 499.6 827.8 511.8 827.9 495 828 489.9"/>
<path class="cu" d="M824.9 492.5 827.7 485.1"/>
<path class="cd" d="M825.2 510.9 825.3 499.2 825.8 474.6 826 455.9 827 436.9 827.7 506.7"/>
<path class="ck" d="M825.3 472.9 825.8 500 827.1 498.8 827.8 511.9 827.9 462"/>
<path class="cd" d="M829.9 468.5 830.8 508.4 831.2 504.9"/>
<path class="cu" d="M829.7 481.9 829.9 500.2 831.4 491.9 831.5 495.9"/>
<path class="cv" d="M828.1 480.5 828.5 501.5 829.8 478.9 830.3 493.9 831.1 461.5"/>
<path class="ck" d="M828.4 498.3 828.8 455.7"/>
<path class="cb" d="M829.4 472.1h0"/>
<path class="cv" d="M832.4 505.8 832.9 494.5 833.2 491.1 834.6 459.8"/>
<path class="cd" d="M832 449.9 832.6 502.2 832.6 483.2 832.7 500.6 832.9 476.5 834 440.9 835.9 472.6"/>
<path class="ck" d="M832.1 488.2 832.8 483 834.3 513.7"/>
<path class="cu" d="M832.7 509.2 834.4 467.2"/>
<path class="cv" d="M836.3 471.3 836.8 490.6 837.6 487.2 838.4 475.6 839.1 502.8 839.5 481.8"/>
<path class="ck" d="M837.4 508.9 838.2 466.4 838.6 500.9 838.8 509.3 838.9 496.8"/>
<path class="cd" d="M836 459.9 837.7 461.7 839.2 494.3"/>
<path class="cu" d="M836.5 508.3 838.7 490.5"/>
<path class="cb" d="M843.5 463.4h0"/>
<path class="cd" d="M840 449.9 840.2 491.9 841.3 509.4 842.2 486.3 842.3 511.2 842.5 489.8 842.8 485.1 843 437.9"/>
<path class="cu" d="M842.7 483.1 843.4 472.6"/>
<path class="ck" d="M840.3 446 840.8 473.9"/>
<path class="cv" d="M840.5 514.1 840.6 510.5 841.6 477.8 841.9 498.1 842.9 494.8"/>
<path class="ck" d="M845.5 465.9 846.7 496.1 846.7 493.1"/>
<path class="cv" d="M844.6 508.2 844.8 499.8 845 507.9 845 492.8 847.3 505.8 847.5 497.3"/>
<path class="cd" d="M844.9 502.9 845 463.9 845 420.9 845.3 505.7 846.8 504.3 847 463.9 847.1 487.5 847.5 480.6 847.6 468.7"/>
<path class="cu" d="M847.1 493 847.8 462.4"/>
<path class="cd" d="M849.2 514 850 473.9 851 449.9"/>
<path class="ck" d="M848.2 475.5 849.2 500.9 849.8 454.8 850.8 503.1 851.2 492.3 851.8 480.7"/>
<path class="cb" d="M849.3 472.4h0"/>
<path class="cu" d="M849.2 513.6h0"/>
<path class="cv" d="M849 475.4 849.9 462.4 851.2 506.5 851.7 513.6"/>
<path class="cv" d="M852.5 475.6 852.6 486.9 852.8 503.5 852.9 453.5 854.8 497.3 855.2 499.7 855.8 497.1"/>
<path class="cd" d="M852 479.9 852.8 507.4 855.3 472.4"/>
<path class="ck" d="M852.2 463.7 854.5 466"/>
<path class="cu" d="M852.6 496.2 853.6 512 856 490.1"/>
<path class="cv" d="M857.9 483.5 858.6 495.5"/>
<path class="cu" d="M857 496.2 858 485.6 859.8 507.1"/>
<path class="cd" d="M856.8 466.5 857.3 503.3 857.7 506.8 857.9 454.2 857.9 512.9"/>
<path class="ck" d="M858.7 501.7 858.9 489.5 859 470.8 859.4 491.2"/>
<path class="cu" d="M860.2 513.5 860.5 478.7"/>
<path class="cd" d="M860.4 452.5h0"/>
<path class="sd" d="M111.2 503.9 115.9 485.6 116.4 481.7 117.3 505.1 118.4 491 118.8 499"/>
<path class="sv" d="M108.7 481.4 118.4 497.8"/>
<path class="sv" d="M120.4 498.3 126.9 475.9 127.2 497.2"/>
<path class="sd" d="M121.1 499.9 122.3 490.2 125.7 484.8 126 473.2 128.4 499.6"/>
<path class="sd" d="M436.9 448h0"/>
<path class="sg" d="M421 242.9h0"/>
<path class="sd" d="M445.9 491.1 457.4 499.3 458.9 504.2 459.1 462.9"/>
<path class="sb" d="M462.1 410.6h0"/>
<path class="sv" d="M457.6 495.8 466 488"/>
<path class="sc" d="M463 300.9 463.6 259.9"/>
<path class="sg" d="M449 319.9 474 349.9 476 204.9"/>
<path class="sd" d="M498.5 487.3h0"/>
<path class="sv" d="M480.9 488.1h0"/>
<path class="sb" d="M487 401.1 506.8 498.7"/>
<path class="sk" d="M493.2 435.6h0"/>
<path class="sv" d="M532.4 504.6 537.3 431.7 540.7 497.5 553 459.4"/>
<path class="sd" d="M532.5 487.2h0"/>
<path class="sb" d="M559.2 423.5h0"/>
<path class="sm" d="M558.9 424.4h0"/>
<path class="sd" d="M565.3 455.8h0"/>
<path class="sv" d="M567.9 485.5 582.9 507.9"/>
<path class="sk" d="M567.9 492.5 593.9 452"/>
<path class="sb" d="M581.9 421.1 589.1 409.9"/>
<path class="sv" d="M604.1 474.8 614.2 506.3 619.1 437.8"/>
<path class="sb" d="M628 420.1 629.4 410.9"/>
<path class="sd" d="M605.7 493.6 606.1 465.9 620.2 396.9 634.9 492.8 636 476.8"/>
<path class="sm" d="M601.2 420.1 602 407.8 619.8 401.2"/>
<path class="sd" d="M657.5 410 673.4 461"/>
<path class="sb" d="M671.2 454.6h0"/>
<path class="sv" d="M658.7 486.8 677.1 501.8 678.2 443"/>
<path class="sb" d="M718.2 414h0"/>
<path class="sv" d="M680.6 468.3 694.8 459 713.6 504.7"/>
<path class="sk" d="M705.7 470.2h0"/>
<path class="sd" d="M684.4 451.3 689.5 485.6 691.6 491.2 697.1 508.7 704.7 460.2 713.3 429.3"/>
<path class="sm" d="M696 241.9 709 257.9 716.4 400"/>
<path class="sl" d="M690 297.9h0"/>
<path class="sc" d="M698 217.9 709 194.9"/>
<path class="sg" d="M694.4 179.9h0"/>
<path class="sb" d="M726.1 418.3 736.7 410.4"/>
<path class="sk" d="M737.1 477.3h0"/>
<path class="sv" d="M741.5 437.4 743.6 501 753.6 460.3"/>
<path class="sd" d="M729.6 476.5 758.4 491.2"/>
<path class="sg" d="M730 216.3h0"/>
<path class="sv" d="M822 446.8h0"/>
</g>
<path d="M106.0 514.0L117.0 513.6L132.3 493.0L140.0 513.6L358.0 513.6L415.6 506.5L418.0 506.0L420.4 511.7L440.8 511.2L445.6 501.6L450.4 492.0L456.4 494.0L461.2 506.4L464.8 509.3L474.4 508.3L476.3 447.6L477.3 447.6L478.7 492.0L480.4 494.9L490.0 496.3L494.8 505.2L498.4 508.8L544.0 509.3L582.4 507.6L587.2 501.6L588.4 499.2L591.5 500.4L593.2 510.7L613.6 496.8L617.2 483.6L618.9 496.8L620.3 511.7L640.0 510.5L650.0 505.2L651.7 496.8L653.6 505.2L668.0 501.6L671.6 492.0L673.3 471.6L675.2 511.2L686.0 511.2L688.4 475.2L690.3 511.2L691.5 511.2L693.2 475.2L694.6 498.0L696.3 475.2L698.2 511.2L702.8 511.2L704.6 384.5L706.0 507.0L714.0 508.5L718.0 511.7L731.3 511.7L732.9 58.0L734.2 58.0L735.6 491.0L739.2 489.6L740.0 467.5L742.4 467.5L744.3 511.7L764.0 512.4L773.6 507.6L775.5 468.0L777.2 504.0L788.0 504.5L795.2 505.2L798.8 511.2L809.6 511.2L813.2 499.2L815.6 487.7L818.0 499.2L819.7 511.7L850.4 512.4L852.3 501.6L856.0 500.0" fill="none" stroke="#ff0d0d" stroke-width="2.4" stroke-linejoin="round"/>
<path d="M480.3 86.7V121.7" stroke="#000" stroke-width="2.8"/>
</g>
<g clip-path="url(#clipB)" id="pb">
<path d="M480.3 709.4L500.9 744.1H459.7Z" fill="#f01010" stroke="#000" stroke-width="2.8" stroke-linejoin="miter"/>
<path class="kb" fill="none" d="M104.7 1120.2 105.7 1120.5 103.3 1119.5 104.2 1119.7 103.3 1118 103.7 1116.3 101.1 1118.1 102.4 1114.6 104.8 1118.4 101.7 1111.1 101.6 1114.2 105.4 1113.2 102.1 1109.3 102.4 1104.4 103.7 1105.8 105.7 1100.7 105.8 1099.7 102.5 1102.4 101.7 1098.9 102.5 1096.2 101 1095.8 102.5 1090.1 103.4 1092.6 103.4 1090.7 105.9 1089.1 104.7 1085 104.9 1082.4 103.9 1084.2 101.9 1074.4 102 1075.4 105.7 1072.5 103.6 1065.3 104.7 1060.2 105.3 1064 102.7 1051.1 105.6 1041.5 109.4 1119.2 110.1 1116.9 108.1 1118.9 110.6 1119 108.5 1115 106.7 1115.5 109.2 1110.3 106.5 1112 106.7 1110 107.5 1111.9 110.3 1104.3 108.3 1106.8 108.4 1102.7 108 1103.5 110.9 1094.4 109.1 1096.7 107.7 1098.8 109.9 1089.9 107.8 1090.3 109.9 1090.7 109.8 1087.4 107.4 1081.8 109.5 1077.7 109.2 1071.3 108.7 1067.9 109.4 1066.9 109.2 1060.2 109.2 1055.5 110.2 1044.9 110.9 1039.4 115.2 1119.5 113.4 1120.7 114.6 1120.5 111.9 1120.3 114.1 1115.3 114.2 1115.6 111.1 1118.4 113.2 1115.9 112.1 1115.8 111.2 1111.8 112.1 1113.9 111.7 1112.6 111.9 1113.2 111.2 1111.9 114.1 1106.2 112.2 1104.7 111 1107.2 113.1 1103.6 115.2 1102.3 111.2 1101.1 113.7 1097.5 113.9 1094.4 115.1 1097.1 114.2 1092.4 111.7 1091.2 115.8 1084.4 112.8 1079.7 111.5 1076.4 114.1 1078.5 115.5 1072.3 112.1 1067.7 112.9 1059.4 112.3 1049.3 113.1 1047.6 119.9 1120.1 117.4 1119.5 117.2 1117.9 116.8 1114.3 117.5 1116.2 118.4 1116 119.7 1113.6 119.8 1112.7 118.7 1112.5 117.5 1111.6 118.3 1112.4 119 1109 117.3 1106.9 120.4 1101.5 116.1 1100.3 118.9 1095.7 119.2 1096.8 120.6 1097.3 120.3 1093.2 117.5 1090 116.3 1090 118.2 1087.8 120.6 1083.5 118.7 1076.7 116.8 1071.3 120.1 1073.9 120.1 1065.2 119.3 1069.1 120.9 1059.2 116.2 1055 119.2 1049.4 116.7 1047.7 119.1 1037.1 123.9 1120.5 122.6 1116.2 123.4 1114.5 122.9 1118.9 124.5 1118.4 124.2 1116.7 123.8 1111.1 122.3 1111.4 122.3 1110.4 123.6 1113.5 122.9 1105.5 121.9 1105.6 124.3 1108.8 121.5 1103.6 124 1103 123.4 1097.6 125 1099.1 121.3 1093.4 125.8 1090.8 121.6 1084.3 124.3 1085.1 124.1 1082.4 122.2 1082.5 122.7 1077.3 125.2 1071 125 1072 123.6 1066.2 124.7 1062.2 121.2 1058.2 125.4 1051.8 123.4 1039.8 127.9 1119.8 126.8 1117.8 127.2 1116.8 126.2 1114.6 127.8 1114.5 129.4 1115.8 130.7 1113.6 129.3 1112.7 129.4 1110.6 126.8 1113.2 126.1 1113 128 1104.3 127.8 1107.6 128.3 1107.8 129.6 1103.4 127.2 1100.8 129.2 1097 130.9 1099.2 129.9 1092.1 126.2 1091.5 130.9 1091.6 126.5 1088.8 128.5 1079.5 127.2 1078.9 128 1078.9 128 1072.7 126.3 1074 126.9 1066.7 128.7 1063.8 126.5 1056.5 130.3 1048.1 128.7 1041.8 134.6 1119.6 131.4 1120.3 132.6 1118.6 131.4 1118 131.4 1117.1 133.9 1118 134.5 1114 132 1112.8 132.9 1113.7 133.1 1112.6 134.8 1111.4 134.3 1105.4 133.9 1107 134.3 1099.4 134.6 1100.7 135.1 1097.3 131.7 1098.9 131.8 1097.9 132.4 1093.9 134.8 1091.4 131.3 1088.5 132.8 1084.9 134.1 1083 132.8 1077.5 133.9 1070.1 134.6 1073.7 131.9 1065.7 135.7 1060.2 132.6 1054.6 133.2 1052 135.7 1046.5 131.5 1035.1 131.3 1029.3 133.9 1026.8 140.9 1120 139.1 1117.2 136.7 1115 138.5 1119 136.8 1118.7 140.5 1113.2 140 1112.6 139.4 1109.9 139.1 1110.2 137.9 1114.1 138.9 1108.3 137.9 1107.6 136.1 1107.6 138.4 1100.7 138 1099.3 140.1 1099.6 139.4 1096.5 140 1097.4 139.4 1091.6 137.4 1093.8 137.8 1086.3 139.8 1085.6 140.6 1082.8 139.6 1083.8 139.3 1074.4 139.4 1070 139.1 1068.2 140.5 1063 138 1054.2 136.9 1045.9 137.9 1033.7 138.8 1025.6 140.4 1023.1 137.3 1016.1 139.2 1005.4 145.2 1119.8 144 1114.4 141.9 1119 141.6 1116.4 144 1118.3 142 1116.2 144.5 1110.6 141.3 1111.8 145.2 1109.4 142.6 1109.9 144.2 1109.6 144.5 1105 143.4 1108.7 142 1108.4 141.8 1101.1 141.5 1100.4 144.7 1100.1 144.6 1094.6 145.8 1096.1 141.5 1093.7 141.3 1093.2 143.3 1085.8 141.4 1082.2 142.9 1078.6 142.9 1070.8 145.8 1064.5 144.8 1060.6 142.5 1063.6 142.8 1055.5 142.5 1046.7 144.9 1041.3 142.7 1035 141.3 1032.1 144.3 1028.8 141.5 1021.8 147.8 1120.1 146 1120.4 147.1 1114.3 148.2 1116.8 146.4 1117.8 150.8 1115.8 148.5 1118.9 149.9 1112 149 1109.7 149.2 1111 146.2 1114.1 149.8 1112.1 150.1 1104.6 147.9 1104.2 150.5 1103.5 149.9 1102.1 151 1098.1 148.1 1097.8 147.4 1090.9 146.6 1093.4 148.3 1093.8 150.5 1084.8 146.1 1080.1 150.8 1081.2 147.2 1074.6 150.7 1079 148.1 1072.9 149.8 1072.3 146.8 1066.6 149.5 1063.7 149.2 1057.3 148.4 1051.3 148.8 1042.9 149.7 1038.5 149.5 1034.2 148.1 1026.7 150 1023.9 146.2 1017.3 147.5 1006.9 154.6 1119.5 155.7 1119.3 151.4 1117 154.7 1116.6 152.9 1114.6 152.5 1116.4 151.7 1112.4 153.5 1111.4 152 1111.9 151.3 1113.8 151.7 1104.4 152.4 1100.3 155.1 1091.1 154.1 1088 155.4 1082 151.7 1073.9 151.2 1055.1 155.4 1054 154.6 1041.1 155.7 1033.6 154.4 1028.7 153.3 1021 158.3 1118.4 157.1 1117.9 160.7 1118.2 156.4 1117.4 158.1 1111.1 159.3 1113.3 156.7 1111.7 159.4 1112 158.9 1109.6 157.3 1106.7 159.9 1080 156.5 1077.9 160.4 1072.9 159.8 1052.5 159.2 1045 160.9 1037.3 162.6 1123.7 161.3 1120.6 163.1 1119.9 161.3 1122.7 161.9 1119.5 165.5 1116.7 161.5 1117.1 162.1 1119.1 163.8 1117.8 163.6 1109.5 165.7 1111.9 161.5 1110.4 161.6 1111.5 161.4 1109.3 162.4 1101.4 162 1091.6 164.2 1079.6 165.1 1076.6 161.3 1069.5 163.2 1064.6 162.4 1055.5 163.4 1050.4 162 1040.7 171 1123.5 166.8 1123.8 168.2 1121.1 170.3 1123.4 169.5 1123.7 167.3 1117.4 166.3 1115.6 166.6 1115.4 167.7 1116.2 169.2 1116.8 170.6 1112.8 167.7 1109.8 166.7 1112.1 168.1 1109.3 169.3 1105.4 170.7 1097.6 170.2 1080.8 169.7 1076.7 173.5 1124.2 175 1120.3 175.2 1124 173.7 1121.8 171.6 1123.2 175.3 1118 175.1 1115.9 172.9 1116 172.1 1117.8 174.3 1111.3 174.7 1111.7 173.2 1112.7 174.7 1112.3 174 1110.4 174.4 1108.9 175.2 1103.5 171.1 1095.4 173.3 1092 180 1120.4 179.1 1120 179.1 1120.6 180.3 1121.1 176.1 1119.8 177 1118.9 177.7 1118.7 177.8 1118.8 177.1 1119.2 177.5 1110.6 177.9 1113.4 180.8 1109.7 179.4 1113.1 178 1111.9 176.1 1106.9 185.4 1120.6 183.2 1123.2 182.6 1122.9 184.4 1120.4 182 1121.5 182.8 1118.7 184 1117.4 181.7 1117.8 181 1118.5 181.5 1114.2 183.7 1109.4 185.2 1112.6 185.6 1113.8 181.8 1114.2 184 1105.4 183.4 1105.2 183.3 1104.6 183.7 1103.3 183.1 1102 182.1 1097.7 185.1 1098.8 182.1 1090.9 184 1093.7 183 1087.6 184.9 1082.7 181.6 1076.6 184.2 1069.6 184.2 1074 183.3 1067 182.4 1062 181.4 1060.8 182.5 1058.7 185.7 1052.7 182.7 1044.5 182.7 1043.2 183.3 1038.7 184.4 1026.9 182.1 1017.8 188.5 1122.5 188.5 1120 188.8 1121.9 189.3 1121.1 188.1 1118.5 188.2 1114.8 187.5 1117.4 189 1116.2 186.9 1117 186.2 1113.7 189.8 1109.7 186.3 1113.8 189.1 1112.8 189.3 1114 186.8 1107.5 189.5 1106.6 190.3 1105 190.2 1103.3 188.4 1102.6 186.6 1094.8 187.9 1095.3 190.7 1092.2 190.3 1089.2 189.7 1085.6 188.3 1087.8 188.1 1079.5 188 1082.9 188.2 1076.1 187.4 1074 189.3 1068 188.9 1061.7 187.5 1052.5 186.8 1044.5 188.5 1042.8 186.2 1038.1 187.1 1026.9 186.6 1023.2 192.2 1123.9 191.5 1119.2 194.7 1119.6 195.2 1120.3 192.3 1123.4 191.3 1118.3 194.6 1116.7 191.1 1117.7 195.2 1114.9 194.6 1115.5 193.8 1112.3 193.9 1112.8 191.2 1112.9 193.3 1113.6 192.2 1107.4 195.8 1106.8 195.2 1105.5 192.6 1102.2 192.6 1101 195 1097.7 191.7 1099.2 192.1 1094.2 192.5 1093.1 194.3 1086.3 192.4 1085.5 195.6 1083.6 194 1080.7 193.4 1074.8 194.5 1073.8 193.3 1066.5 191.5 1065.5 193.4 1061.6 193.8 1051.2 192.6 1047.8 194 1041 193.2 1036.4 191.5 1029.6 193.5 1027.7 192.3 1023.4 196.4 1122.4 199.5 1121.1 196.1 1123.1 197.4 1119.7 197.3 1116.8 198.4 1118.5 199.3 1115.6 198.4 1116.5 199.9 1114.4 196.2 1111.7 199.3 1112.5 199.4 1112.4 199.1 1111.1 199.4 1109.6 199.5 1105.7 197.2 1106.1 196.3 1100.4 197.1 1101.7 199.6 1095.4 198.3 1094.5 198.2 1096.4 197.6 1090.6 200.8 1093.8 199.3 1086.5 200.3 1083.5 199.1 1075.7 200 1070.1 198.1 1064.6 200.7 1065.4 199.8 1061.5 199.3 1061 200.9 1051.7 199.3 1046.4 200.8 1042.6 197 1029.6 205.1 1123 204.3 1121.4 205.5 1121.8 202.6 1122.9 202.8 1124.2 201.7 1117.6 204.8 1114.5 202.8 1118 202.5 1116.1 203.4 1118.6 202.3 1113.5 204.9 1113.7 203.2 1110.4 203.7 1109.8 202.6 1109.5 205.5 1107.1 201 1107.9 205.9 1105.6 205.1 1104.2 202.5 1101.9 205.5 1098.5 205.9 1096.4 201.4 1092.1 203.6 1091.9 202.6 1089.5 202.5 1085.3 203.1 1083.7 202.2 1079.2 203.6 1075.8 203.6 1072.4 201.1 1068.6 203 1069.1 202.7 1063 203.5 1058.2 201.3 1048.8 202.5 1035.6 205.4 1029.5 203.1 1020 207 1123 206.3 1121.6 206.9 1122 210.5 1119.7 208.5 1120.3 210.7 1114.9 208.4 1114.8 207.5 1114.3 207.6 1114.6 210.2 1114.5 206.4 1112.8 209.3 1109.7 209.4 1114 207.7 1112.5 206.9 1113.1 207.9 1107.9 208.1 1104.5 209 1105.4 206.2 1099.8 206.5 1103.2 209.8 1096.1 208.4 1095.6 207 1093.1 206.6 1094 210.8 1089.4 208.1 1087.8 208.5 1083.3 210.6 1079 207.1 1071 207.5 1067.7 208.5 1061.8 208.4 1054.5 210 1049.5 208.9 1045.3 207 1042.1 206.1 1035.8 207.3 1034.1 209.4 1027.4 214.5 1123.1 215.9 1123.3 213.9 1121 212.4 1119.8 214.5 1118.5 215.2 1117.8 214.1 1115.5 212.6 1117.9 212.7 1114.3 213.4 1111.4 214.3 1112.9 211.4 1113.7 213.9 1111.2 215.9 1111.1 215.9 1106.7 213.1 1106.8 214.8 1101.3 211.6 1099.4 213.6 1100.5 213.9 1096.3 211.6 1098.5 212.7 1093.6 215.1 1090.5 212.9 1088.5 212.1 1080.9 212.4 1079.2 215 1071.3 212.1 1065.5 213.9 1062.7 213.7 1056.2 213.5 1045.9 213 1042.9 212.9 1039 212.8 1030.8 213.5 1025.1 212.8 1020.4 216.1 1121.5 220.3 1119.8 217 1120.2 218.7 1119.5 219.3 1116 221 1117.5 217.9 1118.6 219.4 1118.8 220.2 1118.5 220.7 1111.7 219.8 1112.5 217.2 1112.4 220.9 1113.2 220.5 1109.8 217.3 1105.5 220.5 1106.2 219 1099.4 219 1103.5 217 1101 216 1097.3 217.3 1096.7 216.4 1096.4 217.6 1091.3 218.6 1090.3 219.2 1086.4 216.5 1083.6 220.2 1079.2 219 1069.9 217.9 1068.6 219.6 1061.8 217.8 1054.5 217.1 1049.3 217 1040.6 218.4 1035.8 219 1033.2 218.7 1027.1 220.6 1017.9 221.5 1122.6 225.9 1122.4 225.2 1119.3 224.5 1123.3 223.2 1123.4 222.7 1118.4 224.4 1116.6 222.5 1117.9 221.7 1118.6 223.2 1118.8 222.3 1110.3 222.3 1109.9 225.7 1109.6 222.1 1109.6 223.4 1109.8 223.7 1107.9 224.8 1107.4 225.4 1105.7 221.2 1102.9 223.1 1102.3 223.9 1104.2 225.5 1094.4 224.4 1095.8 224 1094.2 223.3 1091.7 225.7 1091.4 222.5 1085.9 225.7 1079.2 225.8 1079 222.7 1070.1 223.8 1072.9 222.3 1068.6 221.7 1065.5 221.8 1061.1 221.7 1060 225.4 1055.6 222.3 1052.1 223 1044.6 225 1041 222.1 1036.3 222.2 1027.3 223.1 1019.6 228.5 1123.4 228 1123.9 229.3 1119.9 230.5 1121.2 227.9 1121.4 226.9 1116.5 228.5 1118.2 228.2 1115 229.2 1117.6 227.2 1116 227.5 1111.8 228 1111.1 230.4 1112.3 228.7 1111.4 229.3 1113 230.6 1108.5 229.4 1107.9 228.5 1106.9 226.9 1099.4 226.2 1103.5 229.7 1102.3 229.9 1094.3 227 1095.7 228 1094.2 230.5 1090.9 226.7 1092 226.8 1088.8 230.6 1080.9 229.5 1074.3 229.9 1075.6 229.2 1069.6 226.4 1068.5 229.5 1059.5 226.5 1055.8 228.3 1053 229.9 1045.6 228.5 1042.2 227.6 1036.9 229.4 1020.1 230.4 1014.5 229.1 1012.3 228.7 1004.9 230.4 1003 230 986.3 233.5 1120.8 235.9 1122.6 233.7 1121.5 232.4 1121.5 234.5 1117.9 234.4 1116.1 232.8 1115.8 232.9 1115.3 235.1 1112.7 231.9 1112.6 231.6 1109.8 236 1112.1 232.2 1109.8 232.2 1107.7 233.5 1108.5 233 1103.6 231.7 1101.2 232.5 1099.6 234.4 1097.8 234.8 1097.5 233.1 1090.7 234.8 1090.7 232.7 1088.4 235.8 1084 232.5 1077 235.4 1078.3 231.1 1072.5 234.6 1071.9 233.6 1067.4 231.2 1059.4 231.5 1058.2 233.5 1050.5 231.7 1045.1 231.7 1040.5 232.9 1030.5 233.2 1024.2 235.7 1019.8 232 1012 235.6 1006.3 237.1 1119.9 238.9 1120.3 241 1120.3 239.1 1120.4 238.7 1123.1 240.6 1116.6 236.2 1116 241 1116.1 238.5 1116.9 239.2 1116.1 240.5 1109.8 239.9 1110.6 239.6 1113.2 238.5 1112.9 237 1109.4 240.1 1105 238 1109.1 236.9 1106 237.8 1101.2 236.8 1100.9 239.9 1096.4 238.9 1099.2 238 1093.8 236.4 1089.4 239.4 1091.4 240.3 1086 238 1079.3 236.8 1075.1 237.7 1070.7 239.7 1066.4 238.9 1068.9 240.8 1060.4 239.6 1058.6 237.7 1051.8 236.4 1047 236.9 1042.5 236.1 1034.3 240.5 1032.1 238.1 1026.7 238.7 1024.2 239.6 1015 238 1009.5 236.6 1008 245.7 1121.1 242 1121.8 242.6 1121.8 244.1 1119.3 244.4 1121.7 243.5 1118.2 244.4 1117.8 242.1 1117.3 243.4 1119 245.8 1111.7 242.8 1111.9 244.5 1111.7 243 1111.3 242.4 1110.8 244.5 1107.5 244.2 1108.2 243.4 1106.7 241.6 1101.9 244.8 1100.1 245.2 1100.2 242 1098.4 241.7 1095.2 242.6 1093.5 245.5 1093.2 242.2 1091.2 241.2 1086.3 243.8 1081.6 245.1 1074.9 241.2 1071.8 241.1 1071 244.7 1065 244.5 1062.5 244.2 1058.1 243.7 1048.2 244.7 1035 243.9 1031.9 245 1024.6 241.2 1021.9 243.2 1017.5 250.6 1123.2 247.9 1121.1 249.9 1122.1 246.9 1122.3 248.8 1119.4 250.2 1115 248.1 1116.7 250.2 1115.6 248 1118.3 249.7 1117.7 247.3 1110.8 249.2 1109.5 248.9 1111.8 250.4 1113.5 248.9 1109.3 246.8 1108.6 246.1 1105.5 248.1 1105.1 246.1 1102.7 247.3 1102.9 247.3 1097.5 248.3 1096.5 250.9 1098.7 250.5 1092.8 248.7 1092.7 250.5 1089.5 246.5 1087.3 248.8 1082.8 246.3 1077.2 247.9 1071.9 249.6 1067.1 247.9 1065.3 246.4 1061 249.7 1063.9 250.4 1056.7 246.7 1052.8 250.6 1045.9 246.3 1037.5 246.3 1033.8 246.4 1014.3 247.5 1013.1 251.2 1121.9 254.9 1123.8 253.5 1123.5 254.9 1119.7 255.4 1121.5 254.6 1118.9 254.9 1117.7 255.5 1117.8 254.7 1116.7 252.2 1116.7 251.8 1111.5 253.7 1110.7 252.7 1111.1 252 1111.6 252.2 1110.3 252.5 1108.9 252.5 1106.5 252.1 1108.6 252.6 1103.1 253 1100 255.5 1096.5 252.7 1096.7 254.4 1090 255.6 1090 254.2 1090.2 253.8 1088.4 255.7 1086.6 255.9 1081.1 252.1 1080 254.1 1074.8 252.4 1071.3 252 1070.7 252 1068.6 253.9 1059.6 255 1060 255 1057.5 255.5 1052.9 253.8 1048.9 255 1039.8 255.5 1039 260.1 1123.1 256.9 1120.4 260.4 1123.1 258.7 1121.7 257.6 1120 259.9 1117.1 256.7 1114.4 256.7 1118.7 256.1 1117.4 256.1 1118.4 257.3 1110.6 257.1 1114.1 256 1113.6 260.8 1111.9 256.2 1106 257.6 1108.3 258.2 1105.6 258.8 1103.3 258.8 1104 260.6 1099.6 258.4 1097.2 259.7 1096.3 258.2 1092.2 259.6 1093.3 257.2 1088.2 257.6 1080.5 260.6 1076.9 259.7 1078.7 260.1 1072.8 257.9 1065.4 259.8 1068.9 260.6 1062.8 256.4 1059.9 259.5 1050.4 259.7 1039.6 258.6 1037.2 265.5 1119.8 263.5 1123.5 264.1 1123.5 262.7 1121.4 263.5 1121 265.7 1117.6 265.8 1117.6 262.7 1115.4 265.9 1116.7 265.1 1112.6 264.1 1109.5 261.1 1113.6 265.4 1111.4 265 1107 261.7 1107.4 264.8 1106 261.1 1099.2 261.4 1102.8 265 1099.5 262.9 1095.5 264.3 1096.3 263.8 1091.5 262.3 1090.3 261.5 1086.1 261.2 1084.8 263.3 1082.9 263.4 1081.1 263.7 1074.3 261.7 1078.1 261.5 1074.1 265.8 1069.4 265.2 1066.3 262 1064.8 264.2 1060.8 264.5 1063 264.2 1057.7 264.7 1054 265.9 1047.2 262.6 1039.8 261.5 1036.7 265.6 1021.5 269.7 1124 270.6 1120 267.3 1121.9 266.2 1120.2 270.9 1121.2 268.4 1114.9 270.2 1114.6 268.3 1116.7 266.2 1114.4 268.9 1111.2 266.9 1112.4 267.5 1114.2 268 1112.3 269.6 1110.7 270.4 1107.9 269.1 1105.7 266.7 1102.5 269.1 1102.6 268.1 1095.7 266.3 1094.7 270.8 1092.5 270.2 1089.3 266.4 1085.9 270.9 1089 269.3 1081.8 268.5 1076.7 267 1074.7 266.8 1071.1 270.7 1064.3 266.3 1062.1 269.8 1058.8 269.2 1044.5 269.1 1036.5 267 1025.8 273.3 1120 272.9 1120.6 275 1120 272.2 1121.2 273.3 1121.3 271.9 1118 274.9 1115.3 272.9 1116.2 273.2 1116.5 272.3 1117.5 275.4 1113.6 271.6 1109.9 273.2 1111 274 1111.2 271.8 1104.9 272.3 1108.8 273.6 1100.2 273.9 1099.3 271.9 1102.3 274 1095.7 273.5 1098.7 275 1093.8 275.1 1094.2 274.1 1087.7 272.3 1081.1 273.7 1080.1 274.1 1077.7 271.2 1078.3 271.8 1074 275.9 1072.4 273.1 1066.6 275.7 1063.1 275.8 1060.3 275.9 1050.9 273.8 1047 273.6 1025.7 275.5 1020.4 277.5 1120.8 280.4 1119.2 277.4 1120 278.9 1122.4 277.2 1123.7 278.2 1118.6 277 1117.6 276.7 1118.2 277.3 1114.3 278.1 1116.1 280.8 1110.1 280.6 1109.8 279.7 1109.8 277.7 1111.2 277.7 1109.6 281 1108 277.7 1105.5 278.9 1108.1 280.4 1103.2 278.6 1100 278.4 1101.8 280.7 1096.2 279.3 1097.2 279.6 1097.3 277.8 1090.4 280.3 1091.6 279.3 1089.5 280.9 1087.9 279.8 1081.3 276.8 1079.1 280.5 1072.2 279 1072 279.7 1067.3 277.1 1059.5 280.6 1056.5 280.9 1053.2 277.3 1048.5 281.8 1119.2 282.6 1121 281.1 1122.6 283.6 1121.8 283.1 1122.3 284.2 1117.4 281.6 1117.4 284.3 1115.5 283.1 1118.6 284.1 1116.2 285.8 1112.4 283.6 1114 281.7 1113.2 281.9 1113.3 281.5 1109.6 283.4 1106.4 282.4 1104.9 283.1 1104.1 281 1104 281.2 1097 283.6 1097.3 285.7 1089.4 284.8 1091.5 285.8 1090.7 281.7 1088.5 281.5 1087.3 282 1083.8 283.3 1074.8 285.5 1075.1 285.1 1072.8 283.9 1071.5 283.7 1067.9 285 1068 281.9 1064.2 285.4 1056 283.5 1052.5 282.4 1048.4 281.7 1037.6 286.8 1120.1 289.5 1123.3 286.8 1123.6 288.6 1121 289.6 1123 290.5 1116.8 286.6 1118.3 289.6 1118.9 289.1 1115.6 286.7 1113 288.2 1109.9 290 1112.3 286.1 1111.5 287 1112.8 287.4 1107.2 289.4 1104.5 288.9 1100.9 286.6 1103.7 287.7 1102.5 290.8 1095.9 288.1 1094.2 288.2 1091.8 288.6 1093.7 289.6 1086.8 290.5 1081.1 290.4 1075.5 290.8 1069.5 291 1068.4 290.4 1066 287.7 1062.8 286.6 1058.6 290.1 1051.5 286.9 1034.7 288.6 1030 287.3 1025.9 295.3 1120.5 293.8 1120.3 291.7 1120 293.7 1122.3 295.1 1121.9 294.5 1119 293.8 1118.1 293.1 1117.1 294.5 1116 292.8 1118.1 291.3 1111.3 294.6 1111.1 291.1 1113.8 294.2 1110.3 295.9 1105.7 293.1 1104.4 291.6 1102.2 291.1 1101.4 293.7 1103.3 293.3 1095.7 295 1095.2 291.5 1091.3 294.3 1093.2 293.6 1087.8 292.4 1082.1 294.9 1079.3 295.5 1074.3 294.1 1074.1 295.2 1067.5 291.5 1059.5 293.3 1058.1 293.6 1042.8 294.1 1035 293.5 1029.4 294.1 1027.3 292.5 1019.4 298.4 1119.9 296.5 1124.1 299 1121.1 296.2 1120 299.8 1121.2 300.6 1118.1 301 1116.4 300.5 1116.5 299 1114.5 298.2 1117.6 301 1113.6 300.3 1110.4 297.1 1113 296.3 1110 300.2 1105.2 300.9 1108.6 300.1 1108.8 300.2 1103.5 299.7 1099.3 298.4 1102.1 299.2 1094.3 299.5 1097 300.5 1090.4 296.7 1090.7 297.3 1092 296.4 1086.9 299.6 1085.6 300.6 1080.5 299.9 1075.5 296.6 1079.1 296.9 1069.8 298.1 1066.6 296.4 1059.9 299.1 1062.9 296.4 1055.4 296.3 1050.1 296.8 1046.4 298.6 1041.9 297.3 1036.7 298.1 1026.9 302.7 1121.1 305.7 1123.4 303.2 1119.3 301 1120.7 302.8 1121.7 302.3 1118.9 304.2 1114.3 303.3 1114.5 303.6 1115.8 304.3 1115.4 304.4 1110.6 302.3 1109.8 304 1111.7 304.2 1112.5 302.2 1109.6 302.8 1106.2 303.5 1108.7 302.4 1105.4 303.4 1103.7 301.4 1099.3 303.2 1101.9 301.8 1096.6 305.7 1094.5 303 1096.6 305.2 1093.5 302.5 1093.2 304.7 1089.9 302.7 1084.6 304.8 1082.6 305.5 1082.9 305.3 1077.6 304.2 1073.8 303.9 1072.7 301.5 1065.8 303.9 1060.6 301.8 1062.6 304.4 1054.7 302.9 1052.5 302.6 1043.4 302.7 1039.1 305.4 1032.2 310.8 1120.5 306.9 1122.4 307.7 1120.2 309.9 1120.1 307.1 1114.2 307.7 1116.2 308.1 1115.6 306 1115.2 310.5 1115.7 309.5 1113.1 309.8 1110.2 309 1110.4 309.5 1110.4 310.5 1110.4 309.6 1108.8 307 1104.6 310.3 1100.6 306.7 1099.8 309.6 1103.1 309.4 1096.1 308.9 1094.9 307.6 1094.9 310.3 1092 307.2 1091.7 309.3 1088.8 306.5 1083.6 307.6 1081.5 307.9 1074.8 310.8 1072.5 306.8 1065.2 309 1064.5 309.8 1063.4 306.9 1049.3 310.8 1044.2 308.1 1040.2 310.5 1032.1 306.3 1025.9 309.6 1022.8 308.2 1018 313.2 1123.1 312.8 1121.1 314.7 1121.8 313.1 1122.8 314 1120.5 311.6 1115.7 312.3 1115.4 313.8 1118.7 312.7 1114.5 315.2 1115.9 316 1110.3 315.4 1111.7 315.5 1112.8 315.7 1109.3 315.8 1105.8 314.4 1108.6 311.4 1099.7 315 1099.8 312.4 1096.2 313.4 1094.8 313.1 1090.6 314.9 1091 314.3 1086.3 312.4 1083.5 313.6 1083.6 314 1078.5 314.9 1074 313.4 1064.7 314.1 1060.2 314.7 1055.7 313.3 1053 311.8 1045.9 314.1 1040.3 314 1035.2 311.9 1032.8 312.6 1025.8 312 1019.5 315.6 1017 311.4 1009.6 311.4 1006.2 316.2 1122.5 318.9 1123.4 317.9 1123 318.5 1119.8 318.9 1120.4 316.1 1118.7 320.1 1116.7 318.1 1114.9 317.3 1116.8 319.5 1113.9 317.3 1109.9 319.1 1112.2 320.5 1111.6 317.4 1106.1 317.9 1109.2 318.6 1102.6 317.6 1102.1 320.8 1095.6 320.7 1097.7 316.8 1090 316.5 1090.4 321 1090.3 317 1085 316 1081.8 320.6 1079.2 316.2 1076.9 319.3 1072.3 320.3 1065.2 318.7 1064 318.5 1064.1 317.9 1054.5 316.8 1050.4 318.8 1045.6 318.6 1044 316.4 1036.7 317.1 1032.4 320.7 1024.9 321 1020.5 317.5 1015.7 325.4 1123.1 325 1119.3 324.4 1120.8 325.9 1114.6 321.3 1115.5 323.2 1117.4 322.5 1115.6 321.8 1114 321.2 1112.1 324.6 1111.3 325.8 1109.8 325.5 1111.5 324.5 1106 321.9 1106.5 323.3 1106.7 323.5 1101.2 322.6 1103.4 326 1100.4 325.1 1095.3 322.7 1097.8 322 1099.1 325.6 1089.3 324.2 1089.3 321.3 1091.5 322.3 1089.1 324 1079.5 325.2 1076.3 325.3 1077.6 324.2 1072.5 321.8 1073.4 324 1065.3 321.5 1068.2 322.2 1061.3 325.1 1056.3 322.7 1050.8 321.7 1047.2 321.3 1043.6 325.1 1034.7 324.7 1030.1 324.5 1019.7 325.2 1010.4 328.8 1121.2 326.5 1120 328.9 1122.9 327.1 1115.3 326.5 1118 326.7 1115.9 329.4 1117.1 326.8 1119.1 329 1113.9 329.2 1110 327 1109.5 326.8 1112 330.8 1106.8 329.7 1105.6 327.4 1106.9 327.7 1103.2 326.8 1099.3 330.6 1103.4 327.7 1095.4 328.3 1096.8 326.2 1091.6 327.3 1089.6 329.2 1092.8 328.9 1086 329.7 1083.1 329.7 1075.4 327.2 1069.3 330.6 1067.8 330.4 1059.2 329.5 1063.5 328.7 1059.2 328.8 1049.6 330.5 1048.2 327.3 1035.9 326.1 1030.7 329.2 1028.7 332 1119.7 335.6 1121.8 334 1120.3 331.7 1117.7 332.3 1117.4 334.7 1117.4 334.7 1115.9 335.6 1116.3 332.9 1111.5 332 1113.2 332.8 1109.9 335.5 1111.9 332.6 1106.4 333.3 1104.2 334.4 1107.4 333.3 1099.4 331.9 1100.2 333 1099 332.3 1097.6 332.3 1096 332.5 1091.5 333.7 1091.3 331.9 1092.9 336 1088.4 335.4 1079.2 333 1079.4 335.5 1079 335.2 1071.9 331.5 1070.3 332 1065.5 334.7 1066.6 334 1062.9 334.1 1058 331.8 1042.8 333.2 1037.2 332.9 1032.3 335.9 1025.3 339.4 1120.6 337.2 1121.2 339.6 1121.2 337.3 1122.6 338.1 1118.2 336.3 1114.2 337.8 1114.8 340.5 1118.4 336.9 1118 337.1 1111.1 339.5 1113.3 338.6 1111 339.6 1110.8 339.8 1113.8 339.6 1107 339.5 1105.6 339.9 1105.6 340.5 1100.8 338.4 1100.1 337.7 1102.5 340.9 1098.2 337.5 1098.7 338.4 1091.8 337.8 1092.4 336.8 1086.8 338.6 1081.7 338.1 1082.6 337.2 1076.6 337.8 1072.1 338.5 1065.3 337.2 1061.7 338.3 1056 337.4 1053 337.6 1047.7 337.6 1038.7 341.2 1121.2 345 1121.4 344.8 1120.5 343.6 1117.7 345.9 1119 343.8 1117.7 345 1114.4 343.9 1115.6 345.9 1111.9 345.4 1114.1 342.7 1110.7 341.9 1114.2 342.6 1110.7 341.9 1106.2 345.3 1105.4 343.5 1103.1 342.4 1101.4 344.5 1098 344.1 1098.1 344.4 1094.8 343.1 1089.6 341.7 1092.2 342.9 1088.9 342.8 1086.2 343.2 1079.6 344.7 1075 344.8 1071.8 344.3 1065.7 341.2 1065.6 341.2 1059.5 345.7 1057.2 344.3 1052.7 344.3 1047.5 342.5 1039.7 341.7 1036.7 341.9 1030.1 349.4 1119.8 351 1119.7 347.1 1118.3 346.6 1115.3 348.7 1114.3 346.9 1117.4 347.4 1114.9 349.6 1111.7 347.3 1112.2 346.6 1110.6 349 1111.5 346.7 1106.1 346.5 1107.9 348.6 1099.8 347.1 1102.4 347.5 1095.8 347.7 1097.2 349.9 1098.8 348.5 1092.1 348.2 1093.3 349.6 1087.6 347.2 1088.2 349.5 1081.2 348.2 1077.1 346.9 1075.5 350.2 1071.7 350.3 1068.9 347.7 1067.4 349.2 1062.7 350.7 1059.6 347 1055.9 347.1 1052.5 349.5 1034.3 348.1 1029.5 352.4 1119.3 354.7 1118.9 354 1114.5 352.9 1118.6 351.3 1116.5 353.7 1110.8 353.2 1111.2 354 1111.3 353.6 1113.1 352.4 1110.8 351.5 1108.9 353.3 1104.5 352.1 1101.1 351.4 1100.2 355.7 1097.4 352.5 1097.5 351.6 1097.4 351.2 1091.9 355.2 1090.4 353.7 1093.6 352.3 1086.9 352 1081.5 353.2 1078.8 355.5 1073.1 353.3 1064.9 351.3 1059.3 352.8 1064 352.7 1055 351.6 1048.6 351.7 1037.7 354.1 1031.5 353.2 1025 354 1023.7 360.4 1120.7 356.5 1116.1 357.5 1118.3 360.1 1115.1 358.4 1116.8 359 1110.5 360.4 1110.1 360 1113.2 360.6 1113.8 357.2 1111.5 359.2 1106.1 359.6 1107.2 357.4 1101.3 359.6 1102.2 358.8 1099.9 358.4 1097.2 356.5 1097.3 358.5 1091.9 359.3 1093.1 357.2 1086.6 360 1080.4 361 1076.4 356.8 1074.1 359.1 1067.8 358.4 1063.6 357.1 1061.7 357.7 1055.8 356.7 1050.2 359.3 1045.5 356.3 1043.5 359.3 1039 360.6 1031.2 359.8 1024.1 359.7 1015.3 359.7 999.3 364.4 1119.6 362.5 1121.1 361.5 1118.3 364.7 1115.4 363.4 1114.9 362 1118 365.2 1112.7 364.1 1111.8 363.7 1112.8 361.6 1110.2 363.2 1112.5 361.2 1105.5 362.7 1107.6 361.2 1100.5 364.3 1100.2 363.4 1099.9 363.7 1095.1 362.5 1096.8 362.8 1098.9 365.2 1090.3 361.1 1089.7 365.5 1087.3 361.1 1085.4 365.1 1083.5 365.1 1084 364.4 1076.2 364.6 1078.6 365.3 1070.1 364.5 1065.1 363.4 1061.2 362.4 1050 361.6 1045.2 361.2 1036.7 364.3 1031.1 361.5 1027.4 365.9 1021.7 364.3 1016.1 361.6 1013.1 363.1 1007.7 366.3 1120.5 368.5 1121.3 369.8 1119.6 368.3 1117.3 366.9 1116.4 370.3 1118.1 366.8 1118.8 368 1114.2 366.6 1109.4 367.1 1112 369 1109.3 370.4 1112.5 370.8 1111.2 367.5 1106 369.6 1104.2 369 1103.8 369.6 1103.6 370.8 1094.9 366.5 1096.2 369.9 1089.9 366.6 1093.2 370.9 1086.8 369 1084.9 367.6 1080.9 367.7 1080.5 368.9 1076.5 370.9 1070.1 368.8 1066.2 367.2 1068.4 368.9 1060 368.5 1056.9 367.6 1050.4 366.4 1044.8 367.6 1032.9 368.1 1028.9 369.4 1020 366.9 1018 374.1 1120.5 375.3 1119.5 374.1 1114.8 371.6 1117.5 372.7 1116.3 374.9 1116.3 373.8 1115.3 374.3 1110.4 373.3 1110.4 371.1 1111.1 374.6 1110.7 371.5 1111.6 374.6 1104.5 371.6 1108.1 371.2 1102 371.2 1101 371.5 1098.5 372.7 1097.7 373.9 1092.6 371.1 1093.9 375.3 1093.2 373.1 1088.3 371.4 1083 372.8 1078.8 372.3 1069.4 371.8 1067.8 375 1064.8 372.1 1062.2 373.6 1054.5 373.5 1053.5 374.7 1029.5 373.9 1026.5 371.3 1021.1 375.3 1018.7 380.7 1119.3 376.9 1120.2 379.2 1120 378.1 1115 377.9 1115.1 378.9 1118.7 376.1 1116.8 377.7 1114.3 378.4 1110.5 377.6 1110.8 377.9 1113.1 376.4 1111.3 379.4 1111.4 376.5 1108.3 380.3 1107.3 379 1108.3 376.3 1099.3 377.3 1102 376.8 1102 377.9 1099.2 378 1096.2 376.2 1090.8 378.2 1089.7 380.9 1091.1 379.7 1088.8 379.9 1080.3 379.7 1075.2 377.1 1069.3 376.5 1067.7 378.6 1063.5 378.2 1062.4 377.6 1058.6 380.5 1052.3 376.4 1048.9 379.2 1039.6 380.4 1034.3 378.9 1033.8 380 1025 377.7 1023.5 379.1 1019 384.2 1119.4 384.2 1119.4 384.4 1115.9 385.6 1118.5 384.8 1114.9 381 1116.3 383.2 1112.6 381.5 1111.6 385.3 1110.3 381.1 1111.3 382.7 1109.7 382.9 1107.9 381.1 1107.1 384.9 1101.6 383.5 1103.7 381.6 1103.2 381.6 1097.6 383.7 1096.6 383.1 1096.7 383 1090.9 381.1 1090.9 385.6 1089.3 382.6 1087.7 381.3 1080.9 383.4 1084 385.2 1076 382.7 1074 385.9 1064.9 381.8 1064.9 381.9 1062.3 381.9 1060.1 384.9 1056.1 385.6 1050.2 386 1049.2 383.6 1040.5 383.3 1036.5 384.9 1031.9 385.3 1021.3 385.5 1015 383.2 1001.8 389.4 1119.5 387.5 1115 386 1115.7 387.8 1115.2 387.1 1114.6 387 1118.4 389.4 1110.4 388.2 1109.6 390.5 1110.1 390 1109.5 390.2 1108.4 389.3 1107.8 388 1107.8 388.6 1099.8 387.8 1103.3 390 1102.9 386.2 1095.7 390.8 1095.8 388.9 1095.7 391 1091 386.8 1089.2 388 1084.7 388 1082.1 390.7 1075.7 389.3 1078.1 390.7 1069.9 386.4 1066 388.1 1062.1 390.7 1060.5 388.7 1056 388.9 1053.9 389 1044.6 386.3 1035.9 388 1020.2 386.6 1010.6 390.7 1005 388.7 990.6 388.1 987.3 395.5 1119.3 394.2 1118 393.2 1117.1 393 1114.6 392.5 1117 391.2 1117.5 393 1113.4 392.5 1112.5 393.3 1111.9 394.2 1111 393.4 1112.1 394.3 1107.4 395.9 1105.2 395.2 1108.5 394.1 1099.9 393.3 1100.1 394 1104.2 395.6 1097.3 395.1 1098.2 394.2 1092.2 395.3 1093.6 393.8 1085.6 391.1 1085.8 393.6 1081.7 394.7 1082.2 392.5 1074.5 391.8 1072.6 394.5 1067.6 394.4 1060.6 391.7 1062.4 395.8 1051.1 393.6 1045.6 391.7 1035 393.4 1024.4 395.9 1012.3 400.9 1118.1 400.3 1116.3 398.7 1114.5 397.7 1114.4 399.7 1116.7 400 1113.9 397.1 1112.4 399.5 1109.6 399.4 1113.4 400.3 1109.3 397.5 1105.3 396.6 1106.3 398.7 1102.6 398.8 1101.1 397.4 1098.2 400.8 1094.5 396.7 1098.3 400.1 1091.3 400.9 1092.5 396.9 1085.3 397.2 1079.6 396.8 1082.5 397.3 1078.1 400.5 1072.4 399.1 1065.3 396.7 1060.8 400.1 1058.8 398.5 1050.1 397.9 1048.4 397.6 1039.1 396.8 1033.6 400.2 1026.7 397.3 996 396.5 970.9 396.4 933.6 399.8 921 405.3 1115.2 404.5 1118.1 405.4 1116.7 404.5 1119 403.6 1115.3 405 1112 402.2 1109.9 405.5 1109.6 403.6 1109.6 405.5 1108.3 402 1107.1 404.3 1107.9 405.2 1101.3 403.2 1100.4 404.3 1099.6 401.8 1098.9 404.3 1097.6 401.2 1096.5 405.6 1092.7 402.7 1089.6 401.7 1087.3 404.6 1080.8 403.4 1084 402.2 1076.6 401.4 1069.8 404.1 1070.1 401.2 1064.3 401.1 1062.7 401.4 1062.2 403.5 1056.8 405.8 1045.8 402 1029.7 403.3 1025.9 405.4 993.1 404.9 970.8 401.8 963.3 403.4 942 401.1 913.3 407.3 1115.2 406.4 1114.3 407 1115.3 409.1 1116.9 410.3 1118 407.2 1110.4 409.1 1110.9 410 1111.9 409.3 1110.1 410.5 1111.1 408.4 1104.7 409.5 1108.4 409.8 1105.5 406.7 1101.4 407.1 1104.1 410.3 1099.6 407.2 1094.4 406.4 1095.4 408.5 1089.3 409.7 1092.4 409.7 1092.2 406.3 1084.3 406 1083 409.5 1080.5 407.5 1076.6 410.6 1078.1 407.7 1073.3 410.7 1069.6 409.3 1067.4 406.6 1065 406.1 1063 410 1063.4 410.1 1050.2 409.4 1048.5 407.8 1034.5 410.9 1025.9 408.7 1022.6 408.6 1013.1 406.9 1000.1 406.3 986.2 410.4 969.5 408.4 967 410.4 952 406.2 934 415.9 1114.5 412.4 1115.6 412 1114.9 413.7 1117.7 415.9 1113.5 411.6 1109.7 415.4 1114.1 414.7 1109.7 415.2 1113.6 411.6 1108.4 413 1105 415.4 1104.1 415.6 1100.6 415.7 1103.4 413.5 1098.2 414.3 1095.9 415.8 1097.9 415.9 1090.9 412.2 1089.8 414.5 1087.6 416 1079.9 412.7 1078.4 412.3 1069.9 412.7 1067.3 415.4 1066.4 411.1 1063.2 413.9 1061.1 414.3 1057.7 415.8 1049.6 415.9 1039.4 411.3 1037.9 411.7 1016.1 412.7 994.4 416 970.4 420.6 1115.2 419.3 1117.9 418.4 1115.1 418.2 1115.1 419.6 1113.2 419.1 1114 416.8 1113.8 416.9 1112.2 417.8 1107 416.9 1108.3 420.9 1108.3 418.1 1101.4 420.2 1103.7 418.3 1098.7 417.5 1095.2 420.3 1089.9 420.3 1091.1 419.7 1090.3 420.8 1089 420.9 1082.2 420.3 1075.2 420.2 1072.9 419.6 1072.6 417.4 1068.7 417.8 1063.5 420 1046 416.1 1030.1 416.4 954.6 420.6 951.8 419.1 927.4 419.8 919.1 425.3 1116 424.2 1117.2 424.5 1116.2 423.8 1114.5 423.7 1117.5 423 1109.6 423.1 1114 425.6 1110.4 425.3 1110.6 425.5 1113.5 421.2 1104.4 422.2 1108.5 424.2 1100 423.5 1099.7 422.2 1104 422.1 1096.4 425.6 1095.1 423.9 1098.8 424.5 1090.6 421.2 1093.1 423.9 1084.5 424.7 1081.9 423.3 1078.3 423.9 1073.1 423.1 1065.8 424.9 1069 421.7 1062.6 423 1062.7 424.6 1056 423.3 1051.6 424.1 1047.5 421.3 1044.1 423.7 1021.3 421.5 1018.7 423.2 998.8 423.2 951.2 430.3 1117.3 427.7 1117.2 428.7 1117.1 430.6 1116.3 430.4 1111.3 428.6 1113.3 427.9 1111.7 430.3 1110.2 426.1 1113.5 427.7 1107.9 430.3 1104.9 426.8 1108.4 427.1 1103.7 426.3 1099.7 427.9 1101.1 430.7 1095.5 428.4 1096.8 427.7 1089.3 426.2 1089.4 427 1090.4 430.7 1087.3 426.8 1081.6 429.5 1076.2 426.2 1078.7 429 1073.6 427.4 1064.5 427.1 1064.9 426.3 1061.6 426.1 1054.9 426.1 1053.4 429.9 1045.2 428.7 1023.5 431 1011.7 426.8 998.9 426.5 991.6 429.8 982.6 430 962.7 429.4 953.6 426 947.6 431 930.9 434.3 1114.8 434 1115.3 432.4 1110.7 434 1109.5 435.8 1112.7 435.2 1110.9 435.1 1110.4 435.2 1104.9 431.7 1104.5 434.4 1108.7 432.7 1100.3 433 1099.3 431.1 1101 433.8 1096.3 432.3 1097.7 431.9 1097.2 431.6 1089.6 434.1 1093.8 432.4 1093.7 432.9 1087.1 431.7 1079.9 432 1076.2 435.6 1078.9 434.6 1070.8 434 1064.5 432.3 1060.6 433.1 1058.4 434.1 1050 431.9 1045.8 433.2 1024.4 435.6 1023.1 432 1016.8 431.1 977.6 433.7 973 432.2 962.7 432 924.5 438.4 1113.4 440.3 1110.6 437.7 1109.3 436.8 1109.8 437.7 1108.1 438.1 1107.7 436.9 1103.6 436.2 1100.6 438.5 1103.6 437.1 1097.5 439.7 1097.4 439.9 1096.6 440.9 1091.6 440.8 1093.2 439.6 1089.1 438.1 1081.4 440 1079 440.7 1071.1 437.9 1067.6 436.4 1059.2 436.9 1060.5 438.9 1057.7 440.9 1050 438.4 1046 440.3 1038.1 439.4 1028.8 439.7 992.1 436.7 987.2 440.9 944.1 444.6 1110 441.3 1106.2 443.4 1107.2 444.8 1101.3 443.9 1103.9 441 1097.2 442.4 1098.3 442.3 1098.8 443.5 1089.6 444.3 1090.5 441.1 1091.6 445.4 1089 442.3 1083.3 441.8 1083 442.7 1074.4 445.4 1075.3 442.2 1071.4 442.6 1069 444.6 1067.3 443.6 1062.4 442 1059.3 441.8 1058.5 443.7 1042.5 444.2 1037.7 445.8 1014 443 1004.5 442.2 991.1 444.3 964.1 442.2 941.4 443.3 912.5 446.8 1109.4 448.2 1108 449 1108.2 447.4 1106.8 450.8 1101.1 449.7 1103.1 448.5 1098 446.8 1099.1 449 1096.4 449.3 1090.4 447.3 1091 450 1093 446.7 1088 448.9 1082.4 448.4 1080.1 449.4 1078.9 446.3 1074.7 449.8 1069.4 449.2 1070 449.7 1065 450.3 1062.6 449.6 1055 447.8 1049.6 449.6 1046.9 446.6 1031.2 450.8 1028.6 449.5 1024.1 448.6 974.4 447.6 963.4 446.1 946.2 446.5 932.8 446.5 923.8 448.8 916.5 453.4 1100.7 453.8 1103.9 454.1 1102.5 453.3 1094.4 455.8 1096.1 453 1092.7 454.8 1091.4 454.6 1092.6 454.9 1087 453.4 1081.2 454.2 1083.3 453.4 1074.8 452.2 1075 454.4 1073 451 1069.3 453.2 1064.9 453.9 1061.3 451.8 1064.2 453.8 1057.1 451.5 1052.8 453.9 1047.6 451.1 1037.6 453.8 1029.4 453.7 1020.1 454 1006.5 455.1 1003.6 453.4 984 451.9 971.6 455.5 955.6 452.5 923 459.3 1102.5 459.6 1100.7 460.6 1094.6 460.5 1094.2 460.5 1098.9 460.7 1089.2 457.3 1089.6 459.1 1086.1 457.8 1082.5 459.3 1077.4 459.7 1073.2 460.3 1068.5 457 1065.3 459.5 1059.6 458.7 1061.8 460.7 1055.3 458.7 1049.8 457.7 1046.6 458.4 1029.9 458.1 1005.7 458.5 1004.2 458.5 992.9 456.6 981.4 459.2 970.4 458.6 957.1 456.3 946.5 457.2 933.9 458.3 904.7 462.3 1094.7 461.9 1098 465.6 1096.6 462.4 1093.4 463.8 1090.1 463.8 1086.6 464.1 1087.7 461.9 1080 462.8 1077.9 464.4 1070.8 464.8 1066.6 461 1063.2 465.1 1054.6 463.8 1052.6 464.5 1042.2 463.6 1038.1 463.9 1031.3 465.6 1025 465.4 1017.2 462.3 1009.9 462.9 1005.3 465.6 1001 465.8 988 463.6 970.6 461.7 966.5 464 962.4 465 957.9 466.1 1094.9 467 1090.3 466.7 1091.7 470.9 1091.4 466.6 1085.5 469.6 1082.9 470.6 1078 470.9 1070.2 469.5 1065.2 468.7 1068.9 470.1 1062 468.4 1054.7 468.1 1033.4 466.7 1005.6 466.4 1003.3 469.5 946.3 470.3 904.5 472.8 1089.5 473.7 1089.8 476 1086.8 471.5 1087.2 475.3 1080.1 474.2 1079 472.5 1075.5 473.2 1074.2 472.6 1070.2 471.8 1066.8 475.6 1064 472.4 1062.9 475.1 1049.7 473.1 1048.6 472.1 1013.1 473.9 1006.2 475 969 471 915.5 479.5 1080.3 476.8 1077.5 476.8 1074.7 478.5 1070.2 478.7 1073.9 476.2 1065.6 479.5 1059.5 477.9 1058.1 477.1 1031.9 478.3 1012.4 480.3 1003.4 477.8 987.2 478.2 955.4 480.2 939.9 476.6 933.4 480.6 924.6 485.1 1080.7 481 1078.4 483.7 1074.4 482.4 1070.9 482 1069.7 482.6 1067.2 482.1 1060.8 482.6 1062.7 482.4 1059.1 481.1 1052.2 481.9 1048.5 483.1 1042.6 482.7 1027.7 485.6 1008.3 483.1 992.7 487.9 1077.4 486.4 1075.7 488.4 1071 488.3 1065.3 487.9 1067.8 490 1062.2 486.6 1055.3 486.9 1053.1 490.1 1047.3 488.3 1043.3 490.7 1025.1 486.5 1021.3 486.6 1011.3 492.1 1076.3 492.1 1073.9 495.4 1069.9 492.9 1067.7 494.5 1064.2 491.6 1063.1 492.8 1064 495.1 1058.9 492.6 1037.9 492.1 1015.1 500 1077.3 500.7 1077.1 498.7 1072.6 499.2 1073.3 497 1066.2 497.3 1062.1 499.3 1058.1 500.8 1050.2 499.2 1030.1 499.6 996.2 502.6 1077.3 502.4 1070.7 501.5 1071.1 501.1 1066.5 504.3 1067.2 501.1 1060 501.6 1063.5 502.6 1058.2 502.4 1053.8 502.1 1048.5 506 1036.7 502.7 1030.8 502.7 1025.5 502.3 1013.1 505 1004.8 510.7 1072 510.3 1064.9 506.9 1059.3 510.6 1054.6 509 1047.8 507 1024.5 508.9 1022.8 509.6 1006 507.4 1001 514 1071 513.8 1069.9 514.4 1067.2 513.8 1059.7 512.5 1059.2 514.3 1057.4 511.3 1043 514.6 1016 514.6 1013.8 513.9 1008.7 520 1071 520.5 1068.8 520.7 1064.7 517.5 1062.3 517.2 1056.6 519.8 1051.3 519.2 1047.1 518.2 1027.2 517.8 1018.2 519.7 994.3 524.2 1066.8 524.8 1059.5 521.4 1058.4 522.6 1053.2 524.6 1045.6 523.4 1041.6 524.3 1035.4 525.6 1016.4 521.7 998.1 526.4 1070 530.2 1067.8 530.7 1061.2 529.1 1052.2 530.9 1045.5 528.9 1037 530.5 1032.5 529.5 1027.2 529.5 1023.6 529.7 1018.5 529.7 1009.8 530.5 1001.5 534.6 1066.4 532.3 1063 531.1 1057.8 533.6 1050.4 534.2 1048.4 534.4 1043.9 533.9 1013.5 532.4 1004.8 534.6 1002.9 539.6 1066.4 539 1060.4 536.5 1054.6 539.5 1051.3 537.5 1046.5 539 1034.5 537.9 1023.8 541.3 1062 544.1 1057.1 541.8 1053.5 541.4 1046.5 543.2 1038.1 544.8 1021.8 541.6 1009.2 544.8 1006 545.1 1000.5 548.6 1049.9 549.2 1045.4 546.5 1040.9 548.8 1025.8 549.1 1023.5 548.8 1018.7 551.1 1047.2 552.4 1034.6 555.7 1022.8 551.2 1017.4 555.6 1009.6 553.2 1001.5 559.6 1048.9 559.8 1025.3 557.2 1022.1 560.3 1009.8 557.9 1002.7 563.8 1064.4 565 1062.8 564.3 1055.9 563.5 1052.8 562.4 1028 563.2 1015 563.1 1005 564.1 1002.6 562.2 996.3 569.8 1068.1 570.6 1061.4 569.3 1060.9 569.2 1055.8 566.3 1053.5 570.8 1047.9 567.2 1044 569.9 1035.7 570.5 1023.8 569.6 1002.1 571.3 1070.6 575 1068.6 574.4 1060.6 574.4 1056.3 575.6 1052.3 574.4 1047.3 571.5 1023.1 580.2 1070.1 577.3 1064.4 580.3 1061.6 579.6 1051.2 580.2 1046.1 577.1 1031.4 581.6 1064.4 585.6 1062 583.9 1055.3 582.6 1052.9 581.5 1047.9 581.9 1036.6 581.1 1030.6 583.3 1028.4 583.6 1013.4 586.2 1054.7 589.3 1050.8 586.2 1037.9 589.4 1033.9 586.9 1021.4 588.4 1012.8 593.4 1056.9 595.3 1052.1 595.7 1046.9 592.3 1037.3 594.1 1025.3 595.9 1016.8 598.6 1030.4 598.5 1024 600.5 1009.2 597.8 1000 598.3 998.6 602 1053.9 604.6 1040.8 605.1 1030.2 603.8 999.7 609.7 1050.4 607.4 1045.2 606.5 1032.4 606.5 1016.8 609.7 1010.3 607.4 1000.8 612.8 1052.7 613.9 1002 613.2 995.6 618.2 1057.4 618.2 1050.7 617.5 1045.1 619.2 1041.8 617.8 1030.5 619.4 1014.3 617.1 1007.2 617.9 1001.6 623.5 1079.3 623.5 1077.6 625.8 1075 623.5 1073.2 625.2 1064.5 624.9 1064.1 623.1 1055.1 621.2 1044.9 622.5 1028.2 621.1 1024 625.8 1016.3 625.5 1013.7 622.7 1008.3 622.2 995.1 628.1 1092.8 629.1 1090.1 627.1 1086 626.2 1087.7 630.2 1084.2 629.8 1074.2 630.7 1078.2 630.4 1073.6 629.4 1068.6 628.2 1066.1 628.8 1063.4 629.1 1059.2 630.5 1051.1 630.6 1045.3 629.3 1021.3 635.9 1103 635.6 1100.9 635.5 1095.8 632.4 1095.3 632.6 1098 634.4 1092.1 631.1 1092.6 634.2 1089.8 633.7 1088.9 632.3 1087.9 632.4 1079.8 632.3 1082.2 634.7 1074.4 632.5 1070.1 635 1067.6 634.1 1062.6 636 1057.2 634.5 1053 632.9 1048 634.3 1037 633.9 1015.8 632.1 1011.9 640.3 1109.8 637.4 1105.2 636.4 1104.2 639.7 1103.8 639.1 1099.6 639.4 1095.3 638.2 1094.3 639.9 1089.9 638.4 1090.5 639.6 1091.3 636.2 1089 636 1081.5 637.4 1075.1 636 1073.9 637.6 1068.4 640.4 1066.5 641 1062.9 637.7 1062 638.7 1057.1 636.4 1053.4 637.9 1046.7 639.5 1035.6 637 1019.4 643.6 1109.9 644.3 1106 642.9 1106.6 643.9 1106.3 646 1103.2 644.8 1102.8 641.6 1094.9 641.5 1094.5 643.5 1090.2 641.2 1093.4 641.4 1087.2 642.9 1084.6 641.8 1083.6 644.2 1082.4 645.3 1076 641.9 1078.4 645.7 1069.8 643.7 1068.7 642.1 1062.3 642.8 1054.5 644.1 1048.7 643.3 1022.6 642.7 1004.1 647 1105.4 649.8 1104.9 646 1106.8 650.8 1101.2 650.3 1104.1 650.4 1100.5 648.3 1095.4 647.1 1098.8 646.6 1093.5 648.7 1090.6 646.4 1093.3 650.4 1086.2 649.5 1081.3 646 1076.5 650.6 1069.5 646.2 1067.2 650.6 1063.7 647.4 1057.3 649.5 1051.8 647 1036 646.9 1029.7 649.2 1022.5 648.6 1008.5 655.1 1108.2 654.9 1105.6 656 1102 654.9 1103 654.1 1100.1 655.7 1096.1 654.7 1096.3 654.4 1091.4 651.3 1091 652.7 1091.3 654 1085.8 651.1 1083.3 652.5 1075.8 653.3 1073.3 651.5 1068.3 652.4 1066.5 653.3 1061.9 654.1 1058.9 652.2 1034.6 653.2 1031.1 653.2 1029 652 1018.5 651.4 1004.1 652.9 999.1 656.2 1104.4 660.5 1107.3 657.1 1102.5 656.6 1102.8 657 1103 657.4 1095.9 658.6 1097.3 656.2 1098.9 658.5 1091.8 658.8 1092.8 659.1 1089.8 660 1087.7 660.6 1080.1 658.5 1083.1 656.1 1075.8 659.9 1069.4 656.1 1070.6 660 1064.3 658.4 1065.8 660.4 1061.7 657.1 1055.5 658.3 1053.4 656.3 1044.2 656.3 1037.8 659.2 1015.5 661.2 1104.4 662 1104.6 661.6 1103.7 664.2 1101.9 663.9 1097.4 665.6 1098.4 664.9 1095 664.8 1092.6 663 1089.7 665.4 1089.2 665.5 1087.4 661.7 1079.4 663.5 1084.1 663.1 1074.4 661.1 1077.2 662.7 1073.4 666 1069.4 665.7 1064.7 663.2 1067 663.5 1060.6 664.9 1055.5 661.2 1049.2 664.1 1046.8 663.3 1035.3 662.8 1011.4 665 1007.4 663.4 1003.3 668.4 1105.9 667 1105.3 670.4 1106.1 669.2 1099.5 668 1100 668.6 1095.1 669.5 1096.2 666.2 1090.5 670.3 1092.4 670.6 1091.5 666.1 1087.2 667.3 1081.8 666.1 1078.4 666 1073.4 669.9 1064.3 670.6 1062.3 668.7 1061.9 668.5 1050 666.5 1013.4 668.8 977.3 666.9 968.6 674.3 1110.1 673.9 1110.7 673.4 1109.1 671.6 1108.5 675.6 1099.3 671 1102.3 675 1100.9 672.3 1097.1 672.4 1095.3 674.1 1099 673.5 1093 673.8 1089.2 674.3 1085.8 674.2 1081.3 673.4 1078.2 672.1 1075.4 673.1 1072.4 674.7 1064.9 673.5 1059.3 673.2 1049.4 674.6 1036.2 672.6 1028.6 676.4 1111.2 680.9 1109.8 678.5 1110 678.2 1105.1 680.3 1106 678.2 1100.6 676.6 1100.3 680.7 1099.7 676.4 1097.5 678.2 1094.6 677.8 1097.8 679.1 1090.2 679.5 1093.9 680 1087.6 679.5 1088.9 680.5 1082.1 677.6 1078.4 676.8 1079.1 678.2 1072 679.6 1065.9 680.8 1063.6 678.1 1064.1 676.6 1056.8 680.9 1052.2 677 1046.8 680.8 1024.7 677.6 1010.6 679.8 995.1 685 1113.5 681.9 1110.5 684.2 1110 681.8 1112.1 685.1 1105.5 685.2 1106.7 681.1 1108.1 682.3 1102.8 685 1101.9 684.1 1098.5 683.2 1094.5 685.6 1096.2 681.7 1092.9 681.1 1089.8 681.3 1085.6 682.6 1084.1 682.2 1081.1 683.4 1077.4 681.4 1073.5 684.7 1066.7 681.6 1060.3 682 1051.7 683.5 1037.7 681.1 1022.1 684.4 978.6 687 1114 691 1112.9 687.7 1110.9 689.5 1111.6 690.3 1112.8 688.1 1106.8 687.1 1108.4 690.1 1107 687.2 1103.6 688.1 1103.4 687.9 1094.8 686.5 1098.2 688.2 1092.3 689.1 1089.7 686.8 1085.8 686.1 1088.8 688.4 1082 688.6 1074.9 690.4 1076.4 690.7 1070.1 690.1 1070.5 690.1 1066.7 688.8 1064.5 687.2 1063.9 688.6 1055.9 687 1052.5 688.4 1035.8 689.1 1019.7 686.4 1017.1 687.4 1011.5 690.2 1004.6 688.5 973.3 692 1114.7 693.1 1110.2 694.8 1111 691.8 1113.1 692.1 1109.9 692.6 1113.5 693.7 1108.8 691.5 1106.5 695.7 1104.8 695.9 1099.5 693.8 1101.1 693.8 1098.6 691.7 1094.3 695.8 1095.8 691.7 1091.4 696 1093.4 691 1089.4 691.8 1086.9 696 1084 694.3 1084 691.9 1077.7 691.6 1076.3 693.1 1070.9 693.9 1072.7 693.9 1068.1 694.2 1062.1 692.2 1054.4 695.5 1051.6 695.9 1048.8 692.3 1036.2 692.2 1027.1 692.3 1017.1 691.2 999.3 691.4 998.5 692.5 982 700 1115.3 700.9 1116.9 697 1114.5 697.5 1114.2 696.5 1112 699.7 1113.8 699.4 1113.6 696.1 1113.9 699.4 1112.8 699 1108 700.7 1105.5 700.2 1099.7 696.8 1101.8 699.9 1100.2 699.4 1096.8 697.4 1098.7 700.6 1096.9 699.9 1090.7 697.7 1093.3 698.6 1087.2 700.6 1083 698.6 1075.2 700.7 1070 700.3 1066.6 698.7 1060.5 698.3 1059.4 700.3 1056 700.3 1054.1 699.4 1045.9 696.8 1027.6 697.8 982.1 701.9 1117.3 703.1 1115.5 705.3 1116.2 703.9 1110.4 705.4 1110.6 704.9 1113.1 702.5 1111.3 704.8 1112 702.1 1108.9 705.7 1108.8 704 1101.3 704.5 1102.2 704.5 1099.5 701.8 1095.2 702.2 1096.1 705.7 1095.4 702 1093.9 701.5 1091.8 702.3 1086.8 703.6 1086.2 703.2 1082.9 701.7 1075.3 705.7 1075.9 704.5 1072.5 703.7 1065.9 701.1 1062.1 702.7 1050.2 704.8 1040 702.1 1030.1 705.6 1027.8 703.9 1005.9 705.2 984.6 706.6 1116.8 706.5 1114.8 709.6 1115.4 710.9 1112.8 709.1 1113.3 706.9 1110.3 707.1 1109.8 706.3 1111.4 709.6 1105.5 709.2 1109 706.3 1106.7 706.7 1103.6 706.1 1099.6 707.4 1100.8 708.7 1099 707.1 1098.5 707.9 1097.3 710.9 1093.9 709.4 1090.1 707 1089.2 708.7 1087.6 706.1 1085.3 710.1 1079.3 706.3 1080.1 708.9 1076.8 709.9 1077.4 710.1 1069.2 708.6 1065.8 706.9 1060.3 706.6 1059.2 707.9 1045.1 709.5 1036.2 707.1 1030.2 708.8 1024.8 708.3 1019.9 706.8 1012.6 706.1 1007.7 706.6 1001 710.9 997.5 710.8 990.6 710.6 961.4 714.4 1114.7 712.8 1114.4 715.2 1109.5 712.7 1109.9 712.9 1114.2 711.1 1109.3 712.7 1114.1 713.5 1107.4 716 1108.2 711.5 1104 711.4 1103.2 714.8 1097 711.2 1097.8 715.4 1090.1 711.8 1092.3 713.1 1088.9 713.7 1088.3 713.1 1082.9 712.6 1079.6 714.9 1076.8 711.5 1069.2 714.5 1071.2 712.5 1065.5 714.5 1068.5 711.5 1062.8 714.5 1060.7 713.8 1058.6 715.6 1048.6 713.9 1034.5 713.4 1028.8 715.8 1024 715.2 1013.2 717.5 1114.9 718.8 1116.5 716.3 1114.5 719.6 1110.2 719.6 1112.2 719.9 1113.3 720.9 1113.4 716.8 1111.2 720.6 1108.6 716.2 1104.5 718.7 1107.6 719 1104 719.6 1099.8 717 1102.7 720.5 1097.3 720.1 1098.9 718.3 1093.1 718.8 1090.6 719.8 1088.6 716 1087.9 719.1 1081.4 720.5 1075.4 720.9 1076.5 718.4 1073.4 717.1 1073.7 720 1066.3 718.3 1059.7 719 1051.9 718.1 1024.4 725.1 1117.3 724 1116.4 725.7 1117.4 724.9 1110.2 723.3 1114.1 723.2 1111.2 723.6 1113.6 723.7 1113.5 725.7 1108.8 721.9 1105.9 723.5 1099.9 722.6 1099.8 721.4 1101.5 723.1 1094.9 722 1098.1 723.2 1089.3 722.6 1093 722.7 1090.1 721.7 1085.1 725 1085 725.9 1083.7 725 1074.9 725.6 1073.8 724.3 1065.6 724.1 1060.1 723.2 1063.6 725.1 1058.3 721.5 1036.7 722.7 1006 723.5 987.4 726.7 1117.3 726.5 1116.1 726.6 1114.7 727.9 1115.5 728.1 1111.7 728 1113.6 730.4 1110.5 729.1 1113.4 726.3 1109.4 727.7 1109 729.4 1104.9 726.2 1107.4 728.3 1099.2 726.2 1102.8 728.8 1101.9 727.7 1094.4 728.8 1095.1 726.7 1095.9 730.4 1090.8 728.3 1092 727.8 1090.4 728.3 1088.5 729.9 1079.9 730 1076.6 728 1074.4 726.3 1069.7 726 1068.9 726.6 1064.1 728.6 1062.2 729.8 1057.3 726.3 1053.3 729.3 1044.7 729 1022.5 727.6 988.2 727.1 982.4 732.9 1114.7 733.1 1114.9 732.7 1114.2 731.2 1114.2 733.9 1111 732.2 1112.4 734.4 1113.4 732.7 1110.6 733.7 1107.7 734.2 1106.8 734.4 1102.5 735.7 1101.9 732.5 1098.2 733.7 1097 731.9 1094.8 732.9 1093.7 731.8 1093.3 732 1089.8 735.9 1085.4 735.5 1081.3 735.3 1084.2 732.5 1077.8 732.7 1074.2 733 1067.6 732.6 1068 731.7 1063.6 735.3 1056.9 732.2 1051.3 731.2 1041.6 734.6 1035.5 735.7 1031.9 734.5 1012.3 732 1002.6 738.6 1116 739.3 1115.8 738.3 1113 738.9 1111.7 736.9 1113.3 737.2 1114 736.2 1105.3 737.4 1106.7 737.6 1099.3 737.1 1103.5 736.2 1094.9 737.3 1096.5 737.6 1090.1 739.4 1090.4 738.6 1091.3 738.2 1085.4 737.6 1079.5 739.9 1077.2 737 1070.1 737.6 1067.8 736.2 1066.3 736.6 1060.1 737.5 1059 737.9 1050 736.2 1039.5 737.5 1013.2 736.2 1006.9 739.8 991.2 738.9 966.3 743 1110 745.9 1113.2 745.5 1113.4 741.4 1111.2 742.1 1111.7 745.1 1105.2 745.9 1105 742.7 1108.5 744.7 1100.1 745.7 1099.6 742.9 1099.7 745.5 1096.6 742.1 1094.2 742.2 1098.5 744.2 1091.2 746 1091.5 744.8 1086.2 743.4 1082.1 743 1079.6 741.5 1078 742.5 1070 745.4 1067.2 744.2 1056.4 747.8 1112.7 748 1113.4 749 1108.6 746.8 1105.3 749.6 1102.1 747.2 1102.8 748.9 1095.7 748.1 1092.1 748.3 1087.9 746.6 1079.9 748.1 1078.8 748.9 1075.7 750.8 1064.1 754.2 1113.9 754.4 1111.4 755.5 1109 751.2 1107.3 754.9 1102.4 755.2 1101.3 754.1 1094.3 753.3 1092.3 753.9 1087.9 753.3 1082.6 755.5 1077.1 755.8 1077.4 759.7 1112.9 759.6 1113.2 760.8 1107.7 758.1 1105.6 758.3 1099.8 758.3 1100.2 757.5 1101 758.9 1097.4 756.8 1093 756.9 1085.9 756.6 1081.9 759.5 1074.3 760.3 1071.6 756.2 1060.9 764.2 1112.2 763.1 1109.7 765.4 1106.4 764 1108 761.5 1104.2 762.8 1103.5 762 1096.2 764 1093.3 763.1 1085.1 765.6 1083.9 764.4 1079.6 761.9 1075.7 769.2 1113.1 766.7 1110.2 768.6 1107.5 769.7 1106.2 767 1100.3 768.1 1102.9 767.8 1098.1 768.7 1091.3 770.9 1087.1 767 1086 770.1 1082.7 766.3 1076.5 767.3 1066.9 772.6 1111.7 772.9 1111.7 773.6 1105.7 771.8 1106.6 772.3 1104.1 771.1 1103 772.2 1094.9 774.5 1091.3 773.2 1092.2 774.1 1085.3 773.8 1082.2 775.8 1074.5 775.7 1063.8 780.6 1111 777 1109.5 776.4 1105.3 776.7 1108.7 780.2 1102.7 780.6 1102.7 778.6 1097.4 777.5 1093.3 780.3 1089.1 778.1 1082.8 779.8 1074.6 780.8 1070.6 783.8 1109.5 782.8 1113.7 783.8 1108.8 781.7 1107.3 785 1107.2 785.7 1100.4 785.5 1101.5 782 1104.1 784.5 1098.8 784.1 1092.6 781 1086.8 785.3 1086.4 782.4 1081 781.4 1075.5 781.4 1070.3 789.8 1112.5 790.1 1111.7 789 1108.6 788.3 1105.1 789.7 1103.5 790.4 1101.7 791 1095.3 786.4 1090.5 788.6 1086.1 786.1 1082.3 789.3 1081 790.2 1076.1 788.6 1072.6 786.8 1070.4 791 1067.4 790.1 1063.7 796 1117.6 793.1 1115.9 794.8 1110.2 792.1 1110.1 792.1 1106 794.4 1104.4 793.4 1101.9 794.2 1101.7 791.1 1101.9 791.2 1096.4 792.9 1092 791.5 1086.6 791.8 1079.4 792.5 1081.2 791.6 1074.9 793 1077.2 791.8 1069.7 791.5 1070.9 793.9 1069.2 792.4 1059.1 800.6 1115.4 798.7 1116.6 798.2 1118.8 800.2 1112.6 798.5 1112.7 796 1112.2 797.2 1108.7 800.1 1105.2 796 1099.3 799.5 1104.1 799.2 1102.4 796.8 1097.4 798 1093.6 796.1 1084.3 799.7 1086.1 798.1 1079.9 796.5 1079.1 798.6 1076.8 800.8 1072.1 797.6 1073.2 801.4 1121 803 1114.3 804.4 1118.5 802.6 1110.2 801 1112.8 805.3 1104.8 803.6 1107.2 803.5 1109 803.2 1100 805.9 1099.7 804.4 1096.7 804.5 1097.9 803.5 1090.8 804.6 1084.3 805.3 1083.1 802.1 1074.3 804.5 1072.8 801.8 1057.3 808.2 1120.3 810.5 1121.3 807 1116.9 809.8 1115.2 809.7 1109.8 806.3 1110 810.2 1105 806.7 1104.9 809.8 1101.5 808.7 1101.3 806.7 1098.6 806.3 1091.6 808.3 1084.9 810.7 1080.4 806.5 1078.3 806.6 1071.8 807.2 1059.6 813.8 1119.9 813.9 1121.7 815.6 1120 813.1 1118.3 813 1116 811.2 1112.7 815.7 1113.7 815.3 1106.2 812.5 1107.8 815.6 1101.2 812.5 1099.8 815.7 1098.2 814.1 1093.3 813.5 1090.3 815.2 1087.4 813.6 1080.5 811.3 1079.3 812.8 1076.1 815.8 1074 813.3 1072.4 816.2 1121 817.6 1120.5 817.5 1114.3 820.3 1115.9 819 1113.4 819 1111.7 820.9 1109 820.2 1107.3 816.3 1104.2 818.9 1102.3 817 1095.9 819 1091.8 816.3 1087.4 820.5 1087.6 818.7 1081.2 817.8 1081.4 816.8 1074.6 817.4 1071.4 820.7 1061.8 823.3 1124.1 825.2 1121 821.2 1118.7 823.8 1119.2 825.3 1109.3 825.2 1113.9 825.8 1110.1 822.2 1106.3 821.2 1108.7 822.4 1107.9 824.9 1102.6 824.3 1101.5 823.5 1096.1 822.2 1093.8 821.9 1089.2 825.8 1084.7 825.3 1083 822.6 1081.6 821.8 1074.8 823.9 1070.3 823 1058.7 827.8 1121.9 827.8 1122 830.8 1118.5 826 1116.1 827.7 1116.8 828.5 1111.6 829.9 1110.3 827.4 1109.7 828.4 1108.4 827.1 1108.9 827.9 1105.1 828 1100 830.3 1104 827.7 1095.2 829.7 1092 828.1 1090.6 829.8 1089 829.4 1082.2 829.9 1078.6 827.9 1072.1 828.8 1065.8 832.7 1119.3 834.3 1123.8 831.2 1115 832.4 1115.9 832.7 1110.7 832.6 1112.3 831.5 1106 832.9 1104.6 831.4 1102 833.2 1101.2 832.1 1098.3 832.8 1093.1 832.6 1093.3 832.9 1086.6 835.9 1082.7 834.4 1077.3 831.1 1071.6 834.6 1069.9 838.8 1119.4 840.6 1120.6 840.5 1124.2 836.5 1118.4 837.4 1119 838.6 1111 839.1 1112.9 838.9 1106.9 839.2 1104.4 836.8 1100.7 838.7 1100.6 840.2 1102 837.6 1097.3 839.5 1091.9 838.4 1085.7 840.8 1084 836.3 1081.4 838.2 1076.5 837.7 1071.8 840.3 1056.1 842.3 1121.3 841.3 1119.5 845.3 1115.8 844.6 1118.3 845 1118 844.9 1113 844.8 1109.9 842.9 1104.9 841.9 1108.2 845 1102.9 842.5 1099.9 842.2 1096.4 842.8 1095.2 842.7 1093.2 841.6 1087.9 843.4 1082.7 845.5 1076 845 1074 843.5 1073.5 849.2 1123.7 849.2 1124.1 847.3 1115.9 846.8 1114.4 849.2 1111 850.8 1113.2 847.5 1107.4 846.7 1106.2 846.7 1103.2 847.1 1103.1 847.1 1097.6 847.5 1090.7 849 1085.5 848.2 1085.6 849.3 1082.5 847.6 1078.8 849.9 1072.5 847.8 1072.5 849.8 1064.9 851.7 1123.7 853.6 1122.1 851.2 1116.6 852.8 1117.5 852.8 1113.6 855.2 1109.8 854.8 1107.4 855.8 1107.2 852.6 1106.3 851.2 1102.4 856 1100.2 852.6 1097 851.8 1090.8 852.5 1085.7 855.3 1082.5 854.5 1076.1 852.2 1073.8 852.9 1063.6 857.9 1123 860.2 1123.6 859.8 1117.2 857.7 1116.9 858.7 1111.8 857.3 1113.4 858.6 1105.6 857 1106.3 859.4 1101.3 858.9 1099.6 858 1095.7 857.9 1093.6 860.5 1088.8 859 1080.9 856.8 1076.6 857.9 1064.3 860.4 1062.6 360.6 1058.1 389.6 1060.1 365.7 1053.9 365.3 1056.9 365.7 1052.6 366.8 1057 357.3 1055.9 353.5 1057.3 372.7 1054.7 350.8 1058 355.3 1057.2 358 1061.3 366.2 1055.2 371 1059.3 357.3 1053.2 366.2 1057.3 373.3 1055.1 358.9 1063.4 359 1053.4 357.8 1061.5 381.9 1056.3 356.5 1056.9 359.4 1059.8 376.1 1057.4 292.7 1054.3 308.1 1050.3 307.1 1055.1 309.4 1053.1 296.1 1057.6 293.4 1055 298.7 1053.7 298.9 1053.3 295.6 1051.2 297.6 1051.8 300.9 1053.6 297.8 1060.1 292.7 1056.6 284.4 1053.2 287.1 1052.6 293.8 1050.2 304.4 1052.7 299.6 1052.9 293.1 1054.2 289.2 1057.3 304.4 1050.6 286.2 1052.3 298.6 1055.6 289.7 1052.2 374.3 1069.7 380 1062.7 372.2 1066.6 362.8 1062.7 361.3 1059.6 377.4 1065.9 370.3 1061.4 362 1059 374.4 1057.8 359.7 1064.2 355.4 1063.6 379.8 1059.8 370.3 1061.1 379.8 1061.4 364.1 1064 368.5 1060.2 359.6 1066.2 356.2 1061 352.3 1058.4 367.4 1062.1 371.3 1063.4 376.1 1067.3 360.9 1066.4 373.6 1063.4 306.8 1041.9 310.8 1036.9 303.9 1037.6 299.4 1040 299 1037.7 309.6 1043 310.5 1036.7 303.7 1036.5 316.2 1040.9 293.9 1040.3 307.5 1035.5 305.4 1039 299.3 1040.8 295.6 1040.1 295.9 1039.8 302.8 1033.5 300.5 1041.7 298.8 1043.1 302.3 1044.8 302.2 1037.8 314.1 1041.9 295.8 1038.4 314.6 1040.8 292.9 1038.2 317.8 1052.9 298.4 1054.5 308.8 1050.3 315.3 1052.3 304.8 1052.6 320.1 1054.1 315.2 1048.9 307.7 1051.2 306.5 1050.7 295.1 1054.7 333 1045.6 313.6 1050.9 304.9 1051.2 316 1050.6 300.8 1051.8 322.9 1050.6 323.5 1052.7 318.1 1055.6 307.3 1049.6 308.1 1051.7 305.5 1049.2 305.4 1051.2 298.4 1050.9 303.8 1049.8 232.7 1051.4 229.2 1050.8 224.8 1046.7 249.6 1046.5 229.5 1041.4 226.3 1047.9 227.9 1052.4 230.7 1045.4 227.5 1046.6 223.9 1050.9 209.9 1048.3 233.8 1048.9 230.5 1049.2 249.7 1049.6 229.2 1045.4 233.5 1050.9 245.9 1044.6 247.2 1047 234.4 1048.8 245.8 1050.8 232.9 1049 219.1 1044.7 236 1048.2 230.5 1046.4 239.8 1069.3 236.3 1064.5 231.2 1069.7 227.3 1072.7 232 1070.4 236.4 1073.7 232.8 1065.5 219 1070.1 240.2 1065.7 228.7 1069.1 222.9 1067.6 239 1066.1 236.1 1066.5 227.9 1072.6 232.5 1064.8 224.7 1067.2 231.3 1068.3 224 1067.3 221.3 1070 233 1071.4 218.6 1071 234.1 1067.1 232.6 1068.3 238.1 1067.8 274.8 1067.1 268.1 1062.6 275.1 1058.9 290.2 1062.9 272 1061.1 290.4 1064.4 267.6 1063.1 268.2 1058.7 260.7 1061.8 273.5 1062 274.9 1063 285.8 1065.7 266.5 1064.1 285.1 1068.5 287.8 1062.5 278.5 1065.9 283.9 1067.3 277.1 1061.5 295.7 1062.7 266 1060.9 277.1 1064 281 1066.1 280.6 1065.3 255.7 1062.5 265.3 1053.5 275.9 1051.9 260.6 1049.1 267 1050.6 272.7 1048.2 261.8 1048.1 260.4 1050.4 266.4 1052.5 267.4 1050.5 270.4 1048 270.6 1045.5 276.3 1047.3 258.2 1051.5 267.6 1046.6 282.3 1043.8 259.9 1052.6 258.6 1046.8 256.4 1047.5 256.1 1052.7 255.9 1050.3 271.9 1049.4 264.7 1049 260.7 1050.6 251.6 1044.8 275.9 1067.6 268.3 1069.7 280 1069.4 283.4 1065.6 294.5 1068.6 274.9 1067.9 280.5 1068.4 280.8 1067 280.2 1068.8 266.5 1068.7 284.7 1070.9 282.6 1062.8 261.5 1068.5 277.5 1067.8 275.7 1066.3 270.9 1065.9 259.2 1063.4 267.3 1073.2 260.4 1070.2 285.4 1067.7 276.9 1073.3 279.7 1067.5 283.9 1067.3 283.1 1067.6 198.7 1040.1 220.9 1041.9 203 1038.5 192.2 1041.1 196.9 1046.4 192 1042 186.3 1041 207.9 1039 196.3 1042.3 195.1 1040.5 192.6 1040.2 186.8 1042.5 198.8 1040 197.4 1044.5 205.7 1036 194 1041.4 203.3 1042.9 201.8 1039 203.9 1038.8 200.3 1041.8 216.3 1041.2 218.2 1041.1 205.7 1036.4 200.1 1040.6 372 1045.3 386.9 1046.4 369.8 1049.6 392 1047.7 381 1049.3 371.3 1046.1 393.3 1044.5 383.7 1050 377.7 1045.8 395.9 1039.3 384.1 1043.8 375.3 1045.3 391.7 1047.7 376.3 1043.9 383.9 1046.6 386.4 1046.9 368.5 1044.5 394.9 1043.7 388.9 1049.8 386.1 1046.5 370.9 1051.9 397.8 1047.6 374.3 1046.2 391.7 1047.9 274.7 1053.5 287.8 1056 280.7 1052.3 285.5 1053.3 287.8 1052.7 287.8 1054.8 286.3 1055.1 287.4 1057.6 264.4 1060.1 280.7 1055.2 285.8 1051.7 281.7 1055.4 290.5 1057.1 278.2 1056.3 279.2 1052.8 288.1 1054 269.1 1051.2 270.7 1054.9 282.3 1050.7 284.1 1053.7 275.4 1058.6 281.1 1056.1 287.2 1056.3 291.2 1051.8 396.1 1053.2 388.1 1049.9 392.3 1056.7 379.3 1060.1 388.3 1055.4 406.2 1056.4 398.2 1054.7 387 1054.7 394.2 1057.3 392.5 1055.9 384.2 1054.6 395.5 1048.1 377.5 1053.3 397.7 1052.9 385.2 1052.7 397.3 1057.3 388 1055.3 386.1 1056.2 395.1 1055.5 396.1 1059.3 393 1058.4 409 1053.1 405.9 1052.3 390.1 1050.4 242.7 1062.4 233.7 1059.3 250.1 1063.1 252.5 1061.2 247.3 1063.6 260 1064.7 251.8 1065.9 255.4 1066.5 243.7 1065 237.1 1061.2 245.7 1061.9 242.4 1063.3 250.9 1063.5 254.9 1061.7 253.9 1065 254.5 1063.2 262.1 1059.5 254.4 1060.9 250.3 1060.4 262.5 1058.7 243.1 1060.1 240.9 1057.2 242.6 1065.9 253.9 1067.6 305.3 1045.5 329 1045.7 316.7 1042.8 299.1 1049.5 296.1 1045.9 302.4 1047.4 317.6 1043.8 325.1 1047.5 315.1 1050.9 301.9 1049.2 306.7 1047.1 310.1 1049.3 293.2 1043.8 312.5 1044.6 310.4 1045.9 305.9 1049.3 303 1043.8 307 1044.5 303 1045.2 301.1 1052.3 307.4 1047.3 313.8 1048.6 308.1 1047.1 315.2 1048.5 230 1065.3 236.3 1065.2 240.4 1069.6 234.5 1067.9 236.7 1069.8 249.9 1071 236.6 1065.3 240.7 1069.5 226.9 1068.4 238.5 1068.2 227.1 1064.1 232.9 1068.8 226.6 1073.8 240.2 1066.9 234.9 1069.9 229.4 1062.8 234.4 1067.3 243 1065.7 252.2 1072.1 246.7 1069.3 222.6 1067.9 244.8 1062.9 234.7 1065.1 230.4 1065.5 299.7 1050.6 291.1 1053.3 293.6 1054.4 290.1 1053 270.9 1056 285.6 1054.5 286.5 1054.3 278.8 1056.6 279.1 1053 292.5 1056.2 283.9 1055 290.1 1052.6 296.4 1056.6 284.5 1051 283.7 1052.7 290.6 1051.6 308 1051.9 290.2 1054 290.5 1053.2 274 1053.3 284.1 1054.5 276 1054 298.6 1055.6 293.3 1052.1 204.7 1058.1 202.6 1059.4 193.4 1060.9 204.4 1057.9 194.7 1063 197.3 1061.1 186.2 1061.4 213.5 1066.2 193.1 1059.3 195.4 1061.6 212.5 1060.6 206.8 1056.6 191.7 1061.1 203.5 1060.2 190.7 1062.2 185.1 1061.7 197.2 1056.2 196 1064.3 193.4 1065.2 201.9 1065 207.4 1059.9 187.9 1065.6 189 1062.6 196.6 1060 260.6 1045.3 259.2 1048.8 252 1047 245.1 1050.5 244.2 1045.7 254.9 1047.9 251.5 1051.5 256.5 1046.4 238.9 1052.8 259.6 1043.1 250.4 1044.5 255.7 1045.7 243.9 1050.8 252.3 1048.8 254.1 1045.7 234.9 1046.3 253.4 1045.3 241.6 1049.1 251.4 1052.8 239.5 1042.7 251.1 1049.8 257.2 1047.8 255.1 1044.2 248.8 1050.7 370.7 1058.5 381.4 1060.8 380.6 1053.5 394.4 1049.1 382.6 1049.5 373 1054.8 385.9 1051.6 372.9 1052.2 375.4 1053.2 388 1047.2 373.7 1051.9 381 1050.8 398.6 1055.8 388.4 1054.3 374.5 1052.1 377.6 1053.2 363.6 1054.7 392.1 1059 391.7 1055.7 379.5 1051.6 381 1051 384.3 1053.6 385.7 1052.7 385.6 1053.6 204.3 1057.1 213.8 1058 189.3 1059 218.8 1056.8 194.3 1061.8 200 1056.6 212.3 1059.6 198.9 1064.4 207.3 1061.7 200.6 1055.3 203.2 1055.6 205.4 1056.1 203.7 1058.4 199 1053.7 215.9 1056.5 209.9 1052.9 217.5 1058.2 204.3 1059.1 207 1062.8 205.8 1057.9 196.4 1058.4 205.8 1060.1 206.6 1057.2 211.5 1059.7 282.6 1044.6 299.2 1046.1 285.4 1047.3 297.6 1044.4 288.1 1042.6 294.5 1046.4 304.7 1047.1 291.5 1044.4 297.4 1049.3 291 1045.1 299.6 1043.5 314.5 1051 277.9 1042.2 283.6 1039.9 297.3 1048.3 302.9 1043.2 287.7 1045.9 291.2 1043.1 294.9 1048.1 282.5 1042.9 307 1044.9 296.2 1054.2 288.9 1045.7 306.4 1046.6 375.5 1057.3 388.2 1053.8 375.3 1052.5 386.6 1054.7 378.8 1049.4 385.1 1056.9 393.6 1054.2 385.2 1055.9 401.2 1053.9 399.8 1056.8 398.8 1055.4 395.2 1052.2 389.9 1054.5 386.8 1053 390.9 1057 372.1 1054.9 387.2 1052.9 394.6 1054 378.9 1052.7 386.2 1050.6 383.5 1051.6 389.5 1058.3 389.7 1057.9 387.9 1057.2 211.5 1045.2 204 1045.9 209.1 1038.6 209.4 1043.5 212.8 1045.9 204.7 1042.6 202.2 1042.1 208.3 1040.8 209.1 1039.6 205.9 1044.2 195.6 1040 201.7 1042.7 189.3 1042.3 211.4 1042.5 197.5 1038.8 206.1 1039.9 208.1 1038.7 190.8 1038.9 202.4 1044.4 195.5 1041.7 209.4 1045 214.8 1039.5 208.7 1040.8 205.7 1036.3 381.7 1043.7 376.6 1044 390.9 1049.9 390.3 1051 375.8 1048.4 396.6 1048.1 399.6 1051.6 385.1 1048.7 388.3 1048.4 390.6 1051.9 384 1046 381.9 1050.5 397.3 1045 385.6 1051.1 384.5 1044.8 381.2 1051.8 378.9 1044.1 385.2 1047.7 386.2 1050.4 384.3 1048.9 372.1 1054 375.7 1047.8 394 1052.7 390.5 1054.3 306.2 1056.9 326.6 1053.1 324 1046.7 311.4 1052.6 337.2 1049.3 319.1 1050.8 329.4 1050.3 318.7 1048.9 300.6 1053.7 313.2 1050.4 308.9 1048 319.6 1054.6 309.8 1050.2 330.9 1048.8 321.5 1051.4 321.7 1049.6 322.9 1053 313.8 1048.1 311.8 1051.5 314.7 1054 319.6 1051.8 318.5 1051.9 319.8 1053.6 317.3 1048.3 215 1049.3 197 1044.3 205.4 1047.1 214.6 1043.4 205.7 1046.8 199.8 1049.2 213.7 1048.6 208.9 1043.9 195.4 1050.7 205.3 1047.1 195.7 1048.5 191.1 1048.2 206.2 1046.1 190.9 1048.8 217.3 1050.6 197.8 1048.2 200.7 1045.1 203.6 1045.1 201.3 1047 220.5 1050.9 203.7 1046.4 206.7 1047.4 202.7 1042.5 210.5 1043.7 238.2 1064 217.8 1055 235 1063.2 220.8 1062.3 226.2 1062.9 218.6 1055.6 235.5 1065.1 220 1061.9 208.8 1063.9 226.3 1059.2 215.9 1062.6 224.6 1063.5 221.6 1063.6 225.6 1059.7 210.7 1059.7 224.5 1057.3 228.9 1057.5 226 1058.6 229.8 1062.8 211.7 1061.9 225.2 1065.5 231.7 1059.9 224.2 1058 232.8 1058.8 377.5 1042 383.2 1044.4 386.9 1042.5 389.9 1047.8 387.5 1042.8 375.6 1040.5 384.4 1045 373.3 1050.9 383.3 1046.4 383.3 1043 388.2 1042.6 390.7 1044.1 390.4 1043.3 378.5 1039.4 388.8 1048.8 380.2 1045.3 392.4 1046.6 372.4 1045.8 378.9 1045.4 390.5 1046.8 387 1050.2 383.3 1043.6 390.7 1047.1 391.1 1042.6 330.6 1052.9 337.4 1051.9 332.5 1051.2 334.7 1052.4 340.3 1051.7 341.4 1054.6 335 1055 344.2 1052.9 330.9 1050 335.5 1052.8 328.6 1051.5 349.3 1050.8 334 1053.8 330.1 1049.1 337.1 1045.9 348.6 1054 335.7 1054.9 328.7 1053.7 331.6 1048.4 322.6 1059.4 330.6 1055.7 327.4 1053.1 346.2 1054.8 342.9 1052.5 312.9 1068.8 281.8 1063.2 306.8 1058 288.3 1065.1 302.5 1069.7 301.9 1064.9 293.5 1062 277 1063.7 288.2 1059.5 286.4 1063.5 301.8 1065.8 291.1 1067 295.2 1068.2 281.5 1064.5 285 1061.3 291.3 1065.4 298.6 1068.1 291.9 1062.2 300.3 1067.2 281.6 1065.4 295.9 1065.7 285.3 1067.2 298.8 1063.5 292.1 1068.2 354.8 1051.5 366.7 1048.9 356.5 1053.8 352.2 1049.2 341.5 1051.5 349.6 1055.3 363.1 1053.9 353.3 1056.1 358.8 1052.8 349.7 1053.4 343.3 1050.5 340.8 1051.7 348.6 1052.1 338.5 1048 356.9 1049.2 359 1049.9 353.7 1052.7 346.6 1048.5 342.5 1045.7 356.8 1050 350.6 1052.1 355.5 1050 357.3 1051.8 342.9 1052.8 296.6 1056.4 296.8 1057.3 281.7 1058.2 284.7 1063.5 307.3 1061.8 303.2 1060.5 297.8 1064.3 291.4 1057 296.9 1057.9 294.9 1062 281.4 1061.4 293 1061 280.3 1061.7 294.7 1063 293.5 1054.8 297.3 1057.5 284.3 1060.5 279.8 1062.9 281.2 1062 293 1062.4 295.9 1062.2 277.1 1062.7 300.9 1062 292.1 1057.2 371.2 1052.4 369.5 1040.4 365 1043.2 364.8 1046.9 368.1 1043.1 364.2 1048.1 369.4 1046 377.9 1043.4 375.3 1043.9 369.6 1043.5 356.5 1043.9 367.4 1043.4 361.8 1042.8 374.3 1046.7 366.5 1041.8 366.6 1038.2 381.3 1046.2 367.6 1050.3 370.6 1047.6 366.8 1045.1 384.2 1043.4 355.3 1040.8 191.4 1044 196.6 1043.2 196.3 1040.1 189.3 1040.2 185.7 1035.3 193.3 1032.8 180.9 1041.6 194.4 1047.2 197.8 1039.6 192.8 1043.2 196.3 1043.8 188.2 1041 183.9 1039.2 184.5 1041.2 198.3 1043.9 181.1 1048.8 194.3 1035.9 194.5 1038 197 1043.2 196.1 1042.3 193.5 1040.7 335.3 1096.9 324.4 1094 340.1 1096 324.2 1094.5 324.2 1095.2 332.7 1096.3 322.6 1095.8 325.8 1099.6 322.4 1096.2 323.3 1093.8 323.1 1092.6 322.8 1093.7 321.9 1098 332.7 1094.1 322.8 1096.1 326.7 1089.9 314.4 1093.9 322.9 1096.7 334.3 1096.4 330.2 1092.5 339.5 1101.2 338.1 1092.8 198.4 1055 200.7 1051.7 187.6 1042.1 199.6 1047.1 192.6 1053.5 192.7 1052.9 190.7 1047.2 189.7 1054.5 199.7 1058.6 198.5 1051.7 194.2 1047.5 182.9 1048 195.5 1052.2 191.4 1053.1 196.5 1046.1 190.6 1050.9 188.4 1047.5 199.2 1051 193.3 1052 201.6 1049.2 205.1 1053.7 510 1027 515.1 1028.4 512.2 1023.3 500.8 1028.9 500.3 1028.3 504.2 1036.1 513.6 1028.6 507.5 1031.3 521.1 1025.7 517.4 1032.1 504.8 1022.3 511 1026.4 513.9 1032.5 506 1026.9 517 1027.2 521.9 1029.9 505.6 1027.3 500 1031.2 509.1 1031.1 522.4 1031.1 510.6 1027 501.2 1031.7 650.4 1067.3 634.4 1064.5 639.3 1065.1 645.9 1067.5 651.1 1067.3 644.4 1063.1 632.2 1065.4 633.9 1063.6 644.7 1068.6 623.7 1068.4 638.7 1068.3 646.1 1066.7 644.2 1065.2 645.2 1064.8 638.3 1059.8 629.5 1059.7 621.3 1061.5 639.2 1061.4 625.7 1065.9 638.3 1058.4 644.8 1061.2 640.7 1063.7 465.3 1036.2 473.3 1033.1 465.3 1035.2 461.3 1039.5 462.7 1038.7 467.9 1037.7 470.6 1036.8 472.5 1032.7 473.7 1043.5 476 1038.9 460.4 1035 466.5 1039.7 461.1 1042 471.9 1038 473.8 1036.8 470 1040.6 459.4 1039.3 458.3 1036.8 471.9 1043.1 464.2 1035.5 477.1 1039.5 473.7 1038.8 154.8 1089.2 147.9 1084.6 154.8 1089.8 144.7 1086.6 150 1089.9 143.1 1082.6 159.7 1085.4 151.6 1086 150.3 1082.7 162.9 1087.4 151.4 1082.1 151.2 1088.4 145.2 1089.7 148.5 1086.2 158.7 1087.2 151 1080.8 146 1087.6 150.5 1087.5 164.4 1085.3 155.9 1085.1 165.3 1086 152.8 1081.6 526.7 1034.9 520.3 1032.1 535.6 1033.9 533.4 1032.1 523.5 1033.3 530.2 1029.2 532.2 1030.4 531.5 1037.4 533.1 1031.8 542.7 1037.1 540.7 1034.8 529.5 1031.3 539.5 1028.4 530.1 1037.6 538 1028.7 525.2 1035.1 536.7 1029.4 530.9 1032.4 536.3 1032.7 520.7 1032 533.3 1031.2 530.5 1032.8 158.5 1087.1 186.3 1091.2 181.9 1091.4 182.1 1091.3 174 1084.7 177.6 1088.1 180.3 1088.2 182.6 1081.7 170.4 1089.9 182.8 1091 180.8 1088.7 177.5 1093.1 178 1089.7 173.4 1090.9 185.9 1091.9 173.2 1091.7 173.5 1088.7 173.3 1089.1 177.4 1085.3 181.2 1088.7 173.8 1093.4 176.4 1087.2 653.4 1034 669.7 1033.4 664.4 1031.1 669.5 1035.7 665.9 1036.3 669.4 1032 648.2 1034.8 660.7 1031.2 663.8 1033.3 652.6 1031.9 661.4 1037.6 665.5 1036 660.4 1033.6 653.9 1031.3 670.5 1033 658.4 1027.9 659.1 1035 655.6 1037.5 666.5 1028 662.9 1038.4 661.4 1036.3 659.3 1030.3 399.2 1042.9 405.2 1040.5 422.6 1046 414.1 1044.6 411.8 1040.6 405.1 1040.9 419.8 1038.2 408.9 1041.1 416.5 1042.4 412 1047.1 407 1041.6 409 1033.8 406.6 1043.3 415.3 1042.4 404.7 1039.9 419.8 1043.9 401.6 1040 397.8 1043.5 405.7 1043.6 405.1 1039.4 401.6 1037.4 397.8 1037.1 111.8 1054.5 99.6 1053.5 102.4 1058 110.8 1054 117.2 1046.2 113.1 1061.9 116.9 1055 112 1059.2 114.9 1053.3 107.5 1053.6 112.7 1049.9 114.3 1053.8 103.7 1061.3 115.7 1055.3 105 1051.4 108.8 1050.5 111.4 1053.9 113 1051.5 110.1 1055.7 112.5 1058.9 113.7 1049.1 118.7 1058 726.5 1037.4 731.2 1037.3 735.8 1037.3 734.1 1038.5 735.6 1042.2 741.5 1038.7 724.6 1035.8 732.8 1031.6 732.1 1041.3 726.4 1035.5 732.9 1039.4 728.3 1036.3 732.8 1036.7 740 1034.9 739.9 1041.2 733.1 1038.5 718.3 1041.7 728.7 1041.5 732.5 1033.4 728.9 1033.5 725.8 1032.4 443.1 1072.2 456.4 1070 430.9 1072 441.7 1076.6 454.1 1075 449.5 1073.7 447.4 1071.8 448.1 1074.4 454 1073.2 450.3 1069.2 447.6 1073.4 447.1 1068.1 462.2 1068.6 451.8 1068.1 435.6 1069.2 438.8 1067.1 460.3 1071.8 435.6 1069.2 443.1 1071.7 443.4 1075.6 444.7 1065.7 443.2 1076.7 136.9 1031 128.7 1033.5 131.9 1026.6 113.5 1038.5 135 1035.5 328.9 1029.2 332.7 1029.9 327.1 1033.8 344.5 1024.5 337.3 1031.4 341.1 1027.7 338 1028 334.7 1025 332.3 1027.3 333.9 1030.9 332.2 1025.5 332.2 1024.6 341 1036 330.3 1027 333.6 1026.3 332.1 1023.9 329.1 1029.4 337.5 1027.9 326 1029 337.7 1027.8 346.2 1027.2 340.8 1028.9 324.9 1094.6 333.3 1096.4 315.1 1096.8 336.5 1097 339.8 1099.8 317 1100.3 338 1095.4 334.3 1094 317.2 1095.3 340.3 1099.1 332.5 1094.2 325.2 1099.3 324.8 1099.6 331 1097 329 1097.5 339.1 1099.9 335.1 1098.8 335.2 1093.4 331.5 1100.8 328 1102.2 337.6 1097.1 335.7 1099.1 303.6 1056.6 301.8 1054.7 317.7 1054.8 309.6 1056.6 309.9 1053.2 317.3 1053.7 310.4 1063.6 326.1 1054.7 311.6 1056.2 304.4 1056.3 328.1 1055.5 320.1 1055.9 302.7 1059 311.2 1054.1 313.9 1055.8 313.9 1060.5 315.8 1057.9 318.2 1059.4 317.9 1053.2 300.4 1052.5 317.2 1055.9 316.3 1056.2 415.8 1083.4 414 1083.9 413.4 1083.7 423.2 1084.5 412 1080.1 408.1 1080.3 417.9 1083.5 419.2 1084.2 412.5 1084.6 415.6 1086.9 425.6 1086.7 426.8 1082.5 433.6 1081.4 416.8 1086.7 411.9 1081.2 417.8 1078 427.7 1082.9 413.4 1085.4 414.3 1082 418.5 1084.3 424.9 1085.6 413.7 1084 265.1 1069.4 269.2 1073 271.8 1070.9 263.9 1069.9 271.8 1074.6 263.9 1071.8 259.3 1069.8 271 1070 268.9 1066.6 264.2 1069.6 266.6 1072.6 261.7 1069.4 266.5 1068.4 252.8 1068.4 265.7 1070.8 260.8 1067.6 255.5 1072.4 255.7 1070.7 264.2 1069.5 257.8 1069.8 267.7 1069.9 270.7 1070.4 447.5 1041.6 453.3 1042.7 439.7 1041.5 461.6 1052.2 449.6 1050 450.6 1049.5 457.1 1043.6 450.1 1048.6 453.1 1046.9 461.2 1052.9 453.7 1047.1 438.2 1042.4 456.4 1048.3 452.8 1042.3 450.2 1045.4 454.2 1041.8 451 1040.9 449.4 1041.6 450.9 1047.3 438.7 1051.2 445.5 1051.6 444 1046.1 160 1035.1 162.1 1038.9 160.7 1036.2 160.1 1033 151.9 1034.8 156.3 1036.9 159.4 1036.2 161.4 1034.2 154.7 1035.1 138.8 1036 158.4 1039.5 160.6 1037.8 158.7 1035.9 278.6 1063 282.2 1064.6 279.4 1059.4 274.6 1057.6 278.2 1056.5 263.7 1064.2 276.4 1051 261.8 1058.9 289.1 1053 262.2 1063.6 278.7 1060 263 1058 269.4 1058.2 278.4 1063.5 271.8 1057.5 278.4 1055.3 263.6 1053 275.2 1059 279 1055.6 269.1 1055.2 278.7 1051.9 276.4 1058.7 571.4 1028.5 558 1028.7 555.8 1029.4 561.4 1031.9 561.7 1034.3 562.3 1031.8 551 1034.4 566 1032.1 562.6 1032.6 567.2 1029.2 573.5 1031.5 568 1034.6 560.6 1031.3 557.7 1033.9 569.4 1028.4 562.2 1033.8 581.9 1028.5 574.9 1028 560.3 1030.1 564.7 1031.8 564.4 1034.4 549.1 1026.4 605.6 1034.2 613.4 1033.9 613.9 1038.9 612 1035.5 614.3 1035.7 614 1034.6 613.1 1033.1 610.3 1032.7 608.6 1036.7 611 1032.2 601.5 1030.6 602.4 1034 614.1 1039.6 606.1 1036.9 607.3 1036.5 608.6 1033.5 610.4 1039.1 604.5 1032.6 604 1035 621.7 1038.5 615.6 1037.4 597 1031 306.5 1025.3 312.2 1028.7 300.4 1032 305.7 1028.4 321.4 1027.6 309.9 1033.1 316.4 1032 317 1028.3 309.8 1036.6 292 1035.1 321.1 1025.8 302.1 1028.8 299 1031.8 303.5 1028.2 313.4 1027.4 296.3 1030.3 305.3 1029.7 310.6 1025.5 302.8 1030.5 317.6 1024.9 294 1029.7 669.3 1092.5 677.4 1087.2 676.2 1092.5 671.6 1091.4 672.7 1091 682.7 1094.6 676.4 1089.5 682.7 1087.5 678.4 1089.7 667.6 1090.4 680.9 1088.8 665.2 1093.5 671 1093.6 678.3 1089.3 678.9 1088.7 667.2 1090.3 668.9 1090.1 668.8 1089 668.7 1086.4 671.2 1088 677.6 1086.3 672.7 1087.6 330.6 1085.4 324.2 1085.8 318.2 1079.1 323.3 1086.3 333.5 1088.8 322.2 1085.1 323.9 1079.5 328 1084.2 322.4 1081 331.2 1087.1 330 1080.6 318.6 1083.7 328.2 1082.6 324 1084.1 330.3 1083.7 329.1 1081 331.4 1087 318.6 1079.1 331 1078.7 329 1085.1 330.1 1085 325.9 1086.9 675.8 1096.2 695 1097.1 682.9 1100.2 693.5 1094.3 689.2 1096.2 679.7 1096.8 694.1 1102.1 678.8 1091.1 682.7 1100.5 695.3 1097.9 686.2 1097.2 677.9 1094.6 674.6 1101.3 682.2 1096.4 690.1 1099.6 692.4 1096.1 693.5 1099.4 684.4 1100.1 677.9 1096.4 691.3 1093.5 681.3 1096.8 684 1098.1 128 1073.5 129.7 1080.8 147 1079.5 138.2 1078.4 136.7 1077.1 128.4 1080.9 134.5 1076.8 150.2 1076 133.4 1076.6 138.6 1074.5 130.5 1077.2 131.3 1077.8 141.8 1078.3 141.6 1074.7 147.3 1076.9 133.7 1077 130.9 1075.4 132.8 1075.5 135.3 1079.9 141.8 1076.5 140.3 1080.3 132.5 1077.1 307.7 1038.3 299.5 1036.7 297.2 1033.1 293.9 1039 308 1043.6 283.7 1040.8 294 1040.9 295.7 1043.8 291.6 1039.8 299.4 1035.4 293.9 1036.9 286.2 1037.9 294.4 1039.9 299.7 1037.9 288 1038.4 296.2 1037.5 298 1041.3 282 1038.4 297.5 1041.9 293.7 1035.5 295.1 1038 290.9 1038.6 374.5 1050.5 375.7 1041.1 365.9 1041.3 382 1049.9 385.8 1034.1 370.3 1043.9 371.1 1040.2 365 1042.6 384.3 1044 361.4 1046.1 368.7 1045.3 360.6 1040.5 364.4 1045.4 374.7 1043.5 370.3 1041.1 368.3 1044.8 378.7 1043.7 373.6 1043 371.4 1041.5 372.4 1036.8 360.1 1042.9 379.7 1040.5 675.1 1052.1 662.3 1054.7 661.8 1057 662.5 1054.1 658 1053.9 663.1 1049.1 657.2 1052.3 669.4 1058.8 671.6 1056.1 671.6 1062.5 663.3 1055.3 662.7 1056.2 661.8 1056 663.9 1058.4 660.1 1055.3 668.5 1059.1 677.3 1057.5 676.1 1051.5 666.5 1057.5 677 1059.4 672.5 1059.3 679 1063.6 738.6 1029.8 737 1031.4 742.2 1030.4 737.9 1030.6 736.3 1027 739.5 1026.4 731.7 1032.8 738 1027.3 728.9 1026.1 736.1 1036.2 737.5 1024.9 741.5 1026.9 736.7 1032.3 727.1 1031.9 729.5 1026.6 725.2 1028.3 741.5 1034.4 675.4 1077.2 665.9 1078.5 673.8 1078 663.3 1076 659.7 1079.5 666.9 1076.6 675.3 1080.1 691.1 1073.7 666.2 1078.7 672.1 1080.8 670 1080.4 664.7 1081.3 673.8 1076.5 668.7 1079.9 678.1 1077.2 672.3 1074.7 668.8 1072.8 664.9 1078.6 669.4 1076.9 677.3 1082.5 675.4 1075.2 662.4 1076.7 343 1041.4 343 1039.5 342.4 1041.9 338.8 1040.8 332.7 1042 342.6 1036.9 337.4 1037.9 341.2 1040.2 337.2 1038.5 353.3 1039.6 338.4 1042.3 338.2 1039.1 350.2 1038.9 347.2 1046.5 349 1037.2 343.2 1042.4 345.7 1040.1 338.4 1039.3 344 1035.2 341.1 1039.2 349.9 1038.3 337.8 1041.9 241.9 1047.5 260.2 1057.6 255.6 1056 244.1 1053.2 257.3 1051.5 266.2 1058.2 255.1 1054.8 252.3 1055.1 249.6 1054.7 251.4 1057.4 268.8 1052.7 255.3 1052.8 236.8 1054.8 253.4 1052.6 249.9 1051.5 250.9 1058 258 1053.5 256.7 1058 259.3 1053.4 245.3 1055.9 239.9 1053 252.6 1051.4 490 1080.2 221.7 1057 220.1 1060.3 217.9 1059 222.4 1056.6 220.9 1057.4 215.7 1051 238.9 1057.1 215.6 1059.7 212.6 1057.2 203.9 1054.1 220.2 1053.5 213.5 1056.9 209.8 1061.7 219.9 1054.6 226.3 1058.5 216.6 1056.3 215.9 1058 227.2 1056.8 211.1 1060.6 222.5 1059.5 241.3 1061.3 221.3 1064.4 344.8 1105 339.5 1096.2 333.9 1096.7 341.4 1098 341.6 1098.5 351.2 1098.6 336.2 1100.3 357.6 1095.7 351.1 1095.3 347.2 1097.2 341.3 1099 359.3 1098.1 333.8 1098.3 346.3 1097.8 346.5 1095.2 342 1096.4 341.5 1092.7 350.2 1095 349.5 1097.7 350.4 1097 329.9 1107.8 335.3 1100.4 245 1103.6 249 1104.1 261.6 1099.6 267 1100.5 258 1098.7 244.5 1098.1 254.2 1099.7 251.8 1100.2 250.7 1103.4 264.2 1098.2 247.5 1100 252.6 1095.2 261.4 1104.2 258.9 1097.3 248 1099.8 244.5 1104 269.6 1098.9 253.7 1098.8 251.6 1098.9 248.6 1097.3 256.2 1104 253.1 1095.8 159.8 1033.1 189.1 1028.5 168.6 1066.3 166 1057 167.5 1064.4 166.9 1062.8 183.8 1059.2 182.9 1062.4 178.2 1063.1 167.9 1065.3 182.2 1057.7 165.9 1059 158.9 1062 178.4 1064.5 659.3 1060.8 653.1 1061.1 648.8 1054.2 661.1 1059.2 648.4 1060.2 659.9 1053.7 649.8 1054.5 654.7 1059 641.2 1057.6 642.7 1056.4 643.5 1056.1 655.6 1057 650.9 1061.3 643.3 1059.6 654.6 1063.2 652.9 1060.4 643.3 1060.3 660.6 1052.6 642.7 1055.9 660.5 1056.2 649.1 1062.4 650.6 1061.8 494 1040.3 488.1 1043.2 484.6 1044.6 492.6 1038.3 490.2 1042 490.1 1042.3 494.7 1040.3 495.1 1042.1 494.5 1045.1 483.3 1045.1 485.7 1041.6 498.9 1042.8 503.7 1043.1 494.5 1043.4 495.9 1041.7 487.2 1042.9 495.9 1040.4 490.7 1047.5 489.1 1045.8 493.1 1039.3 490.6 1039.9 498.2 1041.9 479 1054.2 461.8 1052.5 467.3 1047.6 453 1047.4 464.7 1051.5 464 1048.1 463.9 1051.4 471 1046.3 462 1047 458.9 1047 465.6 1051.2 448.9 1046.5 475.4 1053.2 464.2 1050.8 463.6 1050.7 457.7 1053 454.9 1048.2 465.4 1047.2 465.9 1048.7 471.6 1052.3 466.4 1053.7 442.3 1045.7 183.8 1066.4 177 1069.2 180.8 1066.4 168.6 1071 187.1 1073.2 181.4 1063.3 184.1 1061.5 189.1 1065.1 183 1065.3 185.1 1069.4 185.4 1064.6 179.6 1070.1 367.2 1073.7 365.4 1078.4 373.7 1073.4 371.9 1073.7 384.4 1073.1 355.7 1074.5 366.2 1069.7 368.7 1067 364.7 1073.8 368.3 1070.7 373.9 1070.4 365.9 1069.6 365.2 1077.5 359.1 1070.9 375.8 1067.9 369.5 1068.6 370.8 1071.7 360.3 1072 373.8 1075 367 1072.1 377.4 1069.2 372.6 1073.2 457.2 1037.4 472.9 1041 465.3 1041.9 470.4 1039.6 463.1 1042 463.5 1036.3 471.1 1043.6 472.6 1038.4 472.2 1039.7 472.8 1041.3 473.9 1036.7 479.9 1043 470.8 1045.1 466.6 1038.7 482.4 1041.2 478.5 1041.8 472.1 1043.6 468.2 1036.8 471 1044.4 469.7 1043.9 482.8 1038.4 465.9 1043.6 671.5 1051.8 657.2 1053.1 661.2 1060.6 655.1 1054.5 656.9 1051.7 651.4 1055.7 651.9 1056.1 653.7 1056.9 650.2 1054.8 654.5 1055.7 651.5 1061.3 648.8 1057.5 655.3 1061.4 637.3 1055.6 655 1056.7 656.1 1053.1 650.2 1058.9 647.2 1054.4 649.7 1062.6 664.8 1061.2 639.8 1051 634.8 1057.5 731.9 1044.7 734.1 1050 726.6 1045.9 729 1045.2 716.9 1049.1 726.3 1047 719.3 1048.6 727 1047.9 732.8 1043.7 727 1043.8 726.5 1047.2 715.1 1044.3 726.9 1051.2 725.8 1045.1 731.3 1046.5 730.5 1046.6 713.6 1047.1 715.2 1053.9 730.9 1048.9 708.6 1049.7 723.3 1044.8 730.5 1047.7 412.9 1067 415.9 1072.1 408.4 1068.1 400.9 1065.8 395.3 1066.6 427.1 1074.9 408.6 1072.3 413.7 1066.9 411 1066.3 415.7 1070.3 411.7 1067.9 411.3 1067.4 411.5 1067 397.6 1063 406 1067.8 420 1068.3 410.5 1071.2 419 1071.4 401.1 1067 402.2 1065.4 405.7 1072.3 418.4 1072.2 189.1 1052.6 195.2 1052.4 186.8 1052.1 195.2 1051 187.7 1055.1 190.9 1056.1 188.5 1051.8 200.2 1048.9 199.1 1050.8 197.9 1049.4 184.5 1053.7 191.7 1050.8 184.3 1052 201.9 1053.2 186.1 1053.2 198.7 1053.6 198.8 1056.5 193.5 1051.4 190.9 1054.6 194.7 1048.8 190.6 1047.6 193.6 1049 285.9 1042.6 278.7 1035.9 282.9 1040.2 276.2 1042.7 276.3 1040.8 285.7 1032.1 278.4 1042 258.5 1039.8 270.8 1040.4 278.5 1042.2 265.3 1040.9 277.4 1042.3 275.6 1042.3 276.3 1037.4 273.9 1045.5 276.2 1042 268 1036 273.5 1044.5 265 1043 272.2 1044.9 278.2 1040.7 278.3 1039.5 680 1098.9 678.4 1097.1 680.3 1095.1 673.4 1099 687.1 1099.3 685.2 1098.7 686.1 1100.1 686.9 1103.4 679.6 1098.7 678.6 1095.6 675 1097.5 665 1099 680.6 1098 676.5 1094.3 677 1098.9 678 1099.9 675 1102.3 687.6 1102 676.3 1099.5 682.3 1100.3 685.4 1101.1 677.4 1099.1 342.7 1071.3 353.4 1075.5 355.1 1072.7 347.2 1069.9 343.6 1071.4 340.8 1073 359.2 1070.6 352 1066.7 352.6 1074.2 342.2 1071.9 343.8 1072.8 348 1074.1 343.2 1067.3 355.3 1073 356.1 1065.7 347.8 1067.7 347.5 1073.3 347.3 1073.9 346.1 1066.6 355.4 1071.9 353.7 1068.4 349.7 1067.2 647.1 1034.3 651.4 1036.2 652.5 1029.7 659.5 1038.4 646.8 1036.8 647.3 1037.6 647.5 1035.3 653.3 1035.3 642.4 1035.5 651.9 1030.9 639.3 1028.1 651 1037.2 658.1 1032.1 639 1036.1 637 1033.8 653.6 1027.2 649.8 1035.2 658.4 1032.6 656.9 1036 650.1 1037 646.6 1033.7 655.2 1038.4 166.7 1091.9 150.7 1092.4 161.1 1088.3 132.4 1088.3 145 1092.4 155.5 1093 153.8 1086.9 148.1 1088.9 151.7 1093.6 139.8 1092.9 145.6 1090.3 147.5 1093.1 138.9 1091.8 149 1091.1 136.3 1088.8 138.8 1089.3 146.8 1093.6 146.8 1083.9 136.2 1090.6 131.2 1088.2 149.3 1093.9 145.7 1088 341.7 1088 355.7 1080.8 326.5 1083.6 345.2 1083.2 332.8 1088.7 332.7 1080.4 336.8 1086.1 342.2 1082.2 350 1089.6 333.3 1086.2 347.5 1080 342 1085.3 344.1 1087 347.1 1091.7 344.4 1083.5 343.6 1086.4 333 1088.5 332.8 1085.6 340.3 1084.9 329.3 1090.8 339.1 1081.4 333.8 1087.7 116.4 1059.2 135.9 1062.2 135.1 1063.3 125.3 1062.3 127.3 1062.5 131.1 1054 123.1 1055.4 135 1060.9 122.8 1061.1 125.5 1065.2 136.9 1062.3 114.9 1060.3 119.4 1058.3 132.8 1061.9 130.4 1058.6 120.2 1056 131.9 1058.5 116.4 1061.1 135.5 1063.3 126.5 1061.6 120.6 1062.8 117.2 1054.8 447.6 1055.6 455.4 1061.8 445.9 1065.1 452.8 1055.1 448.1 1058.7 459.6 1060.4 458.2 1058.3 456.9 1056.5 455 1059.6 456.8 1058.6 458.1 1060.9 453.5 1063.2 460.2 1062.7 451.4 1059.2 450.7 1061.4 453.2 1059.2 451.8 1060.4 466.3 1062.8 459.5 1058.8 470.4 1061 453.4 1063.6 456.2 1061.5 374.4 1076.9 377.6 1073.5 388.4 1066.8 394.5 1072.3 383.9 1073.5 370.5 1076.2 378.9 1075.1 385.8 1072.6 388.6 1075.3 385.8 1073.8 392.2 1070 385.6 1075.3 362.8 1076 384.2 1072.9 378.1 1075.6 384.5 1074 375.8 1073.3 382.8 1075.3 392.7 1068.2 380.4 1072.6 371.1 1071.5 376.5 1072.6 485.2 1056.3 472 1061.7 482 1062 469.3 1062.9 471.1 1055.1 483.8 1055.5 481.8 1059.6 494.3 1057.3 483 1063.2 479.4 1056.6 478.7 1060.1 475.4 1059.5 472.6 1055.6 475.4 1062.2 488 1063.3 471.7 1062.6 479.8 1061.5 482.3 1057.7 488.1 1055.5 483.3 1059.9 477 1063 458.8 1061 289 1085 281.1 1086.9 289.2 1079.3 288.9 1083.1 278.1 1078 280.6 1080.8 295.4 1084 283.8 1085.1 289.7 1080.5 287.8 1078.1 295.7 1079.6 283.2 1082.5 281.2 1085.4 275.7 1084 277.7 1084.7 279.6 1082.5 282.9 1077.2 282.5 1079.6 288 1085.1 291.4 1090.6 292.4 1084.5 284.5 1085.4 644.2 1089.2 645.1 1102.1 642.7 1098.3 638.8 1095.5 640.7 1106.5 641.6 1101.2 642.2 1096.6 639.6 1102 643.5 1105.8 633.8 1101.2 651.6 1100.6 655.4 1101.6 631.2 1095.5 647.4 1098.5 650.4 1099.6 640.6 1104.4 647.7 1100 637.7 1101.4 643.2 1103.8 651.4 1099.1 635.6 1096.9 647.7 1100.8 310.5 1088.5 308.5 1087 309.8 1086.7 308.8 1090.6 308.7 1091.6 303.5 1081 303.3 1088.7 300.5 1089.5 316.4 1085.2 297.6 1086.9 293.7 1082.5 303.4 1084 306.9 1085.7 316.2 1083 302.1 1083.1 306.5 1079.9 310 1082.3 310.6 1086.3 323.1 1085.4 294 1078.9 304.8 1083.6 306.2 1083.1 488.3 1066.4 492.4 1067.8 481.2 1057.7 473.7 1069.1 482 1064.2 474 1062.9 485.2 1058.4 479.9 1062.7 474.6 1061.1 481.8 1059.8 478.3 1058.1 489.1 1059.5 496.3 1061.4 490.9 1064.8 491.9 1060.8 479.5 1062.7 482.6 1060.1 479.6 1064.8 476.9 1063.3 479.6 1065.7 475.3 1062.2 477.5 1066.9 691.3 1082.8 684.3 1082.4 673.5 1083.4 691.4 1086.3 699.9 1083.9 676.9 1085.3 703.4 1083.9 673.7 1085.1 688.5 1086.1 699.4 1084.4 707.4 1084.7 707.8 1081.1 690.2 1087.2 697.2 1084.5 683.1 1085.4 696.6 1085.4 700.3 1088.8 697.7 1086 679.2 1085 689.4 1085.7 700.1 1082.3 694.2 1084.7 711.7 1083.7 712.3 1081.3 738.7 1083.2 729.6 1082.1 727.5 1084.8 732.5 1079.2 734.7 1083.9 724 1085.9 715.1 1079 733.6 1086.6 731.4 1084.5 730.7 1085.3 730.7 1082.2 715 1084.3 726.6 1085.2 731.1 1082.2 721.2 1086.1 730.6 1079.2 726.9 1082.7 730.9 1083.9 727.7 1087.2 720 1078.6 737.4 1077.6 741.1 1077 747.5 1074.5 731.2 1079.6 732.4 1076.5 745.3 1079.1 737.7 1077.7 737.1 1079.5 743.5 1075.5 724.8 1078.7 725.9 1080.6 736.6 1074.4 736.3 1076.9 755.8 1073.9 734.4 1076 722.6 1080.9 739.6 1078.7 732.5 1078.6 741.6 1075.7 726.9 1081.8 727.9 1078.4 734.7 1074.3 719.2 1087.7 711.3 1089.1 693 1087 690 1089.3 703.7 1081.1 713 1084.5 704.8 1089.6 714.2 1087.8 707 1085.2 703.3 1090.4 705.2 1083 713.7 1087.3 707.2 1084.7 702.4 1085.6 707.4 1086.6 688.2 1086.1 702.9 1088.6 688 1082.6 701.3 1088.5 711.2 1091.4 711.4 1087.9 707.6 1085.5 742.5 1081.9 738.9 1080.9 737.1 1085.3 731.6 1082 737.3 1077.7 735.5 1084.5 715.5 1080.3 716.9 1083.9 749 1084.2 748.6 1086 741 1082.8 730.5 1081.4 730.4 1084.2 736.6 1085.7 734.7 1087.4 739.5 1081.1 741.6 1083.9 742 1081.7 733.5 1083.3 732.4 1082.4 719.1 1083.6 732.1 1086.2 692.4 1086.9 695.9 1092.5 707.4 1089 682.8 1092.6 686.8 1089.2 725.9 1089.5 701.7 1094 709.1 1090.1 710.7 1090.8 698.5 1087.9 695.3 1090.8 705.7 1088.8 710.2 1088.3 692.4 1090.8 694.9 1087.7 694.3 1095 711 1096 697.8 1090.7 711.6 1091.6 694.1 1086 708.9 1085.6 704.8 1091.1 724.6 1080.2 732.9 1081.2 731.4 1081.2 741 1084 730.6 1077.6 714.2 1081.5 720.4 1076 728.2 1079.6 730.2 1079.9 721.7 1081.2 733.7 1078.1 729.2 1079.4 734 1073.7 728.2 1079.4 745.4 1083 728.1 1077.2 736.1 1071.6 716.4 1082.7 727.8 1079.9 738.3 1080.3 719.6 1084.4 729.3 1081.5 723.3 1075.4 727.2 1075.4 731.9 1079.1 726.4 1073.9 718 1078.1 725 1073.2 736 1075.1 726.7 1077.5 721.2 1076.1 720.4 1073.7 725.9 1074.5 720.9 1077.4 727.8 1070.8 728.1 1080.1 728 1074.4 733.8 1076.1 722.9 1069 730.6 1080 722.1 1073.3 717 1078.3 725.9 1074.5 725 1072.9 737.7 1074.2 736.5 1074.9 730.7 1075.5 713.9 1073.5 729.5 1077.4 725.8 1076.4 739.9 1077.3 709.6 1074.3 734.3 1073 741.5 1076.1 722.3 1076 729 1076.8 728 1077.5 729.3 1076.2 732.8 1072.2 734.9 1073.4 735.9 1074.3 728.5 1074.5 735.2 1073.3 730.8 1076.3 716.8 1072.5 722.3 1077.2 711.7 1087.6 704.1 1090.4 721.1 1087.5 707.1 1088.5 703.4 1088.3 709.9 1087.8 713.3 1085.2 711.1 1087.7 702.9 1085 695.7 1081.8 700.4 1088.2 693.9 1091.4 699.8 1090.8 702.4 1083.7 700.6 1089.5 708.8 1085 710.4 1089.3 701.6 1088.5 705.2 1088.1 712.2 1086.4 701.6 1086.1 704.6 1085.1 727.6 1079.9 699.7 1076.4 718.6 1075.2 716.5 1078.6 698 1078.9 716.4 1078 705.3 1074.8 718.6 1076.6 717.2 1073.5 706.5 1074.6 701.5 1076.8 719.8 1071.3 716.3 1078.5 723.7 1076.1 714.3 1081.9 723.8 1079.4 716.4 1079.2 699.1 1075.3 707.3 1076.5 728 1077.8 717.7 1075.4 716.5 1077.1 724.1 1089.4 726.3 1080.8 736.7 1085.8 729.6 1087.7 734.7 1085.4 736.6 1088.9 741.8 1088.1 720.9 1089.1 728.3 1083.3 732 1086.3 731 1090.9 723.9 1089.3 736.1 1084.5 738.1 1087.2 730.7 1086 749.4 1086.6 731.1 1084.7 722.1 1090.1 731.4 1085.9 738 1091.7 736.6 1084 737.2 1087.3 716.3 1076.2 712.4 1073 724.1 1074.4 706.7 1076.5 724.2 1073.3 721.6 1076 724.9 1079 720.6 1077.1 720.2 1074.4 718.2 1079.8 733.4 1077.6 726.8 1076.7 717.3 1075.5 730.3 1074.8 731.1 1075.7 715.4 1071.9 718.1 1075.1 719.8 1080 728.6 1076.5 716.3 1077.1 725.4 1081.8 739.5 1076.6 724.5 1089.7 725.2 1089.4 741.7 1086.7 733.4 1090.6 721.4 1087.8 747.3 1088.2 743.3 1087.5 734 1089.8 728 1089.9 734.8 1091.4 736.5 1090.8 730.4 1088.8 732.9 1089.6 742.3 1091 739.2 1087.5 744.6 1090.2 742 1091.2 744.3 1089.2 724.9 1088.8 730.2 1090.1 726.7 1090.1 723.2 1091.4 733 1072.7 723.2 1073.1 733.5 1071.8 736.8 1069.9 731 1069.2 709 1069.9 713.9 1071 729.1 1070.3 726.3 1073.8 738.1 1074.6 724.4 1072.2 721.3 1075.8 733.6 1073.5 727.4 1075.9 736.8 1076.9 727.7 1074.1 724.3 1069.9 731.8 1072.9 725.2 1072 722.2 1073.7 714.3 1074.7 723.7 1070 717.8 1080.6 716.6 1085.5 721 1084 730.2 1083.6 729.2 1083.2 718.3 1081.9 740.1 1083.7 718.6 1082 727.3 1087.1 738.1 1079.8 729.5 1083.2 712.9 1084.9 727.4 1083.2 731.4 1082 723 1083.9 734.6 1082.1 726.5 1083.1 718.2 1082.4 723.4 1083.1 735.3 1081.2 726.9 1076.2 723.3 1081.9 485.3 1078.3 485.4 1080.5 491.1 1080.2 486.6 1081.2 478.6 1079.5 482.3 1081.4 486.2 1081.3 480 1079.2 483.8 1079.7 487.6 1081.3 491.9 1076.8 420 1077.1 430 1077.6 421.7 1071.5 417.1 1076.7 422.5 1073.8 413.6 1076.3 425 1074.9 423.7 1079.5 421.6 1077.2 419.3 1076.9 422.7 1073.9 424.1 1078.1 423.4 1074.5 437.8 1072.7 412.9 1078 422.6 1082.9 425.3 1080.3 419.7 1079.1 415.9 1077.5 420.8 1075.6 425 1079 412.5 1075.6 404.9 1078.4 398.8 1071.8 405 1071.7 398.1 1072.2 395.4 1069.1 387.5 1070 400.9 1073.8 396.7 1078 410.3 1073.2 404.2 1069.5 396.1 1076 398 1077.2 407.5 1070.2 393.2 1073 395.5 1071.4 395 1069.5 383.3 1070.5 395 1074.4 385.3 1068.3 392 1069.7 389.4 1074.6 401.3 1074.5 422.1 1071.8 418.1 1071 422 1071.5 419.4 1069 425.4 1073 425 1068.8 436.1 1076.8 427 1069.6 414.9 1071.4 429.5 1074.6 425.4 1062.5 430.7 1074.1 431.8 1070.2 427.9 1067.7 429.7 1076 424.7 1069.3 419.9 1068.8 434.9 1067.4 422.5 1067.1 425.8 1067.7 433.5 1071.7 433.3 1073 738.1 1050.4 721.1 1052.6 726.9 1054.1 726.5 1050 729 1044.8 715.7 1049.9 730.5 1057.5 724.4 1049.3 721.5 1051 698.6 1048.3 736.2 1046.9 722.7 1045.6 719.6 1046.7 714 1056.7 728.6 1050.9 731.9 1052.7 736 1051.8 726.1 1052.1 719.8 1046.4 729.9 1051.5 730.1 1052.1 718.6 1054.9 497.5 1058 493.1 1061.5 511.1 1060.3 511.1 1065.6 500.7 1061 500.6 1061.8 506.6 1060.5 506.2 1066.2 498.2 1067.6 514.7 1060.9 498.3 1060.4 517 1058.9 501.4 1066.6 506.3 1057.9 501.2 1059.6 512.8 1062.1 508.3 1065.3 526.4 1064 515 1060.2 519.2 1060 497.4 1065.6 502.4 1059.1 401.6 1075.5 394 1074.5 398.7 1070.2 407.7 1072 401 1072.7 403.7 1074.3 387.2 1070.1 394.5 1075.9 400.4 1069.2 398.5 1076.3 394.8 1072.5 401.7 1077.5 396.4 1072.6 403.3 1075 405.4 1076.5 397.7 1075.5 395 1074.1 391.5 1070.1 402.3 1074.7 396.8 1072.6 378.8 1076 398.6 1075.8 398 1058.9 417.7 1058.9 403.6 1050.9 422.6 1057.7 411.4 1055.9 413.1 1056.6 414 1059 403.9 1057 405.8 1057.7 409.6 1056.2 407.1 1055 402.3 1055.2 411.6 1056.8 400.8 1055.8 387.1 1055.5 418 1056.1 415.9 1059.7 410.2 1059.2 391.4 1061 409 1052.4 414.3 1058.8 407.3 1053.9 526.7 1068.7 518.5 1073.7 518.8 1073.2 512.3 1073.9 521.1 1070.4 503.4 1074.7 434.3 1099 427.8 1096.4 429 1098 408.3 1100.8 415.2 1099 426.9 1101.6 418 1094.9 427 1102.4 411.3 1102 433.5 1098.8 421 1102.2 417.3 1101.3 416.7 1099.3 424.3 1097.8 425.3 1099.8 419.4 1106 420.9 1099.4 430.4 1099.6 423.4 1099.5 422.6 1100.1 416.8 1101.1 424.2 1104 404.5 1070.9 397.4 1071.6 401.6 1069.7 405 1073.8 404.5 1071.6 404.8 1070.6 404.1 1076.5 400.4 1071.5 391.3 1069 403.6 1070 406.1 1072.7 407.9 1071 405 1068.8 411.6 1071.8 408.6 1067.3 407 1072.7 402.2 1074 389.6 1068.1 395.5 1071.7 412 1072.3 399.5 1066.3 401.5 1069.1 425.5 1106.9 428 1105.8 426.6 1108.9 416.2 1109.5 436.1 1110.1 418.5 1104.4 412.8 1109.7 426.9 1106.9 415.7 1102.9 427.2 1103.2 420.3 1109 420.3 1107.2 407.9 1105.9 427.4 1104.3 409.2 1100.8 437.2 1105.2 422.2 1102.8 420.5 1104.6 429.4 1103.2 421.6 1107.8 420.8 1105.2 419.5 1101.6 639 1081.9 653.2 1080.8 643.7 1083.8 645.2 1079 650.1 1080.3 639.3 1080.5 638.3 1076.1 647.1 1080.7 653 1082.7 635.4 1079.9 638.3 1083 656 1080.9 643.3 1077.6 640 1083.3 641.9 1082.3 629.1 1083.5 641.8 1079.5 639.6 1081.3 646.8 1086 641.1 1080.4 634.1 1080.6 638.4 1079 628.8 1089.7 646.5 1088.8 633.2 1090.7 643.6 1089.1 648.5 1090.4 646.9 1088.3 637.4 1088.4 631.2 1091.8 631.2 1087.5 642 1095.7 630.1 1086.9 634.2 1091.4 630.9 1088.3 644.6 1091.7 637.6 1092 634.8 1088.6 631.8 1088.6 641.2 1091.5 634.2 1093.5 646.5 1089 685.9 1068.9 687.5 1071.4 679.6 1071.8 667.5 1064.2 683.4 1068.5 673.3 1073.3 682.3 1068.1 672 1067.2 669.8 1067.4 675.4 1067.1 673.3 1068 669.1 1069.9 677.5 1071.9 664.3 1067 677.9 1064.3 676.3 1068.3 666.2 1069.5 679.1 1068.1 677.9 1066.4 686.6 1072.9 666.4 1069.3 676.8 1069.1 434 1115.4 431.1 1112.3 425.6 1112.9 424 1117 427.5 1115.9 435.5 1115 423.1 1114.5 431 1114.1 415 1115.8 435.2 1114.1 433.2 1114.4 427.1 1112.3 405.3 1047.4 404.4 1049.8 402 1050.9 396.8 1051.7 407 1054.7 394.8 1055.8 395.5 1055.1 399.5 1051.7 409.9 1051.2 409.5 1052.4 394.9 1050.9 401.2 1048 408.6 1055.4 396.7 1047.4 393.6 1054.1 406.9 1055.6 401.7 1055.1 403 1052.5 413.6 1048.8 388.3 1046.2 403.9 1055.9 405.1 1054.1 665.7 1105.7 655.8 1104.9 664.1 1108.3 661.9 1105.1 663.3 1106.5 666.9 1106.7 650 1104.3 669 1108.5 439.9 1070.4 443.3 1075.6 442.3 1072.6 438 1073.1 446.1 1070.3 450.4 1074.4 469 1078.6 438.4 1078.3 447.6 1076.9 428.9 1071.2 432.7 1074.1 443.9 1076.2 449.6 1073.9 446.6 1076.4 453 1074.9 445.4 1072.7 428.8 1073.1 449.3 1077 446.1 1074.8 434.7 1073.4 452.2 1077.1 441.1 1075.5 424.6 1054.8 423 1052.3 425 1051.6 426.1 1051.4 427.6 1054 435.2 1052.7 418.1 1054.9 421.6 1054.3 421.2 1048.2 421 1054.7 427.8 1053.2 431.7 1051 423.5 1049.8 430.2 1048.5 418.1 1053.7 421.4 1051.3 427.7 1048.8 416 1049.5 433.8 1052.9 416.5 1055.4 427.4 1049 439.6 1048.3 416.9 1078.2 427 1074.1 420.8 1071.6 414.7 1073.9 418.4 1075.5 414.6 1068.7 421.7 1069.6 410.2 1067.3 404.3 1073.2 401.7 1071.9 409.5 1072 419.9 1072.8 429 1071.4 420.4 1071.3 416.3 1073.9 409.6 1071.6 408.3 1069.2 412.3 1070.9 407.6 1073.9 415.2 1073.5 411.3 1074.8 412.8 1072.2 444.5 1068.3 439 1070.7 459.7 1072 457.5 1066.8 462.4 1067.7 449.2 1064.8 464.4 1071.7 447.1 1071.5 457.4 1070.2 458.6 1068.5 456.3 1070.1 463.9 1067.4 449.5 1073.8 462 1067.2 450.3 1071.1 451.8 1073.3 434 1066.8 461.8 1068.7 454.6 1068.4 457 1071.6 453 1066.5 442.3 1073.7 402.1 1096.9 408.2 1089.3 398.9 1084.1 400.2 1092.9 402.6 1092.6 395.3 1093.3 402.2 1094.6 396.5 1089.7 396.2 1092.9 396.2 1091.5 408.7 1086.1 397.2 1088.4 407.6 1087 403.5 1087.4 394.9 1091.1 395.5 1089.9 397 1089.9 382.2 1088.5 399.6 1094.1 383.7 1088.5 389.6 1089.3 381.8 1087.2 447.9 1103.6 442 1103.6 438.1 1104.5 452.9 1105 442.1 1102.5 445.6 1102.9 446.6 1100.3 459 1103 446.8 1104.9 445.4 1102.3 452.9 1105.9 438.8 1104.4 440 1103.4 440.6 1102.5 449 1101.9 447.2 1104.6 443.7 1103.8 449.9 1098.6 449.3 1102 437.8 1106.4 430.2 1107 453.5 1106.7 739.7 1054.4 731.3 1058.8 741.4 1050.3 738.8 1050.4 737.9 1053 731.9 1050.3 742 1051.5 739.6 1053.6 485.5 1063.3 500.3 1061.1 487.6 1063.2 474.3 1061.8 481.7 1058.6 474.2 1053.7 478.9 1057.7 492.1 1058.2 481.5 1058.7 482.7 1060.7 495.3 1058.9 486.8 1059.6 488.7 1059.3 486.8 1058.4 481.2 1058.7 481.2 1054.1 482.1 1063.4 480.8 1061.4 485.2 1060 480.9 1055 482.4 1060.1 490.6 1066.8 653.7 1105.6 652.1 1106.8 659.6 1066.1 670.7 1060.5 665 1059.3 656.7 1061 679.4 1056.7 668.5 1067.9 665.7 1059.8 668.9 1060.8 658.9 1063.8 657.1 1066.2 656.7 1066.9 661.3 1066.4 660.7 1059.9 667 1064.5 675.2 1062.1 664.8 1057.2 657.3 1059.8 654.9 1064.2 656.1 1059.8 642.7 1059.2 655.4 1061.1 661.8 1061.9 681.2 1070 660.4 1066.2 677.5 1063.5 663.9 1067.2 667.9 1070.4 674.6 1069.1 679.3 1064.6 679.9 1067.5 659.7 1066.4 670.3 1065.8 664.1 1069 663.1 1071.1 677.4 1065.2 665.6 1065.1 668.9 1069 675.3 1065.8 658.5 1070.5 669.6 1071.6 662.5 1069.4 662.5 1068.5 660.9 1066.6 657.4 1062.5 459.2 1070.6 451.5 1076.3 453.9 1066.6 448.8 1063.8 465.3 1067.1 454.3 1069.4 450.9 1066.4 464.4 1064 452.7 1068.9 455.7 1071.3 450.7 1066.6 448.8 1067.8 449.2 1065.3 459.4 1071.4 450.1 1069.2 455.5 1068.2 441.2 1069.3 459.5 1065.9 449.5 1072.9 457.4 1069.4 452 1069.1 466.8 1068.7 683.5 1090.1 678.1 1086.4 687.2 1085.5 687.5 1086.5 681.9 1091.7 674.7 1082.7 688.5 1087.7 683.8 1088.5 698.2 1084.7 684 1088.1 686.9 1085.7 675.4 1083 679.1 1082.9 683.7 1086.4 682.4 1087.9 679.3 1083.4 687.7 1082.6 680.4 1083.6 689.7 1086.9 678.5 1088.3 693.4 1087.3 681.7 1087.5 456.7 1103.1 456.3 1100.1 427.9 1068.8 435.3 1066.6 438.1 1069.4 434.5 1074.7 426.8 1068.1 428 1067 434.8 1065.9 430.1 1067.9 435.5 1072.3 429.8 1069.9 423.4 1070.1 424.3 1067.3 420.7 1071.9 429.7 1064 437.3 1069.7 431.6 1071.8 417.3 1070.6 416.7 1067.2 432.1 1068.3 427.9 1068.1 437 1065.1 413.5 1075 584.1 1060.6 385 1061.7 388.8 1066.7 380.7 1062.2 386.5 1060.4 401.9 1062.3 385.7 1063.4 380.5 1066.8 381.9 1061.5 384 1066.4 384.8 1066.4 394 1062.6 378.5 1064.9 377.4 1069.4 403.2 1061.9 381.5 1063 395.3 1061.6 384.3 1063.2 390.8 1067 388.8 1060.5 382.6 1067.3 391 1065.4 380.6 1062.8 625.2 1084 477.6 1057.1 481.7 1058.4 496.7 1055.2 491.5 1055.1 491.2 1058.6 484.7 1055.2 483.8 1051.6 485.5 1055.7 485 1057.4 486.2 1056.5 496.7 1057.7 489.7 1057.8 485.6 1055.6 487.9 1055.7 485.4 1059.1 488.2 1058.3 491.8 1060 480.5 1055.3 501.2 1057.4 471.9 1056.7 478.7 1056.6 492.2 1053.2 574.1 1075.6 573.9 1071.2 578.3 1068.5 569.8 1066.8 566.6 1066.3 571.1 1070 568.5 1067.2 574 1071.2 570.7 1068.3 570.5 1069.2 571.5 1069 709.4 1085.3 705.2 1086.6 704.7 1083.6 703.4 1086.3 702.2 1085.7 703.5 1085.5 703.1 1089.3 709.8 1086.6 703 1083.6 701.3 1090.6 707.5 1083.8 710.4 1080.5 698.9 1089.5 705.8 1084.6 693.7 1083.9 695 1086.4 698.8 1081.8 698.2 1086 699.2 1089.2 711.9 1084.8 709.5 1087.3 685 1086 431.1 1069.7 440.8 1063.6 431.3 1068.8 438.8 1067.1 450 1062.3 450.6 1066 452.1 1069.6 442.7 1066.8 436.7 1065.9 445.6 1066.8 446 1061.8 452.1 1066.3 433.3 1062.1 445 1062.8 436.6 1067.5 450.9 1060.9 439.6 1066.7 442.4 1062.8 453.5 1069.9 444.8 1068.1 451.5 1070.1 438.8 1067.6 570.8 1067.8 566.2 1064 569.3 1063.5 403.1 1102.4 387.2 1105.7 390.2 1107.1 392.3 1109 380.8 1112.8 395.5 1107.2 386.9 1109.3 385.9 1108 381 1109.1 392.6 1105.6 390.1 1112.2 382.4 1107.9 378.8 1105.6 391.7 1105.4 382 1108.8 381.6 1100.9 398.2 1104.2 382.1 1111.7 389.2 1108.1 392 1102.5 396.6 1109 396.8 1107.2 527 1064.5 535.7 1058.8 532.4 1065.1 538.1 1061.6 539.2 1062 538 1061.4 531.8 1066.9 535.9 1068.3 534.5 1066.1 403 1078 425.4 1071.5 416.8 1072.4 411.2 1074.1 405.6 1080.5 414.7 1076.9 401.7 1074.5 415.4 1072.2 414.5 1078.5 409.7 1073.3 417.6 1074.6 403.9 1075.9 414 1076.5 412.8 1072.5 414.4 1072.4 428.9 1070.8 405.3 1076.5 413.2 1073.2 399.3 1074.1 413.1 1071.9 410.1 1080.7 390.9 1076 707.3 1055.8 705.1 1056.5 712.3 1058.4 715.6 1054.6 710.6 1053.7 718.8 1051.4 717.7 1056.8 716.7 1054.1 717.2 1056.1 714.9 1054.4 714.9 1052.7 726.6 1057 701.5 1055.8 709.1 1056.7 708.8 1049.7 735.4 1057.9 712 1053.8 719.2 1051.8 720.1 1053.5 725.4 1051.1 715.8 1051.4 723.7 1053.6 469 1065.7 476.8 1062.8 471 1063.4 459.2 1070.7 470.4 1066.1 462.5 1070.4 462.8 1063.8 468.9 1066.2 453.6 1065.5 476.8 1064.4 471.2 1068.2 467.3 1064.3 462.1 1067.3 459.3 1061.4 466.7 1065.3 450.6 1067.9 464.2 1064.8 442.7 1060 459.3 1062.3 459.5 1060.2 463.5 1062.1 459.3 1065.3 619.1 1047.9 589.1 1020 493.2 1045.7 537.3 1041.8 741.5 1047.5 602 1017.9 673.4 1071.1 758.4 1101.3 684.4 1061.4 657.5 1020.1 628 1030.2 689.5 1095.7 680.6 1078.4 436.9 1058.1 718.2 1024.1 671.2 1064.7 737.1 1087.4 565.3 1065.9 559.2 1033.6 487 1011.2 636 1086.9 704.7 1070.3 678.2 1053.1 743.6 1111.1 620.2 1007 713.6 1114.8 581.9 1031.2 691.6 1101.3 716.4 1010.1 726.1 1028.4 634.9 1102.9 558.9 1034.5 619.8 1011.3 445.9 1101.2 459.1 1073 601.2 1030.2 713.3 1039.4 729.6 1086.6 694.8 1069.1 466 1098.1 705.7 1080.3 462.1 1020.7 753.6 1070.4 736.7 1020.5 629.4 1021 658.7 1096.9 121.1 1110 126 1083.3 115.9 1095.7 108.7 1091.5 126.9 1086 128.4 1109.7 120.4 1108.4 118.4 1101.1 127.2 1107.3 122.3 1100.3 125.7 1094.9 118.8 1109.1 118.4 1107.9 117.3 1115.2 111.2 1114 116.4 1091.8 822 1056.9 117 977.4 122 977.4 142 973 150 976 160 973 147 996 143 1001 136 1007 144 1010 153 1014 160 1024 194 972 190 981 191 996 183 1008 192 1018 214.4 966 214.4 975 215 985 215 1005 205.4 1014 236 956 228 963 232 970 240 970 228 980 236 990 238 996 272 971 252.4 986 246 1006 254 1016 260 1019 275 1020 293 1018 114 1028 130 1028 168 1044 293 1018 310 1004 321 1004 321 986 333 981 319.4 939.6 344 1018 360 995 368 1004 384 1000 390 976 396 950 400 932 410 920 402 966 410 960 418 956 420 940 418 926 424 912 412 908 432 920 440 932 446 912 456 924 436 964 446 960 456 968 440 978 454 980 468 976 432 996 444 994 408 984 416 988 394 990 402 996 402.6 795 476 816.4 447 829 482.4 842 420 854 429 851 416 858 430 864 437 870 417 872 421 878 395 874.4 402.4 881 402 895 410 894 420 892 431 892 435 898 404 904 414 908 430 908 467 860 481 863 464 868 460 876 480 878 452 886 450 890 466 892 482 894 478 900 464 904 446 904 440 912 488 906 500 908 488 916 452 916 464 916 532 870.4 513.6 894.4 514 908 524 910 534 906 546 904 528 916 536 916 569 892.4 561 909 578 888 580 916 548 933 556 930 570 929 559 941 571 948 560 958 572 962 410 922 418 926 401 932 410 936 397 950 418 940 412 952 404 964 420 960 432 932 440 928 448 924 456 928 464 932 474 936 480 942 440 940 450 942 460 944 470 948 476 954 480 960 464 958 454 956 444 958 436 962 499 955 508 957 518 945 534 950 520 958 530 962 512 966 538 966 475.7 780.2 480.3 770.6 478.2 768.6 480.3 762.6 477.7 755.5 482.3 754.5 480.1 739.4 480.3 732.9 674.4 791 696 790 700 793 703 797 694.4 796 705 801 700 823 698 789 693 792 707 796 690 799 698 800 709 806 703 820 698 825 696 830 708 826 713 827 730 826.4 707 838 714 838 713 843 696 852 690 873 700 871 706 871 712 871 703 886 698 902 691 911 698 911 693 935 703 933 733 944 730 952 734 960 593 842.4 591.6 856 653.4 879 652.6 894.4 652.6 910.4 662.4 938 671 961 650 966 656 967 680 968 690 968 706 967 716 966 726 962 569 892.4 584 884 601 882.4 582 889 596 893 589 899 617 894 612 902 620 906 608 914 618 918 563 909 582.4 917.6 596 921 604 920 571 929 604.4 939.6 570 948 560 940 590 955 597 953 629 956 618 961 571 962 592 962 421 853 476 815 463.6 870 463 911 449 930 474 960 694.4 790 709 805 698 828 709 868 690 908 478 881 474 892 482 894 476 904 488 908 500 908 488 917 513 895 513 909 523 910 534 905 545 903 528 916 536 919 519 913 561 909 569 893 582 886 588 898 595 893 602 884 583 917 596 921 608 921 619 918 610 910 619 905 613 900 619 893 653 882 653 893 653 910 662.4 938 556 929 547 933 571 929 560 941 571 947 560 958 572 963 574 974 572 982 604.4 939 474 934 482 942 476 956 479 968 476 978 519 944 534 949 499 954 511 955 495 959 524 959 536 960 513 969 525 970 537 968 496 977 495 988 505 992 511 998 518 1000 528 1000 476 1002 486 1004 496 1008 480 1012 506 1010 522 1010 592 952 598 950 590 960 600 962 588 970 598 972 610 968 618 960 628 956 620 972 608 978 600 984 590 980 610 986 630 954 636 960 646 968 654 966 662 968 668 964 644 978 650 984 640 988 656 992 664 984 642 998 652 1000 662 1000 578 997 570 1002 606 996 626 996 636 1002 618 1004 782 1018 792 1019 821 1027 845 1031 792 1048 789 1058 792 1062 808 1048 827 1047 834 1051 843 1048 816 1054 832 1060 840 1060 851 1060 826 1066 847 1074 850 1084 852 1090 774 1050 764 1052 768 1058 780 1062 802 1060 798 1068 812 1068 820 1070 836 1070"/>
<path d="M100 1130L106 1109.1L160 1109.1L168 1129.2L176 1129.2L184 1112.4L300 1112.4L380 1109.1L430 1105.7L455 1095.6L475 1078.8L490 1068.7L520 1062.0L540 1055.3L548 1041.8L556 1028.4L563 1051.9L575 1065.4L590 1045.2L618 1045.2L626 1078.8L640 1099.0L660 1095.6L700 1105.7L735 1105.7L745 1102.3L790 1102.3L800 1109.1L855 1119.2L860 1130Z" fill="#ff0d0d"/>
<path class="kr" fill="none" d="M102.9 1123.5 101 1116.7 101.4 1111.4 101.2 1107.3 103.3 1100.6 102.2 1098.6 105.6 1091.2 102.9 1085.5 102.5 1080.8 108.1 1119.7 106.6 1121.2 108.9 1114.7 107 1119.2 108.7 1114.1 106.4 1111.7 108 1101 108.9 1098.3 110.8 1093.9 109 1088.5 111 1079.2 109.5 1074.4 109.1 1074 111.1 1120.2 113.2 1118.1 112.6 1113.8 111.5 1105.3 114.9 1100.2 114.5 1098 113.1 1093 112.9 1079.9 114.3 1078.3 120.8 1122.4 118.8 1118.5 116.4 1116.4 116.3 1111.9 119.8 1107.3 119.6 1095.3 116.5 1089 116.9 1081.1 119.9 1078.1 116.9 1071.9 123.7 1119.7 124.2 1116.5 122.5 1115.6 121.5 1110.7 123.5 1106 124 1102.3 125.1 1090.6 125.4 1089 124.4 1077.2 121.9 1071.2 130.9 1119.3 126.5 1117.5 129.9 1113.2 127.1 1113.6 130.7 1104.3 129.7 1101.9 127.8 1096 127.3 1091.6 128.2 1084.5 126.5 1080.2 127.3 1074.9 131.5 1122.6 134 1116.7 132.7 1115 132 1112.8 134.1 1106.4 131.9 1102.2 131.9 1096.5 134.6 1090.9 134.1 1087.5 134 1080.4 137.4 1121.5 136.1 1114.6 136.2 1118.5 136.5 1110.1 141 1111 140.4 1106.7 139.5 1102.4 137.6 1097.3 139.1 1089.9 136 1085.8 138.4 1079.9 140.5 1075.4 136.7 1071.9 141.5 1123.5 143.7 1114.7 142.1 1118.2 143.1 1110 143.5 1098.9 143 1091.9 145.8 1086.4 142.8 1069.8 147 1120 146.6 1117.7 148 1110.3 148.3 1109.4 146.9 1108.5 147 1100.9 148.9 1095 150.6 1093.4 150.8 1087.2 148.4 1083.3 155.3 1123.2 153.3 1118.6 152.6 1118.1 154.2 1109.5 152.9 1111 155.6 1106.4 154.7 1103.2 151.1 1095 152.8 1091.4 151.4 1085.7 153.9 1071.7 160 1121.5 156.5 1114.8 159.4 1113.1 158.3 1108.9 160.8 1098.3 160 1091 156.1 1087 160.7 1079.3 156.6 1051.3 164.3 1123.5 165.4 1118.2 164.3 1111.8 164.2 1107.6 164.9 1101.9 164.2 1096.8 163 1090.3 163.4 1081.3 169.8 1118.4 170.4 1111.6 168.6 1105.4 169.9 1103.4 171.3 1122.1 175.1 1116.9 172 1110 174.9 1094.9 177.9 1123.1 180.9 1115.5 178.7 1112.2 177.3 1108 177.3 1099.3 176.1 1091.2 178.5 1086.2 183.3 1122.4 183.2 1114.7 185.7 1116.1 183.9 1113.4 185 1107.9 185.1 1103.6 181.8 1094.7 181.9 1093.8 184.6 1080.7 186 1120.3 189.7 1116.6 190.7 1112.8 187.7 1109.1 186.4 1104.2 186 1096.8 186.3 1085.6 190 1081 192.8 1120.3 192.3 1115.5 191.2 1110.7 195.3 1110.4 195.7 1104.6 191.9 1101.3 194.5 1097.5 192 1093.5 194.4 1086.5 194.6 1082 196.7 1120.1 197.3 1115 196.6 1117.8 200.7 1109.4 199.2 1105.1 197.6 1103.4 196.2 1099 199 1093.9 197.8 1074.8 202 1123.7 203 1117.1 201.4 1116.6 201.1 1111.8 201.9 1105.4 202.8 1101.4 204.1 1094.5 202.7 1089.4 201.9 1088.6 202.8 1082.3 208.1 1122.7 210.7 1117.3 207.6 1111.3 206.9 1108.9 210.2 1102.5 206.5 1096.1 210.7 1090.8 209 1084.7 206.6 1078.6 210.3 1069.4 215.3 1120.2 212.8 1117.8 215.3 1119.2 214.3 1111 211.6 1108.4 213.6 1104 213.3 1095.9 215.2 1093.7 213.6 1081.4 216.8 1120.8 219 1118.1 219 1115.5 218.7 1110.6 216.3 1108 219.8 1104.1 218.6 1097.6 217.4 1094.1 220.2 1087.6 219.7 1074.8 219 1069.7 223.4 1121.3 221 1121.6 222.7 1116.7 225.4 1109.4 226 1107.5 221.9 1100.2 223.3 1096.7 223.9 1093.4 222.3 1089.1 225 1075.4 229.1 1123.5 229.5 1118.9 229.4 1112 230.7 1105.8 230.8 1101 228.8 1095.4 228.5 1091.9 229.3 1085.6 226.3 1080.7 235 1123 233.9 1120.9 231.2 1115.7 235.4 1115.2 232.7 1111.9 231.2 1109.8 235.8 1104.6 234.3 1094.8 231.4 1089.3 235.5 1087.3 232.9 1079.8 235.1 1072.5 237.4 1119.5 241 1116.3 240.6 1112.8 238.9 1106.3 237.8 1102.8 238.3 1096.6 240.2 1092 239.8 1086.7 237.2 1080.8 244.2 1121.2 245.4 1117.2 245.7 1113.8 243.2 1104 241.8 1098.2 244.1 1089.5 244.8 1086.5 242.6 1083.6 249.2 1120.3 247.4 1119.1 246.3 1112.9 247.9 1108.2 250.6 1101.4 251 1096 250 1086.2 251.2 1123 254.2 1114.8 253.5 1112.9 255.2 1105.2 254.2 1102.2 252.8 1095.7 254.7 1088.7 251.9 1082.7 252.9 1074.7 255.3 1073 256.2 1124 257.1 1115.6 260.5 1109.3 258.8 1103.5 259.5 1096 258.1 1084.7 258 1075.3 260.1 1069.7 261.6 1122.3 263.2 1121.5 263 1114.8 263.4 1109.7 265.2 1111 266 1107.4 261.5 1103.7 265 1095.4 262.3 1091.3 262.2 1088.6 261.4 1080.3 270.8 1119.3 270.1 1116.8 267.1 1109.2 269.8 1105.3 268.4 1099.1 266.7 1087.5 268.4 1082.7 268.6 1075.4 273.7 1120.6 271.8 1121.1 271.1 1119 272.2 1113.3 274.9 1106.6 275.5 1103 274.6 1089.6 273 1086.5 275.9 1083 274.9 1075.2 278.2 1121.5 279.9 1118.4 276.7 1110.1 278.8 1100.1 276.8 1094.5 281 1092.5 277.2 1076.1 277.1 1072.4 282.9 1123 284.5 1116 281.6 1115.6 281.1 1111.1 284.7 1107.8 281.4 1103.1 285.5 1097.5 285.7 1090.6 282.7 1084.5 283.5 1082.4 283.8 1077.6 285 1051.8 287.5 1121.5 289.1 1118.9 289.3 1112.8 288.6 1106.9 286.8 1102.4 290.7 1095.7 287.2 1089.6 290.7 1085.2 290.2 1076.8 291.5 1121 295.5 1122.4 292.3 1115.9 294.6 1111.8 295.7 1100.1 294.3 1097.2 292.7 1090.8 293.4 1082.7 292 1074.9 298.6 1120.7 297.8 1123.6 298.9 1116.8 296 1111.9 300.5 1105.1 299.7 1095.9 299.5 1086.8 297.4 1083.8 298.8 1074.5 300.4 1070.3 302.6 1120 303.1 1117.1 301.8 1113.4 301.9 1106.2 303.7 1102.8 303.3 1098.4 301.8 1090.6 301.5 1088.4 302 1079.7 301.1 1077.4 310.5 1119.3 309.3 1121.1 306.5 1117.1 307.9 1115.7 308.3 1110.6 306.2 1103.6 308.8 1095.7 309 1086.7 308.5 1081.5 312.6 1123.8 314.7 1119 314.3 1118.9 313.2 1110.6 314.5 1112.1 314.2 1109 313.4 1104.1 313.5 1095.7 315.1 1091 311.2 1085 317.4 1120.9 316.4 1121.7 317.3 1115.6 318.1 1111.7 318.9 1102.4 317.6 1094.8 318.2 1089.4 318.9 1084.6 317.5 1075.5 322.2 1122.4 323.3 1118.9 325.6 1109.5 325.3 1108.3 322.8 1102.7 325.7 1095.7 322.6 1090.6 323.2 1085.2 326.6 1123 326.9 1115.9 330 1110.5 327.2 1112.4 330.8 1108.6 327.4 1100.3 327.8 1098.3 329.4 1091 327.3 1087.3 328.8 1079.8 326.3 1075.5 335.5 1122.7 331.6 1114.4 332.3 1114.4 331 1111.8 332.6 1107.4 331.1 1103.9 333.6 1093.7 334.9 1084.7 335.9 1080.5 331.6 1078 331.7 1071.1 340 1120.1 340.6 1117.2 339.2 1115.2 339.1 1110.9 338.8 1111.6 338.2 1106.6 339.2 1094.4 339.7 1091.2 339.8 1084.9 336.2 1082.2 340.2 1075.5 344.6 1123 345.6 1124 345.1 1114.7 341 1110.3 341.8 1104.8 341.8 1100.3 341.8 1097.7 344.2 1090 345.7 1087.6 344.5 1081.3 343.8 1075.7 348.2 1123.1 346.6 1118 350.3 1109.5 346.5 1100.6 348.1 1090 347.4 1087.8 346.7 1077.7 354.8 1119.5 353.8 1114.4 354.8 1116.2 355.4 1109.8 355.2 1107.6 352.2 1101.2 353.7 1093.4 351 1087.7 354.9 1083.7 351.1 1079 353.1 1053 359.9 1121.2 358.9 1123.1 358 1117.6 357.1 1113.4 356.5 1104.5 356.5 1099.7 356.6 1096.7 359.2 1087.7 358.3 1082.2 360.4 1074.7 365.4 1120.9 363.1 1117.3 361.7 1112.7 363.4 1108.8 362.3 1100.1 365.3 1095 361.8 1082.6 362.5 1079.1 366 1073.8 370.9 1120.6 368.6 1117.7 366.9 1109.9 370 1110.4 368.9 1108.7 368.9 1101.4 370.5 1089.8 366.5 1086.7 367.6 1080.3 370.5 1075.4 367.7 1064.9 371.7 1119.6 371.1 1116.4 374.2 1109.2 372.2 1110.7 373.9 1106.8 373.7 1101.8 371.6 1094.9 373.5 1088.3 371.8 1083.3 375.8 1075.7 373.8 1070.9 378.3 1121.1 376.4 1115.5 376.6 1110.4 379.1 1106.9 377.4 1104 376.2 1098.7 376.3 1091.3 377 1085.8 377 1076.5 378.2 1060.4 384 1119.1 383.4 1116.2 381.9 1113.6 382.2 1104 383.9 1098.3 382.4 1091.9 382.7 1086.9 384.9 1081.2 381.9 1077 384.3 1073.6 386.6 1120.2 386.7 1113.8 386.7 1112.2 386.6 1107.3 389.9 1094 387.5 1086.8 386.1 1081 390.4 1075.3 389.1 1072.7 395.9 1118.6 391.1 1116.8 391.9 1110.7 394.9 1104.5 391.5 1101.5 394.3 1098.3 394.1 1090.3 395.6 1077 393.3 1068.8 392.1 1066.8 392.6 1061.6 398.6 1119.7 398.9 1116.1 398.1 1116.3 397.6 1110.9 398.6 1106.1 396.1 1100.1 399.5 1096.9 398.7 1089.8 397.2 1075.3 405.2 1118.9 404.2 1114.9 404.7 1109.8 401.8 1105.8 404 1091 401.4 1084.4 401.2 1079.5 405 1073.5 401.1 1070.2 403.3 1063.3 406.1 1117.5 410.9 1117.4 407.6 1113.7 410.2 1107.7 406.2 1105.7 409.9 1099.9 410.8 1097.3 406 1092.3 410.4 1071.5 412.5 1120.1 411.2 1114.1 413.4 1107.3 412.7 1101.8 415.3 1092 411.3 1088.5 413 1083.5 413.2 1074.2 412.8 1058.5 412.9 1055.4 417.2 1117.1 416.6 1117.4 417 1115.5 419.1 1109.5 416 1104.1 417.2 1094.4 416.2 1091 418.6 1081.6 417.8 1079.8 416.9 1073.6 417.6 1069.7 421.8 1117.4 421.8 1112.7 424.9 1110.1 422.3 1098.3 423.2 1092.9 422.8 1085.3 424.6 1072.3 422.6 1055.5 424.2 1038.4 428.3 1116.1 428.6 1114.6 430.3 1112.2 427.3 1110 429 1101.2 428.7 1099.4 429.6 1091.5 430.6 1090.9 426.4 1083.6 429.4 1079.4 430.7 1073.8 427.4 1070.6 429.6 1063.5 430.4 1060.2 432.3 1115.8 434.5 1111.7 434.2 1109.3 431.3 1103.5 434.1 1099.4 431.2 1090.9 434.2 1080.2 434.9 1073.9 439 1115.8 436.8 1110.1 437.6 1111.1 437.2 1103.8 437.4 1102.8 438.1 1100.8 437.4 1089.9 437.3 1083.8 439.5 1081.5 440.1 1075.3 437.5 1063.7 439.1 1048.2 442.9 1112.9 442.1 1113.3 443.5 1106.6 444.1 1103.5 443 1105.3 445.1 1095.7 444.6 1094.2 442.6 1086.3 441.9 1082.2 445.7 1077.2 445 1045.4 448.8 1111.1 447.4 1104.9 447.9 1103.5 447.4 1102.4 449.7 1098.1 449.9 1092.5 449 1086.9 449.8 1079.1 449.8 1075.1 449.8 1066 447.6 1055.4 451.2 1106.5 451.2 1102.7 455.8 1098.7 452.3 1092 453.1 1086.5 451.7 1082.9 455.1 1080.2 455.6 1062.2 451.2 1061.1 452.6 1048 460.3 1107 457.8 1106.6 458.6 1102.5 458.4 1097.8 456.5 1086.5 456.6 1078.8 457.5 1073.1 456.8 1072.5 456.9 1066.9 456.9 1058.4 456.7 1056.9 456.4 1047.6 456.7 1025.1 461.4 1099.3 465.6 1093.8 461 1091.2 462.2 1085.1 463 1076.1 463 1070.7 464.8 1067.3 462.7 1054.6 464.1 1046.7 468.5 1095.9 470.4 1096.2 469.6 1089.7 468.5 1087.9 467.4 1084 466.7 1076.9 469.4 1069.9 470.3 1065.5 468.4 1059.8 466.3 1056.9 469.9 1047.9 468 988.2 472.2 1093.2 473.6 1087.3 473.1 1085.1 474.5 1076.6 474.6 1070.7 475 1055.3 475.5 1050.8 473.7 1046.4 475.8 1044 473.3 1038.4 477.2 1091 478.9 1084.3 477.6 1086.6 478.3 1080.6 477.2 1076.3 479.4 1070.1 480.6 1060.6 476.7 1050.5 480.2 1043.9 477 1041.1 485.6 1087.8 481.6 1080.2 482.2 1081.1 484.2 1076.7 484.1 1069.4 482.8 1065 483.8 1062.3 484.7 1057.6 481.3 1046.5 485.5 1036.1 488.1 1079.9 488.2 1077.8 486.2 1079.7 487.6 1069.9 490.9 1067.8 486 1063.5 488.4 1055.3 488 1051.1 488.4 1048 486.7 1044.1 486.9 1039.6 489 1026.2 492.8 1081.5 494.8 1074.6 493.6 1072.6 494.9 1067.9 493.3 1062 495.4 1054.4 495.7 1052.6 495.6 1046.2 492.9 1039.5 493.5 1037.6 494.5 1029.5 499.8 1080.9 498.1 1078.6 499.6 1072.7 497 1070.8 499.7 1058.4 500.8 1051.3 497.1 1033.9 496.1 1028.8 499.9 1016.9 502 1079.9 503.1 1071.5 503.4 1073 503.4 1066.5 505.9 1067.1 503.5 1064.2 503.7 1054.8 502.2 1046.8 505.8 1044.8 509.6 1077.8 509 1070.7 507.8 1066.2 510.4 1058.7 508.9 1051.7 507.8 1049.1 507.7 1040.6 510.4 1031 509.4 1020.7 513.5 1078.5 511.2 1073.2 515.8 1073.4 515.8 1068.4 514.9 1064.9 515.2 1056.3 514.9 1044.3 515.9 1043.1 513.6 1037 515 1028.7 511.7 1026.3 512.4 1001 520.5 1077.3 520.4 1069.5 519.7 1066.1 518.1 1058.4 516.3 1052.9 517.9 1043 517.1 1037.7 520.4 1030.5 517.3 1012.7 521.9 1072.9 522.8 1068 523.7 1064.2 525 1059.7 525.4 1054.2 523 1047.9 522 1042.1 523.9 1037.3 521.7 1034.9 521.6 1030.5 522.3 1023.1 527.2 1072.1 530.3 1067.8 530.3 1062.2 527.6 1062.1 527.2 1059.2 526.2 1053.6 528.8 1048.5 527.8 1041.6 530.1 1037.2 529.5 1032.5 532.7 1069.2 531.1 1065.5 531.9 1060.9 533.1 1054.9 534 1050 532.2 1037.4 534.8 1032.2 533.3 1022.7 540.9 1068.8 540.2 1061.8 537.3 1057.7 539.2 1043.6 538.4 1037.2 536.7 1035.4 537.7 1030.1 539 1024.3 543.3 1063.5 543.7 1060.1 544.4 1056.8 544.5 1058.6 542.7 1051.7 543.5 1045.2 544.4 1041.4 541.1 1036.9 542.2 1033.1 542.3 1027.7 544.5 1014.2 541.4 1005.1 550.1 1054.6 549.9 1052.7 550.5 1050.4 549.3 1042.6 547.2 1038 546.1 1035.2 547.8 1027.3 548.1 1023.9 550.6 1018 549.4 1015.5 549.4 1006.6 550.8 1001.3 554.3 1047.2 552.2 1043.9 552.7 1040.8 554 1033.9 552.3 1023.7 553 1018.6 551.2 1016.9 555.3 1009.7 551.1 1003.2 551.9 992.9 557.9 1049.6 557.4 1043.7 560.8 1037 559.6 1039.4 558.8 1035.4 558.8 1030.8 556.8 1022.5 557.2 1021.8 557.5 1015.4 557.7 1006.5 564.1 1065.9 561.8 1062.5 563 1060.8 562.7 1057.6 561.5 1048.9 561.1 1038.1 561.8 1033 562.5 1026.3 561.2 1020.5 568.8 1070.3 568 1064.1 568.5 1062.5 570.3 1048.8 570.7 1046.6 569.2 1037 568.6 1030.9 570.9 1023.7 572 1076.1 575.4 1078.4 571.3 1070.9 571.6 1067.1 575.8 1059.6 576 1055.2 573.2 1053 571.1 1046.2 571.5 1043.2 573.9 1034 571 1033.3 580.7 1073.1 580.4 1068.2 577.2 1064 578.5 1063.8 578.9 1058.8 580.5 1052.8 579.3 1050.6 579.3 1042.1 579.6 1039.1 577.5 1033.8 577.9 1026.8 576.3 1020.4 584.5 1066.3 582.7 1066.7 582 1060.7 582.5 1055.6 584 1053.2 582.7 1045.5 585.9 1033.9 582.6 1028.6 584.9 1019.7 589.5 1061.6 586 1052.6 586.5 1052 589.1 1045 588.2 1038.4 590.4 1036.8 588.8 1025.9 587.6 1021.7 587.9 1013.5 595.8 1056.9 592.6 1056.4 595.5 1053.6 592.5 1048.5 594.5 1040.9 592.2 1034 592 1024 593.9 1011.8 594.7 1005.4 591.2 980.4 597.2 1059.2 601 1051.5 600.5 1048.3 600.9 1044.5 599.1 1036.7 599.3 1035.1 598.4 1028.2 600.1 1024.2 596.5 1020.2 600.5 1015 600.7 1007.8 601.1 1059.4 604.2 1057.7 606 1050.3 601.2 1049.2 604.8 1044.7 602.1 1036.5 604.4 1030.6 603.2 1028.3 602 1022.8 602.8 1019.4 603.8 1013.5 604.4 1007.5 605.5 1004.6 610.6 1055.6 606.7 1055.1 608.7 1048.3 610.1 1044.3 610.9 1040.2 609.8 1033.6 610.5 1029.8 609 1024.6 607.1 1016.2 612.8 1059.3 615.9 1059.7 614.4 1051.9 615.8 1048.2 612.7 1050.2 615.7 1043.2 613.9 1040 613.4 1030.2 611.5 1024.4 611.8 1012.8 612.7 1008.4 621 1058.5 618.3 1057.9 616.8 1055.4 616.6 1051 620.5 1043.7 619.3 1040.4 617 1035.5 619.7 1027.8 620.6 1024.5 616.9 1019.6 618.2 1014.3 621 1082.7 624.5 1082.5 624.6 1074.8 622.7 1072.2 625.2 1068.3 622.5 1060.5 622.8 1054.2 621.7 1051.1 624.9 1042.6 625.8 1038.2 622.2 998.4 630.7 1092.7 628.4 1093.5 628.2 1087.8 626.5 1088.1 627.6 1084.9 629 1084.9 627.9 1082.1 628.9 1073.3 629.7 1072 626.9 1066.8 626.7 1054.2 629.6 1047.6 629 1043 626.7 1033.7 627 1003.2 631.5 1102.1 635.8 1095.4 633.4 1096 632.5 1091.2 633.4 1080.6 632 1071.2 634.1 1059.4 632.6 1041 632.3 1025.2 635.5 1023.6 635.2 995.5 640.7 1107.8 639.3 1109.5 638.9 1104 638.2 1099.2 637.7 1094.2 638.4 1091.6 636.2 1082.6 636.4 1081.1 640.1 1074.8 637.1 1068.1 636.7 1063 636.7 1055.4 638.7 1049.4 639.2 1034 639 994.1 642.7 1111.4 645.9 1105.8 643.5 1102.1 643.1 1098 645 1091.1 643.5 1087.9 643.6 1080.9 642.3 1075.3 643.6 1059.8 642.6 1056.8 646.5 1107.8 649.6 1103.1 649.9 1100.7 647.3 1094.3 649.1 1082.7 647.1 1073.6 647.3 1066.8 646.2 1059.4 655.7 1107.4 653.4 1102.2 655.2 1098 651.4 1101.6 651.4 1095.1 655.7 1087.1 651.5 1084.9 651.6 1080.5 651.5 1058.8 653.8 1036.5 652 1031 660.4 1106.7 659.2 1101.1 660.8 1100.7 660.6 1089.6 657.7 1076.8 657.1 1075.6 656.7 1069.2 656.5 1063.6 659.1 1055.9 663.9 1107 662.9 1103.9 665.3 1098.1 661.3 1099 664.1 1090.3 665.8 1083.5 661.2 1075.1 665 1043.5 664.9 1037.7 662.4 1016.7 666.9 1112.5 666.4 1105.5 667.7 1101.1 670.5 1094.7 668.8 1085.2 666.1 1078 666.2 1077.3 669 1059 667.8 1054.4 674.6 1109.4 672.7 1108.3 675.1 1102.4 672.6 1085.4 672.7 1081.9 675.5 1078.9 673.9 1067.4 680.6 1115.2 680.8 1111.6 678.4 1109.3 678 1106.6 679.3 1102 678.5 1097.4 679.6 1094.2 679.8 1086 676.3 1085.4 679.7 1078.5 680.4 1073.4 677.7 1064.6 678.8 1060.2 678.8 1040.8 684 1115.9 683.9 1112 681.7 1111.5 685.1 1104 684.1 1106.2 681.4 1096.1 686 1087 683.9 1086.4 684.6 1081.7 685.2 1070.8 689.3 1113.3 687.4 1111.4 686.6 1104.6 686.3 1107.9 688.4 1098.3 688.9 1097.4 690.8 1084.4 686.8 1079.4 688.6 1075.6 686.3 1072.7 688.2 1064.7 687.5 1053.1 687 1052.6 693.5 1118.3 692.1 1113 692.4 1105.5 692.4 1100.8 695.9 1093.2 694.3 1083.6 695.8 1077.9 693.2 1072.5 700.6 1120 697.2 1120.3 697.3 1114.2 699.8 1106.7 696.7 1102.8 699.6 1091.1 700.7 1088.5 700.6 1082 697.6 1077.8 699.1 1073.4 696.1 1067.3 697.1 1065.2 698.2 1053.7 704.6 1119.5 703.4 1112.7 703.7 1108.9 704.3 1098.4 701.1 1092.9 702.3 1087.1 703.3 1081.2 702.2 1079.1 706.5 1117.5 708.6 1114.9 706.4 1109.3 707.7 1106.7 710.5 1104.4 708.1 1094.2 709.3 1086.6 706.1 1080.5 707.2 1062 706.9 1054.4 714.2 1118.5 711.2 1113.9 715.2 1107.7 712.6 1101.9 711.7 1100.5 713.3 1094.9 712.5 1089.9 712.1 1082.1 711.7 1079.2 712.7 1071.8 712 1067.7 712.1 1061.3 715.2 1054.2 716 1120.7 718.6 1117.6 720.3 1113.5 720.1 1108.5 716 1103.7 717.4 1095.8 719.9 1090.4 716.2 1081.2 717.6 1071.6 717.8 1069.1 720.8 1052.5 724 1120.4 724 1115.1 721.8 1115.1 722.4 1107.9 724.1 1097.9 723.7 1091.3 722.2 1089.5 724.9 1084.6 725.7 1079 730.6 1120.4 727.3 1114.7 726.7 1113.7 729.8 1109.2 728.7 1102.6 727.5 1097.4 729.5 1091.9 726.2 1073.5 726.4 1061.2 726.7 1030.6 735.7 1120.1 733.2 1113.1 735.6 1109.5 733.6 1110.5 733 1105.3 733.8 1098.7 732.1 1091.8 734.3 1088.8 733.3 1080.9 733.9 1073 737.7 1117.9 739.1 1113.3 737.8 1112 739.4 1109.5 740.9 1105 738.4 1101.8 737.2 1098.6 740.4 1082.2 736.7 1071 737.4 1051.6 736.7 1047.2 743.1 1115.4 744.2 1112.7 741.4 1104.7 741.3 1104.6 742.2 1102.3 743.3 1097.7 744.9 1092.1 743.8 1083.6 742.4 1082.4 742.7 1070.5 741.3 1062 749.7 1115.7 748.4 1111.9 750.5 1102.9 749.7 1102.7 747.1 1100.3 750.9 1094.3 746.9 1091.1 746.6 1086.9 750.5 1072.4 749.9 1062.5 746.6 1062.3 746.2 1051.7 752.5 1116.4 752.3 1114.2 751.7 1107.6 753.5 1104.5 754.6 1103.3 752.9 1100.6 751.5 1097 752.7 1087.5 755.3 1081.5 751.4 1065 755.7 1055 757 1112.7 757.6 1110.7 756 1103.1 757.1 1104.1 759.2 1100.6 756.9 1093.2 757.6 1090 760.6 1085.8 759.7 1081.3 758.7 1075.1 757.9 1063 756.8 1053.6 762.6 1112.8 762.4 1114.2 763.6 1109.2 764.2 1107.2 763.7 1102.2 765.4 1094.5 765.9 1091.2 765.6 1083.7 764.6 1078.6 761.9 1075.6 761 1069.8 762.2 1046.7 768.6 1115.8 770.5 1117.3 766.3 1107.8 766.4 1105.4 767.1 1096.5 766.1 1089.8 767.7 1082.9 767.3 1078.1 768.6 1067.6 768.7 1066.2 769.6 1059.5 766.7 1054.4 766.5 1045.6 769.5 1036.4 774.8 1114.5 775.4 1113.4 771.2 1110 772.4 1106.5 773.7 1107.2 773.6 1101 775.9 1097 772.5 1091.7 773.2 1086.1 771.8 1081.7 773 1073 773 1072.4 775.1 1063.2 772.4 1059.7 776.8 1117 781 1109.2 780.7 1110.1 779.8 1103.7 780.4 1101.9 776.6 1093.2 779.9 1088.3 776.3 1081.4 776.6 1075.6 777.5 1069.7 780.6 1060.8 777.4 1057.1 778.2 1052.4 782.2 1114.6 783.8 1109.8 781.2 1107.1 783.2 1098.8 785.3 1093.7 784.4 1091.6 785.4 1084.9 782.3 1077.8 784.3 1065.1 785.3 1043.3 786.7 1116.4 790.1 1108.9 789.9 1102.9 786.8 1098.7 789.1 1097.1 788.3 1088.7 790.2 1087.4 786.5 1080.2 789.6 1069.1 788 1066.7 788.6 1061.8 786.7 1052.9 791.2 1119.4 795.5 1110.9 794.3 1110 791.3 1107.7 793.9 1103.5 793.1 1097.6 792.5 1087.9 791.9 1082 792.8 1073.2 791.9 1059.7 795.5 1050.9 800.7 1121.4 796.7 1122.3 799.7 1114 796.2 1116.6 799.8 1112.9 800.5 1106.1 797.5 1101.3 800.8 1096.1 799.5 1089.1 799.3 1074 799.8 1072 805.2 1120.6 801.1 1122.6 805.8 1115.2 803.9 1112 804.5 1106.3 805.5 1099.3 804.3 1095.7 802.9 1084.4 805.2 1084 805.2 1074.3 801.1 1073.7 801.3 1059.2 807.5 1119.3 807.9 1115.6 810.8 1111.9 810.5 1106.8 808.8 1101.8 809.3 1095.9 810.8 1090.2 808.4 1086.9 809.2 1082.4 808.4 1077.7 810.3 1070.3 812.5 1122.4 815.1 1115.1 811.2 1110.4 815.8 1112.8 814.2 1106.3 812 1104.1 815.9 1097.6 812.9 1090.8 814.2 1088.7 818.7 1122.4 820.4 1119.1 820.1 1114.8 819.4 1112.7 818.9 1112.2 819.6 1109.2 817.7 1099.8 818.8 1098.6 818.8 1091.4 820 1088.7 818 1078.2 822.3 1123.3 821.6 1114.5 821.7 1109.4 821.1 1112.3 824.3 1104.6 821.5 1100.1 821.6 1096.8 824.5 1089.6 823.2 1085.1 821.8 1080.9 831 1123.3 826.4 1123.6 829.3 1115.6 830.8 1115.8 830.6 1113 830 1106.3 830.3 1103.2 830.1 1097.4 826.8 1091.4 829.5 1082.3 829.1 1056.7 831.9 1123.7 834.4 1121.3 831.6 1116.5 831.2 1115.9 831.5 1110.2 835.3 1106.9 832.3 1103 831.2 1095.1 833.7 1090.9 831.7 1084.4 833.8 1080.5 839.7 1120.5 836.8 1121 837.8 1118.3 839.9 1114.1 837 1102.6 836.5 1097.3 839.1 1089.4 837.7 1086.7 837.3 1083.4 836.7 1074.9 841.7 1122.5 845.5 1117.8 844.9 1110.3 844 1107.9 843.7 1094.7 845.9 1089.1 843.9 1082.7 846.4 1119.9 847.2 1116.2 849.9 1119 849.8 1111.8 847.1 1109 846.7 1103.2 848.2 1097.2 849.6 1093.4 852.1 1121.8 855 1119.1 852.7 1113.4 851.7 1105.6 855.2 1103.8 854.4 1097.1 853 1088.3 854 1080.1 858.6 1122.1 857.1 1106.2 859 1101.2 859.7 1095.2 856.3 1092.1 856.6 1084.3 859.9 1083.3 143.8 967.5 145 1036.2 183.2 1018.8 207 1045 210 1056.2 230 1003.8 230 1037.5 228.8 1048.8 319.2 1043.8 322.5 1056.2 303.8 1067.5 291.2 1075 273.8 1072.5 374 1022 384 1014 397 1011 397 1033 408 1026 415 1020 420 1031 421 1044 436 1027 446 1030 452 1007 398 1046 404 1048 364 1054 343 1063 757.6 1005 752 1016 765 1017 735 1018 737 1024 740 1030 746 1030 752 1032 758 1034 764 1035 770 1035 776 1035 782 1034 789 1036 789 1025 783 1050 738 1051 750 1053 761 1053 814 1049 822 1059 806 1066 846 1083 835 1073 695 1028 682 1039 373.8 1021.2 383.8 1015 396.2 1010 396.2 1032.5 413.8 1020 415 1027.5 420 1042.5 430 1032.5 437.5 1025 446.2 1030 451.2 1006.2 398.8 1046.2 365 1053.8 487.5 1022.5 555 990 550 1000 560 1000 543.8 997.5"/>
<path d="M170 1099l3 2l1 7l-3 6l-3-5zM197 1107l3 2l-1 5l-3 0z" fill="#fff"/>
<path d="M480.3 696.8V731.8" stroke="#000" stroke-width="2.8"/>
</g>
<g stroke="#000" stroke-width="3" fill="none" stroke-linecap="butt">
<path d="M106 41.8V515.6"/>
<path d="M86.3 514.1H106"/>
<path d="M86.3 446.8H106"/>
<path d="M86.3 379.6H106"/>
<path d="M86.3 312.3H106"/>
<path d="M86.3 245.1H106"/>
<path d="M86.3 177.8H106"/>
<path d="M86.3 110.6H106"/>
<path d="M86.3 43.3H106"/>
<path d="M104.5 514.1H856.2"/>
<path d="M132.0 514.1V526.6"/>
<path d="M196.6 514.1V526.6"/>
<path d="M261.2 514.1V533.6"/>
<path d="M325.9 514.1V526.6"/>
<path d="M390.5 514.1V526.6"/>
<path d="M455.1 514.1V526.6"/>
<path d="M519.7 514.1V533.6"/>
<path d="M584.4 514.1V526.6"/>
<path d="M649.0 514.1V526.6"/>
<path d="M713.6 514.1V526.6"/>
<path d="M778.2 514.1V533.6"/>
<path d="M842.9 514.1V526.6"/>
<path d="M854.7 41.8V515.6"/>
<path d="M854.7 514.1H873.8"/>
<path d="M854.7 419.9H873.8"/>
<path d="M854.7 325.8H873.8"/>
<path d="M854.7 231.6H873.8"/>
<path d="M854.7 137.5H873.8"/>
<path d="M854.7 43.3H873.8"/>
</g>
<text x="77.3" y="525.5" font-size="30.7" text-anchor="end">0</text>
<text x="77.3" y="458.2" font-size="30.7" text-anchor="end">2</text>
<text x="77.3" y="391.0" font-size="30.7" text-anchor="end">4</text>
<text x="77.3" y="323.7" font-size="30.7" text-anchor="end">6</text>
<text x="77.3" y="256.5" font-size="30.7" text-anchor="end">8</text>
<text x="77.3" y="189.2" font-size="30.7" text-anchor="end">10</text>
<text x="77.3" y="122.0" font-size="30.7" text-anchor="end">12</text>
<text x="77.3" y="54.7" font-size="30.7" text-anchor="end">14</text>
<text x="260.6" y="562.8" font-size="30.7" text-anchor="middle">32.50</text>
<text x="519.2" y="562.8" font-size="30.7" text-anchor="middle">32.60</text>
<text x="777.7" y="562.8" font-size="30.7" text-anchor="middle">32.70</text>
<text x="481" y="598.8" font-size="30.7" text-anchor="middle">Position (Mb)</text>
<text transform="translate(21.8 380.5) rotate(-90)" font-size="30.7">−log<tspan font-size="18" dy="10">10</tspan><tspan dy="-10" letter-spacing="0.4">(P-value)</tspan></text>
<text x="946.4" y="525.6" font-size="30.7" text-anchor="end">0.0</text>
<text x="946.4" y="431.4" font-size="30.7" text-anchor="end">5.2</text>
<text x="946.4" y="337.3" font-size="30.7" text-anchor="end">10.4</text>
<text x="946.4" y="243.1" font-size="30.7" text-anchor="end">15.6</text>
<text x="946.4" y="149.0" font-size="30.7" text-anchor="end">20.8</text>
<text x="946.4" y="54.8" font-size="30.7" text-anchor="end">26.0</text>
<text transform="translate(994.2 470.9) rotate(-90)" font-size="30.9">Combined rec. rate (cM/Mb)</text>
<g stroke="#000" stroke-width="3" fill="none" stroke-linecap="butt">
<path d="M106 651.9V1125.7"/>
<path d="M86.3 1124.2H106"/>
<path d="M86.3 1056.9H106"/>
<path d="M86.3 989.7H106"/>
<path d="M86.3 922.4H106"/>
<path d="M86.3 855.2H106"/>
<path d="M86.3 787.9H106"/>
<path d="M86.3 720.7H106"/>
<path d="M86.3 653.4H106"/>
<path d="M104.5 1124.2H856.2"/>
<path d="M132.0 1124.2V1136.7"/>
<path d="M196.6 1124.2V1136.7"/>
<path d="M261.2 1124.2V1143.7"/>
<path d="M325.9 1124.2V1136.7"/>
<path d="M390.5 1124.2V1136.7"/>
<path d="M455.1 1124.2V1136.7"/>
<path d="M519.7 1124.2V1143.7"/>
<path d="M584.4 1124.2V1136.7"/>
<path d="M649.0 1124.2V1136.7"/>
<path d="M713.6 1124.2V1136.7"/>
<path d="M778.2 1124.2V1143.7"/>
<path d="M842.9 1124.2V1136.7"/>
</g>
<text x="77.3" y="1135.6" font-size="30.7" text-anchor="end">0</text>
<text x="77.3" y="1068.3" font-size="30.7" text-anchor="end">2</text>
<text x="77.3" y="1001.1" font-size="30.7" text-anchor="end">4</text>
<text x="77.3" y="933.8" font-size="30.7" text-anchor="end">6</text>
<text x="77.3" y="866.6" font-size="30.7" text-anchor="end">8</text>
<text x="77.3" y="799.3" font-size="30.7" text-anchor="end">10</text>
<text x="77.3" y="732.1" font-size="30.7" text-anchor="end">12</text>
<text x="77.3" y="664.8" font-size="30.7" text-anchor="end">14</text>
<text x="260.6" y="1172.9" font-size="30.7" text-anchor="middle">32.50</text>
<text x="519.2" y="1172.9" font-size="30.7" text-anchor="middle">32.60</text>
<text x="777.7" y="1172.9" font-size="30.7" text-anchor="middle">32.70</text>
<text x="481" y="1208.9" font-size="30.7" text-anchor="middle">Position (Mb)</text>
<text transform="translate(21.8 990.6) rotate(-90)" font-size="30.7">−log<tspan font-size="18" dy="10">10</tspan><tspan dy="-10" letter-spacing="0.4">(P-value)</tspan></text>
<text x="9.5" y="25.2" font-size="45" font-weight="bold">a</text>
<text x="9" y="634.6" font-size="46" font-weight="bold">b</text>
<rect x="143.2" y="214.66" width="22.5" height="7.65" fill="#4b00ff"/>
<rect x="143.2" y="207.41" width="22.5" height="7.65" fill="#2800ff"/>
<rect x="143.2" y="200.17" width="22.5" height="7.65" fill="#0800ff"/>
<rect x="143.2" y="192.92" width="22.5" height="7.65" fill="#0030ff"/>
<rect x="143.2" y="185.68" width="22.5" height="7.65" fill="#0064ff"/>
<rect x="143.2" y="178.43" width="22.5" height="7.65" fill="#0090ff"/>
<rect x="143.2" y="171.19" width="22.5" height="7.65" fill="#00bcff"/>
<rect x="143.2" y="163.94" width="22.5" height="7.65" fill="#00e8ff"/>
<rect x="143.2" y="156.69" width="22.5" height="7.65" fill="#00e650"/>
<rect x="143.2" y="149.45" width="22.5" height="7.65" fill="#00ea2a"/>
<rect x="143.2" y="142.20" width="22.5" height="7.65" fill="#1cf000"/>
<rect x="143.2" y="134.96" width="22.5" height="7.65" fill="#58f000"/>
<rect x="143.2" y="127.72" width="22.5" height="7.65" fill="#98f400"/>
<rect x="143.2" y="120.47" width="22.5" height="7.65" fill="#d0fa00"/>
<rect x="143.2" y="113.23" width="22.5" height="7.65" fill="#ffff00"/>
<rect x="143.2" y="105.98" width="22.5" height="7.65" fill="#ffee14"/>
<rect x="143.2" y="98.73" width="22.5" height="7.65" fill="#ffe030"/>
<rect x="143.2" y="91.49" width="22.5" height="7.65" fill="#ffd55a"/>
<rect x="143.2" y="84.25" width="22.5" height="7.65" fill="#ffd080"/>
<rect x="143.2" y="77.00" width="22.5" height="7.65" fill="#fdd9a8"/>
<path d="M165.7 219.6H173" stroke="#000" stroke-width="2.4"/>
<text x="175.3" y="227.6" font-size="22.3">0.0</text>
<path d="M165.7 191.3H173" stroke="#000" stroke-width="2.4"/>
<text x="175.3" y="199.3" font-size="22.3">0.2</text>
<path d="M165.7 163.1H173" stroke="#000" stroke-width="2.4"/>
<text x="175.3" y="171.1" font-size="22.3">0.4</text>
<path d="M165.7 134.8H173" stroke="#000" stroke-width="2.4"/>
<text x="175.3" y="142.8" font-size="22.3">0.6</text>
<path d="M165.7 106.6H173" stroke="#000" stroke-width="2.4"/>
<text x="175.3" y="114.6" font-size="22.3">0.8</text>
<text x="143.6" y="72.8" font-size="30.7">r<tspan font-size="21.5" dy="-15">2</tspan></text>
<text x="479.6" y="86.7" font-size="30.7" text-anchor="middle">rs28359884</text>
<text x="479.6" y="696.8" font-size="30.7" text-anchor="middle">rs28359884</text>
<text x="240.2" y="1253.3" font-size="15.5" text-anchor="middle">HLA−DRB5</text>
<path d="M256.7 1263.1H223.0M235.4 1256.3L223.0 1263.1L235.4 1269.8999999999999" fill="none" stroke="#000" stroke-width="8.6" stroke-linecap="round" stroke-linejoin="round"/>
<text x="363.0" y="1371.7" font-size="15.5" text-anchor="middle">HLA−DRB1</text>
<path d="M409.7 1381.5H315.6M328.0 1374.7L315.6 1381.5L328.0 1388.3" fill="none" stroke="#000" stroke-width="8.6" stroke-linecap="round" stroke-linejoin="round"/>
<text x="541.9" y="1253.3" font-size="15.5" text-anchor="middle">HLA−DQA1</text>
<path d="M534.3 1263.1H550.7M538.3000000000001 1256.3L550.7 1263.1L538.3000000000001 1269.8999999999999" fill="none" stroke="#000" stroke-width="8.6" stroke-linecap="round" stroke-linejoin="round"/>
<text x="602.4" y="1371.7" font-size="15.5" text-anchor="middle">HLA−DQB1</text>
<path d="M614.4 1381.5H591.5M603.9 1374.7L591.5 1381.5L603.9 1388.3" fill="none" stroke="#000" stroke-width="8.6" stroke-linecap="round" stroke-linejoin="round"/>
<text x="811.4" y="1253.3" font-size="15.5" text-anchor="middle">HLA−DQA2</text>
<path d="M803.6 1263.1H818.8M806.4 1256.3L818.8 1263.1L806.4 1269.8999999999999" fill="none" stroke="#000" stroke-width="8.6" stroke-linecap="round" stroke-linejoin="round"/>
<text x="848.2" y="1371.7" font-size="15.5" text-anchor="middle">HLA−DQB2</text>
<path d="M854.0 1381.5H842.2M854.6 1374.7L842.2 1381.5L854.6 1388.3" fill="none" stroke="#000" stroke-width="8.6" stroke-linecap="round" stroke-linejoin="round"/>
</svg></body></html>
